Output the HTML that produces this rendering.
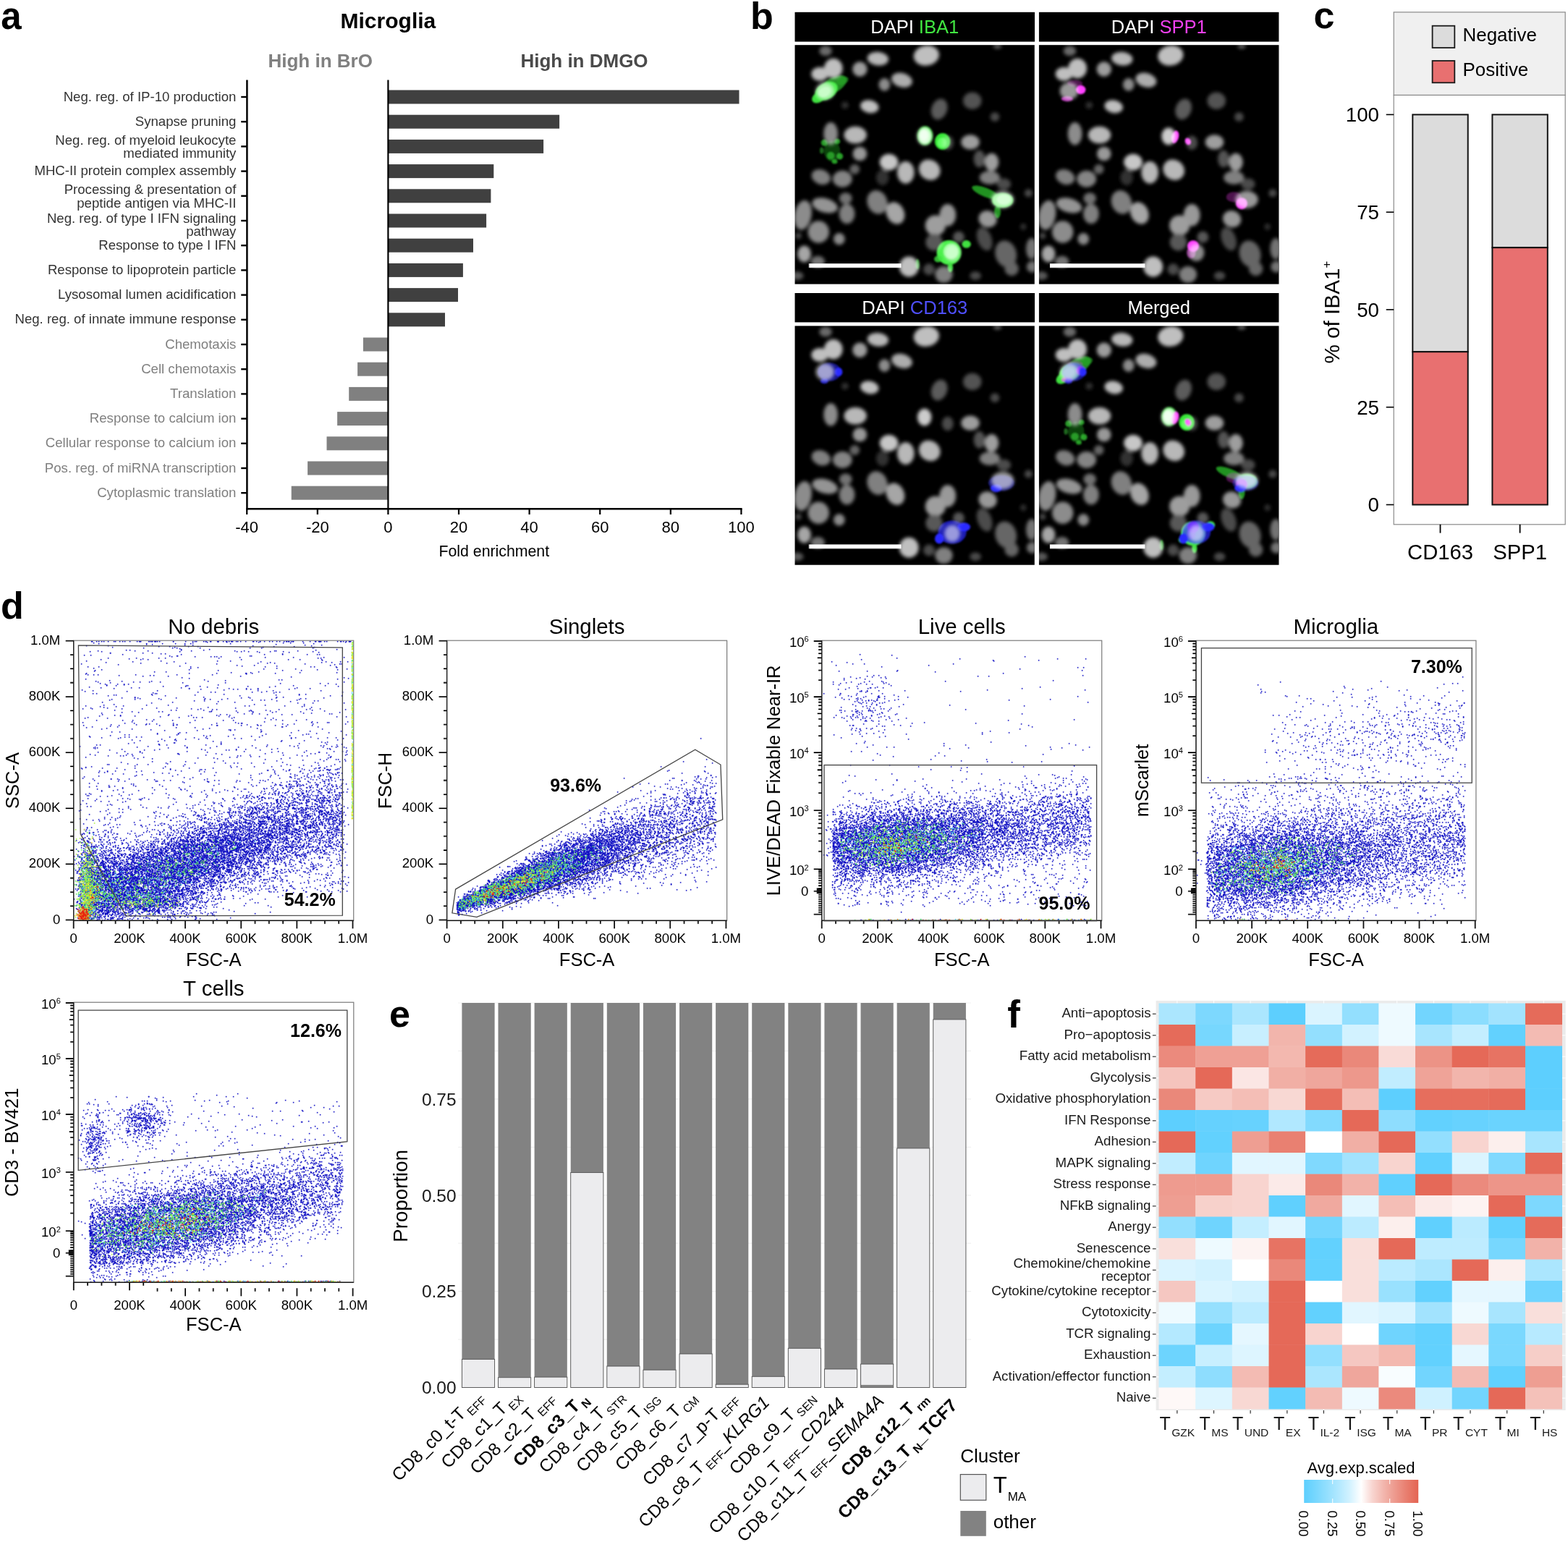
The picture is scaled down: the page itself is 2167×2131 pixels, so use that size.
<!DOCTYPE html>
<html><head><meta charset="utf-8"><title>Figure</title>
<style>html,body{margin:0;padding:0;background:#fff;}svg{display:block;}
text{font-family:'Liberation Sans', Arial, Helvetica, sans-serif;}</style></head>
<body><svg width="2167" height="2131" viewBox="0 0 2167 2131">
<rect width="2167" height="2131" fill="#fff"/>
<text x="1.3" y="40.4" font-size="51" font-weight="bold">a</text>
<text x="1037" y="40" font-size="52" font-weight="bold">b</text>
<text x="1815.5" y="38.7" font-size="52" font-weight="bold">c</text>
<text x="1" y="854.9" font-size="52" font-weight="bold">d</text>
<text x="538" y="1418.6" font-size="52" font-weight="bold">e</text>
<text x="1392.3" y="1419.5" font-size="53" font-weight="bold">f</text>
<g><rect x="536.4" y="124.5" width="485.1" height="19" fill="#404040"/>
<text x="326.4" y="139.6" font-size="18.6" text-anchor="end" fill="#333333">Neg. reg. of IP-10 production</text>
<line x1="333.2" y1="134" x2="341.4" y2="134" stroke="#000" stroke-width="2.4"/>
<rect x="536.4" y="158.7" width="236.7" height="19" fill="#404040"/>
<text x="326.4" y="173.8" font-size="18.6" text-anchor="end" fill="#333333">Synapse pruning</text>
<line x1="333.2" y1="168.2" x2="341.4" y2="168.2" stroke="#000" stroke-width="2.4"/>
<rect x="536.4" y="192.9" width="214.7" height="19" fill="#404040"/>
<text x="326.4" y="199.6" font-size="18.6" text-anchor="end" fill="#333333">Neg. reg. of myeloid leukocyte</text>
<text x="326.4" y="218.2" font-size="18.6" text-anchor="end" fill="#333333">mediated immunity</text>
<line x1="333.2" y1="202.4" x2="341.4" y2="202.4" stroke="#000" stroke-width="2.4"/>
<rect x="536.4" y="227.1" width="145.9" height="19" fill="#404040"/>
<text x="326.4" y="242.2" font-size="18.6" text-anchor="end" fill="#333333">MHC-II protein complex assembly</text>
<line x1="333.2" y1="236.6" x2="341.4" y2="236.6" stroke="#000" stroke-width="2.4"/>
<rect x="536.4" y="261.3" width="142" height="19" fill="#404040"/>
<text x="326.4" y="268" font-size="18.6" text-anchor="end" fill="#333333">Processing &amp; presentation of</text>
<text x="326.4" y="286.6" font-size="18.6" text-anchor="end" fill="#333333">peptide antigen via MHC-II</text>
<line x1="333.2" y1="270.8" x2="341.4" y2="270.8" stroke="#000" stroke-width="2.4"/>
<rect x="536.4" y="295.5" width="135.7" height="19" fill="#404040"/>
<text x="326.4" y="307.8" font-size="18.6" text-anchor="end" fill="#333333">Neg. reg. of type I IFN signaling</text>
<text x="326.4" y="326.4" font-size="18.6" text-anchor="end" fill="#333333">pathway</text>
<line x1="333.2" y1="305" x2="341.4" y2="305" stroke="#000" stroke-width="2.4"/>
<rect x="536.4" y="329.7" width="117.6" height="19" fill="#404040"/>
<text x="326.4" y="344.8" font-size="18.6" text-anchor="end" fill="#333333">Response to type I IFN</text>
<line x1="333.2" y1="339.2" x2="341.4" y2="339.2" stroke="#000" stroke-width="2.4"/>
<rect x="536.4" y="363.9" width="103.5" height="19" fill="#404040"/>
<text x="326.4" y="379" font-size="18.6" text-anchor="end" fill="#333333">Response to lipoprotein particle</text>
<line x1="333.2" y1="373.4" x2="341.4" y2="373.4" stroke="#000" stroke-width="2.4"/>
<rect x="536.4" y="398.1" width="96.6" height="19" fill="#404040"/>
<text x="326.4" y="413.2" font-size="18.6" text-anchor="end" fill="#333333">Lysosomal lumen acidification</text>
<line x1="333.2" y1="407.6" x2="341.4" y2="407.6" stroke="#000" stroke-width="2.4"/>
<rect x="536.4" y="432.3" width="78.6" height="19" fill="#404040"/>
<text x="326.4" y="447.4" font-size="18.6" text-anchor="end" fill="#333333">Neg. reg. of innate immune response</text>
<line x1="333.2" y1="441.8" x2="341.4" y2="441.8" stroke="#000" stroke-width="2.4"/>
<rect x="501.9" y="466.5" width="34.5" height="19" fill="#808080"/>
<text x="326.4" y="481.6" font-size="18.6" text-anchor="end" fill="#808080">Chemotaxis</text>
<line x1="333.2" y1="476" x2="341.4" y2="476" stroke="#000" stroke-width="2.4"/>
<rect x="494.1" y="500.7" width="42.3" height="19" fill="#808080"/>
<text x="326.4" y="515.8" font-size="18.6" text-anchor="end" fill="#808080">Cell chemotaxis</text>
<line x1="333.2" y1="510.2" x2="341.4" y2="510.2" stroke="#000" stroke-width="2.4"/>
<rect x="482.2" y="534.9" width="54.2" height="19" fill="#808080"/>
<text x="326.4" y="550" font-size="18.6" text-anchor="end" fill="#808080">Translation</text>
<line x1="333.2" y1="544.4" x2="341.4" y2="544.4" stroke="#000" stroke-width="2.4"/>
<rect x="466.1" y="569.1" width="70.3" height="19" fill="#808080"/>
<text x="326.4" y="584.2" font-size="18.6" text-anchor="end" fill="#808080">Response to calcium ion</text>
<line x1="333.2" y1="578.6" x2="341.4" y2="578.6" stroke="#000" stroke-width="2.4"/>
<rect x="451.5" y="603.3" width="84.9" height="19" fill="#808080"/>
<text x="326.4" y="618.4" font-size="18.6" text-anchor="end" fill="#808080">Cellular response to calcium ion</text>
<line x1="333.2" y1="612.8" x2="341.4" y2="612.8" stroke="#000" stroke-width="2.4"/>
<rect x="425.1" y="637.5" width="111.3" height="19" fill="#808080"/>
<text x="326.4" y="652.6" font-size="18.6" text-anchor="end" fill="#808080">Pos. reg. of miRNA transcription</text>
<line x1="333.2" y1="647" x2="341.4" y2="647" stroke="#000" stroke-width="2.4"/>
<rect x="402.7" y="671.7" width="133.7" height="19" fill="#808080"/>
<text x="326.4" y="686.8" font-size="18.6" text-anchor="end" fill="#808080">Cytoplasmic translation</text>
<line x1="333.2" y1="681.2" x2="341.4" y2="681.2" stroke="#000" stroke-width="2.4"/>
<line x1="341.4" y1="110.6" x2="341.4" y2="704.5" stroke="#000" stroke-width="2.5"/>
<line x1="536.4" y1="110.6" x2="536.4" y2="703.3" stroke="#000" stroke-width="2.2"/>
<line x1="340.2" y1="703.3" x2="1025.6" y2="703.3" stroke="#000" stroke-width="2.5"/>
<line x1="341.2" y1="703.3" x2="341.2" y2="711" stroke="#000" stroke-width="2.2"/>
<text x="341.2" y="736.2" font-size="22" text-anchor="middle">-40</text>
<line x1="438.8" y1="703.3" x2="438.8" y2="711" stroke="#000" stroke-width="2.2"/>
<text x="438.8" y="736.2" font-size="22" text-anchor="middle">-20</text>
<line x1="536.4" y1="703.3" x2="536.4" y2="711" stroke="#000" stroke-width="2.2"/>
<text x="536.4" y="736.2" font-size="22" text-anchor="middle">0</text>
<line x1="634" y1="703.3" x2="634" y2="711" stroke="#000" stroke-width="2.2"/>
<text x="634" y="736.2" font-size="22" text-anchor="middle">20</text>
<line x1="731.6" y1="703.3" x2="731.6" y2="711" stroke="#000" stroke-width="2.2"/>
<text x="731.6" y="736.2" font-size="22" text-anchor="middle">40</text>
<line x1="829.2" y1="703.3" x2="829.2" y2="711" stroke="#000" stroke-width="2.2"/>
<text x="829.2" y="736.2" font-size="22" text-anchor="middle">60</text>
<line x1="926.8" y1="703.3" x2="926.8" y2="711" stroke="#000" stroke-width="2.2"/>
<text x="926.8" y="736.2" font-size="22" text-anchor="middle">80</text>
<line x1="1024.4" y1="703.3" x2="1024.4" y2="711" stroke="#000" stroke-width="2.2"/>
<text x="1024.4" y="736.2" font-size="22" text-anchor="middle">100</text>
<text x="682.8" y="768.8" font-size="21.3" text-anchor="middle">Fold enrichment</text>
<text x="536.4" y="39" font-size="30" text-anchor="middle" font-weight="bold">Microglia</text>
<text x="442.7" y="93" font-size="26" text-anchor="middle" font-weight="bold" fill="#808080">High in BrO</text>
<text x="807.5" y="93" font-size="26" text-anchor="middle" font-weight="bold" fill="#4a4a4a">High in DMGO</text></g>
<g><defs><filter id="bl2" x="-20%" y="-20%" width="140%" height="140%"><feGaussianBlur stdDeviation="2.6"/></filter><filter id="bl1" x="-30%" y="-30%" width="160%" height="160%"><feGaussianBlur stdDeviation="1.3"/></filter><clipPath id="imclip"><rect x="0" y="0" width="331.5" height="330.5"/></clipPath><g id="nuc" filter="url(#bl2)"><ellipse cx="42.5" cy="8.2" rx="8.8" ry="6.9" fill="#6b6b6b"/><ellipse cx="114.8" cy="18.9" rx="14.7" ry="9.4" fill="#b8b8b8" transform="rotate(5 114.8 18.9)"/><ellipse cx="181.8" cy="14.5" rx="17.7" ry="13.8" fill="#bfbfbf" transform="rotate(-10 181.8 14.5)"/><ellipse cx="53.2" cy="32.3" rx="12.8" ry="13.8" fill="#bfbfbf"/><ellipse cx="34.5" cy="40" rx="11.8" ry="9.4" fill="#bfbfbf"/><ellipse cx="89.8" cy="33.2" rx="10.2" ry="10.2" fill="#9e9e9e"/><ellipse cx="147.9" cy="48.4" rx="14.7" ry="9.8" fill="#adadad" transform="rotate(15 147.9 48.4)"/><ellipse cx="123.8" cy="54.6" rx="7.9" ry="8.8" fill="#8c8c8c"/><ellipse cx="280" cy="2" rx="5.9" ry="2.9" fill="#666666"/><ellipse cx="41.6" cy="63.6" rx="12.8" ry="11.8" fill="#999999"/><ellipse cx="103.2" cy="85" rx="12.8" ry="8.8" fill="#bfbfbf" transform="rotate(10 103.2 85)"/><ellipse cx="199.6" cy="88.6" rx="10.8" ry="14.7" fill="#5c5c5c" transform="rotate(20 199.6 88.6)"/><ellipse cx="245.2" cy="77" rx="12.8" ry="11.8" fill="#525252"/><ellipse cx="276.4" cy="99.3" rx="6.3" ry="6.3" fill="#4c4c4c"/><ellipse cx="69.3" cy="83.2" rx="4.9" ry="4.9" fill="#333333"/><ellipse cx="49.6" cy="122.5" rx="9.8" ry="15.7" fill="#8c8c8c"/><ellipse cx="83.6" cy="124.3" rx="15.7" ry="11.8" fill="#b8b8b8"/><ellipse cx="179.1" cy="126.1" rx="9.8" ry="11.8" fill="#cccccc"/><ellipse cx="211.2" cy="135" rx="7.9" ry="9.8" fill="#4c4c4c"/><ellipse cx="242.5" cy="134.1" rx="12.8" ry="10.2" fill="#9e9e9e"/><ellipse cx="89.8" cy="150.2" rx="9.8" ry="9.8" fill="#999999"/><ellipse cx="130" cy="161.8" rx="12.8" ry="11.4" fill="#c7c7c7"/><ellipse cx="153.2" cy="176.1" rx="11.8" ry="15.3" fill="#b8b8b8"/><ellipse cx="186.2" cy="172.5" rx="15.3" ry="13.8" fill="#b8b8b8" transform="rotate(35 186.2 172.5)"/><ellipse cx="272" cy="161.8" rx="9.8" ry="12.2" fill="#9e9e9e"/><ellipse cx="255" cy="157.3" rx="7.9" ry="11.8" fill="#545454"/><ellipse cx="82.7" cy="171.6" rx="6.9" ry="6.9" fill="#666666"/><ellipse cx="36.2" cy="182.3" rx="13.4" ry="10.2" fill="#808080" transform="rotate(20 36.2 182.3)"/><ellipse cx="65.7" cy="185" rx="13.4" ry="11.4" fill="#858585"/><ellipse cx="269.3" cy="183.2" rx="14.1" ry="9.4" fill="#808080"/><ellipse cx="121.1" cy="183.2" rx="8.8" ry="10.8" fill="#333333"/><ellipse cx="287.1" cy="213.6" rx="15.7" ry="11.8" fill="#999999"/><ellipse cx="288.9" cy="192.1" rx="9.8" ry="7.9" fill="#4c4c4c"/><ellipse cx="113.9" cy="217.1" rx="13.8" ry="16.7" fill="#808080" transform="rotate(-20 113.9 217.1)"/><ellipse cx="41.6" cy="221.6" rx="18.1" ry="9.8" fill="#949494" transform="rotate(15 41.6 221.6)"/><ellipse cx="70.2" cy="211.8" rx="8.8" ry="7.9" fill="#737373"/><ellipse cx="72" cy="233.2" rx="10.8" ry="13.8" fill="#808080"/><ellipse cx="138.9" cy="232.3" rx="12.2" ry="15.7" fill="#a6a6a6" transform="rotate(-25 138.9 232.3)"/><ellipse cx="11.2" cy="235" rx="11.8" ry="20.6" fill="#8c8c8c" transform="rotate(10 11.2 235)"/><ellipse cx="211.2" cy="235" rx="11.4" ry="15.3" fill="#999999"/><ellipse cx="194.3" cy="249.3" rx="14.1" ry="14.1" fill="#9e9e9e"/><ellipse cx="266.6" cy="240.4" rx="12.8" ry="11.4" fill="#999999" transform="rotate(20 266.6 240.4)"/><ellipse cx="32.7" cy="258.2" rx="14.7" ry="15.3" fill="#8c8c8c"/><ellipse cx="61.3" cy="268" rx="7.9" ry="8.3" fill="#8c8c8c"/><ellipse cx="226.4" cy="265.4" rx="7.9" ry="7.9" fill="#595959"/><ellipse cx="262.1" cy="268" rx="9.8" ry="16.7" fill="#4c4c4c" transform="rotate(-20 262.1 268)"/><ellipse cx="217.5" cy="286.8" rx="10.8" ry="11.8" fill="#8c8c8c"/><ellipse cx="192.5" cy="272.5" rx="11.8" ry="11.8" fill="#595959"/><ellipse cx="13" cy="288.6" rx="9.4" ry="11.4" fill="#a6a6a6"/><ellipse cx="31.8" cy="299.3" rx="9.8" ry="7.9" fill="#737373"/><ellipse cx="157.7" cy="306.4" rx="13.4" ry="14.1" fill="#bfbfbf"/><ellipse cx="205.9" cy="317.1" rx="12.2" ry="11.4" fill="#808080"/><ellipse cx="291.6" cy="288.6" rx="14.7" ry="18.7" fill="#666666" transform="rotate(-15 291.6 288.6)"/><ellipse cx="327.3" cy="281.4" rx="7.9" ry="14.7" fill="#737373"/><ellipse cx="328.2" cy="306.4" rx="7.9" ry="7.9" fill="#737373"/><ellipse cx="299.6" cy="309.1" rx="9.8" ry="9.8" fill="#666666"/><ellipse cx="322.9" cy="204.6" rx="5.5" ry="5.5" fill="#4c4c4c"/><ellipse cx="315.7" cy="251.1" rx="4.3" ry="4.3" fill="#333333"/><ellipse cx="5" cy="263.6" rx="4.3" ry="4.3" fill="#4c4c4c"/><ellipse cx="185.4" cy="310" rx="7.9" ry="7.9" fill="#4c4c4c"/><ellipse cx="3.2" cy="318.9" rx="8.8" ry="5.9" fill="#595959"/><ellipse cx="249.6" cy="318.9" rx="7.9" ry="5.9" fill="#4c4c4c"/></g></defs>
<rect x="1098.5" y="16.8" width="331.5" height="40.8" fill="#000"/>
<text x="1264.2" y="46.2" font-size="25.5" text-anchor="middle" fill="#fff">DAPI <tspan fill="#41e641">IBA1</tspan></text>
<g transform="translate(1098.5 62.2)" clip-path="url(#imclip)">
<rect x="0" y="0" width="331.5" height="330.5" fill="#000"/>
<use href="#nuc"/>
<g filter="url(#bl1)" style="mix-blend-mode:screen"><ellipse cx="53.2" cy="55.5" rx="20.5" ry="10.4" fill="#2cb82c" transform="rotate(-30 53.2 55.5)" opacity="0.75"/><ellipse cx="65.7" cy="49.3" rx="8.9" ry="5.4" fill="#2aa82a" transform="rotate(-20 65.7 49.3)" opacity="0.6"/><ellipse cx="32.7" cy="72.5" rx="9.8" ry="6.8" fill="#40e040" transform="rotate(-30 32.7 72.5)"/><ellipse cx="43.4" cy="63.6" rx="17" ry="11.4" fill="#48ec48" transform="rotate(-30 43.4 63.6)"/><ellipse cx="40.7" cy="65" rx="8.9" ry="6.4" fill="#78fa78" transform="rotate(-30 40.7 65)"/><ellipse cx="180" cy="125.2" rx="11.1" ry="13.4" fill="#30d830" opacity="0.7"/><ellipse cx="180" cy="125.2" rx="8.9" ry="11.1" fill="#7cff7c"/><ellipse cx="178.2" cy="124.3" rx="5.4" ry="6.8" fill="#b0ffb0"/><ellipse cx="204.1" cy="133.2" rx="10.7" ry="11.4" fill="#38e838"/><ellipse cx="203.2" cy="135" rx="6.4" ry="7.1" fill="#60ff60"/><ellipse cx="51.4" cy="146.6" rx="11.1" ry="14.3" fill="#1a7a1a" opacity="0.55"/><ellipse cx="40.7" cy="135" rx="4.5" ry="4.5" fill="#30c030" opacity="0.8"/><ellipse cx="58.6" cy="133.2" rx="3.9" ry="3.6" fill="#30c030" opacity="0.8"/><ellipse cx="49.6" cy="152.9" rx="5.4" ry="5.4" fill="#30c030" opacity="0.7"/><ellipse cx="62.1" cy="153.8" rx="4.5" ry="4.5" fill="#34c834" opacity="0.8"/><ellipse cx="55" cy="160.9" rx="3.9" ry="3.2" fill="#30c030" opacity="0.8"/><ellipse cx="37.1" cy="145.7" rx="2.7" ry="4.5" fill="#30b030" opacity="0.6"/><ellipse cx="263.9" cy="203.8" rx="20.5" ry="6.2" fill="#30d030" transform="rotate(22 263.9 203.8)" opacity="0.7"/><ellipse cx="280" cy="230.5" rx="4.5" ry="8.9" fill="#30d030" opacity="0.7"/><ellipse cx="287.1" cy="214.5" rx="14.6" ry="10.2" fill="#5cf55c"/><ellipse cx="288.9" cy="213.6" rx="9.8" ry="7.1" fill="#9cff9c"/><ellipse cx="213" cy="286.8" rx="17" ry="17" fill="#48f048"/><ellipse cx="215.7" cy="285" rx="10.4" ry="10.4" fill="#8cff8c"/><ellipse cx="237.1" cy="275.2" rx="6.2" ry="5.4" fill="#40e040"/><ellipse cx="214.8" cy="307.3" rx="3.6" ry="6.8" fill="#40e040"/><ellipse cx="197.9" cy="295.7" rx="5.4" ry="4.5" fill="#40e040" opacity="0.8"/><ellipse cx="169.3" cy="302.9" rx="2.7" ry="7.1" fill="#40d040" opacity="0.8"/></g>
<rect x="19.5" y="302" width="127.5" height="5.8" fill="#fff"/>
</g>
<rect x="1435.9" y="16.8" width="331.5" height="40.8" fill="#000"/>
<text x="1601.7" y="46.2" font-size="25.5" text-anchor="middle" fill="#fff">DAPI <tspan fill="#f040f0">SPP1</tspan></text>
<g transform="translate(1435.9 62.2)" clip-path="url(#imclip)">
<rect x="0" y="0" width="331.5" height="330.5" fill="#000"/>
<use href="#nuc"/>
<g filter="url(#bl1)" style="mix-blend-mode:screen"><ellipse cx="57.7" cy="61.8" rx="6.8" ry="6.2" fill="#ff40ff"/><ellipse cx="38.9" cy="74.3" rx="8" ry="3.6" fill="#ff40ff" opacity="0.7"/><ellipse cx="49.6" cy="52.9" rx="10.7" ry="4.5" fill="#ff40ff" opacity="0.3"/><ellipse cx="188" cy="127" rx="5" ry="8.9" fill="#ff40ff" transform="rotate(15 188 127)"/><ellipse cx="205.9" cy="133.2" rx="3.9" ry="5" fill="#ff40ff" transform="rotate(-30 205.9 133.2)"/><ellipse cx="280" cy="218.9" rx="8" ry="8" fill="#ff40ff"/><ellipse cx="269.3" cy="210" rx="10.7" ry="7.1" fill="#ff40ff" opacity="0.3"/><ellipse cx="213" cy="277.9" rx="8" ry="8" fill="#ff40ff"/><ellipse cx="210.4" cy="286.8" rx="6.2" ry="8" fill="#ff40ff" opacity="0.5"/></g>
<rect x="15" y="302" width="131.5" height="5.8" fill="#fff"/>
</g>
<rect x="1098.5" y="405" width="331.5" height="40.4" fill="#000"/>
<text x="1264.2" y="434.4" font-size="25.5" text-anchor="middle" fill="#fff">DAPI <tspan fill="#4f4fff">CD163</tspan></text>
<g transform="translate(1098.5 450.4)" clip-path="url(#imclip)">
<rect x="0" y="0" width="331.5" height="330.5" fill="#000"/>
<use href="#nuc"/>
<g filter="url(#bl1)" style="mix-blend-mode:screen"><ellipse cx="47.9" cy="63.6" rx="16.1" ry="12.5" fill="#2a2aff" opacity="0.55"/><ellipse cx="60.4" cy="63.6" rx="5.4" ry="6.2" fill="#2a2aff"/><ellipse cx="40.7" cy="76.1" rx="5.4" ry="3.6" fill="#2a2aff" opacity="0.8"/><ellipse cx="285.4" cy="217.1" rx="17.9" ry="10.7" fill="#2a2aff" opacity="0.45"/><ellipse cx="278.2" cy="224.3" rx="8" ry="5.4" fill="#2a2aff"/><ellipse cx="217.5" cy="285" rx="19.6" ry="16.1" fill="#2a2aff" opacity="0.7"/><ellipse cx="233.6" cy="277.9" rx="8.9" ry="6.2" fill="#2a2aff"/><ellipse cx="199.6" cy="293.9" rx="6.2" ry="7.1" fill="#2a2aff"/></g>
<rect x="19.5" y="302" width="127.5" height="5.8" fill="#fff"/>
</g>
<rect x="1435.9" y="405" width="331.5" height="40.4" fill="#000"/>
<text x="1601.7" y="434.4" font-size="25.5" text-anchor="middle" fill="#fff">Merged</text>
<g transform="translate(1435.9 450.4)" clip-path="url(#imclip)">
<rect x="0" y="0" width="331.5" height="330.5" fill="#000"/>
<use href="#nuc"/>
<g filter="url(#bl1)" style="mix-blend-mode:screen"><ellipse cx="53.2" cy="55.5" rx="20.5" ry="10.4" fill="#2cb82c" transform="rotate(-30 53.2 55.5)" opacity="0.75"/><ellipse cx="65.7" cy="49.3" rx="8.9" ry="5.4" fill="#2aa82a" transform="rotate(-20 65.7 49.3)" opacity="0.6"/><ellipse cx="32.7" cy="72.5" rx="9.8" ry="6.8" fill="#40e040" transform="rotate(-30 32.7 72.5)"/><ellipse cx="43.4" cy="63.6" rx="17" ry="11.4" fill="#48ec48" transform="rotate(-30 43.4 63.6)"/><ellipse cx="40.7" cy="65" rx="8.9" ry="6.4" fill="#78fa78" transform="rotate(-30 40.7 65)"/><ellipse cx="180" cy="125.2" rx="11.1" ry="13.4" fill="#30d830" opacity="0.7"/><ellipse cx="180" cy="125.2" rx="8.9" ry="11.1" fill="#7cff7c"/><ellipse cx="178.2" cy="124.3" rx="5.4" ry="6.8" fill="#b0ffb0"/><ellipse cx="204.1" cy="133.2" rx="10.7" ry="11.4" fill="#38e838"/><ellipse cx="203.2" cy="135" rx="6.4" ry="7.1" fill="#60ff60"/><ellipse cx="51.4" cy="146.6" rx="11.1" ry="14.3" fill="#1a7a1a" opacity="0.55"/><ellipse cx="40.7" cy="135" rx="4.5" ry="4.5" fill="#30c030" opacity="0.8"/><ellipse cx="58.6" cy="133.2" rx="3.9" ry="3.6" fill="#30c030" opacity="0.8"/><ellipse cx="49.6" cy="152.9" rx="5.4" ry="5.4" fill="#30c030" opacity="0.7"/><ellipse cx="62.1" cy="153.8" rx="4.5" ry="4.5" fill="#34c834" opacity="0.8"/><ellipse cx="55" cy="160.9" rx="3.9" ry="3.2" fill="#30c030" opacity="0.8"/><ellipse cx="37.1" cy="145.7" rx="2.7" ry="4.5" fill="#30b030" opacity="0.6"/><ellipse cx="263.9" cy="203.8" rx="20.5" ry="6.2" fill="#30d030" transform="rotate(22 263.9 203.8)" opacity="0.7"/><ellipse cx="280" cy="230.5" rx="4.5" ry="8.9" fill="#30d030" opacity="0.7"/><ellipse cx="287.1" cy="214.5" rx="14.6" ry="10.2" fill="#5cf55c"/><ellipse cx="288.9" cy="213.6" rx="9.8" ry="7.1" fill="#9cff9c"/><ellipse cx="213" cy="286.8" rx="17" ry="17" fill="#48f048"/><ellipse cx="215.7" cy="285" rx="10.4" ry="10.4" fill="#8cff8c"/><ellipse cx="237.1" cy="275.2" rx="6.2" ry="5.4" fill="#40e040"/><ellipse cx="214.8" cy="307.3" rx="3.6" ry="6.8" fill="#40e040"/><ellipse cx="197.9" cy="295.7" rx="5.4" ry="4.5" fill="#40e040" opacity="0.8"/><ellipse cx="169.3" cy="302.9" rx="2.7" ry="7.1" fill="#40d040" opacity="0.8"/><ellipse cx="57.7" cy="61.8" rx="6.8" ry="6.2" fill="#ff40ff"/><ellipse cx="38.9" cy="74.3" rx="8" ry="3.6" fill="#ff40ff" opacity="0.7"/><ellipse cx="49.6" cy="52.9" rx="10.7" ry="4.5" fill="#ff40ff" opacity="0.3"/><ellipse cx="188" cy="127" rx="5" ry="8.9" fill="#ff40ff" transform="rotate(15 188 127)"/><ellipse cx="205.9" cy="133.2" rx="3.9" ry="5" fill="#ff40ff" transform="rotate(-30 205.9 133.2)"/><ellipse cx="280" cy="218.9" rx="8" ry="8" fill="#ff40ff"/><ellipse cx="269.3" cy="210" rx="10.7" ry="7.1" fill="#ff40ff" opacity="0.3"/><ellipse cx="213" cy="277.9" rx="8" ry="8" fill="#ff40ff"/><ellipse cx="210.4" cy="286.8" rx="6.2" ry="8" fill="#ff40ff" opacity="0.5"/><ellipse cx="47.9" cy="63.6" rx="16.1" ry="12.5" fill="#2a2aff" opacity="0.55"/><ellipse cx="60.4" cy="63.6" rx="5.4" ry="6.2" fill="#2a2aff"/><ellipse cx="40.7" cy="76.1" rx="5.4" ry="3.6" fill="#2a2aff" opacity="0.8"/><ellipse cx="285.4" cy="217.1" rx="17.9" ry="10.7" fill="#2a2aff" opacity="0.45"/><ellipse cx="278.2" cy="224.3" rx="8" ry="5.4" fill="#2a2aff"/><ellipse cx="217.5" cy="285" rx="19.6" ry="16.1" fill="#2a2aff" opacity="0.7"/><ellipse cx="233.6" cy="277.9" rx="8.9" ry="6.2" fill="#2a2aff"/><ellipse cx="199.6" cy="293.9" rx="6.2" ry="7.1" fill="#2a2aff"/></g>
<rect x="15" y="302" width="131.5" height="5.8" fill="#fff"/>
</g></g>
<g><rect x="1926.2" y="16.8" width="237" height="114.7" fill="#f0f0f0" stroke="#8a8a8a" stroke-width="1.2"/>
<rect x="1926.2" y="131.5" width="237" height="593.3" fill="#ffffff" stroke="#8a8a8a" stroke-width="1.2"/>
<rect x="1979.6" y="35.7" width="30.7" height="30.3" fill="#dcdcdc" stroke="#1a1a1a" stroke-width="1.8"/>
<rect x="1979.6" y="84" width="30.7" height="30.3" fill="#e87070" stroke="#1a1a1a" stroke-width="1.8"/>
<text x="2021.6" y="56.7" font-size="25.9">Negative</text>
<text x="2021.6" y="104.6" font-size="25.9">Positive</text>
<line x1="1915.7" y1="697.5" x2="1926.2" y2="697.5" stroke="#000" stroke-width="1.6"/>
<text x="1906" y="707.4" font-size="27.7" text-anchor="end">0</text>
<line x1="1915.7" y1="562.7" x2="1926.2" y2="562.7" stroke="#000" stroke-width="1.6"/>
<text x="1906" y="572.6" font-size="27.7" text-anchor="end">25</text>
<line x1="1915.7" y1="427.9" x2="1926.2" y2="427.9" stroke="#000" stroke-width="1.6"/>
<text x="1906" y="437.8" font-size="27.7" text-anchor="end">50</text>
<line x1="1915.7" y1="293.2" x2="1926.2" y2="293.2" stroke="#000" stroke-width="1.6"/>
<text x="1906" y="303.1" font-size="27.7" text-anchor="end">75</text>
<line x1="1915.7" y1="158.4" x2="1926.2" y2="158.4" stroke="#000" stroke-width="1.6"/>
<text x="1906" y="168.3" font-size="27.7" text-anchor="end">100</text>
<rect x="1952.3" y="158.4" width="76.4" height="327.8" fill="#dcdcdc" stroke="#111" stroke-width="2"/>
<rect x="1952.3" y="486.2" width="76.4" height="211.3" fill="#e87070" stroke="#111" stroke-width="2"/>
<rect x="2062.4" y="158.4" width="76.4" height="183.8" fill="#dcdcdc" stroke="#111" stroke-width="2"/>
<rect x="2062.4" y="342.2" width="76.4" height="355.3" fill="#e87070" stroke="#111" stroke-width="2"/>
<line x1="1990.5" y1="724.8" x2="1990.5" y2="736.6" stroke="#000" stroke-width="1.8"/>
<text x="1990.5" y="773" font-size="29.2" text-anchor="middle">CD163</text>
<line x1="2100.6" y1="724.8" x2="2100.6" y2="736.6" stroke="#000" stroke-width="1.8"/>
<text x="2100.6" y="773" font-size="29.2" text-anchor="middle">SPP1</text>
<text transform="translate(1851.4 431.6) rotate(-90)" font-size="29.7" text-anchor="middle">% of IBA1<tspan font-size="17" dy="-12">+</tspan></text></g>
<g><defs><marker id="mk0" markerUnits="userSpaceOnUse" markerWidth="3" markerHeight="3" refX="0" refY="0" overflow="visible"><rect x="-0.2" y="-0.2" width="1.6" height="1.6" fill="#1212c4"/></marker><marker id="mk1" markerUnits="userSpaceOnUse" markerWidth="3" markerHeight="3" refX="0" refY="0" overflow="visible"><rect x="-0.2" y="-0.2" width="1.6" height="1.6" fill="#60d8f0"/></marker><marker id="mk2" markerUnits="userSpaceOnUse" markerWidth="3" markerHeight="3" refX="0" refY="0" overflow="visible"><rect x="-0.2" y="-0.2" width="1.6" height="1.6" fill="#5ee85e"/></marker><marker id="mk3" markerUnits="userSpaceOnUse" markerWidth="3" markerHeight="3" refX="0" refY="0" overflow="visible"><rect x="-0.2" y="-0.2" width="1.6" height="1.6" fill="#a8f040"/></marker><marker id="mk4" markerUnits="userSpaceOnUse" markerWidth="3" markerHeight="3" refX="0" refY="0" overflow="visible"><rect x="-0.2" y="-0.2" width="1.6" height="1.6" fill="#f0e830"/></marker><marker id="mk5" markerUnits="userSpaceOnUse" markerWidth="3" markerHeight="3" refX="0" refY="0" overflow="visible"><rect x="-0.2" y="-0.2" width="1.6" height="1.6" fill="#f09020"/></marker><marker id="mk6" markerUnits="userSpaceOnUse" markerWidth="3" markerHeight="3" refX="0" refY="0" overflow="visible"><rect x="-0.2" y="-0.2" width="1.6" height="1.6" fill="#e82010"/></marker></defs>
<path d="m484 886-1 0-1 0 0 0-4 0-1 1-3-1-3 0-1 0-4 0-15 0-3 0-5 0-1 0-1 0 0 0-1 0-4 0-1 0-7 0-10 0-13 0-1 0-2 0-3 0-1 0-2 0-1 0-3 0-6 0-4 0-6 0-4 0-7 0-6 0 0 0-2 1-3-1-4 0-1 0-10 0-7 0-4 0-2 0-5 0-1 0-1 0-3 0-3 0 0 1-1-1-4 0-7 0 0 0 0 0-1 0-9 0-1 0-4 1-2-1 0 0-3 0-10 0-2 0-3 0-10 0-17 0 0 0-19 0-3 0-2 0-1 0-1 0-3 0-1 0-2 0-2 0-11 0-1 0-1 0-3 0-10 0-7 0-3 0-4 0-6 0-2 0-8 0-6 0-3 0-4 0-3 0-6 0-1 0 3 2 7 1 66 1 0-1 8 1 14-1 18 0 13 0 0 2 8-2 3 2 0-3 52 1 63 1 10-2 10 0 18 0 2 3 12-2 11 2-10 3-2 1-2-3-24 1-28 0-15 1-2 1-12-3-4 3-69 0-3-2-13 0-16 2-3-1-3 1-4-2-15 0-21 2-43-1-6-2-30 0 16 7 39-1 5 0 7 1 18 0 44-3 2 2 0-1 14 2 17-1 8-1 35 2 13 0 42 0 2 0 30 0 25-1 29-1-25 4-8-1-33 1-8-1-1 3-17-3-15 1-3-1-12 0-10 0-6 0-79 0-20 3-6 0-12-1-13 0-45 0 0 0-12-2-16 0-8 5 9 0 44-1 65 2 3 1 7-1 1 0 5-2 19 3 22 0 5 0 3 0 6 0 40-1 2 0 18-2 25 0 34 0 14 0 3 0 34 4-28 0-3 3-1-2-4 0-25 2-9-3-7 3-32-3-33 3-2-3-29 1-74 0-9 0-15 2-7-1-3 1-6-2-10 1-29-1-10 2-20 2 27 2 37-1 39-1 18 1 60-1 18 0 42 1 13 1 71 0 1-3 5 2 8 1 12-1 10 0-9 3-2 0-7 1-6 1-35-2-42-1-10 0-13 0-5 3-24 0-28-2-43-1-26 0-36 0-31 2-51-1 9 4 8 2 7-2 112-1 15 1 0 2 10-1 61-2 32 1 16 2 0-3 47 1 5 0 30 0 1 1 14 2-13 1-28 0-22 1-8-2-18 2-26-2-63 2-40-1-121 0-9 1-1 1-12 4 1-1 94-2 16 0 32 2 38 0 20-1 20 1 1 1 0-1 6-1 2 1 9-2 23 2 34-1 51 0-63 6-70-1-39-2-49 0-12 2-20-1-5 0-10 1-10-2-23 1-29-1-6 0-8 0-3 6 133-2 10 1 21 2 103 0 4 0 77-1 9-2 6 1-6 5-164-2 0 3-24-2-35 2-31-1-12-1-3 1-13 0-9 0-16-1-16 2-1-3-16 2-3-1 6 3 7 1 2 1 0 1 13 0 2-2 9 0 0 1 6-1 80 2 2 0 42-1 86-2 18 3 37-3 7 3 4-3 11 1 3 3-39 3-18-1-3 1-27-3-8 1-16 2-14-3-2 3-24 0-16-1-14-1-10-1-15 3 0 0-5-3-6 2-25-2-33 2-11 0-24 1-18-1-16-1-10 4 4 2 11-1 47 1 42-1 60-2 32 1 13-1 6 0 12 0 6 0 10 0 0 2 12 1 9-1 22-2 44 2 30 2-51 3-9 0-27-3-5 0-3 1-17-1-13 0-39 3-12-3-6 0-18 0-57 2-2 0-3-1-2 2-76-1-5 0 21 3 8-1 3 0 26 3 24-3 18 1 41-1 12 3 50-2 12 2 38-3 1 3 9 0 22-3 43 1 16 0-25 3-25 1-7 0-2 1-3 1-29-3-6 2-10 1-5 0-12 0-3-3-12 0-19 1-8 1-16 0-7-1-1 1-39-2-21 2-3-1-26 0-3-1-4 2 0-2-18 0-14 2-3 1-10 3 68 1 29-1 30-2 14 0 19 1 23 1 58-2 19 1 10 2 21 0 2-3 5 0 36 3-55 2 0 2-27 0-27-1-15-1-7 2-6 0-39-3-67 2-30 0-32 1-13-2-14 1-25 1-4 4 11-1 2 1 11-3 5 1 5 1 12-2 8 3 28 0 20-1 28 0 20 1 13 0 10-2 38 1 92-2 11 3 2-2 12 2 35 1-29 2-17-1-8-1-8 3-30-3-4 3-8-1-6-1-18 2-2-1-1-1-2 1-18 0-27-2-6 0-1 2-1 1-2 0-8-2-8-1-30 1-7 0-12 2-5 0-37 0-24-2-18 4 1 2 27-3 23 0 42 3 71 0 9 0 15-3 9 2 11 0 1-2 9 2 11 1 7-3 13 3 14 0 16-2 11 0 25 1 3 0 11-2 9 6-13 0-142 1-6-3-1 2-14-1-3-1-20 3-8 0-4 0-3-3-4 1-13 2-15-3-11 2-35-1-20 0 0-1-8 0-21 1-16 2-4 1 16 3 15-3 21 3 14 0 19-1 10 0 26 1 31 0 39 0 12-3 2 3 44-3 8 2 3-2 4 2 9 1 19 0 14-1 57 3-26 1-2 0-14 0-7-1-1 1-65-1-31 2-1 0-4 0-4-1-26 1-37-1-23 1-29-3-25 3-3-2-10 2-58-1 1 4 37 1 1-2 11 1 24-1 13 0 1-1 4 0 10 0 4 2 19-1 0 1 5-1 0 0 48 0 7 1 1 0 33 0 8-1 14 0 1 1 4 0 20 0 10-2 5 3 2-2 9-1 25 2 1-2 45 0-32 7-6-3-49 0-1 0-34 2-9-2-57 2-9 1-11-2-26 0-61 2-20-3-15 2-7 1-13-3-8 1 35 6 11 0 43-3 19 1 45 0 44-1 2 1 0-1 6 0 36 3 0-3 1 2 51-1 16 1 43 0 7 5-24-3-17 1-11 1-3 0-5 1-16-3-35 2-45 1-65-3-9 0-2 2 0-1-2 2-27-1 0-1-39 2-6 0-49 2 1 1 16 1 12-3 14 3 6-1 6 0 10 0 7 0 39 0 34 1 13-3 3 3 1-2 5-1 25 1 32 0 11 1 4-2 38 0 2 3 6 0 21-1 23 1 12 0 10 1-8 2-27-2-19 3-18-3-13 3-37-1-19-2-9 0-38 0-12 1-18 0-13 2-1-2-1 1-14 1-4-2-30 2-11-1-19-2 14 7 8-1 33-2 22 2 1 0 53-2 11 1 0 2 83-3 25 3 31-2 5 1 3-1 20 3-6 3-1-2-7 2-7-3-4 2-4 0-32 0-5 1-6-1-31-1-1 2-20-1-43-2-6 3-15-2-29 1-25-1-10 0-1-1 0 0-15 3-66-2-5 0-23 2 19 2 2-1 0 2 3-1 34 2 21-3 31 3 12-2 26 0 0-1 20 3 12-2 36 2 3-3 10 3 14-2 22 2 8-1 29-1 34-1 6 2 3 0 1 1 8-3 11 0 3 1 1 4-1 2-5-1-12 0-20 1-1 0-17-2-3 2-36-1-9 1-16-3-22 2-11-2-10 0-4 0-26 3-3-3-25 2-45-2-14 0-6 3 0-1-21 0-21-2-16 3-11 3 7 1 30-3 13 3 2-2 6 1 14-2 49 1 1 0 1 1 37 1 14-2 8 1 39 1 21-2 24-1 1 3 19 0 19-2 6 0 16-1 3 3 23 0 2-1-22 3-1 1 0 0-3 1-29-3-7 0-17 3-42-2-12 0-14-1-4 0-1 2-10 0-22 1-22 0-75-1-13 1-2-3-13 0-4 0-17 0-31 2 72 2 20 0 90 0 8 3 58-2 16 2 6-3 30 2 24-1 5 2 4-2 13 0 3 0 9 0 1 2-8 1-30 2-4-1-45 0-26 1-17 0-19 0-5 0-12 0-15-1-27 1-13-2-21 0-4 3-2-1-19-2-34 3-9-2-41 6 22-3 2 0 36 2 3-2 15 0 24 3 25-1 2-2 63 2 9 1 24 0 24 0 13-1 8-2 5 1 18 0 11 1 10-1 11 2 6-1 5-2 8 4-2 2-2 0-1 1-2 0-7 0-3 0-1 0-1 0-3-2 0 0-6-1-1 1-1 0-4 0-2 1-14 1-3-1-4-2-13 3-9 0-14 0-44-1-14-2-25 1-11 2-5 0-2 0-15-2-26 2 0-1-10-1-39 0-14 2-11-2-20 0-23-1 0 0-5 2-1-1 24 6 1-2 7 2 4-2 0 1 11-1 29 1 7-1 17 2 30-3 8 1 25 0 7 1 16 1 71-3 1 0 9 3 0-2 16 0 4-1 0 0 15 2 1-1 12-1 2 3 3-2 7 0 2 0 1-1 4 0 6 3 2-3 1 3 0-3 11 3 2 0 4 1-4 3-2-3-2 2-1-1-3 1-1-1-2-1-4 1-7 1 0 1-3 0-2-1-7 1-9-2-1 2-6-3-8 3-3-1-6-1-17 2-4-2-6 2-13-3-3 1-12 2-16-2-34 2-19-2-32 1-12-2-9 0-28 2-8 1-18-2-15 0-41 6 2-2 20-1 50 0 52 0 16 2 12 0 80 0 27-1 13 2 14-2 1 0 1 1 5 1 0-3 9 2 4-2 4 1 2 1 4-1 4 0 5 0 2 2 1-3 9 1 3-1 2 2 0 0 2 0 4 1 5-1 6 3 0 0 0 0-3 0-7 2-5-1-1-2-3 3 0-2-1 0-3 0-2 2-2 0-1-2-8 0-5 0-3-1-4 3-4-3-7 3 0 0-1-3-2 0-2 3-2 0-2 0-5 0-30-2-4 2-3-1-4 0-11-1-17 2-4-1-25 0-6 0-10-2 0 3-4-2-20-1-27 2-9 0-9 1-2 0 0 0-2-2-10 0-25-1-6 3-8-2-1 2-1-3-9 0 0 0-23 2-2-2-5 6 12 0 46 1 3 0 68-3 2 1 33-1 1 0 14 3 24-3 17 1 15 0 18 0 4 2 8-2 8-1 3 3 1 0 9-1 1-1 0-1 2 3 11 0 3-3 2 1 7 0 2 2 5-2 6-1 0 2 5 1 2-1 17 1 1-1 5 1-7 2-2 2-4-1-1-2 0 2-4 0-1 1-1-3 0 1-4-1-2 2-3-1-2 1-8-2 0 0-1 3 0 0 0-2-2-1-6 1-1 2-2-1-8-1-1-1-2 1-2-1 0 2-3-1-1-1 0 2 0 0-4 0-2 0-2-2 0 3-1-1-2-2 0 3-3 0-1-1 0-1-6 0-2 0 0-1-1 0-5 0-2 1-5 1-20-1-5 1-2-2-24 3-28-2-33 1-38 0-4-2-33 2-3-1-26 1-7 1-1 0 0-2-17 1-10 1 11 3 28 1 7-3 0 1 41-1 3 3 16-1 18-2 2 2 1 1 5-1 38 0 17 1 14-3 4 2 9 0 2 0 25-1 1 1 3-1 7 0 2 2 0-3 6 2 7-2 1 1 7 1 2-1 1-1 3 1 10 0 2 1 7-2 1 0 4 0 0 0 1 3 3-3 5 3 4-1 3-1 0 1 0-1 5 2 2-3 2 2 3-1 0 2 2 0 4 0 3-2 1 0 5 0 9 1-1 4-5 0-2 1-1 0-2 0-1 0-6-2 0 1-4 1-3-2 0 2-1 0-1-1 0 1 0-1-2-2-7 3-2-1-1-1-1 0-1 2 0-3-6 1-2 1-4-2-1 2-3-1 0-1 0 2-5-2 0 3-2-1-2-2-4 0-2 1-6 2-3-3-1 1-1 1-2 1-1 0-4 0-5-1 0 0-4-2-1 1-2 1-6 1-7-2-4 0-1 2-17-1-10-1-12 0-7-1-11 2-5 1-5-3-11 0-4 2-20-2-67 0-21 2-14-2-16 1 0-1-22 5 2 2 2 0 1-3 2 1 29 2 10-2 3 2 11-1 4-1 28-1 19 0 4 2 30 1 2-3 19 1 2 2 42-1 8 1 4 0 1 0 4-1 2-2 11 3 6-2 2-1 5 1 5 0 0 0 3-1 1 2 0-2 4 0 0 2 1-2 3 3 1 0 4-3 3 2 8-2 0 2 5-2 1 1 1 1 1 1 0-2 1 0 2 2 2-2 0-1 1 0 1 0 0 3 2 0 3-2 1 0 0 2 3 0 2-2 2 2 3 0 2 0 2-1 0 1 3-3 2 1 2 2 1 0 5 0 7-1 4 0 1 0 0 1 2-1 2 1 1-2 1 2 0 0 2 3-4-1 0 2-3-2-2 2-2-2-5 0-1-1-1 2 0 0-3 1-2-1-1 0 0-1 0 1-2 0 0 0-1 0-2 0-1 1 0-1-4-1-1 2 0-2-9 1-1-1-2 0-2-1-2 1-1 0 0 2-1-3-1 2-5-2-2 2-1 0-3 1-1 0-2-1-1-2-4 1-5 1-1-1-2-1-1 1 0-1-4 1-9 2-3-1-3 1 0-1-5 1-1-1-2-1-1 0 0 0-1 1 0 0-3 1-2-2-1-1 0 1-4 1-1-1-2-1-1 3-3-3-2 2-2-1 0 1-2 1-3-2-3 1-9 0-1 1-15 0-22-2-21 0-2-1-23 3-7-1-33 0-3 1-20 0-7 0-21-3-10 0-17 3-7 3 17 0 2-2 6 3 11 0 12-2 11 2 6-3 13 0 2 0 0 1 11-1 36 0 41 1 26-1 2 2 11 1 3-3 13 3 5 0 2-1 2 1 9 0 2-3 2 3 2-2 1 0 19 0 1 1 0 1 0 0 0 0 0-2 1 2 0-3 0 1 4 1 1-1 1-1 2 2 2-2 4 0 1 2 0 0 5 0 2-1 1 2 1-3 1 3 5-3 1 1 1 0 3 0 1 0 4 1 0-1 1 2 0-2 2 2 0-2 0-1 1 3 3-3 2 0 2 1 1 0 0 1 1-1 1 2 1 0 1-3 1 2 0-2 1 2 3-1 0 2 1-1 1-1 0 2 1 0 0-3 1 2 0 0 3 0 1-1 1 1 0 0 1 1 0 0 0-1 1 0 1-1 3 2 1-3 2 2 1 1 0-3 1 0 2 1 0-1 1 0 6 0-4 6-1 0-3-2-1 3-8-3-1 1-4 0-1 1-4-1-2 0 0 1-2-1 0 0-1-1-4 3 0 0-2 0 0-1-4-1 0 2-6-3-2 2 0-2-1 1-5 1-1-1-1 1-2-1 0 2-2-2-1-1-2 0-3 0-1 1-2 0-2 1 0 0-4 0 0-1 0 1-1-1-3-1-1 3-2-1-1-2-1 0-2 2-1 0-1-2-1 1-4 1 0 0-3 1-1-2 0 0-5 1 0 0-1 0-1-1-2 0-3 1-3 1-7-2-2 1-3-2 0 0-6 0-1 2-13 1-22-2-3 1-6-1-1 1-1-2-18 0-2 3-17 0-14-3-4 3-70-3-17 3-33-1-8 1 9 3 5 0 23-2 6 0 23 2 17-2 3 3 21 0 15-1 33-1 3-1 14 0 9 1 13-1 1 1 1 1 14-1 2-1 1 3 5 0 2 0 1-2 2 1 1 0 3-2 0 3 7-1 2 1 4 0 1 0 0 0 2-2 1 2 1-3 5 1 2 2 1-1 4-2 2 1 3 2 1-2 3 2 2 0 3 0 0-1 1-1 0-1 1 3 2-1 1-1 0 1 0-2 2 3 4-1 2 0 2 1 1 0 0-3 1 2 0 0 0-2 0 0 1 1 3-1 1 0 0 0 1 3 1-3 1 0 0 0 3 1 6 2 7-3 0 1 1 0 1 0 3 2 2-1 1 0 3 0 0 0 4-2 1 3 0-1 2-1 0 1 1 1 1 0 1 0 0-3 1 2 0-2 1 3 2-2 0 0 6-1 2 1 1 2 1-3 0 0 1 2 5 0 0-1 1 0 0 0 2-1 4 0 4 2 5 2-8 0-1 1-4 2-1-3 0 2-7 1 0 0-1-2-1 2-5-3-1 0-2 3-1 0 0-3-2 0-3 3-3-1-1-1-1-1-2 1-1 0 0 1-3 0-1-1-2 2 0-2-1 0-2 0-1-1-1 0-1 2-1-2 0 3 0-3 0 1 0 0-1 2-2-1 0 1-1-3-1 0 0 2-1 1-1-3 0 3-2-2-1 1 0-1-2-1-1 3-1-2-1 0 0 0-1 0 0 0-1-1 0 0-1 0 0 1 0-1-6 1-1 1-2 1 0 0-2-1 0-1-2 1-2 0-3-1-2 0-1 0-4 0-2 1 0 1-2-1-2 1-2 0-2-3 0 0 0 3-1-2-3-1-2 2-1-2-1 2-1 0 0 1 0-1-2 0 0-2-1 0 0 1-3 0 0 2-1-3 0 2 0-1-1 0-3 1 0-1-1-1 0 0-3 2 0-2-2 2-1 1 0-3-4 2-1 1-3-3-1 0-3 2-2-2-10 1 0 2-2-1 0-2-21 0 0 3-5-1-3-1-7 2-3-1-11-2-4 1-4-1-13 3-13-3-10 0-20 0-22 2-3-2-8 2-5-1-15 1-38 1-2 1 29 1 8-1 5 3 13-1 5 0 43 0 1 1 2-2 6 2 43-3 4 1 2 1 0 1 12-2 7 2 7-2 1-1 1 2 5-2 6 2 5 0 1 0 1 0 1-2 0 2 3 1 2-2 0 1 3 1 0-1 0-1 4 0 1 2 1-2 0 0 1 2 2 0 7-1 0-2 0 0 3 0 2 3 1-1 0 1 1 0 0-3 0 1 0-1 1 0 1 3 1-1 1 0 1 1 0 0 1 0 1-2 0 2 2-3 1 3 0-2 0 0 5 1 1 0 1-1 0 2 3-1 1-2 1 1 1 1 4-2 2 0 1 2 2-1 0 2 2 0 1-1 0-1 1-1 1 1 1-1 1 1 7 1 0 1 2-3 0 3 0 0 2-2 0 1 9-1 0 0 2 1 2 0 2-1 1 2 0-2 2 1 1 0 0-2 0 0 1 3 1 0 0-2 3 2 0-1 0 1 0-1 1 0 2-1 7 0 2 2 0-3 3 0 0 0 0 0 3 1 0 1 1-2 0 3 0-1 0 1 1-3 0 0 1 1 0-1 0 1 1 0 0 1 1-2 0 1 2 2 1 0 2-2 1 1 1 1 1-1 0 1 0-2 1 1 3 0 1-1 0-1 2 1 1 2 3-2 1 2 1-1 2-2 1 3 1-2 1 0 1-1 0 3 0 0 1 0 2-1 2 4-4-1-1 2 0-1-2-2-2 0-1 2-1 0-1 0-1 0-1-2-1 3-2-2-2 0-1 0-1-1-1 1-1 0-2-1-1 2 0 1-1-2-1 1 0-2-1 0-1 3-2-2 0-1-1 0 0 2-1-1-2 0-1 2 0 0-5-1-1-1 0 0-3 2 0-3-2 3-1-3-1 3-1-2 0 1-1 1 0-2 0 1-1 0-1-1-1 0-1 1-1 1-3-1-1 0 0-2-6 3-1-3 0 2 0 1-1-2 0 2 0 0-2 0 0 0-1 0 0-2 0 2-3-1-2-2-1 2-1-1 0 0-2 1-1-1 0 2-1 0-4-1 0-2-1 3-2 0-7 0 0-3-1 0-1 2-1 0-2-1-1 1-5 1 0-1 0-2-2 0 0 0-4 2-2 1-6-1 0-1-5-1-2 1-1-1 0 3-1-3-1 1 0 0-1 2 0 0-1-2-2 0-1 2-1-1-1 0 0 0 0-2-6 2-3 0-5 0-4 0-1 1-2-2 0 2-1-3-10 0-3 0-2 2-5 0-13-1-1-1-1 2-3 1-3 0-1-1-1 0-1 1-3-2-2 1 0 0-12-1-3-1-2 3-3 0-15-1-6-1-11 2-49 0-18-2-25 0-13 6 34 0 0-2 10 0 5 2 3-1 3-1 39-1 10 2 6-2 10 1 0-1 9 2 4-1 9-1 1 0 3 1 3 2 13 0 2-3 3 1 2 1 3 1 0-1 1-1 1 1 4 1 4-2 7 1 3-1 1 2 3-3 5 3 2 0 2-1 3-2 0 1 1 1 3-2 9 2 0-2 2 2 0-1 1-1 2 3 0-1 4-2 0 0 2 0 2 1 0 0 3 2 0-3 2 1 0 1 1-2 2 3 1-2 1 1 2-2 1 1 1-1 1 1 1 2 1-2 1 0 0 1 2-2 0 1 1-1 0 2 1 0 1-2 1 1 1 1 0-2 0 0 1 1 0 1 0-1 1 1 0-1 0 1 0 0 1-1 0-1 0 1 1 2 0 0 1 0 0 0 1-2 3-1 0 2 1 1 0-3 0 1 1 2 4-3 0 3 0-1 3-1 0 1 2-2 1 0 2 1 0 0 3 1 0 0 1 0 1 1 3-1 3-2 1 3 0-2 5 0 1 0 0 1 0 1 1-3 1 3 5-3 2 1 1 0 1 1 1-1 0-1 2 3 0-2 1 2 0-3 2 3 1-2 0-1 0 0 4 3 0-1 4 1 1-2 2-1 1 1 0 2 0-1 1-1 5-1 1 1 0 2 2-1 2 1 0 0 0-3 2 3 2 0 0-2 0 0 1-1 0 1 1-1 0 3 1-3 1 2 1-1 0 1 1-1 2 0 0 1 0-1 2 2 1-3 2 0 0 0 1 3 0 0 2-3 1 2 0-1 3 5-2 0-1-1-1 2-1 0-1-1-1-1-3-1-1 1 0 0-1 1-1-1-1 1-1 0-1 1 0-3 0 0-4 0-1 2-1-2 0 3 0-2-3 0 0 1 0-2-4 0 0 3-3 0 0 0-1-3 0 1-2 0-4 0-1 1 0-1-2 1-1 1-2-3 0 0-1 3-5 0-2-3-1 3-1-1-1 0 0-2 0 0 0 0-1 2-1-1-1 2 0-1 0 1-2-1 0 1-3 0-1-1 0 0 0-1 0 2-1 0-4-3-1 1-1 1 0 1-1-3-1 0-2 0 0 0 0 3-1-2-1 0 0 1-1 0-1 0 0 0-2 1 0-3 0 3-3-3-1 0-2 3-1-3-1 2 0-1 0 0 0 0-2 2-1-1 0-2-2 3 0-1-1-1-2 2 0-2 0 0-1 1-1-2 0 2-1-2-3 3 0-3 0 0-1 0 0 0-2 3-2-1-1 1-1 0 0-1 0 0-1-2 0 3-1 0 0-1-1 1-1 0 0 0-1 0 0-1 0 1-1 0-1-1 0-2 0 2-6-2-2 3 0 0 0 0 0-3-2 2-2-1 0 1-2-1-2 0-2-1 0 1 0 2 0-3 0 1-1 2 0 0-1-3-4 3-2-2-1 2 0-2-3-1 0 3-1 0-2-1-3 0-6 0 0 1-1-2-3-1 0 1-5-1-3 2 0 0-2 1 0-1-1-1 0 0-4-1-5 0-4 0-2 3-3 0-4-3 0 1-1 0-2-1-7 3-6 0-3 0-5-1-6 0-4 1-8-2-1 0-22 2-20-2-34 0-7-1-15 2-1-2-8 1-9-1-4 6 30 1 4 0 2-2 10 2 4 0 20-3 1 3 20 0 15-1 2-1 3 1 1 0 5 1 16 0 7 0 1-2 3 0 0 2 3-3 1 2 1-1 2-1 2 3 1-3 13 0 1 0 2 1 2 2 1-2 1 1 1-2 2 2 1-1 0 1 4-1 5 2 1-1 2 0 1 1 2-3 0 3 1-1 0 0 1 0 0-2 2 2 0 1 1-3 3 1 0-1 1 3 1-2 1 0 0 2 2 0 1 0 1-3 1 1 1 0 1 0 0 0 1 0 0 1 0 0 3-2 1 1 1 0 1 0 1 2 2-3 0 0 2 0 1 1 1-1 0 1 2 2 0-2 1 1 0-1 1 0 1 1 0 0 0-2 1 2 1 1 1-2 2 2 1-2 0-1 1 2 2 1 2-2 1 1 0-1 1 2 0 0 1 0 0-3 1 2 0-1 0 2 1-1 0 1 1-2 1 1 1-1 1 2 0-1 1-1 1 0 1 2 1-1 6-2 0 0 2 3 0 0 1-1 1 1 1-2 0-1 1 1 2-1 1 1 2 2 0-3 0 1 1 2 1-2 1-1 1 0 0 3 2 0 3-1 1 1 0-1 0-1 1 2 0-2 1 0 0 0 1 1 0-2 1 2 2 0 0 1 2-3 0 2 2 0 3 0 0-1 1 1 0-1 1 1 0 0 4-2 1 2 0 0 2 1 0-2 0 1 1-2 3 2 1-1 5 2 2-3 1 2 1 0 0 0 1 1 0-2 0-1 3 2 0-1 1-1 0 3 4 0 0-1 0-1 1 2 1-3 1 0 0 2 1-1 0 2 0-2 3 1 4-1 2 0 0 2 1 0 0-2 2 2 2-1 1-1 0 2 1-3 1 2 0 0 2-2 2 1 2 1 1-2 0 2 0 1 1-1 1-2 1 2 2-2 7 3-5 2-5 0-3-1-2 3 0-2-1 1 0-1-1 2-4-1 0-2-3 3-1-1-6-1-1-1-1 1 0 2-3-3-5 3-1-1-1-2-1 2 0-2-2 1-1-1 0 3-1 0 0 0-1 0-1-3 0 1-2-1 0 2 0 0-1 0 0-1 0 2 0-3-1 3-1 0 0-3-1 1 0 2-2-2-1 0 0 1-1 0 0-2 0 1 0 1-1-2-1 3-1 0-4-1 0 0-1 0-7-2-1 0 0 2-1-2-2 3-1-2-1 1-1-1-1 0 0 1 0-2-1 2-1-1 0-1-1 3 0-2 0 2-1-2-1 1 0-1 0 0-2 0-1-1-1 0-1 2-1-2-1 3-1-2 0 2-3-2 0 2 0-1-2-2-2 3 0-1 0-2-2 0-2 1-1-1 0 3-1 0 0 0-4 0 0-1-1 1 0-3-4 3 0-1-1 0-2-1-1 0 0-1-1 1 0 1-1 1 0-2-3-1-2 2-1 0-1-1-3 0-1 2 0-1 0 0 0-1-2 2 0-2-2 1-1 1-1-1-1 1-1-1 0-2 0 1-2 0-1 1 0-2-2 3 0 0-1-1 0 0-1-2 0 1 0 1-1 1-2-3-1 3-1-1-1 0-1 1-2-2 0-1-2 0 0 2-1 1 0-3-1 0-1 2-2 0 0-1-1 0-1 2 0-1-1-2 0 2-1 1-1-3 0 1-4 2 0-3 0 2 0-1-1 2-1 0 0 0-1-3 0 1-4-1-3 2 0-2-2 1-3 0-1-1-1 2 0-2-2 3-6-2-1 0-2 2-1 0-4-2 0 2-4-2-3 1-1 1-2 0-4-3-1 2-3 1-2-3-2 1-1 2-7-3-4 0-3 2-2-1-1 2-10-3-5 0-4 0-13 1-5 1-1-2-1 0-32 3-6-1-4 1-9-3-17 3-6 0-4 3 3 0 1-2 3 3 11-1 10 1 2 0 8-1 49 1 0-3 7 2 3 0 5 1 8 0 0-1 9-2 1 0 0 2 3 1 1 0 4-1 0 0 3-2 6 0 2 1 0 2 1-2 4-1 8 1 1-1 1 0 0 3 1 0 2-1 0 0 3-1 1-1 0 2 0-2 1 0 1 2 1-1 1-1 1 3 1-3 2 2 0-2 3 1 0 0 2-1 1 0 1 0 1 3 0-3 2 1 1-1 2 1 0-1 2 0 1 3 1 0 1 0 0-2 0 1 1 0 0-2 2 3 0 0 1-2 2 0 1 0 1-1 1 2 2-2 0 2 2 1 0-1 3 1 0-1 2 0 1 0 1 1 0 0 0-1 1-2 0 2 1-1 0 2 1-2 0 1 1 1 1-2 1 0 1 0 0 2 1-1 1-2 2 3 1-2 0-1 1 0 0 3 2-2 0 0 2 1 2 1 0-2 0 1 2-1 0 2 0-3 0 2 1 0 0 1 0 0 2 0 0-1 0 1 1-1 2-2 0 1 1 2 1-1 2-2 0 2 0 0 0 1 0-2 2-1 1 3 0 0 1-3 0 2 0 0 1-1 2 1 0 1 1 0 0-3 2 1 2-1 2 0 3 1 0 2 0 0 1 0 0 0 2 0 1-3 0 2 1 1 1-3 0 1 2 0 0-1 1 2 2-1 3 1 0-1 1 0 0 0 0-1 1 1 0-1 1 2 2 1 0-3 0 1 3-1 0 1 1 0 1-1 0 1 0 2 1 0 0-1 0-2 0 3 1-3 0 3 2-3 0 2 0 0 1 1 4-2 1 0 2 2 0-3 0 2 0-1 1 1 1 0 0 1 0-2 1 1 0 1 2-1 1-1 1-1 1 3 2 0 2-3 1 1 2 1 0 1 0-2 0-1 0 2 4-2 2 0 1 0 3 3 3-3 1 2 1 1 1 0 0-1 2-1 1 0 7-1 1 0 2 3 2-3 2 3 0-3 1 1 2 1 1-1 1-1 1 3 1-3 1 2 1-1 1 1 0 1 1-3 0 2 1 0 1 1 0-2 0 2 3 0 2-1-1 5 0-1-1 0-2 0-2 0-2-1-1 2-1-3-1 1-4 1 0-1-1 1-2 0-1 0-1-2 0 2-1-2 0 3 0-1 0-1-3 0-4 2-1-2-1-1-2 1-2 0-1 0-1 0 0 1-2 0 0-1-1-1 0 0-2 2 0-1-1 1-2-1 0 1 0-1 0-1-1 2-1 0-2-1-1 2 0-1-4 1-2-3-2 2-2-2-1 1 0-1-1 0-2 2 0 1 0-1-1 0-1 0-2 0 0-1 0 0-1-1-2 3 0-2 0-1 0 2 0-1 0-1-2 3-1-2-2 1 0-1-1 2 0-1 0 1-2-2 0 1 0-2 0 2-1-2 0 0-1 3-1-3 0 1 0 0 0-1 0 3-2-1 0 0-3 1 0-1-1-2 0 1-1 1-3-2-1 3 0-1 0-2-2 1 0 0-2 1 0 0-1 0 0-1-1 0 0-1-1 3-1-2-3 1 0 0 0-2 0 3-3-3-1 2 0-2 0 1-1-1-1 3-1 0-1-1-1-2-1 0 0 1-1 2 0 0-2-2 0 0-1-1 0 3-2-1-1 1-1-1-1 1-1-3 0 2 0 0-2 0 0-1-1 0 0 1-1 0-2-1 0 2-1 0-1-3-2 2-1-2-1 3-2-1 0-1-1 2-2-2-1 0 0 0-1 0 0-1-2 3-2 0-2-3 0 2-2-1 0 2 0-1-1 0 0-1 0 0-2 2-4-2-1 1-1 1-2-3 0 2 0-2 0 2 0-1-1 0-1 1-1 0 0-1-2 2-1-2-4-1 0 2 0 0 0 1-1 0 0-2-1-1-2 0-3 0 0 2-3 1-1-2 0 2-1-3 0 1-2 0-3 1-1 0 0 0-1-1-1 0 0 1-1-2 0 0 0 1 0 2-1-1 0-2 0 1 0 0-1 2-1-2-1 2-1 0 0-3-1 1-2 2-2-3-2 3-1-3-2 2 0 0-1-1 0 2-4-1 0-2 0 3-1-1-3-2-4 3 0-2-1 2-2-3 0 0-1 3-3-1 0-2-2 3-3-2-5 1-5 0-7-1-3 1-1-1-14 0-4 0-4 1-12 1-5-3-5 3-19 0-4-1 0-2-4 1 0 1-7-1-7 0-6 1-1 0-5 1 0 0 0-1-5-2-3 3-2 2 0-1 3 0 4 3 9-2 3 1 4-1 8 2 0 0 1-3 0 1 4 2 6-2 6-1 1 0 17 0 8 2 4 1 2-1 3-1 13 0 7-1 4 0 0 1 1 0 5-1 2 3 3-1 0-2 3 2 0-1 1 1 3 0 1-2 4 2 7 0 0-1 1 2 2-1 2 1 3-3 1 0 0 2 1-1 0 0 0 1 2 0 0 0 1 1 4-3 1 0 1 3 2-2 0 0 1 1 0-1 2 0 1-1 0 1 0 1 0 0 5 1 0-1 0 0 1 1 1-1 3-1 0-1 2 2 1 0 1-1 0 1 0-1 1 0 1-1 0 2 0-2 2 3 0-1 1 0 2 1 0-3 1 1 0 2 0-3 2 3 0 0 2-2 0-1 0 2 3-2 2 0 1 3 1-3 0 3 2-1 0-1 0 2 2-1 1 1 1-1 0 1 1-3 0 2 1 0 0-2 1 2 0 1 1-2 0 2 1 0 0-2 0 2 2 0 0-2 0 2 0-2 2-1 1 3 0 0 0-3 0 2 1-1 1-1 1 3 0-1 1 1 1-2 0 0 1 2 0-3 2 1 1 0 0-1 1 2 1-1 0 0 3-1 1 2 0 1 1-1 0 0 1-1 0 0 0 1 1-2 2 2 0 0 0-1 0-1 0 3 1 0 0-3 2 2 0 0 0 0 2 0 0-2 1 3 0 0 1-3 2 2 0 0 1-1 2 0 0 1 0-2 2 0 2 1 0-1 2 0 0 0 2 0 1 2 0 0 0 1 1-3 1 3 0-3 1 2 0-2 1 2 0-1 0-1 1 1 0 2 1-2 0 1 0 0 0-2 1 2 0 1 0-3 1 0 0 1 1 1 0-2 1 2 0 0 1 1 2-1 1-1 0 1 0 0 0 0 0-2 2 3 0 0 2-1 0-2 0 0 3 1 0 2 0-3 1 2 1-2 1 0 1 1 0-1 3 1 2 2 1 0 3-3 1 0 2 1 1 0 0-1 1 0 0 1 2 2 0 0 2-1 0-1 3-1 1 1 1 0 0-1 0 0 2 1 0 2 2 0 0-3 4 1 0-1 0 2 1-1 2 0 0 1 0-1 0 1 0-2 1 3 8-1 0 1 2-3 1 1 1 2 0-3 3 1 3 2 1-2 0 1 1-2 2 3 2-2 3 0 0 1 4 0 2-2 1 1 1 0 1 2 0-3 2 3 1-1 0-1 1-1 2 2 4 1 0-2 4 0-1 6-3 0-7-2-4 0-1 2 0-3 0 1-2 1-2 0 0 0-1 0 0-2-6 1-2 0 0-1-2 1 0 1-2 0-1 0-3-1-4-1-2 1-2 1 0-2-1 3-1-1-2-1-1 1-3-2 0 0-1 3-5 0 0 0-2 0 0-2 0 0-2 0 0-1-1 0 0 0-1 3-1-3-1 3 0-1 0 1-1-1-4-2 0 0-1 1-3 1-2 0-1-1 0 2-1-3 0 2-1 1 0 0-1-2 0 2-2-2 0 2 0-3-1 3-1-1-2 0 0-1-1 1-3-2 0 1-1 0-1 0 0 1-2 0-2-1 0 1-1-2 0 2 0-1-1-1 0 0-1 1 0 2-1-1-1-1-1 0-1 2 0-3-2 0-1 3-1-3 0 0 0 1-1 1-1 0-1-2 0 0-1 0-1 1-1 0 0 1-1 0-2 0 0 0 0 1-2-2 0-1 0 0 0 2 0-1-2-1-1 3-2-3-1 3-1-3-1 1 0 1-1-1-1 2 0-2-1-1 0 3-1-1 0-2 0 2 0-2-2 2-1 0-1 0 0 1-1 0 0 0 0-3-1 1-1 2-1 0 0-2-3 0 0 1 0-2 0 1 0 1 0-1 0 1-1-1 0 2 0 0-2 0 0-1-1-1 0 0 0 2 0-2-1 0 0 1-1-1-1 0-1 1-1 1 0-1 0-1 0-1-2 3 0-2 0-1-1 2-1-2 0 2 0-2 0 1 0 1-1-2-2 2 0 0-2 0 0 1-1-2-1 1 0 1-1-3 0 1 0 2 0-3 0 1-1 1 0 1 0-3 0 2-2-1 0-1-1 3-2-2-1 2-1-2 0-1-2 3 0-3 0 0 0 1 0 0-1 1 0 0-1 0 0 0 0 1-1-2 0-1-1 1 0 1 0 1-2-3 0 1-1 1-1-1-1 0-2-1 0 1 0 0-2 2-1-3 0 3 0-2 0 2-2-2-1 0-4 0-1 1 0-2 0 1-1 0 0 2 0-1-1 0-2-2-2 2 0-1 0 1-1-1 0 2 0 0-3-2-1 2-1-3-1 1 0 0 0-1-1 1-1-1 0 1-1 2-3-2 0-1-1 1-1-1 0 1 0 2 0 0-2-1-1-1-6 0 0 2-1-3-2 1 0 0-1 2-3-2-1 0-1 2-1 0 0-1-2 0-1 1-3-3-1 1-1 2-1-2-7 2-5 0-2 0-1-2-3 0-4-1-20 0-14 2-8 0-5-2-2 1-1 2-2-2-7 0-9 0-3-1 0 3-9-1-4 1-1 0-1-1-5-1-2 1-3 1-7 2 5 2 3-3 2 1 5 0 0 1 1 1 1-1 7-2 1 2 6 1 2-3 0 0 1 0 0 3 2 0 2-3 4 3 1 0 2-2 1-1 7 3 2-3 7 1 3 0 1-1 9 3 6-3 2 2 1 1 1-3 4 2 3 1 3-1 3-1 5 1 3 1 1-1 2-2 0 3 2-1 2 0 1 0 5 1 2-2 0 1 1 0 0-2 7 2 2-2 0 1 0-1 0 3 1-1 3 0 3 1 1-1 0-1 3 1 2 0 0-2 0 0 0 1 1-1 1 1 1 1 0 1 0-3 1 0 0 1 0-1 1 3 0-1 1-1 1 2 0-1 1 0 0-2 1 1 0 2 0-1 1 0 0-1 1 2 0-1 2-2 1 2 0 1 0-3 1 3 0 0 0-1 1-2 0 3 1-1 0-1 1 2 1 0 0-1 1-1 0-1 0 0 3 1 1 0 0 1 1-2 1 3 0-2 0-1 0 0 0 3 1-3 3 3 0 0 3 0 1-2 3-1 0 2 1-2 1 0 0 3 1-3 0 0 0 1 1 0 0-1 0 2 1 1 0-3 0 1 1 1 0 1 0 0 2 0 0-3 0 3 2 0 0-3 0 2 0-1 1 2 0-2 0 0 1 1 0 0 0-2 1 1 0 2 0-1 1 1 0 0 0-1 2 1 1-2 0 0 1 0 1 0 0-1 0 2 1-2 0 0 1 1 0 1 0-2 0 3 0-3 0 0 1 2 0-2 0 2 1-1 0 0 2 0 0-1 0 0 1 3 1-1 1-1 0-1 1 1 0 0 1 0 0 2 0-2 0 0 0 2 1-1 0 0 1 0 0 1 1-3 0 3 1 0 1-3 0 0 1 1 0 1 0-1 0 0 1-1 0 3 2-1 2-1 0-1 3 1 0-1 0 0 1 1 0 2 1-3 0 0 1 1 0 1 2-1 1 0 0 0 1 0 1-1 1 3 1-3 0 2 1-2 0 2 1-2 1 3 2-2 0 0 0 1 1 0 1 1 0 0 1-1 0 1 1-2 0 1 1-1 1 1 1-2 2 1 1-1 1 0 0 0 1 3 0 0 0-2 0 1 1-1 0 2 2 0 1-3 0 1 1 0 0 1 2-1 0 2 0-2 1 1 2-2 1 2 0-2 1 2 0-2 0 2 1-2 1 2 0-1 1 2 0-1 1 1 1 0 1-3 1 3 1-2 3 2 0-1 3-2 1 0 2 0 0 2 2 1 1-3 1 3 1 0 1-1 0-1 1 0 2 0 1-1 0 0 1 1 1 1 3 0 3 0 0 1 1-2 0 1 1 1 2 0 1-3 2 2 2-1 0 1 0 1 1-3 4 1 3-1 0 0 2 3 3-1 1-2 0 1 1 1 2 0 2-2 1 3 2-1 1-2 0 0 1 3 2-3 2 1 1 1 0-2 3 1 2 1 2 0 2-2 0 3 3-3 0 3 0-1 2-1 0 1 0-1 3 2 5-1 2-1 0-1 2 3 1 0 10 3-5-2-3 3-2-3-2 2-2-1-1 2-3-1 0 0 0 1-3-3-2 1-1-1-2 2-3-2-1 3-3-3-4 0-1 1 0-1 0 3-1-2-11 1-2 0-1 1 0-2 0 0-3 0-3 2 0-2-1 2-4-3 0 3-3-3-1 0-2 2-2 0-2 1-1-1-1-2 0 0-1 2-3 1 0 0-1-1 0-2-2 1 0 0 0 0-1-1 0 0 0 0-1 2-3-1-5-1-2 0 0 0-1 3 0 0-2-3-1 0-6 2 0-2-1 3 0-1 0 0-1-2 0 2-1 1-1 0 0-1-1 0-1-2-2 0 0 3-1-3-1 0-1 0 0 0-1 1-1 1-1-2 0 0 0 3 0-3-2 2 0-1-1-1 0 1-1 1 0-1-1 1 0-2-2 1-1 1 0 1 0-2 0 0 0 0-1 0-2-1 0 0 0 0-1 3 0-1-1 1 0-2-1 0 0 2-1-1 0-1-1-1-1 2-1 0-1-2-1 3 0-3 0 3-2-1-1 0 0 1 0 0-1-3 0 3 0-2-3 1 0 0-1 1 0 0 0-1 0-2-1 3 0-3 0 0-1 0 0 2-1 0 0-1-1 2-1 0 0-3 0 3 0-2-1 0 0-1-1 0 0 2 0 1 0-1 0-1-1-1-1 1-1-1 0 3 0-1-1-2-1 1 0 1-1-1 0 1-1-1 0 1 0 0 0-2 0 1-2 2 0-1 0 1-1-3 0 0 0 1 0-1 0 2 0-2 0 0-1 0 0 0-1 0-1 0 0 3 0 0-1 0 0-2-2 2-1-3-1 3-1-3 0 1-1 1 0-2 0 3-1-3 0 1 0-1-1 0-1 2 0 1 0-1-1-2 0 0-1 3 0-1-1 1-1-3 0 0 0 0 0 3-1-1-1 1 0 0 0-2-2-1 0 0-1 3-1 0 0-1-4 0-1-1 0 1 0 0-1 1 0-2 0 2 0-1-1-1 0 2-1-2-1 2-1 0 0-2-1 1 0 1-1 0 0-2-1 0 0 1-1 1 0-2-1-1-1 3 0 0 0 0 0-2-1 2 0-1-1 0-1 1-1 0 0-2 0 1-2 1-1-3 0 1-1 1-1 1-1 0-1-2 0 0 0-1 0 2 0-1-1-1-1 3-1-1-1 0-1 0 0 1-1-3 0 2-1 0-2 0 0 1-2-2 0 2 0 0-1-2-1 2 0-2-1 2-1-1-1 1-1-1 0 1 0-2-1 0 0 1-1-2 0 3-1-3-2 1 0-1 0 2-1-2-1 3-1 0 0-3 0 2-2-1-1 2-1-1-3 1 0-3 0 1 0-1-1 3 0-1-1-1 0-1 0 3-2-1-1 0-1-2-2 1-1 1-1-1 0 1-5-2-5 2 0 0-2-1-1 2-1 0 0-1-1 0 0-1 0 0-3-1-1 3 0 0-5 0-1-3-2 1-3 2-2-3-3 3 0-1-11 1-1-2-2-1-5 1-1 1 0-2-10 0-3 0-3 1 0 2-1-3-2 2-6 0-3 1-1-1-7 1-6 0 0-2-2-1-2 0-2 3-3 0-1-1-3-2-1 0-4 0 4 7 0-3 3 0 1 1 2 1 4 0 0-2 3 2 1-1 0 1 2-1 1 2 0-1 1-1 1 2 0-2 2 0 1 1 2-2 3 3 2-3 1 3 0-2 4 1 1-1 4 2 5-1 0-1 3-1 0 0 0 2 3 1 1-3 0 3 7 0 1 0 4 0 1-1 1-2 1 3 2 0 2-2 2 0 1 2 4 0 4-1 2 1 0-1 1-2 1 1 1 1 4 0 0 0 2 0 1 0 2-2 1 1 0 0 0 2 3-1 0 1 1-2 0 1 0-1 1 2 1-3 3 0 0 2 2 1 3-1 2 0 4 1 0 0 0-1 1-1 1 1 0 0 2 1 0-3 3 2 0-2 0 1 1 2 0-3 3 0 0 1 0 1 1 0 1-2 1 3 1-2 1-1 1 1 0 0 0 0 0 2 2-2 0 1 0 1 1-1 0-2 0 1 0 1 1-2 0 3 4-2 0 0 0 0 1 1 0 1 0-2 0-1 0 2 1-1 1 2 0-3 1 3 0-1 1-2 1 1 0 1 0 1 0 0 1-3 1 3 0-1 2-2 0 3 1-1 0-1 0-1 0 0 1 2 0-1 1 0 1 1 0-2 0 0 1 0 0 3 1-2 1-1 0 1 0 1 1-2 0 2 0-2 0 0 1 0 0 3 0-2 2 2 1-1 0 1 1-1 2-2 1 2 0-1 0 1 1 0 0 1 1-3 1 1 1 0 0 2 0 0 0-1 0 1 1-3 0 3 1-3 2 2 0-1 0 2 0-3 1 3 1-1 0 1 0-3 1 1 0 1 1 1 0-1 0 0 1-1 1 0 0 0 1 0 1 2 0 0 1-1 0-1 1-1 1 0 0 2 0-2 0 0 3 0 0 3 0 0 1-2 0-1 1 3 0-2 0 0 1 2 0-1 0-1 1 2 0-1 1-1 0 2 1-2 0 0 0 1 1 1 1-3 0 2 0-1 2-1 0 1 0 2 1-1 1 1 0-2 0-1 1 0 3 2 1 0 0-1 1 0 0 0 0-1 1 3 0-3 0 3 1-3 3 0 0 0 3 0 0 3 0-2 1 2 0-2 0 1 1 0 0 0 1 1 0-3 0 3 0-1 0 1 1-1 0 1 0-3 0 3 0-3 1 2 1 1 0-2 1-1 0 1 1 0 0 0 2 1 0-2 1 0 2 2 0 1 1-1 0 1 0-2 1 1 0 1 1-2 0-1 0 0 0 1 2 2 0-3 2 0 0 1 1 1 0-2 0 2 2-1 0 1 0-1 1 0 1 0 0 1 0-2 0 1 1 1 1 1 2 0 1-2 0-1 0 1 2 0 0 2 1 0 2-3 0 3 1-3 0 0 3 2 0 1 0-1 1 0 0-1 0 2 1-1 0 1 0 0 0-3 1 2 0-2 1 0 0 3 1 0 0-1 1-1 0-1 1 0 4 2 1 1 1-3 0 2 1-2 3 3 1-1 1 0 3-1 2-1 0 3 0-3 0 3 2-2 1 1 1 0 0 1 0-1 1 0 0 0 1-1 0 0 1 2 1-1 1 0 1-1 1 0 0 1 0 0 1 1 0-3 1 2 1 0 0-2 0 3 1-1 2-1 2 0 1 0 0-1 2 2 0 1 1 0 1-3 0 3 2-1 1 1 0-2 1 0 1 1 0-1 0-1 4 3 0-2 2 0 0-1 2 2 0 1 2-1 2 0 1-1 1 1 3 0 2-2 1 2 1 1 5-1 0 0 3-2 1 1 1 1 1 0 1 0 2-1 0-1 0 1 0-1 2 1 0-1 1 1 1 1 6-2 2 1 1 0 3 0 1 1 1 1 0-1 2 3-1 2-2-1-1 0-6 0-1-2-2 3-1-3-1 0-2 0-7 1-2 2-1 0-1 0-1-2-3 2 0-1-2-2-1 0 0 3-1-3-1 1-1 1 0 0-1 1-4-1 0-1 0 2-6 0-3-3-4 1-3 0-1 1-1 1-3-2-2-1 0 1 0 0 0-1-5 1 0 2 0-2 0 0-1 2-2 0-4-1-1-1 0 1-1-1-2 1-1 0 0-2 0 3-3 0 0-3-1 2-1-1-3-1 0 2-4 1 0-2-3 0-1 2-2-3 0 2-1-2-1 2 0 0-1-2-1 0 0 1 0 2-2-2 0 1-1 1 0-2-1 2 0-3 0 1-1 2-2-2-1 1 0 1-1 0 0-2-1 1-1 1 0 0 0-1 0 0-1-1-2-1 0 0 0 2-1 1 0-1 0-1-1 0-1 0 0 2-1-3-1 3 0 0-1-1 0 0-1 0-1 1-1-1-1-2-1 0 0 2-1-2-2 3-3-2 0 0 0-1-1 3-1 0 0-2 0 0 0 1-1 0-1 0 0-1-2 1 0 1 0-1-2-1-1 0 0 2 0 0 0-2-1-1 0 3-1-2 0 1 0-2-1 3 0 0 0-2 0-1 0 1-1-1 0 2-1-1 0 0-1 1 0 0 0 1 0-1-1 0-1 1 0-1 0-2 0 0 0 0 0 2 0-2-2 3 0 0 0 0-2-3 0 0 0 0 0 2-1-2 0 0-2 3-1-1 0-2 0 1 0 0-1 1-3 1 0 0 0-2-1 0 0 0-1 1 0-2 0 1 0 2-1 0 0 0-1-2 0-1 0 1 0-1 0 3-1-2 0 2 0 0 0 0-1 0-1-3-1 2 0 1 0-2 0 1 0-2-2 3-1-3 0 1 0 2 0 0-1 0-1-3-2 0-2 1 0 0-1 0-1 2 0-3 0 0-1 2 0 1-1-3 0 2 0-1-1 1 0-1 0 1-1 0-1-1 0-1 0 2 0-1-1 0 0 2 0-2-1 2 0-2-1-1 0 0-2 1 0 2 0 0-1-2 0 2 0-2 0 0 0-1-1 2 0 1-1-3-1 1 0 0-1 2 0-3 0 2-1 0 0 0-2 1 0-1-2 0 0 1-1-3-1 0 0 1 0 0 0 2-1-3 0 3 0 0 0-3-1 3-2 0 0-2 0 1-1 1 0 0 0-3-2 3-1-2 0 2-1-2-1 2-1 0 0-2 0-1 0 0 0 2 0 1-1-2 0-1 0 2 0 0-1-2 0 2 0 0-1 1 0-1-1 0 0-1 0-1 0 0 0 0 0 0-1 1 0-1-1 0 0 2-1-1 0-1-2 3-1-2 0 2-1-3-1 0-2 0-1 0 0 0-1 3 0-1 0 1-1 0-1-2 0-1 0 3-1-3 0 1-1 1 0-1 0 2-1-2-2-1-1 0-1 2-1 1 0-3-1 3-1 0 0 0 0-1-1-1-1-1-1 1-1 2 0-3 0 0-2 3 0-1-1-1 0 1 0-2-1 1 0 0 0 2-3-2-1-1-1 2-1-1-1 1 0 1-1-1 0 0 0 1-3-2 0 0 0 1-2 1 0-1-3-1-1 1 0-1-1 1-1-1 0 0-2-1-3 2 0 0-1-1-1-1-1 3-3-2-1 2-2-2-3 2 0-1-1-1-1 1-3-1-2 1 0-2 0 1-4-1-3 3-4 0-1-3-1 1-1 2-2-3-3 2-5 0-1-1 0 2-1 0-1 0-2-1-3-2 0 3-3 0 0 0-3-3-2 2-5 0-2 1-3 0 0-1-1 1 0 0-1-3-3 1-1-1-2 3-3-2-2-1 0 3-10-2 3 3 4 3 2-1 1-1 2-1 0 2 2 0 1 1 2 0 2 0 2-2 2 1 0 1 0 0 1-3 0 2 1-2 1 2 1 0 0-2 4 3 2 0 2-2 0-1 2 2 1 1 1-3 1 1 1 1 3-2 3 2 1 0 1-1 0 2 1-1 4 1 3-3 1 2 0-2 2 3 0-3 7 3 8-3 3 1 2 1 2 0 1 1 1 0 1 0 1-1 0-2 2 0 1 0 3 1 1 2 1-1 2 0 2-1 1 0 0 1 1 0 0-1 0 1 1 1 0-2 1-1 2 0 0 3 1-2 1 1 0 0 0-2 1 2 2 0 1 1 0-2 1 2 0-1 1 1 2 0 0-3 0 0 0 0 1 2 1-1 0 2 1-1 0 1 0-2 0 2 1-1 0 0 0 1 0 0 0-3 0 3 1-2 0 2 2-1 1 1 1-2 0-1 0 0 1 1 0-1 0 0 1 1 1 2 1-1 0 0 2 0 2-2 2 0 2 2 0-2 0 2 0-2 1 3 1-3 0 2 0 0 1-1 0 2 1 0 1 0 0-3 1 1 0 2 0-1 1-1 0 0 0 1 0-2 2 2 0-1 0-1 1 2 0 1 1 0 0 0 2-1 0 1 1-3 0 0 0 2 0 1 1-2 1 0 0 0 2 1 0 1 0 0 1-1 0-1 1-1 0 0 1 3 0-2 0 1 0-1 2-1 0 3 0 0 1-3 0 3 0 0 1 0 0-1 1-2 0 1 0 0 0 1 0 1 0-2 1 0 0 0 1 2 0-1 1 1 0-1 1-2 0 0 1 1 1 1 1 0 0-2 1 2 0 0 1 1 0 0 1-3 0 2 1 0 0 1 0 0 1-2 0 0 1 1 0-2 1 0 0 1 1 2 0 0 0-3 3 3 1-2 0 0 0-1 1 1 0 1 1-2 0 1 1-1 1 2 1-2 0 2 1 0 0 1 0-3 1 3 0-2 0 1 0 0 0 1 1 0 0-3 1 3 0-3 1 2 0 1 0-1 0-2 1 2 0 0 0 0 0-1 1-1 0 1 0-1 0 0 0 0 2 1 1 2 0-3 0 2 1 0 0 1 1-1 0-2 1 3 2-3 0 1 0 1 0-2 1 3 2-2 0 1 0-1 0-1 0 1 2 0 0 0 0-1 1 0 1 0 1 2 0-1 0 1 0-2 0 0 1 0 0 1 1 1 0 1 1-1 0 1 1-3 0 2 0 1 0-2 1 0 0-1 0 1 0 0 1-1 0 1 1 1 0-2 0 2 1 0 4-2 1 0 1 0 0 1 2 0 1 1 2-1 0 2 0-2 3 1 2-2 1 1 0-1 0 0 1 1 0 1 1-2 0 0 1 3 0-2 0 1 0 1 1-1 1-2 0 0 0 1 1 2 1-1 0 1 1-3 0 3 1-1 1 1 0-3 1 3 0-3 2 2 0 0 0-1 0 1 1 1 0 0 3-2 0 0 1 1 1 1 0-2 1 0 0-1 1 0 0 0 1 2 0-1 0-1 0 1 3 1 1 0 1-2 0 1 2 0 0 1 0-2 1 2 2-1 1 2 3-2 1 2 1-2 1 1 0-2 4 0 1 1 1 1 0-2 1 1 3 2 1 0 1-2 1-1 0 0 2 3 1 0 0 0 1 0 3-3 0 1 1 0 2 0 0 0 3 2 1-1 1 0 0 0 2-1 0-1 1 3 1-1 2-1 7 2 1-2 2 2 3-1 1-1 0 1 1-1 2 1 1-2 4 0 1 1 2 1 1-2 5 2 1-1 1 1 3-2 1 3 0-3 1 2 2 0 4-1 5 1 8-2 5 3 4-2-8 5-1-2-4 0-9 1-2-1-3 0-3 0-6 3-3-3-10 0-5 3-1-3 0 2-1 0-1 0 0-2 0 3-1-2-2 0-1 2 0-3-2 3 0-1 0 1-1-2-1 0-1 0-1 1-1 1 0-2-1-1 0 1-1 0-6 1-2-1-2 2-1-2-1 2 0-1-4 1-2-3-5 0-1 1 0 2-1-2 0 2-2 0-2-1-1-1 0-1-1 0-3 1 0 2 0-2-3-1-5 0-3 2 0-1 0-1-2 2 0 0 0-1-3-1 0 0-2 1-1 1-2-1 0-1-2 1 0 1-1-2 0 2-2 0 0 1-2-1 0 1-1 0 0-3 0 3-1-2-3 0 0-1-1 0 0 2 0 1 0-2-2-1 0 1 0 2-1-3 0 3-1-1-1-1-3 0 0 0 0 2-1-2 0 0-3 0-1-1 0 3 0-3-1 0-1 0-3 2 0-1-1 0 0 1-2 0-1-1 0 1-1 0 0 0 0-1-1 1-1 1 0-3-1 0-1 1 0 0-2 1 0-2-1 2 0 0 0-2 0 2-1-2-1 0-1 1 0 2 0-3-1 3 0-1-1 0-2 1 0 0-1 0 0-3-2 2 0-1 0-1 0 3-1 0 0-1-1 1 0-2 0 1 0-1-1 0-2 2 0-2 0 0 0 1 0 0-1-2 0 0-1 3-1-1-1 0-1 0-2 1-1-2 0 1 0-1-1 2 0 0 0-2-1 1-1-1 0 0 0 2-1-2 0 1-1 1 0-3 0 1-1 1-1 1-1-2 0 0-1 2-1 0 0 0-1-1 0-2 0 0-1 1-2-1-1 0 0 0-1 2 0 0 0-2 0 3-2-2-1 1 0 1 0 0 0-3-1 0 0 3 0-2 0 2 0-1-1 0 0-1-1 0 0-1 0 1 0-1-1 3-2-1-1 0 0 1-1 0 0-1-1 1 0-3-1 0-2 2 0-2-1 1 0 1-1-1-1 1-3-1 0-1 0 1-1 2 0-1 0-1-1-1 0 3 0-3-2 2-1 0-1 0-1-2 0 1-1 0-1 0 0 2 0-3-1 2 0-1-2-1 0 2-1 1-1-1-1-1-2 1-1 0-1 1 0-1 0-1-1 0 0 2 0 0-2-3 0 3-2-2 0 1 0 0-1-1 0 0-2 2-1-2 0 0 0 1-1-1-1 0-1-1-1 3 0-1-2-1 0 2-1 0 0 0-1 0-1-3 0 3-1-1 0-1 0 0 0 0 0 2-2-2-2 2 0 0-1-2 0 2-1-2 0 1-1-1-1 2 0-3 0 3 0-3-2 3-2-3-1 2-1-1 0 0-2 2 0-2 0 1-1-2-2 3-2 0 0-2-1 0-2-1-1 2-1-1 0 2 0-2-1 1 0-1 0-1-1 3-1-1 0 1-2-1 0-2-1 0 0 1-1 0 0 0-3 2-2-3 0 0-1 2-2-2-2 2 0 0 0-2 0 1-1 0 0 0 0-1-3 2-1 1 0-1-1 0 0-1-4 1-1-1-1-1-5 2 0-2 0 2-1-1-1 1-2-1-2 1-1-1-2 2-1-1 0-2-1 0-1 3-1-2-1 1-4 1 0-1-2 0-2 1-1 0 0-1-1 0-1-1-1 0-1 0 0 1 0-2 0 3-1-1-1-2 0 2-1 1-1 0 0-1 0 1 0-2-2 0 0 2 0-1-1-2-4 1-1-1-3 3-2-2 0 2-5 0 7 1 1 0 1 0 1 2 1 1 0-2 3-1 0 0 3 2 1-1 1 0 0 2 0 0 1-3 1 0 0 1 0-1 0 2 1 1 2-1 0 1 3-3 2 3 2-2 1-1 1 1 0 2 4-1 2-1 1 0 3 1 0-1 0 0 1 0 0-1 0 1 0 2 1-1 1 0 0 1 1-2 2 1 1 0 2-1 0 1 1-2 0 2 2 1 0-2 1 2 0-3 0 1 1 0 1 0 2-1 2 0 0 2 1 1 1-2 5-1 0 0 3 3 1-3 0 3 1-3 1 3 0-2 1 1 1-1 1 2 0-3 1 3 1 0 1-2 0 1 0-2 1 2 0-2 1 0 0 2 2-1 1-1 0 0 0 2 1-1 1 0 1 1 0-1 1-1 1 2 0-2 1 2 1 1 1 0 0-2 1 0 0-1 1 1 0-1 1 0 0 1 0-1 2 2 0 0 1-2 0 3 0 0 0-1 1 1 0 0 1 0 1-2 0 0 1 2 0 0 0 0 1-3 0 3 1-1 0-1 0 1 1-2 0 3 1-3 0 0 1 3 1-2 2-1 1 2 0-2 0 1 0-1 2 2 0-2 2 1 0 0 1 1 0 1 2-3 0 0 1 2 0 0 0 1 1-2 3 2 1-3 0 1 0 2 1 0 0 0 0 0 1-1 0-1 1-1 0 2 2-2 0 0 0 0 0 1 0 0 1 1 0 0 0-2 1 3 0-1 0 1 1-3 1 1 0 2 1-2 0 1 1-2 1 3 1-1 0-1 0 2 0-1 2 0 0 0 1-2 0 1 1-1 0 1 1 1 1 0 0-1 0 0 0 1 1 1 0-1 0-2 0 2 1 1 0-2 0 2 1-3 1 3 1 0 0-1 0 0 1-2 0 1 0-1 0 1 0-1 0 0 0 3 1 0 0-1 0-1 0 2 1-1 0-1 0-1 1 2 0-2 0 1 0 0 1 2 0 0 1 0 0-1 1 1 0 0 0-1 2 1 1-2 1 2 0-3 1 1 1 1 0-1 0-1 1 3 2-1 1 1 1 0 0-1 1 0 1 0 0-2 0 2 0-2 1 2 0-2 0 1 1 1 0 1 0-3 1 0 0 3 2-2 0 0 1 0 0 1 1 1 0-2 0-1 0 2 1 0 0 1 1-2 0-1 0 3 1-3 0 0 1 0 0 3 0-1 1-2 0 0 1 2 0 0 0-1 1-1 0 1 0 2 2-2 1-1 0 2 1 1 0-2 1 2 1-1 0-1 1-1 0 2 1-2 1 3 2-1 0-2 0 3 1 0 0-3 1 3 0-3 0 2 1 1 1-2 0 0 1-1 0 3 2 0 0-2 1 0 1 1 0 0 0 1 0-2 1 1 1 1 0-3 0 0 1 1 0 1 0-2 1 0 0 1 1 1 1-2 1 3 1-1 0-1 2-1 0 2 0 1 2-1 0 1 2-3 1 1 0 2 1-3 1 3 0-1 0-2 1 2 1-2 0 2 1-2 3 0 0 3 1 0 1-2 0 1 1-2 0 1 0 2 1-3 0 3 0-2 1 2 0-3 1 2 1-2 0 0 1 2 1 0 0-1 1-1 1 3 1-1 0-1 1 1 0 1 1-1 0 1 5-2 2-1 0 2 1 1 0-1 4-2 2 2 1-2 2 1 1-1 0 2 2-2 0 0 1 1 0 1 3 0 1-2 2 0 0 1 0 0 1 0 1 1 0-1 0 1 3 0 1-1 0-1 1 1 1 2 2-3 0 2 3 0 0-1 1 2 0-1 0 1 0 0 2-3 1 2 0 1 1-2 2 1 1-2 1 3 1-2 0-1 4 1 4 2 1 0 1-3 7 1 0 0 5 2 3-1 3-1 1 0 8 1 4-1 6-1 1 2 1-1 3-1 0 1 7 0 2 0 11 2 4-2 7 0-6 4-1-1-2 2-9 1-1 0-2-3-4 0-21 3-4-3-7 0-4 1 0 2-1 0-1-1-7-1-2-1-4 3 0-2-7 2-4-2-1 2 0-3-4 0-1 2-1-2-2 1-1 0 0 2-1-2-2 1-3-1-3-1 0 3 0-1-1-2-8 3-2-1 0 1-1-3-1 1-1 2-4-1-1 1 0-2-1-1-2 1 0-1-1 2-1 1 0-3-1 1 0 1-1-2 0 1 0 1-2 0 0-2-1 2-1 1 0-1 0-2-1 3 0 0 0 0-1 0-2-3-1 2-1 1 0-2-2 0-1 0-1 2 0 0-1-2-3 2-1-1-1-2 0 3-1-2 0 1 0 0-1-1 0-1 0 1-1-1 0 1-1 2-1-2 0 2-1 0 0-1 0 1 0-2-1 2-1-1 0 0 0 1-1-2 0-1-1 3-1 0 0-2-2 0-1-1-1 1 0 1 0-2-1 0 0 1 0-1 0 2-1-1 0 2 0 0-1-1-1 0-1 1-1-2-1 0 0 1 0-2-1 0-1 3 0-1 0 1-1 0-1 0 0 0 0-1 0 1 0-2-1 0 0 0 0-1-1 2 0-1 0 1-1 1 0 0 0 0 0-1-1-2 0 0 0 3-2-3-1 0-1 2-1-1-1-1 0 0-1 2 0-2-2 1 0 2 0 0 0-3-1 3 0-1-1 0 0 0-1 1-1-2 0 2 0 0-1 0 0-3 0 2-1 1 0-2 0-1-1 0 0 3 0 0-1-2 0 1-1-2 0 3 0 0 0-1-1 1 0 0 0 0 0-1-1-2 0 0-1 1 0 1-1-1 0-1 0 1 0-1 0 3 0-2-1 1 0 1-1-1-1 1 0 0 0-3 0 2 0 1 0-1-1 0 0-1-1-1 0 1-1 1 0-2 0 3 0-3 0 3 0-2-1 1 0 1-1-2 0 0-1-1 0 3-2-1 0-1 0 2-1-2 0 2 0-3-2 1-1-1 0 1-1 2-1-3-1 3-1 0 0-2 0 2-1-1-1-1-1 0-1 2 0 0-1-1 0-1 0 0 0 1 0-2-2 0 0 2 0 0 0 0-1-2-1 0 0 0-3 1-1 0 0 2 0-1-2 1 0-1 0 0 0-2 0 3 0-2-1 0 0-1-1 2 0 0-1 1 0-1 0-1-1 1 0-1 0-1 0 1 0 0-1 0 0 0-1 0-1 1-1-2 0 1 0-1-1 3 0-3-1 3 0-1-1-1 0 1-1-1-1-1-1 1 0-1 0 3-1-1 0-1 0 2-1-2 0-1-1 3-1 0 0 0-2 0-1-1 0 0 0-2-1 1 0 0 0 1-2 0 0 1-1-2-1 0 0 1-1 0-1-2-1 1-2 1-1-1 0-1 0 0-1 3-3 0 0-1-1-1 0 1 0-1-1 0-1-1 0 0 0 3-1-2 0 2-1-1-1-2-2 2 0-2-1 0-1 2-1-1-2-1-1 1-2 2-1 0 0-3-1 3 0-2-1 1 0-2 0 3 0 0 0-1-1-1-1 2-5-1-1-1-1 1 0 0-3 0-1-2-1 1-1-1-1 3-1-2-3 1-2 1 0 0-1-2-1 1-1 0-1-2 0 0 0 2-2 1-1-2 0 1-1 1 0 0-1-2-2-1-1 1 0 2-1-2 0 1-2-2-1 3-2-1-1 0 0 0-1 1 0-3 0 2 0-1 0 2-1 0-1 0-3-3 0 2 0-1-2-1-1 2 0-2-1 3-1-1 0 0 0-1 0 2-1-2-1 2-1 0 0-3-1 1-1 2 0-2 0-1 0 3-1-2-1-1 0 0-1 1-1 0-1 0 0-1-1 3 0-3-1 3-3-1-1-1 0 2-2 0-1-3-1 2-3 1-5-3-1 6 3-1 4 0 2 2 1-2 2 0 0-1 1 3 1 0 1-1 0-2 0 1 0 1 1-1 1-1 0 3 0-2 0 2 0 0 1-3 0 1 0-1 0 2 0 0 0 1 1-3 0 1 0 2 0-1 2-1 0 0 0-1 1 0 0 0 1 2 1 0 0 0 0 0 0 0 1 0 1 1 0-1 2-1 0-1 4 3 0-3 0 1 0 2 3 0 1-2 1 0 0-1 0 3 1-3 0 3 0 0 1-2 1 1 0 0 0 1 0-3 1 2 0 0 0-1 0 1 1-1 1 2 1-3 0 0 3 3 2-3 0 0 3 1 1-1 1 2 0-1 1 0 0 2 0-2 1 1 0-1 0 1 1-2 0 2 1-2 0 2 1-1 0-1 1 1 2 1 0 1 0-1 1-2 0 1 1 1 0-1 1-1 0 0 2 2 0-2 3 0 0 3 0 0 2-1 1-2 0 2 1-2 0 1 1 0 0 1 1 0 0-1 2 2 0-1 1-1 0-1 1 2 0 0 2 1 1-2 1-1 0 1 1-1 1 0 1 1 1-1 1 2 0 0 0 0 0 0 1-1 0 2 0-2 0 0 0 0 1 0 0 2 1-2 0 1 0 1 1-2 0 0 0-1 1 2 2 1 0-2 1 2 0-3 2 2 0 1 0-2 1 0 0 0 1 2 0-2 0 1 0-2 0 1 1 2 0 0 0-2 1 1 1 0 0-2 1 0 0 3 0-1 2 0 1 0 1 0 0-1 1 0 0 2 1-2 1 2 0-2 0-1 1 2 0 0 1 1 0-3 0 2 0 0 2-1 0 0 1 2 1 0 1-2 0 2 0-1 1 0 0 0 0 0 0 0 0-2 1 0 1 0 1 1 1 1 0-2 1 1 1 0 1-1 0 3 0 0 0-1 1-1 0 0 2-1 0 2 1 0 0-2 0 0 0 3 1-1 0-1 0 2 0 0 0-3 1 2 0 0 0 1 1-1 0-1 1-1 0 0 1 2 0 0 0-1 1-1 2 1 0 1 0 0 1-1 0-1 0 3 1-3 0 1 0-1 0 3 1-2 1 2 0 0 1-2 0 2 0-2 1 2 0 0 0 0 1 0 1 0 1-1 1-1 1 2 0-2 1-1 0 2 1-2 0 3 1-2 0 1 0 0 0-2 1 2 0-2 0 0 0 1 0-1 2 3 0-1 0-1 0-1 1 3 1-2 0-1 1 3 1-3 0 2 0 0 0-2 1 0 1 1 0 0 0 1 0 1 1-3 0 0 1 3 1 0 0-2 1-1 0 2 0 1 2-3 0 1 0 0 1 1 0-2 0 0 1 0 0 1 0 2 1-2 0 1 1-1 0 0 0 1 1-2 0 0 1 1 0-1 0 0 0 3 3-2 0 1 1-2 1 0 1 3 0-3 2 1 0-1 0 3 0-3 2 0 1 1 0 2 0-2 0 2 2 0 0-2 0-1 1 0 0 3 2-3 0 1 1-1 0 1 0 2 0-1 1-1 0 1 1-2 0 3 1-3 1 0 1 1 1 2 0 0 1-3 1 2 1 1 0 0 1-1 0 1 0 0 1-3 2 2 0 0 1 0 1 1 1-3 1 0 0 1 0-1 2 0 1 3 0-3 0 3 1-1 0-2 0 3 1-1 0-2 0 3 1 0 1 0 1-2 0 2 1-3 0 3 0-3 1 3 0-2 0-1 0 3 1-1 1 0 0-1 0 0 0 1 1-1 2 1 1-1 1 0 0-1 1 3 1-3 1 0 1 1 2 0 0 2 0-3 3 1 2 1 1-1 0 2 1-2 1-1 4 2 1-2 0 0 2 3 1-2 0 0 1 1 1 1 3-1 1 1 0-3 2 0 0 2 0-2 1 2 1 1 1-3 0 3 4-1 2-1 1 1 0-2 1 0 0 2 2 0 0 1 9-2 1 0 0 0 1 1 5 0 6-2 2 2 0-1 5 1 1-2 2 2 6 0 8-2 4 0 1 1 8 1 2-1 1 1 4 1 3-2 1 2 3-1 14 1 8-1 3-1 3 2 1-3 7 3-8 1-10 3-5-3-3 2-8-2-2 1-7 1-2 1-1-3 0 1 0-1-1 3-1-2-2 0-6 2-6-3-1 3-9 0-2-3-2 1-2 0-6-1-1 0-15 3-8-1-1 1-5 0 0-1-2-1 0-1-2 2-1-2 0 0 0 1-6 2 0 0-1-2-1 2-2 0-2-1 0 1 0-3-1 2-2-2 0 3 0 0-1-2-1 0-1 0-1 0-9-1 0 2-1 0-1 0-1 0-1-1 0 1-1 0-1 1 0-2 0 0 0 0-1-1 0 1 0 0-3 0-1 0-1 1 0-2-1 1-3-1 0 0 0 2-1-2 0 2-1-1-1 2-3 0 0 0-1-2 0 0 0 2-1-1 0 0 0 1-1-2-1 1-1 0-1 1-1 0-1-2-1 0 0-1 0 2-1 1 0-2-1 0 0 1-1 1 0-2-1 0 0-1 0 3 0 0-1-3 0 3 0-2 0 0-1 1-1 1 0-2-1 0-1-1 0 2-1 1-4-1 0 0 0-1 0-1-1 3 0-2-2 0-1 0 0 0-1 0-1 2 0 0 0-3-1 1 0 1-1 1 0-1-1 0 0-1 0 2-1-3-1 1 0 1 0 1 0-3 0 2 0 0-1-2 0 2-1 0 0 1 0-3-1 0 0 1-1-1 0 3-1 0 0 0 0-1-1-2 0 3 0-2-1 1 0 0 0-2-1 1 0 2 0-3 0 2 0 0-1 0-1 0 0 0-1 1 0-1 0-1-1 2 0 0-1-2 0 1 0 0-1-1-1-1 0 2-1-2-1 1 0 2-1-3 0 3 0-1-1-2 0 3-2-2-1 1 0 1 0 0 0-1-1-1 0 2-1-3 0 2-1-1 0 1 0 0-1 0 0-2 0 2 0-2 0 3-1-1 0 1 0-3-1 3 0-3-1 2 0-2 0 3-1 0 0-2-1 0 0 0 0-1 0 2-1-2 0 3-1-1 0 0 0 1-1-3 0 3 0-2 0 2-2-3 0 3-1-1 0-2 0 0 0 3-1-1 0 1 0-2 0 0-1 2 0-1 0-1-1 2-1 0 0-1-1 1 0-2 0 1-1 0 0-1 0-1-2 1 0 0-1 2-1-3 0 2 0-2-1 2 0 0-1 0 0 1-1 0 0-3-1 2 0-2-1 0 0 2 0 1-2-3 0 3-1-1-1 0 0-2-1 3 0-1 0 0 0 0-1-2 0 1 0-1-2 2 0 1 0-1-1 1 0 0 0-1-1 0 0-1 0 0-1 0 0 1 0-2-1 1 0 0 0 1 0 0 0 0-1 0 0 0 0-2 0 0-2 1 0-1-1 1-1-1 0 2 0 0 0 1 0-2-1 0-1-1 0 0-1 2 0 0-1-1-1-1 0 3 0 0-2-1 0 1 0 0 0-2-1 2-1-3 0 2-1 0-1 0 0-1-1 0 0 0 0 0-1 1 0 0-1 1 0-1 0 1-1 0 0-3 0 0 0 1-1 1 0 1-1-3 0 1-1 0-1 2 0-3 0 1 0 2 0-1-1-1 0 1 0 1-2-2 0-1 0 2-1 1 0 0-1-1-1 1 0-3-1 1 0 1-1-1 0 0-1-1-1 2-1 1-1 0 0 0 0-3-1 2-1-1-1-1-1 3 0-1 0 0-1-2-2 3 0-1-2-1-1 1 0 0-1-1 0 0 0 2-1 0-1-3-2 1 0 1 0-1 0 0-1-1-2 0-1 2 0 0 0 1-1-2 0-1-1 1-2-1-1 1 0 2 0-1-2-1 0 1 0 1-1-2 0 0 0-1 0 1-3 0 0 0-1 1 0-1-1 2 0-2 0 2-1 0 0-2 0 1 0-2-1 1 0-1 0 0 0 2-4-2-1 2 0 0-1-2 0 3 0-1-1 0-1 0-1-2 0 3 0-3-1 2-2 0-1 0-2 0 0 1-1-2-1 1 0 1-1 0-1 0 0 0-1 0-1 0 0 0-1 0 0-3 0 2-1-1 0 2-1-1 0-1 0 0 0 2-1 0-2-2 0 1 0-1-1 0 0 2 0-3-2 0-1 2 0 1-2 0 0 0-5 3 4 1 1-1 0-1 3 0 0 1 1 1 0-3 3 0 2 1 1 0 1 2 0-3 1 0 0 1 0 0 0-1 0 3 2-3 0 2 0 0 1 1 1-1 0-2 1 1 0 2 0-2 1-1 0 3 0 0 1 0 1-2 2 1 0 0 2-1 0 2 0 0 2 0 0-3 2 1 0 0 0 1 0-2 1 2 0 1 0 0 0-3 1 1 1 2 1 0 1 0 2 0 0-3 1 2 0 1 0-2 1-1 0 1 0 1 0 0 1 1 0-3 0 2 0 0 1 1 1-2 0 1 1 1 1 0 1-2 0 1 1-1 2 1 0-1 1 1 1-2 1 3 1-3 3 2 0-2 2 3 0-2 0 1 1-2 0 0 0 3 1-1 0-1 1-1 0 2 0-1 1-1 0 3 1-1 1-2 0 2 1-1 1-1 0 1 0 0 0 1 1 1 0 0 1-1 0-1 0-1 0 1 1 1 0 0 0 0 0-2 1 2 1-2 1 0 0 1 1 1 0-1 1 0 0 0 0 0 1-1 1 1 0-1 1 1 0-1 0 3 1-3 0 0 2 3 0-3 0 2 0 0 1-2 0 3 0 0 0-3 1 0 0 0 0 3 0-3 1 0 1 0 0 1 0 1 0-1 0 0 1 2 0-3 1 2 0 0 1-1 0 0 1-1 0 0 1 0 1 1 0 2 0-2 1-1 0 2 1 0 0-1 0 2 1-1 0 1 0-2 2 2 0-2 0 1 1 1 0-2 0 0 2 2 0-2 1 1 1 0 0-1 0-1 1 3 0-1 1 1 1-3 0 1 1 2 0-1 1 1 0-2 2 2 0-3 1 1 1-1 0 3 1-3 1 3 1-2 0 1 0 0 1 0 0-1 0 1 1-1 0-1 1 0 0 1 0-1 0 1 1-1 0 3 1-3 0 1 1 1 0-2 0 0 1 3 0-1 0 1 0 0 1-2 0 2 1-1 0-2 0 0 2 2 0 0 0 0 0 1 1-1 0 1 0 0 0 0 1-2 1 1 0-1 0 0 1-1 0 3 1 0 0 0 2-2 0 0 0 2 0 0 0-2 0 1 1-2 0 3 0-3 0 0 1 2 0 0 1-1 0-1 0 2 0-2 0 0 1 3 0-2 0 0 1 2 0-2 1 0 0-1 1 2 0-1 1 0 0 1 1-2 0 3 0-2 2-1 0 1 1 2 0-2 0 0 0 1 0 1 1 0 1-2 0 0 1 1 0 1 1-3 0 1 0 1 1 1 1-3 0 3 0-3 1 1 0 1 0 1 0-2 0 2 0-1 1-2 0 0 0 0 1 0 0 2 1-2 0 3 0-3 1 2 0 0 1-2 0 2 1 0 1-2 0 0 2 0 1 0 0 1 0 0 1 2 0-1 1-2 0 2 1 1 0-2 0 2 1 0 0 0 0-3 0 1 0 0 1 1 0 1 1 0 0-2 1 0 0 2 1-3 0 0 0 0 1 3 2-2 1 2 0 0 0 0 0-1 1 0 0-1 1 1 0-2 2 2 0-2 1 0 0 3 0 0 1-1 0 0 0-1 1-1 0 0 0 0 0 3 1-1 1-2 1 3 0-1 0 1 1-2 1 0 0-1 0 1 1-1 0 0 1 1 0 0 1 2 1-3 2 1 1 1 1-1 1 2 0-1 1 0 0 0 0-1 0 1 0 0 1-2 0 3 1-1 1 1 0-1 1-2 0 0 0 0 0 0 0 0 1 2 3-2 1 1 1-1 2 3 2-1 0-1 0 0 1 0 0 2 1-1 0-1 1 2 0-2 0 0 1 0 0 1 0-1 0 2 1-2 1 2 0-1 1-2 0 0 3 3 2-3 1 0 0 0 3 1 1-1 1 3 0-3 2 2 0 0 0 1 1-3 0 0 3 3 0-3 5 0 1 0 1 2 3-2 2 2 1 1 1-3 1 3 0-3 3 0 5 2 4 0 0-1 1 1 12 0 0-2 1 0 3 3 1 0 0 0 1 0 5-2 1 1 4-1 5 0 1 2 4-2 2 2 0 0 5-1 0 1 3-1 12-2 3 2 0 0 4-1 1-1 4 1 1 0 19 2 16-1 0 1-1 2-13 1-7 0-12 1-4 0-7-3-3 1-2 1-3-1 0-1-2 0-11 2-7-1-1-1-5 0-2 1-3 1-2 0-1-2-4 2-1-2-4 2-1 0-1 0-6 1-1-3-5 0-4 1 0 0-3 2-1 0 0-2-1-1-1 1 0 0-1 1-1 1-1-2 0 2-1 0-7-2 0 0 0 2-1 0-3-2-1 1-1 0-4-2-1 1-4 0 0 0-2 2-2 0 0-1-1 0 0 0 0 0-1-2-3 1 0 1-2-1 0-1-1 1-1 0 0-1 0 1-2-1-1 0-1 3-1-1-3 0-3 0 0-2 0 0-1 3-1-3 0 0-1 0 0 3-1-3 0 0 0 0-1 1-1 0-1 0 0 2-1-2 0 1-2 1 0-3-2 0 0 2-1 0-1-1-1 2-1-3 0 2 0-1 0 0 0-1-1 0 0 2 0-1 0 0-1 1-1 0-1 0-1 1 0-3-1 3-1 0 0-3-1 2-1 0 0-1 0 2 0 0-1-2 0 2-1-2-1 1 0-2-1 1 0-1 0 1-1 0-1 0-1 2-1-3 0 3-1-2-1-1-1 0 0 2 0 1 0-2-1 2 0-1 0-2 0 2-1-1 0-1-1 3 0-1-1-2 0 1 0 1-1 0 0 0-1 0-1-1-1 2-1-1 0-2 0 1-1 1 0-2 0 1 0-1-1 2 0-1-1 2 0-3 0 2-1-2-1 0 0 1-1 1 0 1 0-1 0 0-1 1 0-1-1 1 0-2 0 1 0-1-1 1-1 1 0-3-1 2 0 1 0-3-1 0 0 3 0-1 0 0-1 0 0-1 0 0-1 1-1-2 0 3 0-2 0 0-1 1-1-2 0 0 0 3-1 0 0-3-1 2-1-2 0 1 0-1 0 0 0 1 0 2-1-2 0 0 0 0 0-1-1 2-1-1 0 1 0 1 0-2-1-1 0 1-1 0-1 1-1 1 0-1 0 1 0 0-2-3 0 1-2 1 0-1-1-1 0 3-1-2 0 0-1 0 0-1 0 0-1 0-1 3-1-2 0 2-1-2 0 2-1-3-1 3 0 0-1-3 0 0 0 3 0-3-1 2 0-2-1 3 0 0 0-1 0 1 0-2-1 1 0 1 0 0 0 0-1-1 0-1-1 1 0 0 0 0 0 0-1 0 0 1 0 0-1-1-1 0 0 0 0-2 0 1-1 2 0 0-1-2 0-1-2 3 0-3 0 2-1 1-1-1-1-1 0-1 0 1 0 0 0-1 0 3-2 0 0-3 0 3-1-3-1 3 0-1-3-1 0 0 0 2 0-2-1 2 0 0 0-3 0 3-1 0 0-2 0-1 0 0 0 0-2 3-1-2 0 1-1-2 0 2-1-2-1 2 0-2-1 2 0-1-1-1 0 3 0-2-1 0-3 1 0-2 0 3-1-2 0-1-1 2 0 0-1 0 0-2-1 3-1-1 0-1-1 1 0 1-1-2 0-1-1 3 0-2-1 0 0 1-1-1-2 2 0-2 0 0-1 0 0 1 0-1-2 2 0-2 0 0 0-1-1 1 0-1 0 1-1 1 0-2 0 0 0 3 0-2-1 2-1 0-4-1 0 1-1-1-1-2-1 1 0 0 0 1 0-1 0 0 0 2-1-1-3-1 0 1-1 1 0-3-1 2 0 1-1-3 0 3-1-3-1 0 0 3 0-1-1-1 0 0 0 1-2-2 0 1 0 2-1-3-1 2-1-2-2 3 0-2 0 0 0 2 0-2-1 1-2 0 0 0 0 0-1 0 0-1-1 0-1 1-1-1-1 0-1 1 0-1-1 2 0-1 0-1 0-1-1 3 0-2 0 2-1-1 0 1 0 0 0-3-1 1-1 2 0-2 0 0 0-1-1 1-1-1 0 3 0-2-1-1 0 3 0-3-1 1 0-1 0 1-1 0 0-1 0 2-1-2-1 3 0 0 0 0-1-1 0 1 0 0-2-3 0 3-1-2 0 0-2 2-1 0 0 0-2 0-2-3-1 0 0 2 0 0 5 5 0 0 0-2 0-1 1 3 1-2 0 1 1-2 0 3 1-1 2-2 1 2 1-2 1 2 0 0 0 1 1 0 0 0 0-1 0 1 0 0 2-3 0 1 0-1 1 0 0 0 0 0 1 0 0 0 0 0 1 3 0 0 0-1 0-2 1 2 1-1 0-1 0 1 1-1 1 1 0 0 0-1 1 2 1-1 0-1 1 0 1 2 0 1 0-3 0 3 0-3 0 0 1 2 0 1 0 0 0-1 0 1 0 0 0-1 0 0 0 0 1-1 0-1 1 3 1-1 0 0 1-1 1-1 0 2 1-2 0 1 0 2 0 0 1 0 1-1 0-2 0 1 1-1 0 3 0-1 0 0 0-2 0 0 1 1 1 2 0-2 0 2 1 0 0-2 1 2 0-1 0-1 0 1 0-2 1 0 0 3 1-3 0 0 1 3 0-1 0 0 1-1 0-1 1 1 0 2 2-3 0 1 1-1 1 0 2 2 1 0 0 1 1-3 1 0 1 3 0-3 1 3 1-1 0 0 0-2 0 3 0 0 1-2 0 0 0-1 1 3 0-3 0 0 1 3 0-1 0-2 1 2 0-1 2 2 0 0 1-3 1 0 1 1 1-1 0 1 1 1 0 1 0-1 1 1 3-3 0 2 0-1 0 2 1 0 0-3 0 1 0-1 1 1 0 1 0 1 0-3 1 2 0-1 0-1 1 1 1 2 0-3 0 0 1 3 1 0 3 0 0-1 1-2 0 0 0 3 1-3 0 2 2 1 1-1 0 1 1-1 0-1 1-1 1 3 0 0 2 0 1-2 1 1 0-2 0 2 0 1 1-2 1 1 1 0 0-2 0 1 0 0 0 1 0 0 1 0 0-1 0 0 0-1 1 3 0-3 1 3 0 0 0-3 0 3 0 0 1-2 0-1 0 3 0-1 0-2 0 2 2-1 1-1 0 2 0 1 0-1 1 1 0-1 1 0 0-1 0 0 1 2 1 0 1-3 0 1 0 2 1-3 0 1 0 2 1-3 1 3 1-1 0 1 0-2 0 2 2 0 0-2 0 2 0-1 2 1 0-3 0 0 2 2 0-2 0 1 0 2 1 0 1-1 0 1 1-1 0-1 1 2 1-2 0-1 0 1 0 1 2-1 0 0 1 1 0 1 1-3 0 1 0-1 0 0 1 2 1 0 1 0 0 1 0-3 0 0 0 3 1 0 0 0 0-3 0 2 1 0 0-1 0-1 1 3 1-1 2 1 0-3 1 2 0-2 1 3 1-2 0 2 2-3 1 3 0-3 1 2 0-2 1 2 0-1 3 1 1 1 0-2 1-1 0 1 0-1 2 1 0-1 0 2 0 1 0 0 1-2 0 1 0-2 0 3 1-3 0 1 0-1 1 2 0-1 0 2 1 0 1-2 0 1 1-1 0 1 1-1 0 2 0 0 4 0 0-1 1 1 1-3 1 0 1 2 0-2 2 2 0 0 0 0 1-1 1 1 1-1 1 0 0 0 1-1 0 3 1-3 0 1 2 1 0 1 3-2 1-1 1 3 1-2 0-1 1 3 1 0 1-1 0-2 0 3 1-2 0 2 0-1 1 0 0-1 0-1 1 2 0-2 2 0 0 0 0 1 2 2 0 0 1-1 1-2 0 2 0 1 2-3 1 1 1 0 0 1 1 0 0 0 0 0 0 1 1-2 4 0 0 0 4-1 1 1 0 2 2-2 1 1 1-1 1 0 4 1 0 0 2-2 4 1 0 2 1-2 0-1 0 3 1-3 1 2 1-2 1 0 0 0 0 3 2-2 4 0 4 0 1 2 1-1 2-2 0 3 2-2 1-1 1 1 2 2 1-1 1 1 4-3 16 0 0 3 2-2 4 1 8 0 2 0 18-1 3 2 10-3 17 0 6 0 2 1 1 0 4 0 16 2 3 0 5 1-12 2-14-1-4 0-1-1-3 2-9 1-11-3-37 3-2-1-1-2-4 2-3-2-1 1 0 0-2-1-2 0-3 1 0 2-3 0-2 0-2 0-1 0-4 0-2-3-6 2 0-2-5 2-2 0-2-1-4 2-1-1-7-1-1 0-2 0 0 1-2-1-2 2-1 0-8-2-1 2-4-3-1 2-2-2-1 0 0 2-2-1 0 2-2-3 0 0 0 0 0 1-6 2-2-3-1 2 0 1-1 0-1-1-3-1 0 1-1-1-2 1-1-1-1 2 0-2-1 0-2 1-3-1 0 0-2-1 0 0 0 0-2 3 0-2 0 0-1 1 0-1 0 2 0-2 0 0 0 2 0-2-1 1-1 1 0-1 0 0 0 1 0-1-1 0 0-2-1 1 0 2-1-1 0-1 0 2-1-2-2 2-1-1 0 1 0-3 0 3-1-3 0 3 0 0 0-1-1 1 0-3-1 1 0-1-1 2-1-1-1 1 0-2-1 3 0-2 0 2 0-3-1 3 0-3 0 0-2 3-1-3 0 1 0 2-1-1 0-1 0-1-1 2 0-2 0 2 0-2-1 1 0 0 0-1-1 2 0-1 0 2 0 0-1 0-1-1 0-2-1 0 0 3 0-2 0 0 0 1-1 0-1-1-1 0 0 1-1-1 0-1 0 1 0 0 0 0-1 1 0 1-1-3 0 2-1-1-1 1 0-1 0-1 0 3 0-3 0 1-1 2 0-2 0-1 0 0-1 0 0 1-1-1 0 0 0 0-1 1 0 2 0 0-1-1 0 0 0 0 0 0 0-2 0 0 0 0-1 0-1 0 0 1-1 1 0-1 0 1-1-1 0 1 0-1 0 0 0 1-1 1 0-3 0 1-1 1-1-2 0 2 0-2-1 0 0 3 0-3-1 0-1 2 0 1 0 0-1 0 0-1 0-2 0 2-2-1-1 0 0-1 0 3 0-2-1 1 0-2-2 0 0 0 0 3-1 0 0 0-1 0 0-2 0 0-1 0 0 2-1-3 0 0-1 1 0 2 0 0-1-2 0-1-2 1 0 2 0-2 0 2-1-1 0-1 0-1-1 2 0 0 0 1-2-1 0-1 0 2 0-1-1 0 0-2 0 1-2 2 0 0-1-3 0 3-1-2 0 0 0 0 0 1 0 0-2 1 0-1 0-1-1 2-1-2 0 1 0 0 0-1-1 1 0-1 0 0-1 2 0-2-1 1-1-2 0 3 0-2 0 0-1 0 0 1 0-1-1 2 0-3 0 3 0 0 0-2-1 0 0-1-1 1 0 0 0 2 0-2-1 0 0 1 0-1-1-1 0 1 0 2 0 0 0-2-1 1 0-2-1 3 0 0 0-2 0 2-1-3 0 0-1 2 0-1 0-1-1 2-1 1 0 0 0 0 0-2-1 0-1 2 0-1 0 1 0 0 0 0 0-1-1-2 0 2 0 0-1-1-1-1 0 2 0 0 0-1-1 1 0-2 0 0-1 0 0 1-1 1-1-2 0 1-1 1 0-2 0 3 0 0-1-3 0 0 0 2 0-2 0 2 0 0-1 0 0-1 0 2 0-3 0 2-1 1 0-2 0 1 0 0-2-2-1 2 0-2-1 1 0 1 0-2 0 2 0-1-1 0 0-1-1 1 0-1-2 0 0 0 0 3-1-1 0 1 0-2-1-1-1 0-1 0 0 1 0 1-1 1 0 0 0-3-1 2 0-2-1 2-1-2 0 0-3 2 0 1 0-3 0 2-1 1 0-2-1 1 0-2 0 1 0-1-3 3-1-2 0 2 0-1-1 1-1-2 0 2-1-3 0 2-1 0 0 1-1-2 0 0 0 2 0-2-1 1 0 1 0-2-1 1 0-1-1 1 0 0 0 1-2-2 0 2 0-1 0-2-1 2 0 0-2 1 0-2-1-1 0 0 0 0 0 0-1 0-1 1 0 2 0-3-1 1-1 0 0 1 0-2 0 1-1-1 0 3 0-2-1 2-1 0 0 0-1 0 0-1-1-2-1 3 0 0 0-1-1 1 0-2 0 1 0 1-1-3 0 3-2-1-2 0-1 1 0-3-1 1-1 3 0 0 0 0 2 2 0-2 0 3 1-3 1 0 3 1 0-1 1 0 1 1 0 1 0 0 1-1 0 1 1 0 0-2 0 0 1 0 0 0 0 0 0 3 1 0 0-2 1 0 0 1 0 0 0 1 1-1 0 1 1-1 0 1 1 0 0-1 0 1 0-2 1-1 1 2 0 1 0-1 0-1 1-1 0 1 0 0 1 1 0 0 2 1 2-2 0 2 1-2 0 0 0 1 1-1 0 2 0-2 1-1 1 3 2-2 0 0 0-1 1 1 0-1 0 3 0-2 2 0 1-1 0 0 1 1 0 2 0-2 1 1 0-1 0-1 1 3 1-1 1 0 1-1 0 1 0-1 1 0 0 0 0-1 0 1 1 1 0-2 0 1 1 0 1 2 0-2 0 0 0 1 1-2 0 0 1 2 0-2 2 2 0-2 0 1 0 1 1 0 0 0 0 1 0-2 0 0 1-1 0 1 1 1 1-2 0 0 1 3 0-1 0-1 1-1 0 3 1-1 0-2 1 3 0-2 0 0 0-1 0 2 3 0 0 1 1-1 1 1 0-1 0 1 1-2 0 2 1-2 1-1 0 3 0-1 1 0 0-1 1 2 0-2 0 1 1-2 2 2 0-1 0 2 1 0 0-1 1-2 0 3 0 0 1-1 0 1 0-1 0 1 1-3 0 2 0-1 1 0 1 0 0 1 0-1 1 0 0 0 0 1 1 1 1-2 0 0 1 2 0-3 0 3 0-2 1-1 0 1 1 2 0-2 0 0 1 1 0-1 0 2 0-2 1 0 2 1 1-1 0 2 1 0 0 0 1-1 0-1 0-1 0 0 0 0 1 0 0 3 0 0 0-1 0 1 1-1 0 0 1 1 0-1 0-1 2 1 0-2 0 1 1 2 0-3 0 2 0 0 2-1 0 2 0-2 0 0 0 0 1 2 1 0 0-1 0 0 1 0 0 1 0 0 0 0 1-3 0 0 0 0 0 2 0 0 1-1 0 2 0 0 1-3 0 3 0-3 3 1 0 1 0 1 0-3 1 0 0 0 1 0 1 1 0 0 0 0 0 1 0 1 2-1 0-2 0 3 0-2 2 2 0-2 1 1 0-1 1-1 1 1 0 2 2 0 0-1 0 1 1 0 0-2 1-1 0 0 1 2 1-2 0 1 0 2 0 0 3 0 1-1 1 0 0-1 0 2 3-3 0 2 0-2 0 0 0 0 0 1 1 0 0 0 1 0 2 1 1-1 0 0 1 1 0 1 1 0 0-3 1 3 1-3 0 3 0-3 1 1 0 0 0 1 1-2 0 2 1-1 0 2 1-1 1 1 0-2 0 1 0-2 1 0 0 2 1-1 1 1 1 0 0 0 3 1 0-2 0 2 1-2 1 1 0-1 0 1 1 1 1 0 0-1 0-1 1 0 1-1 2 2 0 1 1-3 1 2 0 0 0 1 1-2 1 0 1 2 1 0 0-3 2 2 0-2 0 1 1 1 1-1 5 2 1-3 0 3 2-2 0 1 1 0 1 1 1-2 0 2 1 0 1-3 1 0 0 0 0 2 0-2 0 1 1 2 0 0 1-1 0-2 1 2 0 0 1-1 1 0 0 1 0-2 4 0 0 1 1 0 1 1 0 1 2-3 1 3 1 0 1 0 2-1 1-2 1 2 0 1 0-1 0 1 2 0 0 0 4-1 2-2 0 1 1 0 1 2 0 0 1-2 0 0 2-1 7 2 1 1 0-2 1 2 2-1 1 1 1-3 6 2 0 0 4 1 1-2 2-1 2 1 7 0 4 2 2-3 6 2 5-1 2 0 10 0 2-1 1 2 6-1 0-1 8 2 16 1 5-3 1 2 8-1 8-1 7 1 10 1 2 0 6 0 4-1 2 1 1-1 7 2-2 4-2-2-7 0-3-1-4 0-4 2-1-1-2 2-1-3-6 3-7 0-16-3-11 0-13 3-3-3-11 2-11 1-10-3-1 3-1-3-6 3-11-2-6 0-5 0-9 1-3 1 0-2-1 2-3 0-3-1-7-2-7 2-4-1-2 2-1-3 0 0-1 0-1 3-1-3-2 3 0-2-1 0-1 2-1-2-3 0-1 1-3 1 0-2-1 2-1 0-1-2 0 1-1 1-2-2-1 2 0 0-4-1-1-2-2 2 0 1-1-3 0 0-1 2-2 0 0 1-2-3-2 0-1 3-1-3 0 0-1 3-1 0-1-2 0 1 0-2-1 0-1 0-1 0 0 0-3 1 0 2-1-1-1 1 0 0 0 0 0-3-1 2 0 0-3-2 0 1-3-1 0 3 0-3 0 1 0 0-1-1 0 1 0 0-1 0 0 2 0-2 0 0-1 1 0-1 0 0-2-1 0 1 0 1-1-2 0 1-1-1 0 3 0-2-2 1-1 0-1-1 0 2 0 0 0-3-1 2 0-1-3-1 0 0-1 1 0 1 0-1 0 1 0 1-1-1-1-1 0 2-1 0 0-1-1 0 0-2 0 2 0-1-1 1 0-1 0 2-1-2 0-1 0 1-1-1 0 3 0-3-1 2 0 0-1 1 0 0 0-2-1 0 0 0-2 1-1 0 0 0-1 1 0 0 0-3-1 0 0 0-1 3 0-1 0 0-2 0 0-2 0 2-1 0 0 0-1 0 0-2 0 1 0 0 0-1 0 1-1 0 0 2-1-3-1 1 0 0 0-1 0 3-1-2-1-1 0 1-1 1 0-2-1 0 0 0-3 0 0 1-3 0 0 0 0 1-1-2 0 0-1 0 0 1 0 0 0 0 0 1-1-2-1 2-1-2 0 0 0 2-1-2 0 2 0 1 0 0 0-1-1-1 0 1 0-2-1 2-1-2 0 0 0 1 0-1-1 1 0 1-1 1 0 0-1 0 0-3 0 1 0 2-1-1 0-1-1 0-1-1-1 0-1 0 0 1-1 1 0-2-1 3-1-1 0 1-1-2-1 1 0-2 0 0-1 2 0 0-1-2 0 0-1 1 0 0-1-1 0 0 0 0-1 0 0 2-1 1-1-1 0-2 0 0 0 0-1 2-1 0 0 0 0-1-1 2-1 0 0-2-1-1 0 1 0 0 0-1 0 2-1 1 0 0-1-2 0-1 0 2-1-1 0 1 0 0 0-2 0 3 0-1-1-1 0-1 0 2-1-2 0 1-2 2 0-2 0 0-1 0 0 2 0-3 0 0 0 2-1 1 0-3 0 0 0 1-1 1 0 1 0-3-1 2 0 0-1 1 0-3-1 2 0 1-1-1 0-1-1-1 0 1 0 0-1 2-1-3 0 1 0-1 0 2-1-1 0 0-1 0 0 0 0-1 0 1 0 0 0 1-1-1 0-1 0 0-1 0 0 2 0-2-1 0 0 1 0 0-1 0 0 2-1-3 0 3 0 0 0-2 0 2-1-3 0 0 0 2-1-2 0 0-1 3 0 0 0-2 0-1 0 0 0 1-1 0 0 1-1-2 0 3-1-2-1-1 0 0 0 0 0 0 0 0-1 3-1-3 0 0 0 2-1 0 0 0-1-1 0-1 0 0-1 3 0-1-1-1 0 2 0-1 0 1 0 0 0 0-1-2 0-1 0 0 0 0-1 1-2 1 0 0-1-1-1 0 0 0-2 0 0 0-1 0 0 0-1 2 0-2-1 1-4 0 3 2 1 2 0-2 1 0 1 1 1 2 0-2 1 0 0 0 0-1 1 3 0-3 0 3 1-3 0 0 0 2 2 1 0-2 1-1 0 1 0 0 0 1 0-1 1 1 0 0 1 0 0-2 0 2 0 1 0 0 1 0 0-2 0-1 0 0 1 1 1 0 0 2 0-2 1 1 0 1 1 0 0-3 0 1 0 2 1-2 1 0 1 2 0-2 0-1 1 3 0-3 0 1 1 0 0 0 0 0 1-1 0 0 1 2 0-1 0-1 0 0 1 1 0 2 0 0 1-1 0 1 1-2 0 1 1 0 1 1 0-2 0 1 2-2 0 1 0 0 1 2 0-2 0 0 0 1 1 0 1 0 0-2 0 2 1-2 2 2 0 1 0 0 0-3 0 3 1-2 0 1 1 0 0-2 1 2 1-1 0 1 1-1 1 1 0-1 0 1 1-2 0 1 0 0 1 0 0 2 0 0 1-3 0 3 1-2 0 1 0 0 0 0 0-1 1 2 0-3 1 3 0 0 1-1 0-1 1 0 0 1 0-1 0 1 1-2 0 1 1 1 0-2 0 0 1 2 1-2 0 3 1-2 0 0 0-1 1 1 0 2 0-3 0 1 0 0 1 0 0 0 0 2 1-1 0 1 0-2 0 2 0-1 1-1 0 0 0 2 2-3 0 3 0-2 0 2 0-3 0 1 1-1 0 1 1 2 1-2 2 2 0-1 0 0 0 1 0-2 1 0 0 1 0 1 1-1 0 1 0-2 1 1 1-1 0 0 1-1 0 1 1 0 0 2 0-2 0-1 0 3 0-1 1-1 0 1 1-1 0 2 0-1 1 1 0-1 0 1 1 0 0-3 0 2 1 1 0-1 0-2 0 1 1-1 0 3 1-2 0 0 0 1 0-2 0 1 1-1 0 1 1 0 0 1 0 1 1-1 0 0 1-1 0 2 0-2 0 1 2 0 0 1 1-1 0 1 1 0 1-3 1 2 0-2 0 3 0-3 0 0 0 1 1-1 0 0 1 0 4 0 0 0 0 2 3 0 1 0 1 1 0-2 0 0 1 2 0-1 0-1 0 1 1-1 0 0 0-1 1 0 0 1 1 2 0-1 1 0 1 0 0 0 0-1 0 1 1 0 0-1 0 1 0-2 0 0 1 0 0 3 1-2 1 2 0 0 0-2 0-1 2 3 4 0 0-1 1-2 0 1 0-1 1 3 1 0 0-3 1 3 2 0 0-1 1 0 0-1 1-1 1 3 0-1 1 0 1 1 1-3 0 1 0 0 1-1 0 3 0 0 2-3 1 2 1-1 0 2 0-2 1 0 0 2 0-1 0 0 0-1 1-1 1 2 0-1 1 1 1-2 1 2 4 1 1-1 0 0 3-2 0 0 0 2 1 1 1 0 1 0 0-2 2 2 0-3 1 1 3 2 1-2 0 0 1 2 1-1 0 0 1 0 2-1 0-1 0 2 1 0 1 1 2-2 0-1 1 1 0-1 1 3 1 0 0-2 2 2 1-3 3 3 1 0 2-2 0 0 3-1 1 1 1 2 0-3 1 1 1-1 1 0 4 2 5-2 0 1 1-1 3 2 1-1 5 2 3-3 0 1 2 2 6-1 1-1 3 1 4 1 0-1 3 0 3 0 1 0 3 1 10-1 6-1 5-1 8 0 0 3 5-2 1 2 1-1 3-1 8 1 10-2 1 0 2 1 2 2 0 0 12 0 6-1 5-1 7 2 13-2 11 1 13 1 7 4-5-3-7 2-13 1-2-2-9 2-5-2-19 1-12-2-11 1 0 1-1 1-4-1-10-1-1 0-9 2-1-3-3 0-6 0-3 2-6 0-1-2-3 3-1-1-1-2-2 2 0-1-8 2 0-3-4 1-3 2-7-3-3 2-7-2-6 1-1 1 0-2 0 3 0-3 0 1-3 1-1-2-1 3-2-3-4 1 0-1-2 0-2 2-3-1 0 0 0 1-9 1-5-1 0-2-3 0-1 3-1-2-1 0-2 1 0 1-1 0-1-1 0 1-2-3 0 3 0-1-1-2 0 0-1 0 0 3 0-3 0 3-1-1-1-1 0-1 0 0-2 1-1 0-2-1 0 1 0 1 0-2-1 3 0-2-1 1 0-1 0 2-2 0-1 0 0 0 0-3 0 2 0 0-1-1 0 2-1-3 0 2 0 1 0-3-2 1 0-1 0 0-1 3-1-1 0 0-1 1 0-1-1 1 0-1-1-2-2 3 0-3-1 2-1-2 0 3-2-1-1-2-1 2 0 1 0-2 0 2-1-2 0 0 0 1-1-1-1 1-1-1 0 2-1 0-1-2 0-1-1 2-1-1 0 0 0 1-1 1 0-2-1 1-1-1 0 0 0 0-1-1 0 3 0 0-1-2-1-1 0 3-1-1 0 0-1-2 0 2 0-2-1 1 0 1-1-1 0 1-2 1 0-2-1 0 0 0-1 0 0 0-1 2-1-1-1-1-1-1 0 0-1 3 0-1-1-1 0 2-2-1 0-1-1 1 0-1 0 1-2 0 0 1 0-2 0 1 0 1 0-1-1-2 0 2 0 0 0-2 0 2-1-1 0 1 0-2 0 3-1-3-1 2 0 0-1 1-1 0 0-3 0 2-1-1 0 1-1 1 0-3 0 3 0-2-1 0 0-1-1 2 0-2-1 1 0 0-1-1 0 0-1 1 0 1 0-1-1 1-1 0 0-1-1 1 0 0-1-1 0 1 0-1 0 1-1-2 0 2-1-2 0 0 0 3 0 0-1-2 0-1 0 2-1 1 0-1 0-1-1 2 0-1-1-1 0 2 0 0-1 0 0 0-1-2-1-1-1 2 0-2-1 2 0 0 0-2-1 1 0 1-1 0 0-2 0 1 0 1 0-1-1 2 0-3 0 1-3 0 0 1 0 0 0-1 0 0 0 0 0-1-1 3 0-3 0 1 0 2 0-1 0 0 0-2 0 1 0 2-1 0 0 0 0-1 0 0-2-1 0-1 0 1 0-1 0 2 0 0-1-2 0 2-1 1 0-2 0-1 0 0-1 3 0-2 0-1-1 0 0 2-1 0 0 1 0-3 0 0-1 3 0 0 0-2 0 2-2-1 0 1 0-1-1 0 0-2 0 2 0-1-1 0 0-1-1 0 0 0 0 0-1 1-1 1 0-1 0 2-1 0 0-2 0 2 0-1-1 1 0 0-1 0-1-2 0 2-1 0 0 0 0-2 0 0-1 0 0 2 0 0 0-1 0 0 0-2 0 1-1 2 0-3-1 2 0 1 0-2 0 0 0 2 0-3 0 1-1 0 0 0 0 2 0-1 0 1-1-2 0 2-1-2 0 0 0 1 0-1-1 1-1-2-1 2 0 1 0 0-1 0-1-2 0 2-1 0 0 0 0 0 0 0 0 0 0-3-1 0 0 2 0-2 0 3-1-1 0-2 0 2 0-2-1 2 0-1 0-1-1 0 0 0 0 3 0-1-1-2 0 2 0-2-1 1 0 1-1-2 0 1 0 2 0-2 0 1-1 0-2 1 0 0 0-3 0 0-1 3 0-1 0 0-1 0 0-1-1-1-1 1 0 0 0 1 0 0-1-2 0 3-1-2 0 2 0 0-2 0-3-3-1 0-1 2-2-2 7 6 1 0 3-2 0 0 0 0 1 1 0 2 1 0 0-1 0 1 0-3 1 0 0 0 0 3 1-1 0 0 0-2 0 3 0 0 1 0 0-1 0-1 1-1 0 1 0 1 0 0 0 0 1-1 0 0 1 2 0 0 0-2 0 0 0 2 1-2 1 0 0 1 0-1 1 0 0 2 0-2 1 2 0-3 1 3 0-2 0 0 0 1 1 1 0-2 0 1 1 0 0 0 0 0 0-1 1 0 1 0 0 1 0 0 1-2 0 2 1 1 0-2 1-1 0 1 0 0 0 2 0-1 1-2 0 3 0-1 0 1 1-1 0-1 0-1 3 0 2 2 0-2 0 0 0 1 0 2 1-3 0 0 0 2 2 1 0-1 0-2 0 0 1 3 0-1 0 1 1 0 0 0 2-3 0 0 0 3 1-2 1 1 2-2 0 2 1 0 0 1 0-1 0-2 0 0 0 3 1-2 0 1 1-1 0 2 1-1 0-2 1 1 0 2 0-2 0-1 1 0 0 3 1-3 1 3 0-3 1 0 0 1 1 0 1-1 0 1 0 1 0-1 1 0 0 0 1 1 1 1 0 0 1-3 0 3 0-1 1 1 0-2 0 0 2 2 0-2 0 1 1-2 0 1 1-1 0 3 1 0 1-2 0 0 0-1 1 2 0 1 0 0 2-1 0-1 0 2 0-1 1 1 1-3 0 2 0-1 1 1 0 1 0-3 1 1 0 2 0-1 0-2 1 2 0-2 1 0 0 2 0 0 1-1 0 0 3 2 0-3 0 3 1-3 0 1 0 2 1-2 0-1 0 0 0 1 1-1 1 1 0 1 0-2 1 0 0 2 0-1 1 2 0-1 0-1 0 1 2 0 1 0 0-1 0 2 1-2 1 0 1 1 0-1 1 2 0-2 1 0 0-1 0 1 1 2 0-3 0 3 1-1 0 1 1 0 0-1 1-1 0 1 1 0 0-2 0 1 0 2 1 0 0 0 1-1 0-2 1 2 0-1 1 2 0-2 0 0 0-1 1 3 0-1 1 0 0 1 0 0 0 0 0 0 1-2 0 2 1-2 0-1 1 0 0 1 0-1 2 1 2-1 0 2 0 0 0-1 0 2 0-1 1-2 0 2 1 1 1-1 0-1 0-1 0 3 1-1 0-2 1 3 0-2 1 1 0 1 1-1 1-1 0 2 0-3 2 1 1-1 1 3 0-3 1 2 0-2 0 1 0 0 0 2 1-2 0 2 0-3 1 1 0 2 1-3 1 0 0 0 0 0 0 1 1 1 0 0 3-2 0 2 2 1 1 0 1-1 0 1 1-3 1 2 1 1 1 0 1 0 0-1 1 1 0-1 1 0 0 1 0-1 0-1 0-1 2 3 1-2 2-1 1 3 1-1 1-2 3 2 0-1 1 2 1-3 1 0 0 2 1 0 0 0 0 1 2-2 0-1 0 2 1 1 0-1 1-1 0 0 0 0 3 0 3 0 0 1 1-2 0 0 1 1 0-1 1 3 0-3 1 2 1-1 0 1 4-1 6 0 10 0 1 2 0 0 36-3 1 0 2 3 4-2 10 2 16-3 2 0 4 0 5 0 22 1 17-1 1 0 35 0 12 0-13 5-33 2-34-2-6 2-48-1-14 0-1-1-11 2-6-2-2-1-2 1-5 1-2-2-2 2-5-2-8 3 0-2-2-1-2 1 0 1 0 1-2-1-1 1-2 0-3-3 0 0-1 3-1-2-2-1-2 1-3 0-2 1 0-2-2 1 0 0-1 0 0 2-1-1-1-2-1 0-1 3-1-1 0 0 0 0 0-2-3 1 0 1-1-1-1-1-1 1 0 1 0 1 0-3 0 3 0-3-2 3-1-2-1 1-2 0-1-2-1 1 0 0 0 2-1-3 0 1-1 0 0 1-3-2-1 3 0 0-1-1-1 0 0 1-1 0-1-2-1 0 0 1-1-2 0 0 0 3-1 0 0 0 0-3-1 0-1 0-1 3 0-3 0 2-1-2 0 1-1 1 0 1 0 0 0-1 0 0-1-1-2-1 0 3-1-1-1-2 0 3-2-2 0 1-2 1 0-1 0-1-1 0-2 2 0 0 0-2 0 0 0 1 0 0-2-2-1 3 0-3 0 3-1-3-1 3 0 0-1-3-2 0 0 0 0 1-1 0-1 0-1-1-1 2 0-2 0 0-1 0 0 3-2 0 0 0 0-3 0 1 0 2-1-3 0 2 0 1-1 0-1 0 0 0 0-3 0 1-1-1-1 1-1 0 0 2 0-2 0 0-1 1 0 1 0-3 0 1 0 1-1 0 0 1-1-1 0 1-2-3 0 3-1-1-1 0-1-1 0 0-1 0 0 1-1 0 0-1 0-1 0 1 0-1 0 0 0 0 0 0 0 1-1 0 0-1 0 1 0 1-1 0-1-2 0 0-1 3-1-1 0 0 0-2-1 1 0 0-1 0 0 0 0 0 0 2 0-2-1 0 0 1 0 0 0 0 0-2-2 1 0 1 0 1 0-1 0-1-1 1 0-2 0 2-1 0 0-2 0 1-1 1 0 1-2-2 0 1 0 0 0 0 0-2-1 0 0 2 0 0-1-1 0 2 0 0-1-2-1 2 0-1 0 1 0 0-1 0-1-2 0-1-1 0 0 0 0 3 0 0-2-3 0 1 0 2-2-1 0-1-1 1 0-2 0 1-2-1 0 3 0-1-1-1 0 1 0-2 0 3 0-1-1 1 0-1 0-1 0 1-1 0 0-1 0 1-2-1 0 0 0 2 0-3-1 0 0 3-1 0 0-1-1-2 0 1 0 1 0-2-1 1 0 2-1-3 0 2 0-1-1-1 0 2 0 1-2-3 0 2-1 1 0-1 0-1 0 0 0 0-1-1-1 3 0 0 0-3 0 3-1-1 0 0 0 0 0-2 0 0 0 2 0-1 0 0-1 1 0 1 0 0 0-1-1-1 0 0 0-1-1 2 0-1 0-1 0 1 0 0 0-1 0 1-1 2 0-2 0 1-1 0 0 0 0-2 0 0 0 2-1-2-1 2 0 1 0 0 0-3-1 1 0 1-1 1-1 0 0-1-1 1 0-1 0 1-1-3 0 2 0-1-1 1-1 1 0-1 0 1-1-1 0-2 0 2-1 0-1-2 0 0-1 2-6 4 8 1 1-3 0 1 0-1 0 0 1 1 2-1 0 1 0 1 1 0 0 0 0-2 1 1 0-1 1 0 0 0 1 0 1 3 0-3 0 1 0 2 1-3 0 3 0-3 0 1 1 2 0 0 1 0 0-2 0 2 1 0 0-3 0 1 1 0 0 1 0-1 0-1 1 0 0 0 0 0 0 0 1 2 0-2 0 1 1 0 0 1 0-1 1 2 0 0 0-3 0 1 0-1 1 2 0-1 0 0 0 0 1-1 0 1 0 1 0 1 1-2 0 2 0-1 0-2 1 1 0 1 1-2 1 0 0 1 0 2 1-1 1-1 0 0 1 0 2 1 0 1 0-3 0 0 1 1 0 1 0-2 2 2 0 0 2-2 0 0 0 0 1 0 0 0 0 3 1-3 0 1 0 1 1 1 0 0 0-3 0 2 1-2 0 2 0-1 1 1 0 1 0 0 0 0 1-1 0-2 0 0 1 1 0 2 1-1 0 1 0-3 1 0 1 1 1 0 0 0 0 2 1-1 0-1 0 2 0-1 1-2 1 2 0 0 0 0 1 0 1-1 0 2 1 0 0-2 0 1 1-2 0 1 1-1 0 1 1 2 0-1 1-1 1-1 0 3 0 0 1-3 1 1 1 2 0 0 0-2 1 1 0-1 0-1 1 2 0-1 1 2 0 0 0-2 1 0 0 0 1-1 0 3 1-2 0 1 0-2 1 3 0-2 0 0 1 1 0-1 1-1 0 3 0-3 1 0 0 3 1-3 0 1 0 1 1 0 1 0 0 1 0-2 1 1 0-2 1 0 0 2 0 1 0-2 0 2 0-1 0-2 0 0 1 2 0-2 0 0 1 0 0 0 1 3 0-2 1 2 0 0 0-3 0 1 1 2 1 0 0-2 1 2 0 0 2-1 0 0 1 1 1 0 0-2 2 2 0-1 0 1 0-1 0-2 1 2 1-1 0 1 0 1 1-3 0 0 0 3 1-1 0-1 1-1 0 1 0 1 1 1 0-3 1 3 1-2 1-1 0 1 0-1 0 1 1 1 0-2 1 0 1 2 0-2 0 1 1-1 0 3 0-1 0 0 0 0 0 1 1-1 1 1 1-3 0 2 0-1 0 1 1 0 0-2 0 3 1-3 0 2 0-2 1 2 0 1 1-1 1-2 0 0 0 1 0 2 1-2 1 1 0-2 0 3 0-3 1 1 0 2 0-1 1 0 1-1 1 1 1-2 0 0 0 0 2 2 0-1 0 2 1 0 0-3 0 3 1 0 0 0 0-1 1-1 0 0 1 1 0-1 0 2 1-1 2-2 2 0 0 2 1-1 1 0 1 1 1-2 1 3 0-3 1 0 0 1 1-1 1 2 0 0 3 0 1-1 0 0 1 2 2-3 2 0 0 2 0 0 3 0 0-2 1 2 2-1 3 2 0-3 1 2 1 1 1-3 1 0 0 2 0 0 1 0 0-1 1-1 0 2 2 0 0 1 2-2 1 0 0-1 0 3 0-3 4 1 2 0 6-1 3 2 5-1 1-1 3 2 0 0 1 0 3 0 1-1 2-1 1 2 4 0 1 0 12-1 9 0 14 2 3-1 18 0 37 0 6 1-53 4-4 0-47-1-10-1-3 0-5-1-1 1-1 1-1 1-1 0-1-1-3 0 0 0-1-2-2 1 0 2-1-1-3-1-1 2 0-3-9 0-2 2-2 1 0-3-2 1 0 1-2-1-1 2 0-1-6-1-1 2-1-2-1 0 0 1 0-2-1 1 0-1 0 0-1 3 0-3-1 2 0 1-1 0 0-3-1 0-1 2 0 0 0 1-1-3 0 0 0 2 0-2-2 2 0-1-1 0 0 1 0-1-1 0 0-1-1 1-1 0-1 1-1 1 0-2 0 2-1-3 0 3 0-2 0 1-1 0 0-2 0 3-1-1 0-2 0 0-1 0 0 1 0 1-1 1 0-2-2 1 0-2-1 0 0 2 0-2 0 1-1-1 0 3 0 0-1-3 0 0 0 1 0 0-1 1 0 0 0-2-1 3 0-1 0 1-1-1 0 1 0-3 0 1-1-1 0 2 0-1-2 2 0-2-1-1 0 1-1 0 0 2-1-3 0 1 0 0-1 0 0 0-1-1 0 2 0-2-1 2-1-1 0-1-1 0 0 0 0 2 0 1-1 0 0 0 0-1-1-2-1 0-2 1 0 0 0 1 0 0-1 0 0-2-1 0 0 2 0 0-1 1 0-2-4-1 0 2 0 0-1-1 0-1 0 1-1 1 0-2 0 0-1 2 0 0 0 1-1-3 0 3-1-3 0 3 0 0 0 0 0-3 0 2-1 1 0-3-1 2 0-2 0 2 0-2 0 3-1 0-1-1 0-2 0 0 0 1-1 1 0-1-2-1-2 0 0 0-1 2-2 0 0-2-2 3 0-2 0-1 0 3 0-2-1 0 0 0 0 1 0-1-2 2 0-3 0 0 0 1-1 2 0-1-1-1-1-1-1 0 0 0 0 0-1 0 0 2 0-1 0 2 0 0-1-3 0 1-2 0-1-1 0 1-1 1 0 0-1-2 0 2 0 1-1 0 0 0-1-3 0 2-1 0 0-1-1 0 0 0 0 1-1 1-2-2 0-1-1 1 0-1 0 1-1-1 0 0-1 0 0 1-1 1 0-2-1 1-1-1 0 0 0 1-1-1 0 1-1-1 0 0 0 1-1 0 0-1 0 0-1 2 0-2-2 3 0-2 0 0-2 2 0 0-2 0 0 0-1 0 0-1 0-2 0 2-2 0 0 1 0-2-1 2 0-2 0 0-1 0 0 1 0 0-1-2-1 3 0 0-1-2 0 1 0 1-1 0 0 0 0-2 0-1-1 2 0 0-1 0 0 1 0-1 0 0-1 1 0-2 0 0 0 1 0 1-1-3-2 0 0 3-1-2 0 0 0 0 0 0-1-1 0 0-1 3 0-1-1-2-1 0 0 3 0 0-1 0 0-1 0 1-3-2-1 1-1 0 0-2-4 1-1 1 0 1 0-1-1 5 4-3 1 1 1-1 1 2 0 1 0-2 1 0 0 1 2-2 0 1 1 2 0-2 1 0 0 1 0 1 1-1 0-2 0 0 1 0 0 2 0 0 2-2 0 3 0 0 0-2 0-1 1 0 0 1 0 2 0-1 0 0 0 1 1 0 0-2 0 1 0 1 1-2 0-1 0 1 1-1 0 1 0 1 1-1 0-1 0 3 0-2 1-1 1 3 0-2 1 2 1-1 0-1 1 1 0 0 0 0 1 1 0-2 0 0 0 0 0 1 1 0 1 0 0-2 0 0 0 2 0 0 2-1 0 0 0 0 0 0 3-1 0 2 1-1 0-1 1 3 0-3 0 1 1-1 0 3 0 0 1-3 0 1 1 2 0 0 0-1 0-2 1 2 1-2 0 3 0-3 1 0 0 2 0 0 0 1 0 0 1-1 0 0 1 0 0 0 0 0 0-2 0 3 1 0 0-3 0 1 1 0 1-1 1 3 1-3 0 3 0-2 1-1 0 3 0-3 0 0 1 1 0-1 0 1 1 0 1 0 0 0 1 2 0-3 0 1 1 2 0-1 0 1 0-3 2 2 0-2 0 0 0 0 1 2 1 0 0-1 0-1 1 3 0-2 0 0 1 0 1-1 1 2 0 1 1-1 0-2 0 1 2 0 0 2 0-2 1 1 0-2 0 0 1 1 0 0 0 1 0 1 1-3 0 2 0-2 0 2 2 1 0 0 0-1 2 1 0-3 0 3 1-1 0 1 0 0 1-3 1 1 0 0 2 0 1 0 0 0 0 0 1-1 0 3 0-3 1 3 0 0 1-3 0 2 0-1 0 0 1 2 0 0 0 0 0 0 1-1 0 1 0 0 1-1 0-1 0 0 0-1 1 0 0 1 1 1 1 0 0-1 0 0 1 1 0 1 2-3 1 1 0 1 0-2 1 3 1-1 1-1 0-1 0 2 0 0 0-2 1 0 1 2 0 0 1-1 0 1 0-1 1 0 0-1 0 1 0 1 0-1 1-1 0 3 0-3 1 0 0 1 0 2 0-1 1 0 0 1 1-1 0 0 0-2 1 0 0 2 1 1 0-3 0 0 0 0 2 1 0-1 0 3 0 0 0-1 0 1 0-2 1-1 0 2 0 0 1 1 0-1 1 1 0-1 2-2 0 0 1 2 0 0 0 1 2-2 0 2 0 0 0-1 1-1 0 1 1 0 1 0 1-2 1 3 1-2 1 1 0 1 1-2 0-1 1 1 1-1 0 1 0 0 0 1 2 1 0-2 0 1 3-2 1 3 1-1 1-2 0 3 1-1 0-1 2 2 0-2 0 0 0-1 1 2 0-1 0 0 1 2 0-3 1 1 0 0 1 1 0 1 3 0 0-3 0 2 0-2 1 1 1 0 2 0 0 2 0-3 0 3 1-2 5 0 0-1 2 1 3 2 2-2 1 2 0-2 2 1 2-1 4 1 5 1 4-1 10 0 3 0 2-1 2-1 37 3 2-3 31 3 4 2-66 2-9-2-4 0-10-1-1 3-3-2-4 1 0 0 0 1-1-1-1 0-3-1-3-1-2 0-1 1 0 2-1 0-1 0-1-1-5 0 0 1-2-2-1 1-2-2-1 0-2 0 0 3-2 0-1 0-2-3-3 2 0-1-1 2-1-2-2 1 0-1 0-1-2 2-1-2 0 0-1 1-1 0-2 2 0-1-1 1-1 0 0-2-1 0 0 2-2-1-1-1 0-1-2 2 0-2-2 1-1 1-1 0-1 1-2-3 0 1 0-1-3 0 0 2 0-2-1 3-1 0 0-3-1 0-1 1-1-1 0 0-1 0 0 3 0-2-1-1 0 2-1 0 0-1-2 2-1-3 0 0 0 3-1 0-1 0-1-2 0-1 0 0-1 3 0-3 0 2 0 1-1-3 0 1-1 1 0-1 0 2-1-3-1 0 0 0 0 3 0-2 0 0-1 1 0 1 0 0-1-1 0-2 0 0-1 0-1 0 0 1-1 1 0-1-1-1 0 0-1 0 0 1 0 1-1 1 0-1 0 1-1-2-1 2-1 0-1 0-1-3-1 2-1-2 0 3-1-3 0 1 0 1-1 0-1-2 0 3 0-1-1-1-1-1 0 1-1 2 0 0 0-3 0 1-1 1-2 0-1 1 0 0-1-2-1 0 0-1-1 2 0 1-1 0-1 0-2-3 0 2-2 0 0-1-2 2 0-1 0-2-1 0 0 2-1 1 0-2-1 2-1-2-1-1 0 0-1 1-1 2 0-1 0-1 0 0-2 2 0-2 0 1-1-1 0 0-1-1 0 3 0-1-1-2-1 0-1 1 0 0 0 1-1-1-1 1-1-1 0 2-1 0 0-3-1 0-1 0 0 2 0-1-2-1 0 1 0 1-2 0-1 1 0-1-1 1 0-3 0 1-1-1 0 0-1 2 0-1-1 2 0-3 0 2 0 0-1-1-1 0 0 0 0-1-1 0 0 2-1 0 0-2 0 2 0 1 0 0 0-1-1 0 0 0 0 0-1 1-1-2 0 1 0-2 0 0 0 1-1 2-3 0-1 0 0-1-1-1-1-1-1 0-1 2 0-1-1 0-1 2-1-3-1 2 0 0-4 1 1 1 2 1 3 0 2 2 2-3 0 1 1 1 0 0 0-1 0-1 0 1 0-1 1 3 0-1 1 0 0 0 1-2 1 3 0-3 0 0 0 0 0 0 0 1 0 0 1 2 0 0 1-1 0-2 0 2 0-1 1 1 0-1 0-1 1 2 1-1 1 2 0-1 0-2 1 1 0 0 0 2 1-2 1-1 1 3 1 0 1-2 0 1 1-2 0 0 0 0 2 0 0 1 1 2 1-1 0-1 1 1 0-1 1 2 0-2 1 1 0 0 1-1 0 2 0-1 0-2 0 0 1 1 2 0 0 2 1-1 1 0 1-1 0-1 0 1 0 2 2 0 0-2 0 1 1 0 2-1 0 2 0-1 1-2 1 1 1 2 0 0 1-2 0 2 1-2 0 0 1 2 2 0 1-2 0 1 0-2 2 1 0 2 2-3 1 1 4-1 3 1 2 0 2 1 1-2 1 3 0-2 0 2 1-3 1 1 0 2 1-1 0-1 1 2 0-1 0-1 2-1 2 2 2-1 0 2 2-3 0 0 0 1 6 0 0-1 0 0 1 0 1 2 0-2 0 2 0-1 0 2 1-3 1 2 0-2 0 1 0 0 0 1 1 1 0-2 0-1 1 3 0-1 0 0 2 1 0 0 0 0 1-2 0 1 0 1 1-1 0-1 0 0 2 1 1-1 0 2 1-3 0 0 1 2 1-2 0 2 1-2 1 3 1-1 1 0 0-1 0 2 1 0 0-2 0 2 0-2 1-1 0 3 0-3 0 1 1 1 4 0 0-1 2 2 0-1 0-1 2 1 2-1 3 0 2-1 1 2 3 1 6-1 0 0 7 0 0 1 2-1 3-2 5 2 9 0 5 0 40-1 7 2 50 1-21 2-54-2-3 0-2 2 0 0-2-1-4 1-4-2-4 2-2-1-13 0-2 0-2 2-2-2-1 2-1-3-2 2-4 0 0-2-5 2-4 1-1 0-1-3-1 2-2-1-5 0-3 2-2-3-4 3-2-1 0-2-1 0 0 1-1 0-4 2 0-3-1 1-1 1-1 1-1-3-3 3-1-1-1 1-2 0-6-3-1 1-1-1-2 3-1-1-1 0-1-2-1 0-6 1-1 1-2-2 0 3-2-2-1-1-1 2-2-1 0 0-1 0-1-1-2 3-1-1 0 0-1-1-1 2-1-3-1 2-2 0 0-1 0 2-1-3 0 3 0-3-3 0 0 2-1-1-1-1-1 0-1 3 0 0 0-1-4 1-1-3 0 0 0 0-1 1 0-1-1 0 0 2 0 1 0-2 0-1 0 2-1 0 0-1-1 1 0 1-1-1 0 1 0-2-2 0-1 1 0 1 0-2-1 1-1-2-2 3-1 0 0-3-1 0-1 1 0 0-1-1-2 2 0 1-1-2-1 1-1 1 0-2-1 2 0-3 0 1 0-1 0 2-2 1 0-1 0-2 0 0 0 3-1-3-1 2 0 0 0 1-1-3 0 1 0 0-2 0-1-1 0 1 0-1 0 2-1 0-1-1 0 0 0-1 0 3-3-3-1 0-2 1 0 1-1-2-2 0 0 5 2-1 1 2 1-1 1 0 2-1 2 3 0-1 1-1 0-1 0 3 0 0 1-1 0 1 1-2 0-1 0 0 0 0 1 3 0-2 1 0 1 0 0 1 1-2 0 3 3-2 2 2 0-1 1 0 0-2 0 2 0 0 0 0 3 0 0-2 1 0 0 3 2-2 0 2 0 0 1-2 1 1 1-2 3 2 1 1 1-3 0 2 4-1 0 0 0 1 4-2 0 1 1-1 1 3 2 0 1-3 2 2 0-2 4 2 1-1 1 0 2-1 1 3 1-2 2-1 0 3 2-2 0 0 4-1 2 1 0 0 1 0 4 0 1 1 1-2 6 2 8-1 1 2 9-3 2 1 5 0 6 2 3 0 4 0 0-2 1-1 1 1 0 2 1-2 1 1 3-2 1 2 2-2 0 3 7 0 1-1 6 0 2-2 2 3 6-1 4 0 1 0 0-1 16-1 7 0 2 0 1 1 22 3-19 2-23-1-5-1-1 2 0-2-1 2-27-1-5 1-1 1-1-3-4 3 0-1-13 1-1-1-7 1-4-2-2-1-3 0-3 0-8 1 0 0-6-1-2 2-3-1-3 1-4 1-3-1 0-2-1 1-1 0-1 0-2 1 0-2-2 1 0 1-1 1-5-2-1-1-1 1 0-1 0 1-1-1 0 3-1-3 0 3 0-1-3 0-1 0-3-1-1 2-3 0-1-3-3 0 0 0 0 2-2-2 0 2-1 1 0 0 0 0-1 0 0-3-3 0-1 1-1 0 0-1 0 0-1 1-1 0 0 0 0 1 0 0-1 0-1 1-1-3 0 1 0 0-1 2 0-2-1-1-1 1 0-1-1 2 0-1 0-1-1 0 0 3-1-1-3 1-1 0-6-3" fill="none" style="marker:url(#mk0)"/>
<path d="m487 892-1 13 1 2 0 2-1 0 0 4 0 0 1 4-1 0 0 2 0 2 0 2 1 0 0-2 0 6-1-3 0 2 0 5 1-2 0 3 0 2-1-2 0 3 0-3 0 6 1 4-1-2 0 1 1 7 0 0 0 4-1 6 0-2 1 11 0-3-1 6 1 0 0 11-1 4 1 0 0 2-1 1 0 3 0 2 1-1 0 9-1 3 0 7 1-3 0 13 0 4 0 5 0 3 0 4-1 5 1 0-1 3 1 7 0 3-1 1 1 1 0 6 0 2 0 1 0 5 0-2-1 5 1-1-1 9 1-1 0 0 0 2 0-2 0 0 0 4 0 2-1-1 1 5 0 1 0 2 0 13 0 3-1-2 0 7 0-3 0 10 1-2 0 7 0-1-364 21 5 5 157 11 15-3 15 3 16 0 21-1-231 5 0 0 16 4 120-2 8 1 25 1 5 0 4-1 27 0-31 4-8 0-1-2-158 0-2 1 140 5 1 0 24 1 8-3 1 2 1 0-7 2-60 2-114 1-18 4 12-2 14-1 3 0 0 3 73-2 11 2 13-3 11 2 21 1 10-2 13 2 6-3 8 1 5 0 6 2-33 1-4 2-11-1-15 1-23 0-100-2-1 3-1 0-7-2 7 6 9-3 63 0 14 1 7 1 16-2 4 3 4-1 9-1 15-1 7 1 13-1-1 4-3 0-20 3-15 0-8-3-17 2-10 1-43-2-18 2-16-1-7-2-5 0 0 0-4 1-1 0-2 2 3 3 4 1 0-3 6 1 7 0 60-1 32 2 10-2 6 2 8-2 8 0 17 0 9 2 3 2-8 2-27 0-3-1 0 1-14 0-5 1-1-1-25-2-8 3-24-3-3 0-7 3-14-1-21 1-4-3 0 1-2-1-4 5 2-1 1 0 3 3 9-2 21-1 3 0 6 2 2 0 8-1 31 2 24-2 0-1 4 1 7 2 12-1 1-2 7 1 17 0-39 6-15-2 0 2-5-2-3 0-4 2-5-2-7 0-50-1-5 0-4 3-7-1-5 0-1 0 0 0 0-1-2 0-1-1-2 0-1 1-1 1-6 5 6-3 0 0 1 2 4-1 3-1 7 1 1 0 14 2 10-2 3 0 1 1 3-2 14 3 0-1 7 1 24 0 2-1 5 1 10-1 4-1 9 1 15 0 4-1 8 2-14 3-20 1-13-2-12 1-37-1 0 1-4 1-7-3-5 2 0-2-5 0-5 2-8-2 0 0 0 0-1 0-6 1 0 2 0 0-2-1 0-2-5 3-8 0-2-3 1 7 3 0 0-3 1 2 1-1 1 2 1-3 0 0 3 0 2 2 0 1 1 0 0-2 3 2 1 0 4-3 4 2 0 0 1-1 11 0 4 2 3 0 1-3 3 0 4 3 3-1 21-1 38-1 2 0 7 0 7 1-17 5-11 1 0-2-11-1-13 3-9-3 0 2-4 0-9 0-25 1-1 0-1 0-4-2-6 1-1 0-1 1 0 0-2-2 0 1-2 0-1 0 0-1-1 1 0-1-5 0-5 0 3 3 6 3 1 0 0-2 1 1 4-2 2 3 4 0 5-3 2 0 2 2 0-2 2 2 1 0 0-1 0 1 14-1 2-1 13 3 1-3 2 3 3 0 7 0 5-1 3 1 0 0 9 0 3-3 11 2 4-1 3 1 1-2 2 7-5-2-8 2-5-3-6 3-3-2-3-1-2 3-2-1 0 1-2-2-2-1-14 1 0 1-13 1-5-2-2 2 0-2-1-1-3 2-2 0-1-2-5 2-9-2-6 2 0-2-1 2-5-2 0 1-7 2-2-1-5-1-1-1 3 4 0 0 3 0 2 3 1-2 1 2 2 0 7-2 3 1 3-1 2-1 13 0 1 2 24 0 8-2 1 1 4 2 14-2 0 1 0-1 7 2 6-3 6 0 13 3 8 4-26-3-5 2-3-2-16 3-2-2-2 1-5-2-10 0-2 1-7 0-3 0 0-1 0 3-7-3-6 1-1 2-3-1-4-2-1 1-3 0-6-1-3 2-1 0-2-1-1 2-1-1 0-1-1 0-2-1-1 0-3 3 0-2 1 3 1 3 3-1 0 1 1-2 1 0 7 1 11-1 8 1 21-1 20 0 25 0 5-1 4 0-2 4-15 0-18 3-6 0-53 0-7-2 0-1-1 2-1-2-1 1 0-1-2 5 1 1 2-2 5 3 2 0 0-2 3 1 0-1 1-1 0 3 2-2 0 0 55 0-59 5-4 1 0-1-1-1-2 2-1 0-2-2-3 1 2 3 8 2 6 1-6 1-3-1-9 2" fill="none" style="marker:url(#mk1)"/>
<path d="m487 887 0 5-1 1 1 9 0 1-1-2 0 0 0 4 0 7 1 0-1 9 1 4 0 6 0 2 0-1 0 7-1 4 0 0 1 7-1 0 0 1 1 1 0 1 0-1 0 7-1 3 1-2 0 7-1-2 0-1 1 5 0 0 0 5 0-1 0-1 0 10 0 1-1 4 1-3 0 0 0 11 0 4-1 6 1 3 0 0 0 6-1-1 0-1 0 5 1 0 0 14 0 5 0 27-1-2 0 3 0 3 0 9 0 6 1 5 0 0 0 2 0-1 0 6 0 0 0 4-1 6 1 6 0 0-1 5 1 0 0-2-1 3 1 4 0 2-367 28-5 13 180-2 28 4-22-1-18 1-5 1-21 1-143 0 137 3 17-1 7 0 20-1 28 3 1 0 0 1-3 1-1 0-32 0-5 2-6-3-22 2-124-2-9 1-5 0 0 2-5-1-5 1 16 1 124 0 6 3 5 0 3 0 8-3 5 0 12 3 3 0 2 0 0-2 1 1 9 1 17 4-18-2-4 1-28-2-9 2-1-2-2 0-41 1-81-1-5 1-6 2-5-3 0 2-1 1-9 0-3 3 6-2 13 2 4 1 103-2 5 1 16 1 0-2 25-1 19 0-12 5-5 0-2 2-5 0-6-3-34 3-1 0-1-2-10-1-2 1-16-1-74 2-1 0-1 0 0 1-4-1-2 1-1-3-3 3-1 0 0 4 4-2 0 1 4-1 0-1 1 2 0 1 1 0 3-2 63-1 12 1 22 2 7 0 0-3 4 2 6-1 1 1 0 1 1-3 9 1 4-1 5 0 8 1 1 0 2 0 6-1 2 0 5 3 9-3 5 4-18 1-18-1-2 0-12 0-8 0-2 2-6 0-5 0 0-2-6 0-2 0-7 1-7-1-4 0-9 2-1-2-14 0-40 2-1-1-1 0-9 0-6 2-6-3 0 0-1 2-2 1-11 1 10 1 4 0 5 0 12 2 19 0 37-1 14 1 15-1 2-2 1 0 7 0 2 3 4-1 3-1 1 2 9 0 7-2 0 2 3-3 3 3 0-1 9-1 5 0 11 2 5-2-16 6-8-2-1-1-2 0-1 3-6 0-2 0 0-2-2-1 0 1-7-1-1 3-5-1-13-1 0 2-10-1-12-2-45 0-11 0-5 3-5 0-5-3-1 0-1 3 0-1 0 1-3-1-3 1-1-1-1-2-1 1-1-1-1 3 0-3-3 3-1-3-2 0 0 3-1-3-2 2 1 3 5 0 0 0 3 2 0-1 0 1 2-1 0 1 1-1 1 1 0-2 14 1 2-1 10 2 1-1 0 1 16 0 6 0 8 0 5-2 4-1 43 1 2 0 11 0 3 2 0-3 11 3 7-2-15 6-13 0-3-1-11-1-3 2 0-1-5-2-3 2-4-2-3 1-4 1-7-1-2 2-17-2-6 1-1-1 0 2-7-1-1 0-15 0-1 0-11 1-2-2-1 0-3 2-1 0 0-3 0 3-1-1-2-1-1 0-2 0-1 2-2 0 0-1-1 0 0 1-2-2 0-1-1 1-11 4 5 1 1-1 2-1 3 3 3 0 0-1 1-2 0 1 2 1 0-2 0 1 2-1 0 2 2-1 2 2 2-2 3 1 6-2 0 2 7 0 1 1 9 0 6-3 1 1 4-1 12 2 8 1 5-2 3 1 3 0 7-1 9 1 14-1 2 2 3-2 11-1 0 3 13 0-8 3-6 1-20-2-7 2-11-3-4 3-13-2-22-1-14 3-11-2-3 0-1 2-1-1-2 1-1 0-1-3-3 0-2 2-1 0-2 1-1-2 0 1 0 1-2-2 0 2 0 0 0-3 0 1-1 2-1 0-1 0-2-2-5 2-5 0-2-1 6 5 3-2 2-1 0 2 1 0 3-1 1 1 0 1 3-2 0 2 1-2 2 2 0 0 1-3 2 0 0 0 0 3 0 0 1-1 0 0 0 1 1-3 4 2 4-2 1 2 1-1 2 1 1-2 6 2 16-2 7 2 1-1 12 2 0-3 0 2 7-2 9 2 16-2 3 2 6-1 8 1-6 5-17-3-3 3-18-2 0 1-1 0-3-2-1 0-12 2-10 0-8 0-1 0-2-2-4 0-11 1-1 1 0-1-4 2 0-3 0 1 0 1-4-2 0 3-1-3-1 0-1 2 0 0-2 0-1 0-2 0-1 0-2 0-1 1-1 0 0 0 0 0-1-1-1 0-8 5 3 0 0-2 2-1 3 1 2-1 0 3 0-3 1 2 0 1 0 0 1 0 2-3 2 3 0-2 3 0 1 2 1-3 1 3 5-2 0 2 1 0 2-2 1 0 1-1 1 0 3 1 3 1 1 0 0 1 1-1 4 0 5-2 0 0 3 2 5 1 2 0 1-2 4 0 13-1 5 1 1 0 7 1 8-1 1 0 2 2 5-1 12-1 12 2-4 1-5 3-7 0-3 0-1-1-11-2 0 3-1-3-1 2-2-2-7 3-5-1-2 1-2-1-1 1-4-1 0 0-4-2-2 3-1 0-6-1-1 0-6 0-1-2-4 1 0 2-1-2 0 1-1-2-1 0-3 1-1 0-1 2 0-1-3-2-2 0-2 3 0 0-1 0-2-1-1-1-5-1 0 3-1-3-1 2-1 1 0-3-3 1-1-1 0 3 0-1-1-2-1 3 0-1 0 0 0-1-1 2 0-3-1 0 0 1-1 2 0-1-1-1-4 2 0-1-8 4 3-1 0 2 5 0 1 0 1-1 2 0 1 0 0-1 2 1 0 1 0 0 2-3 0 0 0 2 0 1 1 0 2-3 5 3 1-1 2 1 1-3 0 0 0 2 7-1 2 1 1-2 0 0 5 3 1 0 6-1 1-1 4 0 6 0 5 1 8-2 10 3 1-1 2-2 2 2 3 1 3-1 1-1 4 0 0 2 0-3 1 2 1 1 7-2 3 2 18-1 8-2 28 1-42 5-2 0-2 0-8-2-1 1 0 2-6 0-1-3-3 3-1-2-2 2 0-3-1 3 0-2-2 2 0 0-3-1-2 0-1 1-5-1-1-1-3 0-3 2-3-1-2-2-7 3-2-1 0 0-9 0-1-1-6 2-7-2-16 1-3 1-4-3 0 3-2 0 0 0 0-3-1 3-1-3-3 0 0 3 0 0-1-3-3 3-1 0-2-2-7 6 2 0 1-1 4 0 5-2 2 0 1 1 0 1 2 0 2 0 0-2 1 2 0-2 1 0 1 2 0 1 1 0 2-3 9 2 11 1 4-3 2 3 1-1 13 0 5-2 1 0 2 3 5-3 5 0 0 2 1-2 1 3 5-2 6 1 3 0 1 0 3-2 3 3 0-2 14 0 13-1 4 3 6 0-10 3-2-1-18-1-12 0-3 0-11 3-1-3 0 3-20-1-3 1-8 0-3-2-9-1-9 2-3 0-3-2 0 0-1 1-1 1-1-2 0 1-1-1-4 3 0 0-1-3-1 3 0-2 0 2-2-1-1-1-1-1-1 0 0 1-2 1-1-1-3 0 0 0 0 5 0 1 9-1 0-1 5 0 0-1 0 1 7-1 20 1 60 5-21-2-57 1-6-1-2 2-3-2-1 1 0-1-1 1 0 0-6-1-2 3 7 2 0 1 1 0 2 1 0-1 10 1-4 2-6 1-2-1-3-1-1 0" fill="none" style="marker:url(#mk2)"/>
<path d="m486 890 0-2 1 0 0 2 0 4-1 1 0 2 1-1 0 6-1 0 0 2 0 2 1 0 0 2-1 1 0 6 1-2-1 7 0 2 0-2 1 0 0 0-1 5 0 2 0 0 0 11 1-1 0-1 0 3-1 2 0 0 0 4 0 2 1 3 0-1-1 0 0 1 0 1 1 3 0 0 0-2-1 9 1 1 0 4 0 0-1-1 0 6 0-2 1 2-1 4 0 0 0 3 0-1 0 2 0 0 1-1 0 2 0 0 0 9-1 1 0 1 1 1 0 6 0 0-1 0 0-2 0 1 0 5 0 1 0-3 1 0 0 4-1 7 0-2 1 5 0-1-1 0 0 6 0-2 0-1 1 3-1 1 1 8 0 0 0 1-1-1 0 5 0 2 1 3 0 4 0 3-1-1 0 6 0-2 0 3 1-2 0 5-1 3 0 1 1 5 0-3 0 3-1-1 0 2 0 1 0-1 0 2 1 0 0-2 0 5 0 0 0 0 0 1-1 5 0-3 1 1 0 1 0 1 0-2 0 2 0 1 0 3-1-2 0 2 0-3 0 0 0 5 0-1 1 0 0 7 0-3 0 1 0 1 0 1 0-1 0 0-1-2 0 0 1 5 0 2 0 3 0 0 0 1-1 0 0 4 0-1 0-2 1 0 0 5 0 0 0-1 0 9-1 5 1-1 0 2 0 3 0 0 0-1 0 4 0-1-1 6 0-1 0 2 0 3 1 0 0 0-357 7-26 9 23 10-3 3-11-3-3 2-5 1-1 3 218 1-202 3 0-1-9-1 11 6 2 1 168-1 4-2-12 5-158 2-5 1 3 3 1-2 3 5-23-2 13 7 1-3 3 0 1 3 158 3-29-1-9-1-2 0-11 1-96 0-9-1-7 1-3 2-3 0-5 4 14-2 2 2 2-1 1-2 88 1 35 0-13 3-97 2-9-1-2-1-2 3-5-1-2-2-1 0 0 1 0-1-2 0-8 2 5 4 5 0 1-2 0 2 0 1 0-3 5 2 4 0 10 1 95-2 32 0-1 4-31 2-22 0-36-2-47 1-3-2-4 3-3-1 0 0-1 0-2 1-1-2-1 5 1-2 4 1 0 2 5-1 0 0 1-2 2 1 2 2 5-3 2 0 44 2 38-2 12 2 35-2-7 4-81 2-36 0-4-2-14 2-3-1-1 2-1-1-11 4 4 0 3 0 1-1 3-1 0 1 2-1 0 2 2 1 1 0 0 0 1-2 4 1 1-2 29 3 66-3 5 5-33-1-4 1-1 1-8-1-18-1-4 1-21 0-5 0 0 0-7 2-2 0 0-3-4 2-3-2-3 2-1-1 0 1-2-2-2 2-1 3 6-1 1 0 2 0 3 0 0 3 1 0 0-1 0 0 3-1 3 0 3 0 2 1 66-1 11 1-10 5-34-2-10-1-3 0-8 3-5-3-4 2-8 0-3-2-1 1-1 0-4-1 0 1-2 2-1-3-1 1-4 0 1 5 0 0 4-1 3 1 1 0 5-2 1 0 0 2 0-2 1 2 5 0 4 0 4 0 1-2 9 3 4 0 12-2 13-1 10 1 34 0-31 4 0 0-3 2-2-3-9 0-44 2-1 1-8-1-1-1 0 1-1-2 0 3-2-3 0 2-2 1-1-3 0 3-3-1-1-1 0-1-1 2 0-1-1 1-1 0-5 4 2 0 7-2 3 0 4 1 2-1 0 2 1 0 11 1 2 0 2-3 2 3 33-1 20 0 3 0 12-1 19 0 18 5-7 1-11-2-7 2-10-1-2-1-5-1 0 0-5 0-3 0-13 2-4 1-2-2-2 0-9 1-4-2-30 1-1-1-5 0-1 0-2 1-1 2-1 0-1-2-1 2-1 0-1-3-1 1-1-1-1 3-1 0 0 0-6 3 1 1 6-2 2-1 5 2 19 0 1-1 22 1 6 0 8-2 4 3 3-2 2 0 4 0 15 0 8 2-18 3-17 0-23-2-23 0-4 2-3 0-1 0-1-1-1-1-2 3-3 0-1 0-3 0-2-1-2-2-1 1-2 6 4-3 2 1 1 1 1 1 0-1 3 1 0-2 1 0 1 0 3 2 3 0 0-3 33 1 43 2-26 3-46 0-1 1-3-2-1 1-2-2-2 3 0-1 0 0-2-1 0 0-1 0 0-1 0 0-3 0-5 3 0 0 0-2-1 2-4-1-1 5 5-3 2 0 1 0 2 1 0-1 1 1 0 2 0-2 1 0 0-1 1 0 1 0 1 3 0-3 2 1 2-1 6 2 5-2 2 0-11 7 0 0-4-2-1-1 0 2-1-2-2 1-1 2-1-2-2 1-1 1-2-1-1-2" fill="none" style="marker:url(#mk3)"/>
<path d="m487 894 0 3 0 4-1 0 1 5 0 0 0 2 0 0 0 2 0-2-1 0 0 1 0 6 1 3-1 7 0 6 0 1 1 8 0 7 0-1 0 1 0 0 0 3-1 1 0 3 1 0-1 9 1 3-1 4 1-1 0 2 0 9-1 1 1 3 0 7-1-3 0 3 0 4 0-3 1 6 0 4 0 0 0 7 0 5-1 13 0 3 0 0 1 7 0 1-1 2 1 1 0 1 0 5 0 0 0-1 0 3 0 2 0-2 0 3-1 0 0 2 0 5 1 0 0 2 0 2 0-3-1 6 0 9 1 0 0 1-1 5 1 0 0 11-1 1 1 4 0 1 0 0-1 5 1 3 0-2 0 4-1 4 1 3 0 1 0 1-1 5 0 1 1 3-1-1 0 5 0 1-370 15 11 12-1 6-7 7-8 8 5 0 6 0 2-2 0 0-7 5 12 3-5 6-3-1-2 0-3 2 2 2 15 3-2 0-6 0-2-1-7 0-2 2-5 5 18-3 1 7-1-2-7-1-10 0 0 7 0-1 0 1 8-2 4 5-13 0 2 4 4 0 7-2 3 0 6 2-8 2-1 2-1-1-2 2 0-2-4 1-1 0-4 5 8-1 1 0 2 0 1 1 2-3 6 1 1-1 4 3 1 2-11 2-6-1-1-1-2 4 2 2 4-2 2 0 0 2 1-1 4 1 4 3-5 1-1-1 0 0 0-2-2 3-1 0 0 0-3-2-2 0-9 3 4 1 2-1 2 2 1 1 0 0 6-3 0 1 2 1 2 0 0-2 1 0 17 3 10 0 44-2 33 1 10 5-34-3-2 0-23 2-13-1-9-1-34 2 0-2-4 0-6 0 0 0-2 2-1 0-4 2 3 0 4 3 1-3 2 1 4-1 8 1 37-1 11 3 0-2 7 0 7-1 21 3 1-2 16 1 3 4-19-1-20-1-19 0-19 1-35 0-5 2 0-3-9 3 0 2 2 1 3 0 1 0 4 0 6-2 81 7-81-3-8 0-2 3-2-2-1 0-1 2-3 0-7 2 4 0 1-1 3 0 0 1 1 2 3 0 0-3 1 0 1 1 0 1 1 0 1 0 3-1 3 0-2 5-8-2-3 1" fill="none" style="marker:url(#mk4)"/>
<path d="m126 1227 7 3-15 0 19 9-9-3-5 0 0 0-1 7 1 3 3 8-11 0 0 1-7 3 2 1 3-3 0 2 0 1 0-3 1 2 1 1 1-3 3 3 1-3 5 0-4 7 0 0-1-2-1 2-1 0-1-2-1 1 0 1 0-1-1 1 0-2 0 2-1-2 0 0 0 2 0-1 0-2-1 2 0 1 0 0 0 0-1 0 0-2 0 2-1-1 0-2-6 4 2 1 1 1 2-2 0 1 2 1 1-2 0 0 0 2 0-2 1 3 0-1 1-2 1 1 1 0 0 0 1 1 0 0 1-2 0 1 1 0 1 2 2-3-1 6-3 0-1-1-1 1 0-1-1 0-1 1 0 1 0-2-1-1-3 1-2 0-1-1" fill="none" style="marker:url(#mk5)"/>
<path d="m134 1225 1 0-11 5 3 9-2 2 2-1 1 0 1 7-6 4-8 3-1-2 0 2-1 0-6 2 1 3 2-2 3 2 1 0 1-1 1-2 0 1 2-1 1 2 0-2 0 1 0 2 2 4 0-1 0 0-1 1 0-3-1 1-1 2 0-3-2 2 0 1 0 0-1-3 0 1 0 1 0-1 0 1 0-2-1 1-1 0-1 0-1 1 0 0-1 0-1-1-2 2 2 2 1 1 0-1 1 2 0-1 1-2 0 2 1 0 1 0 0-1 0-1 1 0 0 1 0 2 0-1 0-2 2 0 0 1 1 0 0 1 1-1 2 2 3-2-3 4-1-1-2 1 0-1 0 3-1-3-1 1-1 1 0 1 0-1-2-1 0 1 0-2 0 1-1-1 0 0 0 0 0 0-1 1-1 2-1-3-1 1" fill="none" style="marker:url(#mk6)"/>
<rect x="101.7" y="885.2" width="387" height="387" fill="none" stroke="#7a7a7a" stroke-width="1.2"/>
<line x1="101.7" y1="885.2" x2="101.7" y2="1272.8" stroke="#222" stroke-width="1.4"/>
<line x1="101.1" y1="1272.2" x2="488.7" y2="1272.2" stroke="#222" stroke-width="1.4"/>
<path d="M101.7 1272.2v11M121 1272.2v4.6M140.3 1272.2v4.6M159.6 1272.2v4.6M178.9 1272.2v11M198.2 1272.2v4.6M217.4 1272.2v4.6M236.7 1272.2v4.6M256 1272.2v11M275.3 1272.2v4.6M294.6 1272.2v4.6M313.9 1272.2v4.6M333.2 1272.2v11M352.5 1272.2v4.6M371.8 1272.2v4.6M391.1 1272.2v4.6M410.3 1272.2v11M429.6 1272.2v4.6M448.9 1272.2v4.6M468.2 1272.2v4.6M487.5 1272.2v11" stroke="#111" stroke-width="1.8"/>
<text x="101.7" y="1303.2" font-size="18.6" text-anchor="middle">0</text>
<text x="178.9" y="1303.2" font-size="18.6" text-anchor="middle">200K</text>
<text x="256" y="1303.2" font-size="18.6" text-anchor="middle">400K</text>
<text x="333.2" y="1303.2" font-size="18.6" text-anchor="middle">600K</text>
<text x="410.3" y="1303.2" font-size="18.6" text-anchor="middle">800K</text>
<text x="487.5" y="1303.2" font-size="18.6" text-anchor="middle">1.0M</text>
<text x="295.2" y="1335.2" font-size="25.5" text-anchor="middle">FSC-A</text>
<text x="295.2" y="875.7" font-size="29.4" text-anchor="middle">No debris</text>
<text x="83.3" y="1276.6" font-size="18.6" text-anchor="end">0</text>
<text x="83.3" y="1199.4" font-size="18.6" text-anchor="end">200K</text>
<text x="83.3" y="1122.3" font-size="18.6" text-anchor="end">400K</text>
<text x="83.3" y="1045.1" font-size="18.6" text-anchor="end">600K</text>
<text x="83.3" y="968" font-size="18.6" text-anchor="end">800K</text>
<text x="83.3" y="890.8" font-size="18.6" text-anchor="end">1.0M</text>
<path d="M90.7 1271.4h11M97.1 1252.1h4.6M97.1 1232.8h4.6M97.1 1213.5h4.6M90.7 1194.2h11M97.1 1175h4.6M97.1 1155.7h4.6M97.1 1136.4h4.6M90.7 1117.1h11M97.1 1097.8h4.6M97.1 1078.5h4.6M97.1 1059.2h4.6M90.7 1039.9h11M97.1 1020.6h4.6M97.1 1001.3h4.6M97.1 982.1h4.6M90.7 962.8h11M97.1 943.5h4.6M97.1 924.2h4.6M97.1 904.9h4.6M90.7 885.6h11" stroke="#111" stroke-width="1.8"/>
<text transform="translate(25.7 1078.7) rotate(-90)" font-size="25.5" text-anchor="middle">SSC-A</text>
<path d="M108.4 891.9L473.3 894.8L473.3 1265.2L174.2 1265.8L111.2 1152.5Z" fill="none" stroke="#444" stroke-width="1.3"/>
<text x="463.7" y="1252.2" font-size="25" text-anchor="end" font-weight="bold">54.2%</text>
<path d="m968 1020 8 29 8 5-40-2-31 7 61 0-52 6 2-1 49 1 1 1 8 5 0 0-4-3-36 0-80 7 67 0 2 0 29-2 4-1 0 2 1-2 11 2 8 0 5-1-6 5-8-2-1 3-6-3-6 0-1 3-2-1-17 0 0 0-17 0-41 5 12-1 23 1 3 0 23 0 3-2 15 0 2-1 1 1 2 2 13-2 3 1 5 0-2 4-3 1-2 0-5-2 0 0-3 0-2-1-1 2-14-2-16 0-7 3-7 0-15 0-8-1-30 1-51 3 99-1 4 1 3 0 8-2 5 1 6 1 5 1 6-3 1 2 2-1 6 0 3-1 5 3 5-2 8 6-13-2-1 2-4 0-2-2 0 2-8-3-1 3-1-2-3 0-3 2-4-3 0 3-3-2-2 2-6-3-33 0-6 3 0-2-14-1-32 2 41 2 22 1 1 1 1-1 1 1 17-2 10 3 3-1 1-2 0 2 0-1 2 2 8-3 8 3 8-3 0 1 0 1 1 0 4-2 7 0-2 7-1 0 0 0-1 0-2-2-4 1-1 1-6-1-2 1-1 0 0-2-1 1 0-1-1 2-2 0-3-1-2 1 0-2-3 1-2 1-1-1-2-1-2 1-1-1-2-1-8 3-2-2-1 0-1 2-5-1-2 1-2-3-5 2-3 0 0 0-4 0-14-2-10 0-8 3-3 0-13 3 5 1 2-1 1-2 3 1 23 0 6-1 0 3 2 0 4-3 5 2 5 0 5-2 0 0 5 0 0 0 1 3 0 0 2-2 9 0 2 1 1 1 3-1 4-2 1 3 0 0 0-1 0 0 1 0 2 1 0-3 2 3 6-1 1 1 0-1 6 0 0 1 3-2 4 1 6 1 3-2-1 5-1-2 0 3-1-3-4 0-1 0 0 3-2-3 0 1-2 0-3 0-5 0-1 0-2 0-1 1-1-2-5 2 0-2-1 1-1 0 0 1-2 1 0-3-1 3-1-1-3-1-7 1-5 1-2-2-3 0-14-1-2 1 0 2-4-2-19 0-9 0-19 0-12 6 4-2 6-1 24 2 3 0 9-2 0 3 1-2 4 1 1-2 1 2 2 0 2 0 2-1 2 2 2-1 0 1 5-3 1 2 2 1 3-2 1-1 3 2 2-2 0 0 1 3 1-2 1-1 1 2 2 1 6-1 0 0 1-1 1-1 3 3 1 0 5-3 8 0 2 3 4 0 1-1 1-1 2-1 6 2 4 0 1 0 0 0 2 0-2 4-1-2-1 1-1-1-1 0-1 0-1 0-5 3-1-3-1 1-3 2-2-2-1 1 0 0-1 1-2 0-3-2 0-1-6 3-2-3 0 0 0 0 0 1-1 2 0-1-3 0-2 0-2 0-10 1-1-2-7 0 0 0-2 0-9 1 0-1-1 2-1-1-4 1-5-1-5-2-1 2-1-1-7 2 0-1-4-2-6 3-1-3-2 0-2 0-2 2-7 0-29-1-2-1-21 3 16 4 3-2 2 0 5 2 8-2 3 0 3-1 1 1 9 0 16 1 5 1 1 0 11-3 0 0 0 2 0-1 1 0 3 0 2-1 0 2 4 1 0-1 0 1 0 0 0-3 4 1 0 2 1-2 1 0 4 0 1 2 1 0 4 0 1 0 0-2 3 1 2 1 1-2 2-1 4 3 3-1 3 1 1-2 0 2 5-3 0 3 4-2 5-1 1 2 3-1 1 1 1 0 1 0 3 0 3 1 5-1 4-1 2-1 0 3 0-3 1 0 2 1 2-1 2 2 1 1-4 1-2 3-2-2-5 1-1 1 0-3-5 1-1 2-3-3-9 3 0-1-1 1-3-2-4-1-1 0-1 2 0 1-1-1-3 1-2-2-1 1 0 0-9-1-4-1-4 1-1 2-2-2-2 0 0-1-1 0-4 0 0 3-1-3-1 3-1-2-1 2-2-1-1-2 0 0-1 2-3 0-1 0 0-1-1 1-2 0 0 0-1-2-6 3-1-2 0 1-1 1-1 0-4-2-1 2-3 0-4-2-3 2-7-2-7-1-10 0 0 1 0-1-8 0-6 0-6 2-14 4 20 1 9-2 0 0 1 2 1 0 4-1 1-2 1 3 4-1 0-1 1-1 0 3 1-3 1 3 1-1 0 0 3 1 10-1 0-2 1 2 7 1 1 0 0-1 4 1 1-1 2 1 9-3 3 1 4 1 10-1 2 1 2 0 6 1 1-2 0-1 2 1 1 0 2 2 1-3 0 3 4-3 3 2 6-1 3 0 1-1 4 1 1 2 0 0 5 0 1-1 0-1 1 0 1-1 0 2 4 1 4-3 0 1 3 0 1 0 1-1 0 3 2-1 2-2 0 2 3 1 0-3 2 0 0 3 5 2-1-1-1 0-1 0-2 0-3 0-2 0 0 0-1 3-2 0-1-2-2 1 0 0-1 1-2-3-2 2-1-1 0 2-6-2-2 0 0 0 0 1-2 1-5-2-2-1-1 1-2 0-1 0-1 1-2 0-2 0 0-2-1 3-5-2 0 1-1 1-3-1-1 1-1-2-1 0-2 2-3-3-2 3-1-1 0-1-1 2-1-2-1 1-4 1 0-1-3 1 0-3-4 3-2-1-2-1-1 0-2 0-3 2 0-1-3 0-1 1-2-1-1-2 0 2-1-1-2 2 0-2 0-1-2 2-1 1-6-3-2 2-6-2-3 3 0-1-7 1-1-2 0-1-4 0-8 3-1-3-2 3-8-3-4 1-1 2 0-1 0-2-3 2 0 0-2 0-10 1-11 3 4 1 12 0 11-3 1 3 2-3 1 0 13 3 2-1 0-1 1 2 2-2 0 1 0-1 3 1 0 1 3-1 2-2 0 2 4 1 6-3 1 1 0 2 5-3 1 0 0 2 0-2 0 0 2 0 2 3 2-1 0-2 1 3 0 0 3 0 0-3 1 3 2 0 0-1 4 1 1 0 0-3 0 3 2-3 1 3 4 0 1 0 0-3 2 3 2-1 1 1 4 0 1-3 1 2 2-2 1 0 2 2 2 0 2 1 0 0 1 0 0-1 1-2 0 1 1 0 0 0 1 2 1-1 2 1 2-1 2-1 1 2 2-3 1 3 2-2 1 1 1-1 9 1 1-1 3 1 0-1 1 0 0 0 0 1 5-2 1 1 1 2 2 0 3-3 0 2 5 0 2-2 1 0 1 2 0 0 0-2 7 0 1 1 1 2 1 1 0 1-1-1-9 3 0-2-2-1 0 1-3 0-1 0-5 0-3-1-4 0 0 1-1-1 0 2-2-1-2 2-3 0-3-2-1 1-1 1-12 0-3-2-1 2 0-2 0-1 0 2 0 1-1-1-2 1-2-1-1 1 0-3-1 1-3 1-1-1-1 1-1-1-2-1-1 1-1 1 0 1-2-3-4 0 0 3-5-1-1-2-1 3-2-3 0 3-1-1-3 0 0-1-2 1 0-2-3 2-1-2-1 1-2 0-3-1-1 0 0 2-1 1-3-2-1 0-2 1 0-1-1-1 0 1-1 2-2-3-2 1-1-1-1 0 0 3 0-2-2 1-2 0 0-1 0 1-1-1-3 2-1-3 0 3-2 0-4-1-3 0-1 1 0-2-1-1-1 0-2 2-1 1-4 0-2 0-1 0-2-2-2 0-5 2-1-3-6 1-11 2 6 4 1-2 6 2 1-1 5 1 1-2 0 1 2 0 1 0 1 1 4-1 1 1 2-2 4 1 3 0 3-1 0 2 2 0 0-3 1 1 2 0 0 0 2 0 2 1 0-2 1 3 1-2 2 2 1 0 0-3 1 1 1 2 1-3 0 1 1 1 0-2 1 3 2-3 0 0 2 3 1-3 1 1 1 0 1 1 1-2 0 3 1 0 1 0 4-3 2 1 2-1 1 1 0 2 3-2 0 1 4 0 1 1 0-1 1-1 1 2 2-3 1 2 1-1 1-1 5 1 2 1 0-2 4 2 1 1 0-3 1 0 4 0 0 1 2 1 0-1 0 1 1 0 1 1 1 0 2-3 1 3 6-2 0 1 1 1 0-2 2 1 2 0 0 1 0-2 2-1 0 2 1 1 0-1 5-2 5 1 2 2 3-1 2-1 2 2 0-3 1 1 0 2 1-2 4 1 0 0 1-1 1 0 2-1 3 2 1-2 4 2 1-2 0 0 1 0 0 2 3 1 1-3 2 6-1 0-4 1-1-3 0 1-2-1 0 3-1-1-1 1-5-2 0-1-3 1-2 2 0-2-1 0 0-1 0 2-3 1 0-2-6 1-2-1-4-1-1 0-3 0 0 2 0 0-6 0-1-1 0 1-3 1-1-1 0-1-2 0-1 2-5 0-1-1-2 1 0-2-1 1-1 0-3 1 0-1-1 0-3-1-2 1 0-2-3 2-1 1 0 0-2 0 0-2 0 2 0-3 0 2 0-1-4 1 0-1 0 0-1 2 0-3-4 1-1 2-1-2 0 1-2-1-2 1-1-1-4 1 0 0 0-1-1 0-3 2 0-1-1 0 0-2-3 0 0 1-1 2 0-1 0 0-1 1 0-1-1 1 0-1-2 1-2-3-1 1 0-1 0 3-1-3 0 2-2-1-1 2-1-3-1 1-1 1-1-2-1 2 0 1-1 0 0-2 0 0 0 0-3 2-1 0 0-3 0 3 0-3 0 0-1 1 0 0-1 1-1 0-1-2-1 3 0-2 0-1 0 1-1 1-1 0-1-1-1 2 0-3-1 3-2 0-1-3-1 3 0-3-1 1-2 1 0-1-3-1 0 0-1 2 0-2 0 2-2-1 0 1-1-1 0 2-3-2 0-1-1 3-2 0-1 0-1 0 0-1-4-1-4 0-1 2-3-3-18 2-8 0-14-1-6 6 3-2 9 1 3 1 1-3 7 0 8 0 2 2 4-2 1 1 2-1 2 2 5-1 0-1 1 2 1-2 0 2 1 1 0-3 1 2 2-1 1-1 0 3 1 0 3 0 0-2 1 1 1-2 1 1 1 2 1-1 1-1 1 1 0-2 1 2 0 0 2 0 1-1 1 0 1 2 1-2 1-1 0 1 1 1 1 0 0 1 0-2 0 1 0 1 1-3 2 1 1-1 1 3 0-3 1 3 0 0 0 0 2 0 1 0 1-1 1-2 0 2 1-1 1 2 3 0 0 0 1-2 1 0 1-1 1 2 2-1 1 1 1 1 1-2 2 0 0 1 2-1 1 1 1-2 0 1 2 1 0 0 0-1 1 2 0-2 2 0 1-1 1 1 0 1 0-1 2 1 0 0 0-1 0 2 1-2 1 0 0-1 3 0 2 2 1 1 1-3 1 1 1 2 1-3 1 0 1 1 1 1 3 0 2-2 3 3 0-1 1 0 0 1 1-2 4 1 0 0 1 0 5-1 2-1 0 2 3-1 0 2 6-3 11 2 3-1 0 2 2-2 1 0 4 2 3 0 3-3 1 1 1 0 0-1 1 1 0 2 5 0 8-3 4 1 1 1 10-2-1 4-2 3 0-1-2 1-3-1-2-1-1 1 0-2-2 3-3-2 0 2-1-1-1-1-3 2-1-2-1-1-2 3-1-1-4-1 0 0-2 0-1-1-2 3 0-1-2-1-1 2 0-3-3 3 0 0-1 0-1-1 0-2-2 3-1 0 0 0 0 0-8-2 0 2 0-3-1 0 0 3-2-1-1-1-5 2-2-2 0-1-2 0 0 1-1 0-1 0-1 0-1 1-1-2-1 3-1-3 0 1-1-1-2 0 0 0-2 0-2 2-4-2 0 1-1 0-1 0-1 2 0-3-1 0-1 1 0 0-1 1-2 0-1 0-1-1-1 2 0-2-1 1-3-1-3 1 0-1-1 1-1-1-1 0 0 2-1-2 0-1-2 0-2 3-1-1 0 0 0 0-1 1-1-2-1-1-1 0 0 1 0 0-1 2 0-1 0 0-1 1-3-2 0 2 0-3-1 1 0-1-4 2-1-2 0 0 0 3-2-3 0 3 0-2-1 0-1-1-1 0 0 1 0-1 0 0-1 1 0 2 0-1-2-1-1 2 0-1 0 1-1-1 0-2-3 1 0 1 0 1 0-1-1-2 0 0 0 2-1 1-1-1 0-2-1 3-2-3 0 3-1-2-1 0-1 2 0-3-2 0-3 2-1 0-1-1 0 2-1-2-1 0-1 2-1-2-1 1 0 1-1-3-1 3 0 0 0-2-1-1 0 1-1 2-2-2-1-1 0 0-1 2 0 0-3 0 0 1-1-1 0 1 0-1-1 0 0-1-1 0-1 0-2-1-2 1-2-1-1 3-4 0 0-3-1 2-2-2 0 2-1 1-4-1-1-1-1 2-2-3-3 3-2 0-21-1-14 3 20 2 2-2 0 0 4 2 1-1 6 1 0 0 2 0 2-3 1 1 2 1 3-1 2 0 1 1 1-1 2-1 1 0 0 2 0-2 1 3 0 0 1-2 0 1 0 0 1-2 1 2 0 0 1 0 0 0 1-1 2 0 1 2 1-1 0-2 2 3 0-2 2 2 0-3 1 2 1 0 0-2 0 0 2 1 1-1 2 0 0 1 1 0 2 1 0-1 0 1 1-2 0 2 1 0 0-1 0 0 0 2 1-1 0 0 1 0 1 1 0-3 0 2 1-1 0 0 0 1 1 0 1-1 0 1 1-2 0 0 0 2 2 0 0 1 0-3 1 2 0-2 1 0 1 2 0-2 0 0 0 0 1 1 0 2 1-2 0 1 0 1 1 0 1-3 1 0 0 2 1 1 0 0 1-2 1-1 0 0 0 1 0 1 1 1 0-1 1 1 0 0 0 0 1-2 0 1 0-1 1 1 1 1 1 0 0-3 2 3 1-3 0 1 0-1 1 0 0 0 0 1 1 1 0-1 1 2 0-1 1 1 0-3 1 3 1-1 0-2 0 0 2 3 1-3 2 0 0 2 0-2 1 1 0 0 2 2 0-2 1 1 1-1 1 2 1-1 2-1 1 1 0-1 1-1 0 0 0 3 0-3 0 0 1 2 1 1 0 0 2-1 0-2 2 0 0 3 0-3 1 0 0 2 3-2 1 1 0 0 1-1 1 1 2 0 3 2 1-2 0 2 9 0 0 0 2-3 1 0 0 1 5 1 1 1 0 0 0-1 0 1 2 0 3-3 1 3 1-2 3 2 1-2 0-1 1 0 0 3 7-3 2 0 0 3 1 0 1-2 0 2 1 0 4 0 2-3 1 0 0 1 2 1 2-1 1-1 0 0 0 1 5 1 1-2 3 2 1 0 7-1 2 1 2 1 12-3 3 0 0 2 3 4-9-2-2 0-6 2 0-1-1 0-4 2 0-2 0 1-2-2-5 2-5-2-1 1-4 0-6-1-2 1-2 0 0 1-6-1-1 1-2-2-2 0 0 0-2 0-1 1 0 2-1-2 0 0-4 0 0-1 0 0-7 0-2 3-3-3-1 0 0 2 0-2-3 3-1-3-1 1-4 2 0 0 0 0-1-3-1 0 0 0-3 3 0 0-1 0-2-2 0 1 0 1-1-2-1 1 0-1-1 0-3-1 0 0-1 0-2 0 0 0-1 0-2 1 0 0-1 2-1-1 0-2-1 1 0 1-1-2-1 2 0 1 0-1 0 1-2 0 0-2-1-1-1 0 0 0 0 2 0-2-1 2-1 0-3 0-2-2-1 0-1 3-1-1 0 0 0-1 0 1-2 1-2-1-2 0-1 1-1 0 0-1-2-2 0 3-1 0-1-2-1 1-1-2 0 1-1 0 0-1 0 3-1-1-1 0-1 0 0-2 0 2-1 1 0-1 0-1-1 1-2-1 0 1 0-2-1 0 0 2-1 1-1-2-2 1 0-1 0-1-1 1 0 1-1 1 0-2 0-1-1 1 0 0 0-1 0 2 0 0-1-2 0 2 0 1 0-2-3-1-1 3 0 0 0-2-1 1-1 1-1-3 0 3-1-2 0 0-1 2-1-2 0-1-1 2 0 0 0-1-1 1 0 1-1-1 0-2 0 1 0 1-1 1-1 0 0-3-4 0 0 0-2 1 0-1-1 3 0-3 0 1 0 0-2 0 0 2-1 0-1-2 0 0 0 1-1-2-3 1 0 0 0 2-2-3 0 1 0 0 0 1 0 0 0 1-1-2-1 2 0 0-1-1-1 1 0-1-3-1-1 2-1-2 0 0-1-1-1 0-2 3-1-1-1-2 0 3 0-2-2 1 0 1 0-2-2 2-3 0 0-2-8 1-5 0-2 0-10 2 0 1 5-1 8 0 4 2 3 1 2-3 2 1 0-1 1 0 1 2 0 1 1-2 3 2 0-2 1 0 0 0 0-1 0 3 1-3 1 0 0 3 1 0 0-3 0 3 1 0 1-2 1 1 1 1 2-1 1-1 1-1 0 0 0 1 0-1 0 1 0 2 1-3 0 2 1-1 1 2 0-3 3 2 4-2 0 2 0 1 1-3 0 3 1-1 1 1 0-2 1 2 0-2 1 1 0 1 1 0 0-2 2-1 1 3 0 0 0-1 0-2 1 1 1 0 0 2 0 0 0-3 0 3 0-1 1-1 0 2 1-1 0 1 1 0 0-3 0 1 1 2 0-3 0 0 1 0 0 0 0 2 0-2 0 1 1 2 0 0 0-3 0 0 0 0 1 0 0 2 0-1 1-1 0 0 0 3 0 0 1-1 1 1 1-2 0 2 2-2 0-1 1 1 1 1 0 1 1-2 0 1 0-1 0 1 0-2 1 2 0-2 1 3 0-1 1-1 0-1 2 0 1 2 1-2 1 2 0 0 0-2 1 3 1-3 1 1 1 1 0-2 1 2 0 0 0 0 0-1 0 2 1-3 1 0 1 2 0-2 1 3 0-2 0 2 0-3 1 2 0-2 1 0 0 0 1 0 1 2 0 0 2-2 1 2 1 1 0-3 1 1 0-1 1 2 1-1 2-1 1 2 0 1 1-1 0-1 0 0 3 2 0-3 1 2 0 0 2-2 0 2 0-1 1 1 1 1 0-1 0 1 0-1 3 0 1-2 2 3 3-3 1 2 0 0 4 0 2-2 2 3 0-2 1-1 1 0 1 1 1 0 0 0 2 0 4 2 0-1 1-1 1-1 0 2 1-2 3 2 0-1 2-1 0 3 1 0 2-3 2 2 0 0 1-1 0 1 2-2 4 2 0 0 1-1 1 2 2-3 1 2 0-2 2 1 2 2 3-2 1 0 1 1 2-2 2 2 7 1 2-1 1 1 1 0 2-2 1-1 1 1 3 1 1-2 3 0 1 2 3 0 4-2 6 3 8-2 0 2 4 0 6-2 1 1-5 4-3-2-2 3-2-3-1 2-11 0-8 1-2-2 0 0-1 0-5-1-2 3-3 0 0-3-4 1 0 0-4 2 0 0-1 0-1-3-1 3-8-3-3 3-1 0-1 0-2-3-1 1-2 0-1-1 0 1-8 1 0-2-1 0-2 2 0-1-1 1 0 0-1-2-4 1-5 0-1 0-2-1-1 1-1-1-1 2 0 1-1-3-2 3-3-2-1 0-1-1-1 0-1 2-2 1 0 0 0-3-2 2 0 0 0 1 0 0-1-3 0 0-2 0 0 2 0 0 0-1-1 0 0 0-2-1-1 0 0 0-1 1 0 0-1 0 0-1-1 2 0 1 0-2-2 1 0 1 0-1-1 0 0 1 0-2-2 0-1-1 0 3-1-3 0 2 0-2-1 2 0 1 0-3-1 0-1 2 0-2-1 2 0-2 0 2 0-2-1 0 0 2 0-1-1 2 0-3-1 3-1-1-1 1 0-1 0 1-1-2 0 1-1-2 0 3 0-3 0 1-1-1 0 1-1 0 0 1-3 0 0 1-2-3-1 2-1 0 0-2-1 1-3 1 0-2 0 2 0-2-1 2-1-2 0 1 0 1-1-2 0 3-2-1 0 1-1-3 0 2 0 0-1 1-1-3 0 0 0 0 0 1-1-1-1 0-1 2 0 0 0 1 0-1 0 0-1 0 0 1 0-3-1 3 0-2 0 2-1-1 0 0 0-2 0 0 0 0-1 1 0 2 0 0 0-3 0 3-1 0 0-3 0 2 0 0-1 0 0 0-1-2-1 2-1-2 0 1-1 0 0 1 0 0-2 1 0-3 0 2 0 0 0 1-2-1 0 0 0 1 0 0 0-3-1 2-1 1-1-2-1 1 0-1 0 1-2 0 0 0 0 0-1 1 0-2 0 1-1 1 0-1-1-1-1 2-1-3 0 2 0 1-2-3 0 3 0 0-2 0-1-1 0 1 0-2-1 1-2-2 0 2 0 0-1 1 0 0-1 0 0 0 0 0-1-3 0 3 0-1-1-1 0 1 0 1 0-1-1-1 0 2-1 0-1-3 0 2 0 0 0-2-2 2-1 1-1-2-2-1 0 0-1 1 0 0-1 1 0 0-1 0-1 0-2-2 0 2-2 0-1 0 0 1 0-3 0 3-4-1 0-2-1 2-9 1-4-2-16 6 7-2 0 2 4 0 3-1 1 1 1 0 3 0 3-2 1 0 0-1 1 0 0 2 0-2 1 3 1 0 1 0 0-2 0 0 1 2 1-1 2 0 1-1 0 1 0 1 1-1 1 0 0 0 1 0 0-2 0 2 0 1 1-1 1 1 1 0 1 0 0-1 2 0 0 1 0-2 1 1 0 0 1 1 0 0 1-3 0 2 2 0 0-2 0 1 1 2 1 0 0 0 1 0 1-2 0-1 0 1 1 0 1-1 2 0 0 3 0-3 0 1 1 1 1 1 1-1 0 1 1-1 0 1 0-3 1 1 0 2 0-1 0 1 0-1 1-2 0 1 1 1 0 1 0-2 0-1 1 0 1 1 1 0 0 1 1 1 0-3 0 0 1 3 1-2 0-1 0 1 0 0 0 1 0 1 1 0 1-1 1-1 0 0 1-1 0 3 1-2 0 2 0-1 1 0 2-1 0 2 0-1 0 1 1-3 0 1 0-1 1 3 0-1 1 0 0 0 0 0 1-2 0 2 0-2 1 2 0 0 0-1 0-1 1 2 0-2 0 0 1 0 0 1 0 1 0 1 1 0 0-3 0 3 0-2 2 1 0 1 1-2 0-1 0 3 1-3 0 3 0-2 1 2 0 0 0 0 1-2 0 0 1 2 0-1 0-2 1 3 1-2 0 0 0-1 0 3 1-3 0 0 0 2 0-1 1 2 0-1 0 0 0-2 1 3 1-1 1 0 0 0 1-2 0 1 0 0 0 2 1-1 0 1 1-1 1-2 0 0 0 2 0-1 1 2 0 0 1-1 0 1 1 0 1 0 0-2 0 2 0-2 3 2 0-1 0-2 1 3 1 0 1-1 0 0 1-2 1 3 0-1 1 1 1 0 2 0 0-2 1 0 0-1 2 2 0-1 0 2 3-1 0 0 2 0 1-1 0-1 1 3 0-2 1 1 1 1 3 0 1-3 0 3 1-3 1 1 3 0 0 1 1 0 1 0 2-1 1-1 0 0 0 0 0 3 1-2 2-1 5 0 1 0 1 1 1 0 0 0 1 2 2-2 1 0 4 2 1-3 2 0 5 0 2 0 3 2 0 1 1-3 0 2 1 0 0-1 3 2 3 0 1-1 2 1 0-1 1-1 1 1 1-1 1 1 2-1 3 1 2-1 17 1 2-1 2 1 1 1 1 0 1-3 11 2 3-1 1-1 3 3 2-1 7 1 2-3-9 7-14-2-1 0-11 0-1 2-11 0-1-3-2 0-2 1-5-1-2 1 0 0-8-1-3 0 0 2-2 1-2-3-1 3-1-3-2 2-5-2-5 2 0 0-1 1-1 0-1 0-3-3 0 1-3-1-2 0 0 1-1 2-5 0-4-2-1 1-1-1-2-1-1 1 0 2 0-2-1 2 0-1-2 0 0 1 0-2-1 1-1 0-2-1-4 0-2-1 0 2-1 0 0 0-1 0 0-2-1 2 0 0-1-2 0 0-1 0-1 2 0-2 0 2-1 1 0-1-2 0 0-2-1 2 0-1-2 2-1-3-1 3 0-1 0-2-1 3 0-3 0 0-1 3 0-2-1 0-1 1-1-2 0 1 0 0 0 0-1 2-1-3-1 1 0 2 0-3-1 2 0-1-1 2-1-1-1 0 0 0 0 1 0-1-3 0-1-1-1 1 0-2-1 0-1 3 0-1 0 1-1-3-1 1 0-1-2 0 0 1-1 1-2-2 0 3 0-2 0 2 0 0-1-3 0 2 0-1-1 2 0-2 0-1 0 3-1-2 0-1 0 2 0 1-1-3-1 3 0-3-1 0-1 3 0-2 0 2-1-3 0 3 0-2 0-1-1 2 0 1 0-3-1 1 0 0-1 1 0 1 0-3 0 0 0 1-1 0 0-1-1 3 0-2-1 2 0-2-1-1 0 1 0-1-1 2 0-1-1 1 0-2 0 1 0 0 0 1 0-2-1 3 0-1-1 0-1-1 0-1 0 2-1 1-1-2-1 0 0 0-2 0 0 2-2 0 0 0 0 0 0-1 0 0 0 0-1 0-1-1 0 2 0-2-1 2 0 0 0 0-1-3 0 1-1 2 0-3-1 1 0 2 0 0 0 0-1 0 0-1 0 0-1 0 0 1-1-3 0 0 0 3-1-2 0 1 0 1 0 0 0-2 0 2 0 0-1 0 0-3-1 0 0 0 0 0-1 2 0 1 0-1-1-2 0 0-1 3-1 0 0-1 0-2 0 3-3 0 0 0 0-2 0 2 0-1 0 1-2-2-1 1 0-2-1 0 0 1-1 0 0-1-1 3 0 0 0-1-1-1 0 0 0-1-1 1-2 2 0-2-1 2 0 0 0-1-2 0-1 1 0-3-1 1-1 1 0-1-1 1-1-2-1 2-2-1 0 0 0 2-3-3-2 2-2 1-4-3-1 3-9 4 0-3 0 3 1-3 0 2 1 1 8-1 3 1 0 0 0 0 2-1 0 0 0 1 1-1 0 0 1-2 3 2 1 0 0 0 2-2 0 2 1 0 1 1 0-2 1 0 2-1 0 2 2-2 0 0 1 3 1 0 0-3 0 1 1 2 0 0 0-2 1 0 0 0 0 1 0 0 1 1 1-3 0 1 0 2 0 0 0-3 0 2 0-2 1 3 0-2 0 0 0 0 1 0 0-1 0 2 2 1 0-2 1 0 0 0 0 0 1 0 0 2 1 0 0 0 0 0 1-1 0 0 1-2 0 0 0 3 1-2 0 0 0 1 0 1 0-2 1 2 0 0 0-3 0 1 1 1 1 0 0 1 0 0 1-2 0-1 1 3 0 0 0-1 0-1 0 0 1 1 0 1 1-1 0-1 0-1 0 0 0 0 1 0 0 0 0 2 0 0 2-1 0 1 0-2 0 2 1-2 1 1 0 0 1-1 0 0 0 0 0 3 0-1 1-1 0-1 0 2 0 1 0 0 0-3 1 1 0 2 1-2 1 1 2-2 0 1 1 1 0 1 0-1 0 1 0-1 0-2 1 2 0-2 0 3 0-2 0 0 0-1 1 2 0 1 0 0 1-3 0 0 1 0 0 0 0 3 0-3 0 3 1-1 0 1 0 0 0-1 0-2 1 2 0 0 1 1 0-1 1 1 2-1 0 1 1-1 0 0 0 0 0 1 0-2 0-1 1 3 0-3 0 3 1-1 0 0 0 1 1-2 0 2 0-2 0 0 0 0 0-1 1 2 0 1 0-1 1-2 0 1 0-1 1 0 1 2 0-2 1 3 0-2 1 0 0 1 1-2 0 1 1 1 0-1 0 0 0 2 0 0 1 0 0 0 0 0 0-1 1-2 1 1 2 0 1 2 1 0 1-1 0 1 0 0 0-3 1 0 0 3 0-1 1-2 0 3 1 0 1-2 1 2 1-2 1 1 1-2 0 1 1 2 0-1 0 0 1-1 0 1 0 0 1 1 0-2 0 2 0-3 1 1 1 2 0 0 0-2 1 1 1-1 1 2 1-3 0 2 0-1 1 1 0-1 1-1 2 3 2-1 0 0 0-1 1-1 1 0 0 2 0-1 0 0 3 0 2 1 0-2 1 2 0-2 1 2 0-2 2 2 0 1 0-3 2 1 3 2 1-2 0-1 3 0 2 1 3 1 1-2 0 3 0-3 0 3 1-1 5 1 0-1 0-2 1 1 1-1 1 2 5 1 6-3 2 0 2 2 1-2 1 2 3 0 2-1 1 1 11-1 6 2 3-2 1 0 5 0 5 2 2-1 3 0 4-1 0 0 8 0 5-1 3 0 3 3 0-1 7 1 7-3 3 3 3-1 4 2-10 1-9 0-8-1-1 0-2 0-7 1-3 1-4 0-9 1 0-3-5 2-6-1-3 1-1-1 0-1-2 0-14 3-2 0-1-3-1 2-1 0-1-2-1 2-1-1-8-1-3 3-1-3-1 0-3 1-3 0 0 0-2 0-5-1 0 1 0 2-1-2-1 0-1 0-1 1-1 1-1-1 0-1-1-1-1 0 0 3-2-3-1 1-1 2 0-3-2 3-1 0 0-2 0-1 0 3-2-1-2-2 0 0-2 2-1-2 0 0-2 2 0-2-1 3-1 0 0-2 0-1-1 0 0 3 0-1 0-2-1 0 0 3-1-1 0 0 0-2-1 0 0 3 0-2 0-1-1 3 0-1 0-1 0 0-1 1 0-1-1 2 0-3 0 1-2 2 0 0-1 0 0-3-2 0-1 3 0-3-1 3-1 0 0 0-1-2-2-1 0 0 0 2-1-1 0-1 0 0-1 3 0-3 0 3 0-2-1 1-2 1 0-3 0 1-1 1-1 1 0-3 0 2 0 0-3 0 0-2-1 3-1-1 0 0-1 1 0-2-2-1-1 1-1-1 0 1 0-1 0 2-1 1 0 0-1-3 0 2-1 0 0-1 0 0 0 1 0-1 0 0-1 0-1 1 0 1 0-1 0 1-1-2 0 0 0 1-1 0 0-1 0 1 0-2-1 1 0-1 0 3 0-1-1 0 0-1 0-1 0 3 0 0 0-2-2 0-1 2 0 0 0-2 0-1-1 2 0-1 0 0-1 0 0 0 0 0-1 2 0-1 0-1-2-1 0 3-1-3 0 3 0-3 0 0-1 2 0 1-2-1-1 1-1-2-1 2 0-2 0 2 0-1-1 1 0 0 0-3 0 1-3 1 0 1 0-1-1-2 0 2 0-1 0-1-1 3 0-1 0-2 0 3 0-3-1 2-1 1 0-1 0 0-1-2 0 0 0 2 0 0 0 1-1 0-1-1 0-2 0 1 0 2 0-1 0 1-1 0 0-3 0 1 0-1-1 2 0-2-1 0-1 3 0-2-1 1 0 0 0 1-1-1-1-2-1 2 0-2 0 1-2 2 0-3 0 0 0 3 0-2-1 1 0-1 0-1 0 0 0 2-1-2-1 0 0 2-1-2 0 3 0 0 0 0 0 0 0-2-1-1 0 3 0 0 0 0-1 0-1-1-1 1 0-2-2 1 0-2 0 1 0-1-1 2-1 0 0 0 0 0-1-1 0 2 0 0-1-1-2 0-1-1-1 1 0-1-1-1-2 3-2-3 0 2-1 1 0-3 0 1 0 1-1-2-1 2 0-2-2 3-1 0 0 0-1-1 0-1-1 0 0-1-1 1 0-1-5 0-12 1-3 1 4 3 3 2 2-2 0 0 1 0 1 0 0 2 2-2 0 0 0 2 0-2 2 1 5 1 1-1 0 0 3 1 0-2 1-1 0 0 0 0 0 3 1-1 1 1 1-2 1 1 1 1 1-2 0 1 0 0 0 0 0-2 0 2 1 1 0-1 0 1 1-3 1 2 0 1 1-3 0 0 0 1 0 1 0-1 1 2 0 0 0-1 1 0 0-2 0 3 0 0 1-2 0 2 1-1 0 0 1 1 0-1 0 0 1 0 0-2 0 2 0 1 1-3 0 3 1 0 0-2 0 1 0-2 2 0 0 0 0 2 1 0 0 0 0-2 0 0 1 3 0-3 0 1 0 0 0 2 0-2 1-1 1 1 0 1 0-2 0 3 0-3 0 1 1-1 1 0 0 3 0-1 0-1 0 0 1 1 0 0 2-1 0 0 0-1 0 0 1 2 0 1 0-2 0 0 0-1 1 0 0 3 0-3 0 1 1 1 0 0 0 1 0-2 0 2 0-2 0 0 0-1 1 2 1-2 0 3 0-3 1 0 0 0 0 0 0 3 1-3 0 2 1-1 0 2 0-2 0-1 1 0 0 2 0 0 0 1 0-1 1 0 0-1 0 2 0-2 1 1 0 1 1-3 0 3 0 0 0-1 1 0 0 1 0-1 0 0 0 1 1-2 0 0 0 0 0 0 0 0 1 0 0-1 0 0 0 3 1-1 0-2 0 1 0-1 1 0 0 3 0-3 0 1 0 2 0-3 1 1 1 0 0 0 1 0 0 2 1-2 0-1 1 1 0 1 0 0 1-1 0 2 0-3 2 2 1 0 0-1 0 2 1-1 0 1 1-3 0 1 0 1 0-2 0 0 1 0 0 0 0 3 0-2 1 1 0 1 1-1 0 0 0 0 0 1 0 0 1-1 0-1 0 1 0 1 1-1 1-2 0 3 0-3 0 3 1 0 0-1 0-1 0 2 1-2 1 0 0 1 0-1 0-1 0 2 0 1 0-2 0 1 0 1 1-2 0 0 2-1 1 0 0 1 0 0 0 1 1 0 0-2 0 1 1 0 1 2 0-1 1 1 0-2 0 1 0 1 1-3 0 3 0-2 1 2 0-3 1 1 1 2 0-3 0 3 0-2 1 0 0-1 1 0 1 1 1 1 0 1 0-2 0 1 0-2 1 2 1-2 0 3 2-2 0 1 0 0 0 0 0 1 1-2 1 0 0 2 1 0 1-2 0 0 0-1 0 1 0 0 1-1 0 3 2-2 1-1 0 0 0 2 1 1 0-1 2 0 0-2 0 3 2-3 0 3 0-2 1 1 1 0 0-1 0 2 1-3 0 1 2 0 1-1 1 0 3 2 1 0 0 1 1-1 0 0 1-2 4 3 1-3 0 2 0-2 0 3 4-1 1-1 2-1 2 3 2-3 2 1 3-1 0 0 1 3 2-3 3 1 2-1 0 2 1 1 0-1 1-1 0-1 3 0 4 3 2 0 1-1 10-1 1-1 11 0 2 0 1 3 0-1 3 1 6-2 6 1 3-2 1 2 5-1 5 0 16 1 19-1 12 5-23-1-3 1-4-1-5 1-19-1-5-1 0 0-4 2-6 1-10-2-5 1-3 0-5-1-5-1 0 1-6 1 0-2-9 0-1 0 0 0-1 1 0 1-6-2-8 3-1 0 0-2-1 0-1 2 0-1-3 0-3 0-1-1-2 2 0-3 0 3-3-1-1 1-2-2 0-1 0 1-1-1 0 2 0 1-1-3-2 3-1-3 0 0 0 3-1-2-2 0-1-1-1 1-1-1 0 1 0 0-2-1 0 3-2 0 0-3 0 3-1-2 0-1 0 2-1-2 0 3-1-3-1 2-3 0 0-1-1-1-1 3-1-2 0 2-2-2-1 0 0 0-2-1-1 3-1-3-1 1 0-1-1 3-1-3-2 1 0 0 0 0 0 1-1-1-1 1 0-2 0 3 0-2 0 2 0-3-1 2-1 1 0-1-1 1 0-1 0-2 0 1-1 0 0 0-1 1-1-1 0 2 0 0 0-3-1 1 0 2 0 0 0-1 0-1-1 1 0-2-1 2 0-1 0-1 0 1-1 2 0-2 0 2 0-3-1 0-1 1 0 0 0 1 0 0 0-1-1 0 0-1 0 0 0 1 0-1 0 0-1 1 0 2-1-1-1 0-1-1 0 0-1 2 0-1-1 1 0-1 0 0 0-1 0 2-1-3 0 0 0 3 0-3-1 3 0-3 0 0 0 1-1 1 0-2-1 1 0 0-1 0 0 2-1-1 0-1 0 1 0-2 0 2-1-2 0 2 0-1 0 2 0-1-1-1 0 2-1 0 0-3 0 2-1 0 0 0 0-2 0 2-1-2 0 3 0-3 0 3 0 0-1-1 0 0-1-2 0 1 0-1 0 1 0 0 0-1-1 3-1-2 0-1 0 2 0-1 0 2-1-3 0 0 0 3-1-1 0 0 0 1-1-3 0 1 0 1-1-2 0 0 0 0-1 0 0 1 0-1 0 3-1-3 0 1 0 2 0-2-1 1 0-2 0 0 0 1-1 1 0-1 0 2 0-3 0 0-1 1 0 0 0 0 0 0-1 0 0-1 0 0 0 1-1 2 0-2-1 2 0 0-1-3 0 0 0 3 0-1 0 1-1 0 0 0 0-2-1 0 0 1 0-2 0 2 0-1-1 2 0-1 0 1 0-2-1 1 0-1-1 1 0-2 0 1 0 2 0 0-1-2 0-1-1 2 0 0 0-1-1 0 0 2 0-3 0 3 0-3 0 0 0 0 0 0 0 2-1 0-1 0-1-2 0 3 0 0-1-1 0 0 0 1 0-2 0 1-1-2 0 3 0 0 0-2-1-1 0 3-1-2 0 0-1 2-1-2 0-1 0 0-1 2 0-1 0 1-1-1 0-1 0 3 0-1 0-2-1 3 0-1-1 0-2 0 0 0-2 0 0 0 0 0-1 0 0-1 0 1 0-1-1 1 0-2 0 2 0-2-1 0 0 2-1-2 0 2 0 0 0 0 0 1-1-3-1 2 0 1 0-3-2 2-1-1 0-1 0 1-1 2-1 0 0-1-2 0 0 0-1 0-1 1 0 0-2-1-2 1-1-1-1 1-7-2-2 0-1 0-11 1 4 4 13 0 0 1 1-3 3 3 1-3 1 2 1-2 0 2 1 1 1-3 0 2 1 1 1-2 0 1 0 1 1-1 0 0 0 0 1-1 0-1 1 3 0 0 0-3 1 0 0 0 1 0 0 3 1-1 1-2 0 2 0 0 0 0 0-1 1 0 0 1 3-2 0 3 1-3 0 1 1-1 1 1 0 1 0 0 0-1 0 2 1-3 0 2 0 0 0-1 0-1 1 2 1-2 0 1 0 2 1 0 1-2 0 1 0-2 0 3 1-1 0 0 0-2 0 0 1 2 0-2 1 1 0 2 0-2 0-1 1 0 0 3 0-3 1 1 0 0 0-1 0 0 0 0 1 1 0 0 0 0 0 2 0 0 1-3 0 1 0 2 0-2 0 2 1-3 0 2 1 0 0-2 0 2 0-1 1 2 0 0 0-2 1-1 0 3 1 0 0 0 0-1 0 0 0-1 1 0 0 0 1-1 0 0 0 3 0 0 0-1 0-1 1 0 0 0 0 1 0 0 1-1 0 2 1-3 0 0 0 1 0 1 0 0 0 0 1 1 0-2 0-1 1 1 0 2 0-3 0 1 0-1 0 3 1-2 0 2 0-1 0 0 0 1 0 0 0-3 0 1 1 0 0 1 0 1 0-1 1-2 0 1 0-1 0 2 0 0 1 1 0-3 0 2 1-2 0 2 0 1 0-3 1 3 0-2 2-1 0 1 0-1 0 1 0 1 0 0 1-1 0 1 0-2 0 3 0-1 0 0 1 0 1 1 0-1 0 1 0-3 0 2 2-1 0 1 0-2 0 1 0 0 0 0 0 2 1-3 0 3 0-3 0 2 0 0 1 0 0 0 0-1 0 2 0 0 0-2 1 1 0-2 0 3 1-1 1-2 0 3 0 0 0-1 0-1 1 0 0 0 1 2 0-1 0-1 0 1 0 0 1-2 0 2 0 1 1 0 0-2 0 2 0-2 0 2 2-2 0 0 1 0 0 0 0 2 0-3 1 2 1-2 1 3 0 0 0-2 0-1 0 2 0 1 1-2 1 1 0 0 0-1 1 0 0 1 0 0 1 1 0-1 0-2 0 3 1-2 0 2 0 0 0-3 0 3 0-2 0-1 1 3 1 0 0-1 0-2 1 2 0-1 1-1 0 1 0 0 0 0 0 0 0-1 0 3 1-3 1 2 0-2 0 1 2 2 0-3 1 2 1-1 0 2 0-1 0 0 0-1 0-1 1 1 0 2 0-1 0-1 2-1 0 0 1 2 1 0 0 1 1-2 0-1 1 1 0 1 1 1 0-2 0 0 0 0 1 1 0 0 0-1 1 0 0 1 0-1 1 1 1-2 0 3 0-1 0-2 0 0 1 1 1 1 1 1 1-2 0 1 0-2 1 3 0-3 1 2 1 0 0-2 0 2 3-1 0-1 1 2 0-2 2 0 1 1 1 1 1 0 1 1 1-2 5-1 0 3 1 0 0-1 1-2 0 2 1-1 5-1 4 0 1 2 3 1 0 0 0-1 3-1 1-1 1 3 0 0 6-3 0 0 1 1 1 2 3-2 0 1 3-2 5 3 1-3 1 1 9-1 4 3 2-2 16 1 5 0 2-2 0 3 16-3 3 0 16 1 14 2 6-1 14-2-5 4-22 2-16 0-30-2-4 1-3 1-4-2-2 3-7-2-4 0-3 1-1-1-1 0-2 0-1 2-1-3-5 0-3 0-1 0-5 3-2-2-1 0-2 1-1 0-2 0-1-2-3 0-3 0-2 0-1 0-1 3-5-3-1 1-2 1 0 0-1 1 0-2-3 2-2-2-3 1-1 0 0 0-1 1 0-3-4 0 0 1-1-1 0 3 0 0-1-2-1 2-1-1-1-1-1 0 0-1-1 1 0 0-1 0-1 1 0 0-1-2 0 0 0 3 0-2-1 0 0 1 0 0-2-2-1 2-1-1 0 0 0 1 0 0-1-1-1 0-2 1 0-2 0 0 0 0-1 1 0-1 0 1-1-1 0 0-1 0-1 1-1 2 0 0 0 0 0-1-1 0 0-2 0 2-1 0 0-2-1 3 0-2 0 0 0 1-1 1 0-2 0-1 0 0 0 1 0 2 0-1-1 1 0-2 0 0-1 0 0 1-1-2-1 0-1 3 0 0 0-2-2 0 0 1 0-2-1 0 0 0-1 1 0-1 0 0-1 3 0-1-1 1-1-1-1-2-1 1 0 1 0 1 0-3 0 2-1-1-2-1 0 2 0 1-2-2 0 1-1-2 0 1 0-1-1 3 0 0 0-2 0 1-1-1 0 1 0 0-1 0 0 1 0 0 0-3 0 0 0 0-1 1 0 1 0-1-1 2-1-3-1 0 0 3 0-2-1-1 0 0 0 1 0 1-1 1-1-1-1-1 0-1 0 0-1 3 0 0 0 0-1-2 0 1-1 0-1-2 0 3 0-1 0-2 0 2 0-1-1 2 0-2 0-1 0 3 0-1-1-2 0 3-1-2 0 2-1 0-1 0 0 0-1-1 0-1-1-1 0 0 0 2 0-1-1 2 0-1-1 0 0 1-1-3 0 2 0-1 0-1-1 2 0-1 0 2 0 0 0-2 0 1 0 1 0-1 0-1 0 0 0 2-1-3 0 0-1 1 0 1 0-1 0 1 0-2 0 1 0 0-1-1 0 0-1 3 0-1 0 0-1 1-1 0 0-2 0-1-1 1 0 1 0 0 0-2 0 0 0 1 0-1 0 3-1-3 0 0 0 1 0-1 0 1 0 2 0-3-1 1 0 0 0-1 0 0 0 0 0 1-1 2 0-2 0-1-1 3 0-1 0-2 0 2 0 1-1-3 0 3-1-2 0 1 0-1 0 0 0-1 0 3-1 0-1 0 0-3 0 1-1 0 0 1-1-2 0 0-1 1 0 1 0 0 0-2-1 0 0 0 0 0 0 0 0 2-1 0-1-2 0 0-1 3 0 0 0 0 0-1 0-2 0 2-1 1-1-2 0 1 0 1 0-2 0 2-1 0-1-2 0 1 0-2-1 3 0-1 0-2 0 3-1-1 0-2-1 3 0-2-1-1 0 1 0 2 0 0-1-1 0 1 0-3 0 0-1 1-1 2 0-2 0 1 0 1-1-3 0 0-1 0-1 3-1-1 0-1 0 0-1 2-1-1 0 1-1-1 0-2-1 3-2-3-1 3 0-3-1 0 0 3 0 0-1-2 0 1 0-1-1 2-3-3 0 1-2 2-3-1-6 2 1 3 1 0 2-3 2 1 4 0 1 2 0-2 1 2 0-2 2 2 0-1 0 1 0 0 3 0 0 0 0-1 2 1 1-3 0 1 0 2 1-1 0-1 1 1 1 1 1-1 0 0 0 1 1-1 0 1 0-3 1 2 0 1 0-2 1 2 1-2 0 2 0-1 1 0 0 0 0-1 0 1 0-1 1 2 0-1 0 1 1-1 1-1 0-1 1 0 0 1 0 1 1-2 0 3 0-1 0-2 1 2 0-2 0 1 0 0 0 0 1 0 0 0 0-1 1 0 0 3 0-2 1 2 0-3 0 0 1 1 0 1 0 0 1-1 0-1 0 2 1-2 0 2 1-1 0 2 0-1 0 0 1-2 0 2 1 1 0-1 0 1 0-1 1-2 0 0 0 1 0 2 0-1 0-1 1 2 0-1 0-1 0 0 0 0 0 2 0-1 1 1 0 0 1-1 0-1 0 1 0-1 0 1 0-1 0 2 0-1 1-1 0 1 1 1 0-1 1 0 0 0 0-2 1 0 0 2 0-1 0 1 1 1 0-2 0 1 0-1 0 2 1-2 0-1 0 0 1 0 0 2 0 0 1-2 0 2 0 1 1-2 0 0 0-1 1 1 0-1 0 3 1-2 0-1 0 3 1 0 0-2 0 0 0 2 0-3 1 2 0 0 0-1 0 1 0 1 1-2 0-1 0 1 0 2 0-2 1 1 0 1 1-1 0 1 0-1 0-1 0 1 1 0 0 1 1-1 0-2 0 2 0-2 0 0 0 1 1 1 0 1 0-3 0 3 0 0 0 0 0-1 0 1 0-2 1-1 1 1 0 1 0 1 0 0 0 0 1-1 0-2 0 0 0 1 0 0 0-1 2 1 0 2 1-2 0 1 1 0 0-1 0 0 0 1 1 0 0 0 0 1 0-2 0 1 1-1 0-1 0 1 0 1 1-2 0 2 0-2 1 2 0-1 1 2 0-3 1 1 0 2 1-2 0 2 0 0 0-2 0 1 1-1 0-1 0 2 1-1 0-1 0 2 1-1 0 1 0-2 1 1 0 2 0-2 0-1 1 2 0-1 0 0 0 1 0-1 0 2 1-2 0-1 1 3 0-1 0-2 1 0 0 1 0 0 1-1 0 1 0-1 2 1 0 2 1-1 0 0 1 1 0-3 0 3 0-2 0 1 2 0 0 1 1-1 0 0 1 0 0 0 0-2 0 2 1-1 0 1 0 0 0-1 1 2 0-1 1-2 0 1 2 2 0-2 0-1 1 1 0 0 0 1 1-2 1 3 1-3 1 3 0-2 1-1 0 2 0-1 3 2 0-1 2-2 0 2 0-2 1 2 0 1 1 0 0-1 0 0 1-1 1-1 4 2 2 1 1-2 1 2 0-1 1-2 5 0 4 2 4-1 0 2 2-1 5-1 2-1 2 2 1-2 1 1 4 1 1-2 0 2 17-1 3-1 2 1 9 2 1-1 6 1 1 0 5-2 0 2 15 0 16-3 8 2 2-2 18 0 0 1 31 0-19 3-39 0-3 2-12-2-13 2-6 0-2-2-2 2-10 0-13-2-13 3-3 0-1 0-1-2-6 0-3 1-3 0-1-2 0 2-3-2 0 0-1 3 0-2 0 2-3-3-1 1 0 2-2-3-1 2 0 0-2 1 0-2 0-1-1 0-2 1-1 1-1-1 0 1-2 0 0 0 0 0-1-1 0 1 0 0-1 1-1-3 0 3-3 0-1-1 0 1-2-3 0 2 0 0 0-2-1 3-1 0-2 0-1-1 0 0-1 0 0-2-1 3-1-3 0 0-1 1-1 0-2-1 0 3 0-2-1 1-2 1 0 0-1-3 0 0-1 3-1 0-2-3 0 1-1 0 0 1-1-1 0 1-2 1-1-3-1 3 0 0-1-1-1 0 0 1 0-2 0-1-1 3 0-3-1 1 0 0-1 0 0 0-1 1 0-1-1-1 0 1 0 0 0 1 0 0-1-1 0 2 0-1-1-2-1 2 0-1 0-1 0 0-1 1 0-1 0 1 0-1-1 0 0 2 0-1 0 2 0-3 0 1-1-1 0 0 0 3 0-3-1 1 0 1 0-1-1 1 0 0-1 0 0 0 0 0-1-2 0 2 0 1 0-1-2 1-1-3 0 1 0-1-1 0 0 0 0 1-1 2 0-2 0 1 0-2-1 1 0 1 0 0-1 1 0 0 0-3-1 1-1 2 0 0 0-2 0 1 0-1 0 2 0 0 0-3-1 3 0 0 0-2-1 2 0-3 0 1 0 1 0 0 0-2 0 2-1 1-2-3 0 0 0 0 0 1 0 2 0-2-1 2 0-1 0 0 0-2 0 1 0 2-1-1-1-1 0 0 0 0-1 2 0-3 0 1-1 1 0 1-1-1 0 1-1-1 0 1 0-1 0 1 0-2 0 0 0-1-1 2 0 1 0-1 0 0-1-1 0-1 0 3 0-2 0-1 0 0-1 3 0-3-1 1-1 1 0-1 0-1 0 3-1-1 0 1-1 0 0-2 0 2 0 0 0 0 0-2 0-1 0 3 0-2-1 0-1 2 0-1 0 1-1-1 0 1 0 0 0 0-1-2 0-1-1 1 0 2 0-2 0 0 0-1-1 2 0-1 0 0 0-1 0 0 0 0 0 0 0 0-1 1 0-1 0 2-1-1 0 2 0-2-1-1 0 0 0 1 0 2 0 0-1 0 0-2 0 1-1-1 0 1 0 1 0-2 0-1-1 3 0-2 0 2 0-1 0-2-1 2 0-2 0 3-1 0 0 0 0-2-1 0 0 2 0-2-2 1 0-1 0-1 0 1 0 0 0 0 0-1-1 2 0 1 0-3 0 2 0-2-1 2 0-2 0 3 0-1 0 0-1-2 0 2 0 0-1 0 0-2-1 1 0 2-1-1 0 1 0 0-1-1 0-2-1 1 0 0 0 0-1-1 0 2 0-1 0-1 0 0 0 2-1-1 0 1 0-1-1 2 0 0 0-2-1 1 0 1-3-2-1 0 0 0 0 0-1-1 0 0 0 0-1 3 0-1 0 0 0-2 0 2-3 1-3-3 0 3-2-1 0 0-2 0-1 1-8 1 0 1 1-1 0 2 1 0 0 1 0-2 3 2 2 0 0 0 1 0 0-1 1 0 0-2 0 3 2-3 0 3 2-1 0 0 1 1 0-2 0 0 0 1 1-1 0 1 1 1 0-1 1-1 0 0 1 2 0-1 0 1 0 0 0-2 1 2 1-1 0-1 0 1 0 1 1 0 0-2 0 1 0 1 1-1 0 0 0 0 1 0 0 1 0 0 0-1 1 0 0 1 0-3 0 3 1 0 0-1 1 1 0-2 0-1 1 2 0 0 0 0 0-1 0 2 0-1 1 1 0-3 0 3 0-2 1-1 0 2 0-1 0 0 0 2 0-1 0 1 1-1 0-1 0 0 0 1 1 0 0 1 1 0 0-1 0-1 0 1 0-2 1 0 0 0 1 0 0 2 0-2 0 0 1 0 0 1 0 2 1-1 0 0 0-2 0 1 1-1 0 0 0 0 0 0 1 2 0-2 0 3 0-1 0 0 0 1 1-1 0 0 0-2 0 2 2 1 0 0 1-1 0 1 0-2 1-1 0 2 0-1 0 1 1 1 0-2 0 2 0-1 0-1 1 0 0 2 0-1 0 1 0-1 1 0 0-2 0 0 1 0 0 1 1 1 0-2 0 1 1 2 0-1 0-1 0 1 0 0 0 0 0-1 0 1 1-2 0 3 0 0 0-2 0 2 1 0 0 0 0-1 0-1 1 1 0 0 0 0 0 1 0-2 0 2 0-2 0 2 1 0 0-3 0 1 0 1 1-2 0 2 0-2 1 0 0 3 0-3 0 1 0 1 0 0 0 0 0 0 1-1 0 1 0-1 0-1 0 0 0 1 0 2 1 0 0-3 0 1 0 2 0-3 1 2 1-2 0 0 1 1 0 0 0 0 1 2 0-2 0 1 1 0 0-2 1 0 0 3 0-2 0 0 1-1 0 0 0 0 0 0 0 1 1-1 0 3 0-3 0 1 1 0 0 0 0 2 0-3 0 2 1-1 0 2 0-2 0 2 1-1 0-2 0 1 0 2 0-3 1 3 0-3 0 0 0 2 0-1 1 1 0 1 0-2 0 2 1-2 0 0 0 2 0-1 1 0 0-1 0 2 0-3 0 0 0 0 0 0 1 3 0 0 0-3 1 0 1 2 0-2 0 0 0 1 0 2 1-3 0 3 0-3 0 3 0-2 1-1 0 0 0 2 0 1 1-2 0-1 1 0 0 3 1-2 1-1 0 2 0 1 0 0 1 0 1-1 0-2 1 1 0 0 0 0 1 1 0-1 1-1 0 1 0 2 0-1 1 1 0-3 0 2 0-2 0 3 1-3 1 1 0-1 1 3 1-2 0 0 0 0 0-1 0 1 1 1 0-2 1 1 0-1 1 1 1-1 0 0 0 2 1-1 0-1 0 0 1 3 0-3 0 2 2-2 0 3 1-2 0 2 0-1 1 1 2-1 1-2 1 0 0 1 1 0 0 2 0-2 0 2 0-3 2 3 0-1 1-2 1 0 0 2 0-2 0 1 2 0 1 2 1 0 2 0 2-2 1 0 2 0 1-1 2 3 1-1 0 0 3-2 2 2 0-2 0 1 0 2 5-3 1 1 3-1 4 3 1-1 0 0 7 1 3-3 4 0 0 2 6-1 3-1 15 2 16-2 40 3 28 0 20-3 1 2 15 0-49 4 0-1-11-1-2 3-25-3-32 1-1-1-24 0-9 0-1 1-3-1-1 0-5 3-1-2-1-1-3 0-2 2-3-1-2-1 0 2 0 1-1-3-1 1-3 1-1-2-1 1 0-1-2 0-1 0 0 0-1 2-1-2-1 1-1 2 0-1-3 1 0-2-1 0-1 0-1-1-4 2-4 1 0 0 0-2 0 1 0-1 0-1-1 0 0 0-1 3 0-3 0 0 0 3-1-2 0 2-1-1 0 1-1-1 0-1-1 0 0 2-1-1-1 1-1-2 0-1-1 3 0-3 0 0-1 0 0 1-1 1-1 1-1-2 0 1-1 1 0-3 0 1 0 2-1-3 0 1-1-1 0 0 0 1 0-1-2 0 0 1 0-1 0 0-1 3 0-2-1 2 0-2-1-1 0 1-2 2-2-2 0 2-1-3-1 3 0-3 0 3 0 0-1-3 0 0 0 1 0 2 0-2 0-1-1 3 0 0 0-3-1 1 0-1 0 3 0-3 0 1 0 0 0 1-1-1 0-1-1 3-1-3 0 1 0-1 0 0-1 1 0 1-1 0 0-2 0 2 0 1 0-1-1 0 0 0 0-1 0 0 0 0-1-1 0 3-1 0 0-1 0 1 0-2-1 2 0-3 0 3 0-1-1 0 0-2 0 2 0 0-1-1 0-1 0 1-1-1 0 0 0 0 0 1-1 1 0-2 0 2 0-2-2 1 0 0 0 0 0 0-1-1 0 0 0 3 0-1 0-2-1 0 0 3 0-1 0-1 0 0 0 0-1 0 0-1 0 2 0-2 0 3-1-3 0 1 0 2 0-1-1-1 0 2 0-3 0 1 0 0 0 2-1-2 0 1-1-2 0 0 0 3 0 0 0-1 0 0 0 0-1-2 0 0 0 2 0-2 0 1 0 0-1 0 0-1 0 1-1 1 0-2 0 2-1-2 0 1 0 0 0 0-1 0 0 1-1-2 0 0 0 3 0 0 0-3 0 0-1 0 0 0 0 3 0-2-1-1 0 2 0 1 0 0-1-2 0 1 0 1 0-1 0-2-1 0 0 0 0 3 0 0 0-2 0 2 0-1 0 1 0-2-1 2 0-1 0-2 0 3-1-2 0 2 0-3 0 1-1 1 0 1 0 0 0-2 0 0 0-1-1 3 0 0 0-2 0 1 0-1 0 0 0-1 0 0-1 3 0-3 0 0 0 3 0 0-1 0 0-3 0 2 0 0-1 0 0 0 0-1 0-1 0 3-1-1-1-2 0 3 0-1-1 1 0-2-1 2 0-1 0-1 0 0 0 0-1 0 0 0-1 2 0-3 0 2 0 1-1-1 0 1 0-2 0 2-1-3 0 1-1-1 0 3 0-3 0 2-1 0 0-1 0 0 0 1 0 1 0-1-1-2 0 3-1-1 0 0 0-2 0 3-1-2-2 1 0 0-1 0 0 1 0-2 0 1-1-1 0 0 0-1 0 3 0 0-1-1 0-1-1 2-1-1-1-1-1 2-1-1 0-1 0 2 0-1-1-1-1 1 0 1-2 0-2-1 0-1 0 1-1-1 0-1-2 2 0 1-2 0-16 4 6-3 4 3 0-1 1-1 0 1 2-1 0 0 2 1 0-1 2 0 0 1 1 0 0-1 0 2 0 0 0-1 0-1 1 0 0 2 1 0 0 0 0 0 1 0 0-3 1 0 0 0 1 3 0-3 0 1 1 1 0 0 0 1 1-2 0 2 1-1 0 0 0 0 0 1 0-3 0 1 0 1 1 1 0 0 0-3 0 1 0 0 0 1 1-1 0 0 1-1 0 3 0 0 0-3 0 0 0 0 0 0 0 3 0-1 1 0 0-2 0 0 1 1 0 0 0 0 0 0 1 2 0 0 0-3 0 3 1-2 1-1 0 3 0 0 0-3 0 3 1 0 0-2 0 2 0-3 0 0 0 0 1 0 0 2 0-1 0 1 0 1 1-3 0 3 1-3 0 2 0-1 1 2 0-1 0-1 0-1 0 0 0 3 0 0 0-1 0-1 1 2 0-3 0 0 1 1 0 1 0 0 1 0 0-2 0 2 0-1 0 0 0 1 0 0 1 0 0 0 0-2 0 2 0 1 1 0 0-2 0 1 0-2 0 0 0 2 1-2 0 3 0-2 0 1 0-2 0 0 0 1 0 2 0-1 1-2 0 0 0 2 0-1 0 0 0 0 0 1 1-2 0 1 0 1 0 1 0-2 1-1 0 3 0-1 1 0 0 0 0-1 0 1 0-2 0 1 2 0 0 1 0-1 1 2 0-2 0-1 0 1 1 1 0 1 1-2 0 2 0-3 0 2 1-2 1 0 0 1 0 0 1-1 0 2 0-2 1 3 2-2 0-1 0 3 1-3 0 0 0 1 0-1 0 0 1 1 0 0 0 2 0-3 1 2 0-2 0 3 0-1 1 1 1-1 0-2 0 3 0-3 0 0 0 0 1 2 0-2 0 1 0-1 1 3 0-3 0 1 0 1 0-2 1 0 0 0 0 0 0 2 0 0 1 1 0-3 0 3 1 0 0-2 0 1 0 0 1-2 1 1 0-1 0 1 0 0 0-1 0 1 0-1 1 1 1 0 0-1 1 3 0-2 0 0 1 0 0 0 1 2 0 0 0-3 0 1 0 1 0 1 1-2 0 1 0 1 0-2 0 2 0-3 0 0 0 1 0 0 1 0 1 1 0-2 0 0 0 0 0 1 0 1 1-2 0 1 0-1 0 2 1 0 0 0 0-1 0-1 0 0 1 0 0 3 0-1 1 1 0-3 0 1 0-1 1 3 0 0 3-2 0-1 0 0 0 1 1 2 0-1 0-1 1 1 0-2 0 1 1 1 0-1 0 0 1-1 1 3 2-2 0 2 1-3 1 0 0 3 0-2 1 1 0 1 0 0 0-1 1-1 0 0 0 0 1-1 1 3 1-3 1 2 0-1 2 1 0-1 0 0 1-1 0 1 1-1 0 2 0-1 0 2 1-3 0 2 1-2 0 3 1-2 2 2 2 0 2 0 2 0 1 0 0-2 0-1 0 1 1 2 0-2 2 0 3 0 3 1 0 1 2 0 7-2 1 2 2-3 1 1 1-1 2 3 4-2 5 2 2-2 5 1 0 1 4-2 3-1 2 3 6-2 7-1 5 2 3-1 35-1 16 3 4 0 65-1-9 3-6 1-13-1-78 1-15-1-27 0-1 0-2-1-6 1 0 1-2-2-4 0-5 0-4 3-3 0-1 0 0-1-5-2-3 0 0 3-2-2-3 1 0 0-2-2-1 2 0-2-1 1-1-1 0 1-3 0-1-1 0 0-3 1-2-1-3 3 0-3-1 0-1 0 0 0-1 1 0 0 0 1-1 0-2 1-1-3-2 0 0 0-1 0-1 1-1 0-1 0 0-1-1 3 0-3 0 1-1 0 0 2-2 0 0-2-1 2 0-2 0 2-1-1 0-1 0 2-1-3 0 1 0 0 0 0-1 0-1 1-1 0 0 1-1-2 0 2 0-2 0 1 0-1-1-1-1 3 0-1 0 0 0 0 0-1 0-1-1 2 0-1 0 0-1 0 0 0 0 0-1-1 0 0 0 0 0 0-1 3 0 0 0-3-1 0 0 2 0-1 0 2 0-3 0 0-1 3 0-1 0-2-1 2 0 1-1-2-1 0 0 1 0 1-1-1 0 0-1 1 0-3 0 2 0-1 0 1-1 1 0-2 0 0 0 1-1-2 0 1 0-1 0 0 0 3-1 0-1-1 0-2-1 3 0 0 0-3 0 2-1 0 0-2-1 2 0-1 0-1-1 0 0 3 0-2 0 0 0 1 0-1-1 0 0 1-1 1 0 0 0 0 0-2-1-1 0 2 0-1 0-1 0 2 0 0-1 0 0-2-1 1 0 1 0-1 0-1 0 1 0 1 0-1 0 1-1-2 0 1-1 1 0-1 0 2-1-3 0 3 0-2 0 0 0 2-1-2 0 0-1 1 0 1 0-3 0 2-1-1 0 2-1-1 0-2 0 3 0-1 0-2 0 1 0 0 0 0-1 1 0-1 0 2 0-2-1 0-1 0 0-1-1 1 0 2 0-3 0 1 0-1 0 1-1 1 0-2 0 1 0 0 0-1 0 2 0-1 0 2 0 0-1-2 0-1 0 1 0 1 0-2 0 3 0-2-1 0 0 1-1 0 0 0 0 0 0 1 0-1-1 0 0 0 0-2 0 0-1 2 0-1-1 0 0 0 0 0 0 2-1 0 0 0 0 0 0-3 0 0-1 1 0 1 0 1 0-1 0-1 0 0-1-1 0 3 0-2 0 1 0-1 0 0-1-1 0 0 0 3 0-2 0 1-1 0 0-2 0 1-1 2 0-1 0 1 0-3 0 3-1-2 0 0 0 1 0-1 0 2-1-2 0 2 0-3 0 1-1 1 0-2 0 1 0 2 0-1 0-1 0-1-1 3 0-2 0 2 0 0-1-2 0 2-1-3 0 3 0-3 0 1-1 0 0 1-1-2 0 2 0 1 0 0 0 0 0-1-1 1 0-1 0-1 0 0 0 2 0-2-1 2-1-1 0-1 0 0 0-1 0 0 0 1 0 0-1 0 0-1 0 3 0-2-1 0 0 2 0-2-1-1 0 2 0 0 0 1 0 0 0-3 0 3-1-3 0 3 0-2 0 0 0 1-1-1 0 1-1 1 0-1-1-1 0 1 0 0-1 1 0-1 0-1-1 0 0 2 0 0-1 0 0 0 0-1-2 1-4-1 0-2-4 1-2 2-3 0-6 4 1 0 3 0 2-3 2 0 1 0 3 0 0 2 1 1 0 0 1-2 0-1 0 3 0-3 1 2 0 1 1-1 0 1 0 0 0-1 1 0 0 1 0 0 2-2 0 1 0 0 1-1 0 0 0 1 1 1 0-1 0-1 0 0 0 1 0 0 0-2 1 0 0 3 0-2 0 0 1 2 0-1 0 0 0-2 0 3 1 0 0-2 0 0 0 2 0-1 1 0 0-1 0-1 0 2 0 0 0 0 0-1 1 0 0-1 1 3 0 0 0-1 0-2 0 1 1 0 0 0 0 2 0-3 0 3 0-1 1 1 0-3 0 3 1 0 0 0 0-1 0 1 1 0 0-3 0 3 0 0 2-2 0 0 0 1 0-2 0 3 1 0 0 0 0-2 0-1 1 0 0 2 0-1 0 1 1 0 0-2 0 0 0 1 1 2 0-3 0 0 1 2 0-2 0 0 0 0 1 1 0 0 0 0 0-1 0 1 0 0 0 0 0-1 0 1 0 2 1-3 0 3 0-3 0 2 0-2 1 3 0 0 0-3 1 3 0-1 0 1 0-2 1 1 0-1 1 2 0 0 0 0 0 0 0-2 1 1 0 0 0 0 0-2 0 0 1 0 0 0 0 3 0-1 1-2 0 3 0-3 0 2 1-1 0 1 0 1 0-3 0 1 0 0 0-1 0 2 1-2 0 0 0 3 0-1 0-2 0 1 0 1 1 1 0-3 1 2 0-2 0 3 0 0 0-1 0 1 0 0 0-1 0-2 1 0 0 3 0-1 0 0 1-1 0-1 1 2 0 0 0-2 1 3 0-2 1-1 0 2 0-1 0 0 0 1 1-2 0 3 1-1 0-2 0 1 0 0 0-1 0 0 1 0 0 2 0 0 0 0 0-1 1 0 0-1 0 3 0-1 0 1 1-2 0 1 1-2 0 2 0-1 0 2 0-1 1-2 0 3 1 0 0-1 1 1 0-2 0 1 1 1 0-2 0-1 0 1 0 1 1-1 0 0 0 2 0-2 1 2 1-3 0 0 1 1 0 0 0-1 0 0 0 0 1 1 0 1 0 0 1-2 0 1 1-1 0 0 1 0 0 2 0-2 0 0 1 1 0-1 0 0 1 1 0 2 1-3 1 3 0-1 0-1 1 1 1-2 0 1 0 1 1 0 0-1 1 1 0-2 1 3 0-2 1 0 0 0 1 1 1-2 1 0 0 2 1 1 1-1 1-2 1 2 1-1 0 0 1-1 2 0 1 3 0-3 1 3 1-1 2 1 1-1 0-1 0-1 1 3 0-2 0-1 1 0 2 0 7 2 2 0 2-1 1 1 4 0 9-1 1 0 3 0 4 1 1-2 1 0 2 3 1-1 4-1 3 1 16 0 7-1 2-1 18 1 32-1 15 2-68 2-20 3-1 0-14-2-2 0-8-1-5 3-9-2-4 0-5 0-2-1-5 3 0-3-2 1-2 2-1-3-1 3 0-2-1 1 0-2-2 3-2-2 0 1-3-2 0 1 0-1 0 0-1 2-2 1-2-2 0 2 0-2-1 1 0-2-1 0 0 1 0-1-1 0-3 1-1 1-1 0 0-1-2 1 0 1 0-3 0 3-2-2 0-1-1 0-1 3 0-3 0 1 0-1 0 1-1 2 0-2 0-1-1 2 0 1-1-1 0 0 0-2-2 3 0-2-1 1 0 0-1-2-1 1 0-1 0 2 0 1-1-1 0-1 0 1-1-2 0 3 0 0-1-3 0 0 0 0 0 1 0 2-1-1-1-1 0 2 0-2 0 2-1 0 0 0 0-3 0 1-1-1 0 0-1 0 0 2 0-2 0 1-1 1 0 1 0-3-1 0 0 1 0 2-1-3 0 3-1-2 0 2 0-1 0-2 0 3-1 0 0-2 0-1-1 2 0 1-1 0 0 0 0 0 0-1-1 1 0-3 0 1 0-1 0 1-1-1 0 1 0 0 0 2-1-1 0 0-1-2 0 3 0-2 0 2 0-3-1 1 0 0 0 0 0 0-1 0-1 2 0-2 0 2 0-2 0-1-1 1 0-1 0 1 0 0 0 0 0 0-1 1 0-2 0 3-1-3 0 1 0 2-1-2 0 1 0 0 0-1 0-1 0 1 0-1 0 1 0 0 0 2 0-1-1-1 0 0 0 2 0-2-1 0 0 1 0 1 0-3 0 3 0-1 0 0-1 0 0 1 0-1-1 0 0-1 0-1 0 0 0 2 0 0 0 0 0 1 0 0-1 0 0-1 0 1 0 0 0-1 0-1 0 2 0-3-1 3 0-1 0-2 0 3 0 0 0 0 0 0-1-3 0 2 0 0 0-1 0 1 0 1-1-1 0-1 0 1 0 1 0 0-1 0 0-2 0-1 0 2 0-1 0 1 0 1-1-2 0 0 0 0 0 0 0 2 0-1-1 1 0 0-1-2 0 1 0 0-1 1 0 0 0 0-1 0 0 0 0-3 0 3 0-2 0 0 0 1 0 1-1-2 0-1 0 3 0-2 0 0 0 2 0 0 0-1 0 0-1 0 0 1 0-1 0-2 0 2-1-2 0 0 0 3 0-1-1-1 0 1 0 1 0-3 0 1 0 1 0 1-1-3 0 3 0 0-1-3 0 1 0 1-1 0 0 0 0 0-1 1 0 0 0-3-1 2 0 0-1-2 0 3 0-3-1 3-1 0 0-3 0 1 0 0-1 1-2 1 0-1-2 0-7 1 2 4 1 0 2 0 1 0 1-2 0 2 0-3 0 1 1 0 1-1 0 1 0 2 0 0 1-1 0 0 1-1 0 1 0 1 0-1 0 1 0-1 0 1 1-2 0 0 1 2 0-1 0-2 0 0 0 2 1 0 0 1 0-1 0 0 0-1 0 0 1 0 0 0 1 1 0 1 0-1 0-1 0 2 1 0 0-1 0-1 1 0 0 0 0-1 0 3 0-1 1 0 0-1 1 0 0 0 0 0 0-1 0 1 1 1 0-2 0 3 0-1 0 0 1 0 0-1 0 2 0-2 0 1 1-1 0 2 0-2 0-1 0 1 1 1 0 0 0 0 0-2 0 2 0 1 0-2 1 0 0 2 0-3 0 3 0-1 1 1 0-2 0 0 0 0 0 2 1-1 0 0 1 0 0 0 0 1 0-2 0 1 1 1 0 0 0-1 0 0 0-1 1 0 0 0 0-1 0 3 0 0 1-1 0-2 0 3 0 0 1-3 0 3 0-1 0-2 0 1 0-1 0 1 0 1 1-1 0 2 0-3 0 1 0-1 0 0 1 0 0 3 0-3 1 1 1 1 0-2 0 2 0-1 1-1 0 2 0-1 1 2 0-3 0 3 0-3 0 3 0 0 0-2 0 1 0-2 1 2 0-2 1 0 0 1 0 1 0-2 0 0 0 1 1 1 0-1 0 2 0-1 0-2 0 3 0-2 0 2 1-1 0-1 0 1 0-2 1 1 0 0 0-1 0 0 1 2 0-1 0-1 0 0 0 3 1-1 0 0 0 1 1-1 0-2 1 0 0 3 0-3 0 1 0 2 0 0 2-1 0 0 0 1 3-3 0 0 1 1 1-1 0 0 0 1 1-1 0 0 0 3 0 0 0-3 1 0 0 3 1-3 0 3 0 0 1-3 0 0 1 0 1 0 1 3 1-3 0 1 0 0 1 2 1-2 0 0 0-1 0 3 1-1 0 0 1-1 0-1 0 0 1 2 1 0 0 0 0-1 1-1 1 0 0 1 0 0 1-1 0 0 0 0 1 0 0 1 0-1 0 1 1 1 1-2 0 3 0-3 0 0 1 0 1 2 0-1 0 1 1-1 1 0 1 0 3-1 2 1 2 2 0-2 1 1 1-2 1 1 2 2 2-1 0 1 2-3 4 2 3 1 2-3 1 0 9 0 0 1 10 0 2 0 19-1 42 1 2 0-59 6-19-3-14 0 0 3-1-2-14 0-1 0-1 1 0-1 0 0-1-1 0 0-2 2-3-1 0 2-2-3 0 0-1 3 0-1-1-1-1 1 0 0-2 1 0-1-2 1-2-2 0 0-1-1-1 1-5-1-1 0-1 3 0-1-2-1 0 0-1 2-1-1 0 0 0-2 0 1-1 1-1 0 0 0-1-2-1 1 0 1-1 0 0-2 0 0-1 1 0 1-1-2 0 0 0 0 0 2 0 0-1-1 0-1 0 1-1 0 0 1 0-2-1 2 0 1 0-2 0-1 0 3 0-2 0 1-2-1-1-1-3 1 0-1 0 3 0-3 0 2-1-1 0-1 0 3-1-3 0 3-1-2 0 1 0-1 0 1-1 0 0 1 0 0 0 0 0-1-1-2 0 1 0 0 0 0-1 0 0 2 0-1 0 1 0-2 0 1 0-1-1-1 0 0 0 2-1-2 0 2 0-1 0-1 0 1 0 2 0-1 0-1-1-1 0 3 0-2 0-1 0 0 0 0 0 2 0 0 0 0-1-1 0 2 0-3 0 2 0 1 0 0-1-3 0 1 0 1 0-2-1 3 0 0 0-1 0-1 0 0 0 1 0 1 0-1 0 0 0-1-1 0 0-1 0 0 0 3 0-2 0-1 0 0-1 3 0-3 0 2 0-2-1 3 0-3 0 1 0-1 0 2 0-2-1 2 0-1-1 1 0-1 0 2-1-3 0 3 0-2-1 0 0 2 0 0 0-1 0-1 0 0 0 0-1 2 0 0 0-2 0-1 0 0-1 1 0 2 0 0 0-1 0 1-1-3 0 3 0 0 0-3-1 2 0 1 0-3 0 0 0 0-1 1 0 2 0-3 0 2 0-2 0 3 0-3 0 0 0 0 0 2 0 0-1-2 0 1 0 1 0-1 0 2 0-3-1 0 0 2 0-1 0 2 0 0 0-3-1 3 0-1 0-2-1 1 0 1 0 0-1-1 0 2-1 0 0 0 0 0 0-2 0 1 0-1 0 2 0-1-1 0 0 0-1 0 0-1 0 2 0-3-1 2 0 1 0-1-1 0 0 0 0 0-2 1 0 3 1-1 0-1 0 3 0-2 0 2 0-1 0 1 0 0 1-2 0 0 0-1 1 3 0-2 0 1 0-2 0 1 0 1 1 1 0-1 0-2 0 3 0-3 0 2 0-2 1 0 0 0 0 1 0 1 0 1 0 0 0 0 0-3 1 3 0-2 0 0 0 2 0-2 0 0 0 1 0 0 1-2 0 1 0 0 0 2 1-2 0-1 0 0 0 3 0 0 0 0 0 0 0-1 1 1 0-2 0 2 0-3 0 0 0 1 0 0 0-1 0 0 1 3 0-1 0-2 0 2 0 0 0-1 1 0 0 0 0 1 0 1 0-3 0 3 0-1 0 0 0 0 1 1 0-2 0 1 0-2 0 2 1 1 0-1 0 0 0 0 1-1 0 0 0 1 0 1 0-3 1 3 0 0 0-3 0 3 0-1 1-2 0 1 0 1 0-1 0 1 0 0 0-2 1 1 0 0 1 1 0-1 1 1 0 0 0-1 0 2 0-1 1 1 0-1 1-1 0 0 0 1 0 1 1-3 0 2 0 1 0-3 0 1 0 0 1-1 0 3 1-3 0 2 0 0 0 1 1-2 1-1 1 3 0 0 0-2 0 2 0 0 1-1 1-2 0 1 1 1 1 1 0-2 0 0 1-1 0 1 1-1 0 1 0 1 0-1 1 0 1 0 1 1 0 0 3-1 0-1 1 2 1-2 0 0 0 2 2 1 1-2 2-1 0 0 0 0 0 3 1 0 1-3 0 0 1 1 2-1 0 2 1-2 1 3 0 0 5-3 2 3 0-3 6 1 3-1 13 0 7 0 50 3-51 2-6-1-6 2-3-1-16 0 0-1-3 2-2-2-4 1-4 0-1 0-4-1 0 0-2 3-4-1-1-2-1 1-2 0-1 2-1 0-2-1-1-2 0 3-1-2-1 0-1 0-1-1-1 3-1-2 0-1 0 0-1 0-2 1 0 2-1-3-1 1-1 0 0 2 0-1 0-1 0 1 0 0-1 0 0-1 0 0 0 0 0 0-1 1 0 0 0-2 0 2 0-1 0 1 0-2-1 2 0 1 0 0-1-2 0 2 0-2 0 0-1 1 0 1 0-1-1 1 0-2 0 2 0 0 0-3 0 1-1-1 0 3 0-3 0 3 0-1-1 0 0 0 0 0 0-2 0 3 0-3-1 1 0 1 0-2 0 3 0-1 0 0-1-1 0-1 0 2 0-2 0 1 0-1 0 1-1 2 0 0 0-1 0-2 0 0-1 0 0 2 0 2 1 1 0 2 0-2 1-1 1 1 0 1 0-1 0-1 1 1 1 1 0 0 0-2 1 3 1-2 0-1 0 0 0 0 0 0 1 0 0 2 0-1 0 0 0-1 0 0 0 1 1 0 1 1 0-2 1 0 1 3 0-1 4 1 0-1 2-2 0 2 3 1 4-3 3 1 0 0 5 0 0 0 8 1 22 0 13-2-42 5-15-1-6 2-6 1-4-2-1 0 0-1 0 1-1-1 0 1 1 3 1 0" fill="none" style="marker:url(#mk0)"/>
<path d="m829 1166-19 2 11 3 16-1-28 4-13-1-16-1-10 7 10-1 22 1 15-2 9 2 5-3-22 7-22-1 0-1-2 2-7-3-1 2-5 1-13 3 10-1 4 1 6-1 1 1 10-2 1 3 33 4-9 0-24-3-3 2-5-1-7 2-2-2-1 0-1 2 0-3-1 1-1 0-24 5 1-1 2 2 7-3 0 1 1 1 2-2 0 1 4 0 2 0 1 1 2-2 1 3 4 0 0-1 3-2 1 0 3 2 1 0 1 1 3-1 4-1 6 0 3 2 3-1 0 0 6-1 6-1-23 6-4 0-1-1-2 2-3-3 0 3 0-2-5-1 0 3 0-1-3-1-1 0-6 2-1-1-14-1-3 2-5-1-15-1 8 6 1-1 3-2 4 3 2-3 2 1 0 0 3 1 3 0 2-2 1 1 1 1 1 0 4-1 4 2 6-1 4 1 1-2 7 1 1 5-3-2-1-1-7 0-2 2-2-2-2 3 0-1-1-2 0 1-1 0-4 2-2-1-3 1-1-1-1-1-1 2-1 0-3-1-3-1-3-1-1 3-1-2 0 2-1-3-3 0-4 1-2 0 0 1-1 0-12-1-6 6 3-2 2 1 3-2 1 2 1 0 3 1 5-1 0-1 1-1 0 1 1 2 1 0 0-2 2 1 3-2 6 3 1-2 3 2 1-3 5 3 0-3 1 2 3-1 0 1 4-2 8 1 0 1 3 1 4 1-17 1-1 1-3-2-5 0-4 2 0-2-4 2 0 1-2-2-3 0-2 2-1-1 0 1-1-1-1 0 0 0 0 1 0-1-1-1 0-1-1 2 0 0-1 1-2 0-3 0-2-1-4 0-2-2-3 2-6-1 0-1-1 1 0 1-1-1-1 0-1 0-3 0-1 1-14 4 3-1 7 1 0 0 9 1 5-2 1 0 0 0 0 1 1-1 2 2 1 0 1-1 3 1 6-1 1-2 2 2 2 1 0-2 2-1 3 0 1 2 0 0 1-1 2 1 1-2 0 0 0 0 3 1 5 0 5 1 2-1 9 2-24 3-4 1-1 0-1-3 0 2-6-1 0-1 0 0-1 2-1 1-1-2 0 1-1-1-1 0-2 1-2-1-1 1 0 1 0-1-1 0-4-2-1 2-1-1-5 0-1 0-2 2-1 0-1 0-3-2-2-1-3 1 0 0-5 0 0-1-2 2-2-1-2 2-8 0 1 2 1 2 1-3 2 2 1 0 3-2 1 3 1-1 1 0 2 1 4-1 1 0 1-1 0-1 1 0 0 3 1 0 2-2 1 1 0-1 1 0 4-1 4 1 1-1 0 3 4 0 4-1 2-1 2 0 3 0 5 1 7 0 3-2 9 0-15 4-7 0-2 1-1 2-23-2-1 2-1-1-1-2-3 2-1-2-1 0-1 2 0 0-1 0-1-1-3 2 0-3-8 0-2 3-1 0-4-3-2 2 0 0-2-1-2-1-7 3-2 2 1 0 0 2 0 0 1 0 3-2 3-1 0 1 1 1 1-2 1 0 0 2 1 0 2-1 1-1 2 1 0 0 0 1 1-1 0 0 3 2 1-2 1 2 1-3 4 2 0 0 0-2 0 2 4 0 9-2 0 2 0 0 4 0 1 0 4-2-5 6 0-1-1 1-14 1-1-3-1 1-4 2 0-1-4 1-1 0-1-2-2 0-1-1-1 3-2-3-5 0-1 1-1-1-3 3-1 0-3-3-1 3 0-1-1-1-14 4 9-1 1 2 0 1 3-1 0-1 1 2 1-1 3-1 1 2 1-2 1 0 0 1 2 0 1-1 0-1 1 1 0 1 1-2 1 1 2 0 6-1 2 1 4-1 0 0 4 2 5-1 4 2 8-3-35 7 0-2-4 2-1-2-1-1-1 2-2 1-1-2-2 0-1-1-1 0-1 3-2-2 0-1 0 3-2-2-3-1 0 2-1-1-3-1-2 0 0 0 0 1-4 0 1 4 3 0 0-1 1 3 1 0 2-1 7 0 7-1 5 2 0 1-18 3 0-2-2 0 0-1-4 3-1-2-2 0-1 2 5 1" fill="none" style="marker:url(#mk1)"/>
<path d="m819 1169 15 2-4 3-6 0-16-1-3 1-11-1-28 4 15 2 4-2 8-1 3 3 20-2 5 5-3 0-1-2-7 2-6 1-1 0-2-3-5 1-3-1-1 3-6-2 0 0-7 2-6-3-11 5 5 0 2 2 2-1 1-2 0 1 5 1 1-2 2 2 2 1 3-3 2 1 4 0 3 1 15-1 14 0 4 0-2 6-25 0-1-1-10-2-9 2-3 1-3-3-5 3-2-1-3-1-1 0-2-1-5 1-17-1 3 4 3 0 3 0 3 2 1-2 3 1 1 2 5 0 4-3 0 2 2 1 1-3 0 2 7 0 3 0 2-2 1 2 2 0 0 0 7 1 3-1 2 1 4 0 4-2-6 4-3 2-2 0-1-2-3 0-7-1-2 3-8-3-1 1 0 0-1 2-1 0-4-1 0-2-1 1 0-1-2 2 0-1-1 0-2 1-2-1-4 1 0-2-3 2-4-1-3 1-2 1-2-3-4 0-2 3-10 3 5-2 3 3 2-3 1 1 1 1 1 1 0-2 2 1 0 0 4 1 1-2 2-1 0 0 2 3 1 0 3 0 0 0 0-3 2 2 0 1 2-1 1 0 3 1 0-2 4 2 3-1 1 0 2-1 2 2 2-2 2-1 4 0 1 1 15-1 5 2-5 4-7-1-1-1-2 0-8 3 0-2 0 1-10-2-3 2 0-2-1 1-1-1 0 1-1 2-1-3-1 2-2-1-3 2-3-1-1-2-1 2-1 0 0 1 0-1-1-2 0 2 0-2-4 0 0 3-1 0-4-3 0 1-3 1-1 1-2 0-1-1-1 1-1-2-2-1-3 2-10 1-9 2 2 1 7-1 0 2 1-2 1-1 4 3 1 0 3 0 1-1 1-1 1 2 0-3 2 3 2-2 0-1 0 0 4 1 0 0 1-1 2 1 0-1 1 1 1 0 1 1 1 1 0-2 7 1 2-2 0 0 1 3 2-2 0 0 0 2 2-3 1 2 2 1 0-2 0 2 4-2 0-1 1 1 2-1 5 1 20 0-5 5-18-2-3 0-1 0-2 3-2-3 0 3-3-2 0 1-1-1-2 1-1 0 0-2-1 2-1-2 0 2-1 1-1 0-1-2-1 0 0-1 0 1-3-1-2 2-1 0-2-1 0 2-2-1 0 0-3-1-1 1 0-1 0 1-1 0 0-1 0 2-1 0-1 0-1-3-2 3 0 0-1-2-1 0-1 1 0 1 0-3 0 3-1-3 0 1 0 2-1-3-3 2-1-1 0-1-1 1-5 1 0-2 0 2-1 0-2 1-4-3-1 0-3 2-2 0-4 1-10 4 6-1 3 0 3-2 1 1 1 0 2 0 4 0 1-1 1 3 4-1 0-2 0 3 1-3 1 3 1-2 0 0 2 1 0 0 1 1 1-2 3 0 0 0 1 0 1-1 2 0 2 3 4 0 1-2 2 1 3-2 2 2 3 1 2-3 4 0 3 1 1 2 4-2 4 2 2-2 9 0 1 0 2-1-22 5-4 1-2-1 0 2-6-3-2 2-1 1-6-1-7 0-2 1-1 0 0 0 0-3-1 3 0-1-2 1-1 0 0-1-1-2-1 0-1 0 0 3-3-3 0 2-1-2 0 3 0-1-2-2 0 2-4 0-1-2 0 1-1-1-3 2-2-1 0 1 0-1-1 2-5 0-1-2-1 1 0-1-2 2-3 0 0-1-1 0-1 1-1 0 0-3-5 3-6 0 5 2 1 1 0-1 1 0 1 0 1 2 0-3 0 0 1 1 0-1 1 1 2 0 1 2 1-3 2 0 1 1 1 2 2-2 0 2 1-3 0 0 0 2 0 0 0 1 0 0 1-3 0 1 1 0 0 2 0 0 0-2 1 1 0 1 1-2 0 0 1 2 0-1 1-1 0-1 1 3 0 0 1-3 2 3 3-1 1 0 0-2 1 2 0 0 0 0 2-2 0 2 1 0 1-2 2 0 1 0 3 1 2 0 1 1 0 1 2 0 1-1 2-1 2 1 1 0 3-2 0 0 2 1 1 0 4 0 0-1 10 3 1-2-15 3-4 3-4-2-2 1-2-2 0 0-2 3-4-1 0 0-3 1-5-1-2-2-1 1 0 1-1 0-2 0 0-2-2 2 0 1-2-3 0 1-2-1-1 0-1 2-1-1-5 0 0 0 0 2 0-3-1 2 0-2 0 3-1-2 0 0-1 0-1-1-1 3 0 0-1-2-1-1-1 3-1 0-1-2-3 2-1 0-2-1-1-2-1 0-3 2 0-1-1 2-10 3 1-2 1 0 1 3 1-1 1-1 0 0 6 0 2-1 3 2 2-2 1 1 0 2 1 0 0-3 0 3 2-2 2 0 0-1 0 1 1 1 1 1 1-1 1 1 1-3 0 0 1 0 1 1 1-1 1 1 0 1 0-1 0 0 1 2 0 0 0-3 2 2 5-2 1 1 0 0 0 0 2-1 1 3 1-1 1 1 5-3 2 3 1-1 5 1 1-2 0 1 6 0 3-1 11 2-14 1-5 1-22 0-6-1-1 1-2-1-1 1-2-1-5 1-2 2-1-1-1-1-1 1-1-2 0 3 0-3-1 1 0 1 0 1-4-2 0-1-1 0 0 1-1-1 0 3-1-3 0 0-1 1 0 0 0-1 0 1-2 2-2 0-1-1 0 1-1-1 0 0-2 0-2 1-1-2-1 1-2-1-11 5 6 0 0 0 2 1 6-3 0 3 1 0 1-1 1-2 0 3 1 0 0-2 1 2 2 0 1-3 4 3 3-3 1 2 2 0 0-1 0-1 1 3 1-3 0 3 4-3 4 0 2 3 5-2 8-1-20 5-4-1 0 3 0-3 0 0-5 3-1-3-2 0-2 0-1 3-4-3-2 2-2 0-3-2-3 0-3 2-2 0 0-2 0 1-3-1-3 3-1 2 3 2 1-3 0 0 0 0 1 0 1 3 3-3 2 1 3 2 0-1 3-2 0 1 8 1 1-2 1 1 1 1 1-2 8 1 3 0-23 3-3 0-7 0 0 3-3-2-1 1-2-2-1 0 0 0" fill="none" style="marker:url(#mk2)"/>
<path d="m779 1181-8 6-25 5 17 0 1 3 12-3 14 7-8-2-15-1-13 2-10-2-16 3 6 4 11-1 11 1 3-3 8 3 3 0 2-3 21 3-17 2-12 0-1 2-7-2-19-1-20 6 6 1 8-2 4 2 4-3 35 3-22 3-2-1-10 2-6 0-12-1-1 0 0-1-1-1-3 2-4-2-1 1-11 0 0 3 7 1 6 0 1 1 1-1 4 1 5-1 4 1 4-1 3 2 0-1 1 1 4 0 21-3-25 4-9 3-1 0-4-2-6 0-6-1-24 0-4 1-2 4 13 1 0-2 4 2 2 0 13-1 5 1 2 1 3-1 12 1-15 1-32 2-5 1-2-1-26 4 3-1 2-1 2 2 28-2 15 0 3 1-10 4-2-1-1 0-7 2-8 1-10-1-14 0-4 0-6 1 7 1 2 1 8 0 0 0 2 0 16-1 2 5-14-1-4 0-16 2-5 1-3-2-5 1 4 5 2-1 5-2 22 0-24 6" fill="none" style="marker:url(#mk3)"/>
<path d="m764 1198 0 1-19 4 4-3 7 4-8 3-2 0-18-1-3 4 3 1 8-3 0 1-4 4-9-1-17 5 7 2 2 0 2 0 0-1 3 0 2 0 0-1 2 1 0 0 0-1 5 1 3 1 2-1-23 5-1-1-3 1-5-2-5 1-13 3 13 1 3 0 4-2 7 4-10 3-18-3-7 1-1 0-3 2-4 3 0 1 11-3 1 2 1 0 9 1 2-2-20 4-3-1-7 2 6 5 1-1 5-2-18 5" fill="none" style="marker:url(#mk4)"/>
<path d="m747 1201 16 4-12-1-18 2 16 3 1 2-2 4-10-2-4 2-13-2-3-1-3 0-10 5 22-1 8 3-24 2-20 6 10-3 17 1-5 3-2 1-7 2-7-2-1 0-9 1-1 0 0 1-15 3 8 1 2 0 5 1-15 0-3 0-10 2 12 6" fill="none" style="marker:url(#mk5)"/>
<path d="m774 1199-20 6-30 3 6 0 12 2 6 1-14 3-1 0-5 1-2-3-4 3-18 2 7-1 15 3 2-1 6-2 14 0-22 7-1-2-4-1-6 2-5-1-6 0-22 5 2-2 2 3 2 0 6-1 1 1 1-3 0 0 6 3 17-1-17 5-7 0-5-3-11 1-7 2 0 0 5 1 3 3 1-1 0-1 6 1 10 0 6 2-22 0-1 3-3 0-4-1-1 0-3 1-1 0-15-2 7 9-12-1" fill="none" style="marker:url(#mk6)"/>
<rect x="617.6" y="885.2" width="387" height="387" fill="none" stroke="#7a7a7a" stroke-width="1.2"/>
<line x1="617.6" y1="885.2" x2="617.6" y2="1272.8" stroke="#222" stroke-width="1.4"/>
<line x1="617" y1="1272.2" x2="1004.6" y2="1272.2" stroke="#222" stroke-width="1.4"/>
<path d="M617.6 1272.2v11M636.9 1272.2v4.6M656.2 1272.2v4.6M675.5 1272.2v4.6M694.8 1272.2v11M714.1 1272.2v4.6M733.3 1272.2v4.6M752.6 1272.2v4.6M771.9 1272.2v11M791.2 1272.2v4.6M810.5 1272.2v4.6M829.8 1272.2v4.6M849.1 1272.2v11M868.4 1272.2v4.6M887.7 1272.2v4.6M907 1272.2v4.6M926.2 1272.2v11M945.5 1272.2v4.6M964.8 1272.2v4.6M984.1 1272.2v4.6M1003.4 1272.2v11" stroke="#111" stroke-width="1.8"/>
<text x="617.6" y="1303.2" font-size="18.6" text-anchor="middle">0</text>
<text x="694.8" y="1303.2" font-size="18.6" text-anchor="middle">200K</text>
<text x="771.9" y="1303.2" font-size="18.6" text-anchor="middle">400K</text>
<text x="849.1" y="1303.2" font-size="18.6" text-anchor="middle">600K</text>
<text x="926.2" y="1303.2" font-size="18.6" text-anchor="middle">800K</text>
<text x="1003.4" y="1303.2" font-size="18.6" text-anchor="middle">1.0M</text>
<text x="811.1" y="1335.2" font-size="25.5" text-anchor="middle">FSC-A</text>
<text x="811.1" y="875.7" font-size="29.4" text-anchor="middle">Singlets</text>
<text x="599.2" y="1276.6" font-size="18.6" text-anchor="end">0</text>
<text x="599.2" y="1199.4" font-size="18.6" text-anchor="end">200K</text>
<text x="599.2" y="1122.3" font-size="18.6" text-anchor="end">400K</text>
<text x="599.2" y="1045.1" font-size="18.6" text-anchor="end">600K</text>
<text x="599.2" y="968" font-size="18.6" text-anchor="end">800K</text>
<text x="599.2" y="890.8" font-size="18.6" text-anchor="end">1.0M</text>
<path d="M606.6 1271.4h11M613 1252.1h4.6M613 1232.8h4.6M613 1213.5h4.6M606.6 1194.2h11M613 1175h4.6M613 1155.7h4.6M613 1136.4h4.6M606.6 1117.1h11M613 1097.8h4.6M613 1078.5h4.6M613 1059.2h4.6M606.6 1039.9h11M613 1020.6h4.6M613 1001.3h4.6M613 982.1h4.6M606.6 962.8h11M613 943.5h4.6M613 924.2h4.6M613 904.9h4.6M606.6 885.6h11" stroke="#111" stroke-width="1.8"/>
<text transform="translate(540.9 1078.7) rotate(-90)" font-size="25.5" text-anchor="middle">FSC-H</text>
<path d="M629.6 1228.9L960.7 1035.9L995.9 1056.8L998.7 1132.6L658.9 1267.4L624.9 1261.8Z" fill="none" stroke="#444" stroke-width="1.3"/>
<text x="795.6" y="1093.6" font-size="25" text-anchor="middle" font-weight="bold">93.6%</text>
<path d="m1188 904 44 1 184 2 84 3-39 0-135 0-87-1-49 2-41 3 21 1 202-3 1 1 62-1-118 5-34 2-89-2-16 0-23 2 63 2 271 1 8 0-2 4-86-2-169 2-1 1-41 0-39 0 133 1 94 2 110 3-130 1-15 0-128 1-9-2-7 0-2 2-7-1-23 1-9 2 0 2 17-2 5-1 7 2 22-2 7 1 231 3-149 1-82 2-4-1-2-1-17 0-7 1-18 0-7 1-18-1 0 3 8 1 2-2 25 1 3-1 8 1 8 0 16-1 7 1 3 2 206 2-25 2-192-1-8-1-3 1-6 0-1 0-3 1-14 0-1-3-11 2-15 2 10 0 20 3 2 0 0-1 8 0 0 1 16-1 36 0 77 1 37-2 135 0-280 5-15 0-8-2-12 2-23 0 0 0-23 0 16 5 6-3 12 1 4 1 7-2 10 3 3-1 17 1 0-1 1 1 0-2 1 2 7-1 13-2 6 2 13 1 235-1-38 4-57 1-153-1-5 1-14-2-10 0 0 2-1 0-7 0-4 0-9 0-2-2-4 1 0-2-2 1-10 1-7 0-3-2 18 5 3-1 2 2 2 1 4-1 4-2 1 3 3-3 5 3 2-3 2 1 6 2 4 0 3-1 6-2 275 2-88 5-103-1-64-1-37 1 0-1-7 0-7 2-7-3-8 3-4-2-16 4 30-1 6 2 3 1 1-3 5 2 9-2 1 3 4 0 10-1 11-2 92 4-105 0-2 2-18-1-4 1-2 0-1-1-2 1 0-1-9 1-6 0-1 0-1 1-1 0 0-3-5 2-10 0-5-1-2 0 2 3 16 3 1 0 5-2 3 2 0-3 3 1 1 2 15-3 6 3 3-1 3-2 1 1 18 2 2-1 173 0-184 4-6-1-5 1-3 1-10-2 0-1-7 2-5 0-7 1-1-2-2 2-4-2-3 1-5-1-7 2-8-3-3 3 14 1 10 0 2 2 11 0 3-2 3 0 1 3 6-3 2 3 20-1 5-2 12 2 11-2 141 3 91-1-136 5-71-1-17 1-28-3-18 0-8 0-9 0-2 0-25 0 4 6 4 0 1 0 14-2 18 3 3-3 5 3 3 0 13-2 9 1 14 1 153-3 10 2 5 2-17 3-204-1-2 1-6-1-9 1 0 0-5-1-6 0-1 2 6 1 5 2 2-2 25 1 8-2 146 2 26 2-37 2 0-2-105 2-32-2-13 1-10 0-9 1-11 0-25 1 10 4 29-2 24 1 8-1 32 4-72 6 11-1 1-2 109 3 65-2 108 2 9 2-69 1-83-1-30 1-98-1-8 3 27 0 10 0 77 2 26-1 113-1 1 3 15-2 38-1-9 4-306 2-14 0 36 3 4 2 81-3 144 2-136 2-13 0-58 1-28 5 80-1 42 2 35-2 76 3-41 1-34-1-189 5 54 0 40 2 45 0 100 0 70-1-148 2-8 1-42 2 41 1 9 2 145-1-1 5-23 1-3-1-19 0-79-1-124 0-59 2 8 1 235 0 2 3 40 0 3-1 2-1 6 2 4 0 24-2 5 4-2-1-2 3-3-2-15 0-11 1-44 1-44-2-46-1-19 2-41-2-11 3-25-1 0-1-29 0-42 2-4 2 165-1 23 2 35 0 8 0 17-2 7 3 6-1 27-1 6 1 11-1 8 2 5-3 9 3 5-1 4 0 3 5 0 0-11-1-3 1-1 0-1-3-15 2-6-1-2-1-1 2-13 1-7-3 0 3-4-2-11 0-15-1 0 3-10 0-20-3-22 2-81-2-5 2-41-2-15 7 31-1 28-1 0 0 9-1 28 0 34 3 5 0 0-2 18 1 10 1 25-3 1 2 8 0 1 1 13-3 1 0 1 0 12 1 7 2 5 0 4-1 0-1 27 2 14 0-5 4-8-1-9 0-10 0-15-2-13 0-6 2-5 0-8-1-6-1-4 3-19-1-9 1-16-2-6-1-16 0-5 0-6 3-14 0-3-2-21 1 0 1-14-1-2-2-18 2-17 0-43 1-29-3-2 1 9 3 6 0 2 2 3-2 39 3 2-1 21 0 6-1 23-1 15 3 11-3 35 0 31 0 7 1 2 2 0-2 5 1 10 1 17-2 2 2 6-3 1 3 2 0 5 0 5-2 15-1 8 1 4 1 1 1 9-1 0 0 4-1 2 1 0-1 7 1 0-1 1 0 0-1 19 6 0 1-2-3-2 0-1 2-9 1-1-1-3 0-1 0-8-2-8 3-1-1-2-2 0 2-5-2-1 0-1 0 0 0-1 1-2-1-6 1 0 0 0 2-2-2-1 2-2-2-1 1-2-2-1 0-1 2-1-1-1 1-1 0-15 0-16-2-5 1-6 2-1-1 0 1-1-2-9 1-2-2 0 2-7 1-4-3-3 0-11 3-11-1-3-1-5-1-1 2-7 0-7 0 0-2-21 0-4 2 0-2-7 1 0-1-7 0-11 3-5-3-11 0-1 2-4-1-3 2-46-1-41-1 8 5 24-2 9 0 4 1 5 1 2 1 5-1 18 1 1 0 1-1 2-1 4-1 7 0 0 1 2 1 3 0 2-1 9-1 2 1 10 2 3-1 4-2 8 3 2-3 2 1 3 0 1 2 0-1 3 1 4 0 0 0 2-3 10 1 0 0 10 1 3 1 8-3 2 3 4 0 3-2 10 1 3 1 0 0 8 0 1-3 3 2 1 1 0 0 4-3 15 3 1-1 0 1 1-1 7-1 1 0 3-1 1 0 4 0 1 2 4-2 1 3 2 0 10-1 2-1 1-1 1 3 1 0 5-1 0 1 1-3 17 3 1-2 1 2 5 0 6 0 0-2 1 2 0-1 0 1 6-3 4 2 0-1 2-1 2 1 2 1 5-2 2 3 0-1 0 0 2-2 0 3 1-1 3 4-6 1-2-3-2 1-1-1-4 2-7-1 0 2-5 0-1-1-4-2 0 0 0 0-5 0-2 1-2 2 0-1-2 1 0-1-1 1-1 0-3 0 0-1-1-2-2 2-5 0 0-2-3 2 0 0-5-2-1 0 0 0-2 3-2-3-2 3-1-3 0 2-5 1-1-2 0 1-3 1-4-3-1 3-14-3-1 2-7 0-3-1-1 1-1-2-4 2-2-2-3 1-4-1 0 0 0 2-3-1-4 2-5 0 0-1-1 0-1 1 0-2-1 2-2-1-14-2-2 3-4-1-2-2 0 1-1-1-2 0 0 2-2 0-1-2-1 1-3 0-6 0-4 0-1 2-1 0-1-1-1 0 0 1 0-3-3 2-2 1-1 0-5-3-5 0-2 2-6 0 0 1-2-1-2 1-6-2-12 1 0-2-2 0-7 3-3-2-5 2-1-1-2-2-11 2-1-2-3 3-2-3-7 2-2-1 0-1-2 3-2-1-4 1-4-3-2 0-4 1-1 0-3-1-26 2-21 4 3-2 4 0 7 2 1 1 2-3 9 1 0-1 2 2 2 0 8 1 0 0 1 0 6 0 0-2 1 2 2-2 5 0 3 1 5 0 6 0 0 1 6-2 7-1 5 1 1 1 3-1 4 2 1 0 6 0 3-1 1 0 12 0 2 0 1 0 4-1 0-1 1 0 2 3 3-2 2 2 6-3 2 2 3 1 0-1 2-1 1 0 2-1 6 3 1-1 1 1 0-2 1-1 5 3 5-2 9 0 1 2 2-3 8 1 2 0 3 2 2 0 0-1 0-2 3 3 0-3 3 3 1-1 6-1 2 1 5 1 1-2 2 0 0 2 3-3 1 0 1 3 0-2 1 1 4 1 1 0 0-2 3 0 1 2 9 0 8-2 5 2 2 0 0-1 4 1 3 0 4 0 1-2 0 1 4-2 5 0 0 3 2-3 2 0 4 2 0-1 0-1 6 1 0 1 0-1 3 1 2-1 4 0 3 2 1 0 2 0 1-1 1-1 2 0 0-1 1 0 1 0 3 3 1-1 1-1 2 2 6 0 0-3 4 2 0 0 3 1 6 0 1-3 1 0 0 1 0 1 1 0 2 1 1 0 5-1 2 2-4 1-1 2-2-1 0 1-1-3-1 3-3-3-2 3-3-3-1 3 0 0-1 0-1-3-3 2-3 0-1-1-2-1-1 0-4 2-1 0-4-2 0 2-2 0-1 1-8 0-2-1-1-2-1 3-1 0-3-1-4 1-1-3 0 3 0-3-5 3-1-1-1 0 0-1-4 1-2-1-6 1-5 1 0-1-1 1-1 0 0-2-2 2 0-3-1 2-3 1-2 0-5 0-6-1-1 1-1-2-7-1-2 1-6 1-1 1-4 0-1-2-2 2-3-3-2 3 0-1 0-1-1 0-3 1-3 1-4-3-1 1-3 1-1 1-1-1-3 1-1-3-2 0-2 0-1 2-1-1-1 0-2-1-2 0 0 1-1 0-4 2-1-1-1-2 0 2-1 0-1-1-2 2 0 0-2-3-1 1-2-1-3 0 0 2-1-1 0 0-5-1-1 3-2-2-5 2-1 0-4 0-1-1-1 1-4-1-1 0-6 0 0 0-1 1-1-1-3 1-1 0-2-3-2 3 0-1-4 1-4 0-2-1 0 1 0-2-2 1 0-2 0 1-2-1-3 2-4-1 0 1-2-2-1 1-1 2-3 0-5 0 0-2-1 2 0-2-1 1 0 1-3-2-3 1 0 1-6 0-6-1-5-2-3 0-3 2-1-1-1-1-2 3-4-1-3-1 0 2-4-1-1 1-3-2-3-1-6 1-9-1-8 0-16 2 0 4 0-1 2 1 7-1 1 1 1 0 0-2 1 3 7-1 5-2 2 2 6 0 8-1 8 0 1 0 4 2 0-1 1 1 1-1 2-1 2 1 5-1 1 2 0-2 1 0 0 2 3 0 0 0 3 0 3-2 0 1 1 0 0-2 4 2 0-2 1 1 6 2 0 0 5 0 0-1 0-1 2 1 1 0 2 1 1-3 0 3 6-1 1-2 0 1 0 0 1 0 0 1 1 0 0-1 1-1 7 0 0 0 1 0 2 2 3-1 3 0 1-1 3 2 1-2 1 2 1-1 2 2 0-2 4 1 3-2 3 0 1 1 1 0 0 1 4 1 1-1 1 1 2 0 1-3 2 3 1-2 0-1 1 0 1 1 3-1 4 0 1 1 2 0 1-1 2 3 2-3 0 2 1 1 1-1 0 0 0 1 1 0 2 0 2-1 0 0 1 0 1-1 1 2 3-3 1 2 1 1 0-3 1 0 1 0 0 1 1-1 0 2 2 1 1-3 3 3 2-2 1 1 2 0 3-2 1 1 2 1 1 1 0-3 1 3 0-3 6 0 2 3 1-3 0 3 1-2 2-1 3 0 1 3 0-2 1-1 2 0 0 2 6-2 3 3 2-2 1 0 1 1 0-1 1 1 1 0 1-1 2 1 0 0 1 0 2 1 1-1 0-1 0 1 1 0 1-1 2 1 5-2 1 2 3-2 1 3 2-3 5 2 1-1 2-1 2 0 0 0 0 2 0-1 1 1 0 0 0-2 4 3 1 0 1-2 4-1 1 1 2-1 0 1 7 2 2-2 3 2 0-1 1 1 3 0 2-2 1-1 0 2 1-1 4 2 1-1 0-1 2-1 1 0 0 2 1 0 2-1 1-1 1 3 0-2 1-1 1 0 1 2 2 1 1 0 0-2 0 0 1 1 1-1 4-1 0 1 0 1 1-2 4 2 4 0 5-1 1 1 0 0 0 1 1-1 0-1 0 6 0-3-4 3-1-2-2 2-1-1-4-1-3 2 0 0-1-2-1-1-1 0-1 2-1 1-1-3-1 0-4 1 0 2-1 0-4-1-5 1-3-1 0-1-3 1-1 1-2-3-3 0-2 3 0-2 0-1-6 1-2-1-2 1 0 0-2 0 0 2-1 0-1-1-1-1-3 2-1-3-2 1-2 0 0 1-2 0 0 0-1 0 0 0-1 1-5 0-9 0-1-3 0 2-1-2-1 0-1 2-1-2-1 1-2 0-2 1 0-1-2 2-1-1-1-1 0 0-5 1-1-1-3 1 0 1-4-1-1 1-2-1 0 0-2 0-1-2-1 1-1 1 0-2-1 2 0 0-1 1 0-1-4 0-3-1 0-1-1 0-3 1 0 0-3 1-1-2 0 1-2 2-1-1-5 1-1-3 0 0-1 3-1-2-2-1 0 0-2 1 0 2-1-2 0-1 0 3-3-2 0 2-1-3 0 0-3 1-3 2 0-3-1 1 0 2-2-3 0 2 0 0-2 0-1-1-4 1 0 0-1 0-3-1 0 1-1 1-2-1-3-2-1 3 0-2 0-1 0 3 0-1-3 1-4-3 0 1-3-1 0 3 0-1-2-2-1 0-1 0-3 2 0-1-1 2 0-1-1 0-2 0-8 1-2-2-1 0 0 0 0 2-2 0 0-3-3 2-1-2-1 1 0 1-1-2 0 0-2 0-1 3 0 0-1-2 0 0-1 0-1-1-1 2-2-2 0 2-1 1-4-2-2 0 0-1-1 1-3 0 0 2-2-1-1 0-2 1-1-1 0-1-1 2 0-3-1 0 0 3-1-2-5 2-1-1-1-1-2 2 0 0 0 0 0-2-1 1 0-1 0 2-2 0-1 0-3 0-1-2 0 0-2 1 0 0-1-1-3 2 0-1-2 1-3 0-1 0-1-1-6-2 0 2-1-2-1 3-1-3-1 1-1 1-1 1-1-1-5-1 0-1-2 2-2 1-2-1-4-2-1 0 0 3-1 0-1 0-1-3-1 0-3 3-1 0-2-2-2 1-1 1-3-1-1-2-3 1-4-1-1 2-7-1-3 0 0 0-8 1 12 5 3 0 2-3 0 3 2-1 1 1 0-3 1 3 0-3 1 0 7 1 1 0 1 0 1 1 1 0 2 1 0-1 1-2 5 3 1-2 1 1 3-1 0 0 2 0 0 0 1 0 1-1 1 0 4 2 1-1 1-1 1 1 1 2 2-1 1 1 1 0 0-3 0 3 0-3 0 2 0 0 1-1 4-1 1 0 0 2 2-2 0 3 1 0 0-2 2 0 1 1 0-1 5 1 1-2 2 3 1-3 2 2 1 0 0-1 1 0 0 1 2 0 1 1 4-1 1-1 0 2 1-2 0 2 0-2 2-1 3 2 2-1 1-1 0 3 1-1 0 0 0-1 2 2 0 0 1 0 0-2 1 2 0-3 1 2 1 1 0 0 1-2 0 2 1-2 0 2 3-3 3 3 0-1 0 0 0 0 4-1 0 2 0-2 2 2 0-1 5 0 1 0 0 1 0-1 1 0 0-2 0 1 1 1 0 1 3-1 0-2 1 2 0-2 1 2 1 1 1-3 1 2 0 1 1-2 1 1 0-2 0 3 1-1 0 0 4 1 1-1 2 1 1 0 0-2 0-1 1 0 1 0 1 3 2-1 3 1 0-3 1 1 3 2 1 0 1-1 2-1 0 1 1 1 1-2 1-1 1 2 1 1 0-3 0 3 1-1 0 1 1-1 0 1 2-2 2 2 1-2 2 2 0-1 1 0 1-1 0 0 1 2 1-1 0-1 0-1 3 2 3 1 3 0 2-2 0 0 3 2 2-2 2-1 0 1 0 2 3-2 1 2 0-2 2 2 1 0 1-1 0-1 0 2 2-2 0 2 1-1 2-1 0 2 2-3 3 0 0 3 0-1 1 1 1-1 4-2 6 2 1 0 2 1 0 0 2-2 0 0 1-1 2 2 1 0 1 1 2-1 4 0 4 1 3-2 1 2 4-2 0-1 4 3 1-3 1 3 3-3 1 1 0 1 2 1 2-3 0 1 1 0 0 2 4-3 1 3 2-1 8 1 1-3 3 0 0 2 1 0 4 1 2 0 4-1 0-2 5 1 2 0 1 1 0 0 1 1 0-3 3 1 0-1 2 1 1 0 0 0 1 1 2 0 0 0 4-2 0 3 1-2 1-1 3 2 1-2 0 0 0 3 2-3 0 0 1 3 3-1 1-1 0-1 1 3 2-2 2 1 3-1 0 1 1 0 0-1 2-1 2 1 0-1 1 3 0 0 2-2 0 0 0 0 1-1 1 1 1 1 1 1 1 3-1-2 0 2-2 1-1-2-3 2-1-2-5 2 0 0-2-2-1 1-1 0 0 1-1-2 0 0 0 2-1-3-8 2-1-1-6 2-1-2 0 0-2 0-3-1-3 0 0 3-4-3-2 2 0-2-1 0-1 1-2 1-1 0-2-2-2 1-1-1 0 0-1 1-1 1-1 0 0 0-1 1-2-1 0-1-1 0-5-1-4 3 0-2-1-1-2 1 0 1-2-2 0 0-2 1 0 2-1 0-4-1-2 1-1-2-3-1-2 2 0-2-4 1 0 2-1 0-1-2-1 0 0-1 0 2 0-1-5 0-1 0-3 0 0 0 0-1-2 2-1-2-1 2-2-2 0 3-1 0-2-3-1 2 0 0-1-2-1 2 0-2-1 3-3-3-1 3-1 0-1-3-1 0 0 2 0 1 0-2-1 1 0-1-4 2-1-3 0 0-1 2-5 0 0 0-1-1-1-1-1 2-1 0 0-1-1 1 0 0-1 0-1 1 0-1-2-1 0 0 0 1-1-1 0-1-1 0-1 3-1-1 0 1-1-1 0-2 0 1 0 2-1 0-2 0-1-2 0 1-1 0 0 1-1-1-1-1-1-1 0 1-1 0-1 0-2-1-2 2 0 0-2-2-1 3-1-1-1-2 0 1-1-1 0 3-2-3-2 2-1-2 0 2-1 1-1 0-1-1 0-2-1 3 0-1 0 0-1-2-1 2-1 0-1-1 0 1 0-2-1 2-1-1 0 0-3 2 0-2-1 1-1-2 0 2 0 0-1-2-2 2-1-1-2 1-2 1-1-2-1 2 0-1-2 0 0-2 0 0-5 2 0 0 0-1-1 2-1 0 0-3 0 2-1 0 0-2 0 3 0-3-3 3-2-2-1 0-1-1 0 1 0 1-2-2-1 3-1-2-1 0-1 1 0 1-1-2 0 2-1-2-1 1-1-1-2 2 0 0-1-3-1 0-1 1 0 1 0 1 0-3-2 3-1 0-1-1-1-1 0-1-1 1 0 1 0 1-1-1 0-2 0 0-1 1-2 2 0 0-2-3-1 1 0 2-2-1-1 0-1-1 0-1 0 1-2-1-1 1-4 2 0-2 0 1 0-2-2 0 0 3-1 0-2-3-1 3 0 0-1-2-2 0-1 0-3-1 0 0 0 1-1 0 0-1-1 3-1-1 0-1 0 2-1-3 0 3-1 0-1-3 0 1-1 0 0 2 0-1-1-1-1 1 0-1 0-1-1 3 0-2-1-1-3 1 0 1-1-1 0 0 0-1-2 0-5 1 0 1 0-1 0 2-1-1 0 1-1-1 0-1-1-1 0 1 0 2-1-2-2-1 0 2-2-2 0 3-3-2-2 2-1-3-3 1-2 1-2 1-2-3-1 0-1 2-1 1-2-2-1 2 0-2-2 1-2 1-2-2-2-1-3 1 0 0 0 2 0-2-3 0-2 2-3-1-1 1-4 0-1-2 0 2-2-2-2 2-1 0-6 0 9 4 6 0 0-1 1-2 0 2 1-2 0 0 0 1 1 0 1-1 0 1 0-1 2 3 0-3 2 1 1-1 1 3 1 0 3-1 2-2 0 0 2 3 3-3 2 0 1 0 0 3 1-2 1 2 1 0 2-1 2 0 0-1 1 0 3-1 0 3 2-2 0 0 0-1 0 0 1 2 0 1 1-2 2 0 2 2 1-3 1 2 3 1 0-1 1 0 2 1 0-3 1 3 0-3 2 0 0 0 1 2 0 0 0-1 1-1 1 3 1 0 1 0 1-1 1-1 0 0 1 2 0 0 0-2 0 1 1-1 1 1 3-1 1 0 1-1 0 0 2 3 1 0 1-3 0 1 3-1 0 3 0-2 1 0 1 0 0 1 0-2 0 0 1 0 0 3 0-3 0 1 2 0 0 0 2 1 0 0 1 1 0 0 1-3 0 2 0 1 0-1 1-2 1 0 0 3 1-1 0 1 1-3 0 0 0 3 1-2 1 1 0-2 0 2 1-1 0-1 1 3 1-1 1 0 0-2 0 2 0 0 0 0 1 1 0-3 0 2 1 1 2 0 0-3 2 2 0-1 1 1 0 0 1-1 0 2 1 0 0-3 0 3 1-2 0 2 0 0 1 0 0 0 1-1 1-2 0 1 0 2 0 0 1-3 1 2 1 1 2-2 1 0 1 0 1-1 1 2 0 1 1-1 1-1 0 0 0 2 1 0 1 0 1-2 2 2 0 0 2 0 1-1 1-2 0 3 1-2 0 0 1-1 0 3 1 0 0-1 0 1 1-3 1 0 0 2 1 0 0 1 0-1 0 1 1-2 0 1 2-1 1-1 0 3 0-1 2 0 0 1 1-1 0-1 0 1 0-1 0 1 1-2 1 2 1-2 2 2 0-2 0 0 1 0 0 0 0 0 0 3 0-3 0 1 3 0 2 1 0 1 0-2 1-1 0 0 0 3 2-1 1-2 0 2 1-1 0-1 1 3 1 0 3-2 0 2 0-3 1 2 0-1 0 0 1 0 1 2 2 0 4 0 0-1 0 1 1 0 0-3 1 3 0-3 0 1 1 0 1 1 1 1 1 0 1-2 2-1 1 0 1 2 1 0 0-1 1 1 1-2 1 0 0 3 1-3 1 0 1 0 0 3 1 0 0-3 0 2 1-1 1-1 0 3 1-3 1 0 1 0 1 1 1-1 1 2 0 0 1 0 1 1 0 0 3-2 1 1 1-1 0-1 1 2 3 1 0-2 3 2 0-2 3-1 1 1 0 0 0-1 1 0 1 2 0-2 0 2 0-2 0 0 1 2 1-2 2 3 0-2 2-1 1 0 0 2 1-2 3 3 1 0 1 0 0 0 0-2 1-1 0 1 0 0 0 2 1 0 0 0 1-3 0 3 1 0 1-2 3 2 0-1 2 0 1 1 0-2 0 0 2 0 0 0 1 0 1 2 1-2 0 2 1-1 1-1 2 2 1-2 1 0 0-1 1 2 2 1 1-2 0 1 0-2 1 2 6-2 0 0 2 1 2-1 2 1 0 2 0-1 1-2 3 0 0 3 1-3 1 2 1 0 1 0 2-2 0 2 2 0 2-1 4 1 1 1 2 0 1-1 1 0 0-2 1 2 1 0 1 1 0-2 3-1 1 2 0-1 0 0 1 1 1-2 0 1 1 0 2 0 2-1 0 2 1-2 1 1 0 1 1-2 1 2 3 1 0-3 0 1 1 1 1 0 0-1 2 1 2-2 1 0 1 1 0 2 4 0 1-3 0 3 1-2 2 1 0 1 2-2 3 0 0 1 0 0 0 0 3 1 2-1 1 0 7 4-2 1 0-1-1-2-2 0-2 2-3 0-5 0-3 0-1 1 0 0-4-1-1-2-1 2 0-1-4 0-3 2 0 0 0-1 0 0-4-2 0 1-1 1 0 0 0 1-1-2-1 2-6-2-2 2 0-1-2 1 0-3-2 0-1 2-2-1-1 1-1-2-2 0 0 3-1-3 0 1-1 1-10-2-1 0-1 2-6 1-1 0-1-2-1 0-4 2-3-2-1 1-2-1-3 2-1-2-1 1 0 0-2 1 0 0-1-1 0-2-1 1-1 1 0-2 0 3-2-3 0 0 0 0-2 1-1 0-1 1-1 1-1-1-1 0-1-1 0 0-2-1-1 2 0 0-2 0-1-1-2 1 0-2 0 3-1-1-1-2-1 1-2 0 0 0-1 0 0 2 0 0-2-2-1-1 0 0 0 1-1-1-5 3-2-3 0 1 0 2-1-2 0 1 0-1 0 0-1-1-1 0 0 2-2-1 0 0 0 0-1-1-2 1-1 1-1 1-2 0 0-3-2 1-1-1-1 2-1-1-1 1-1 1-1-3-1 1 0 1-2 0-2 0-1 1 0-2 0 2-1-3-1 3-5-1-1-1-1-1-2 3 0-3 0 3-1-1 0 1 0-1-2-1 0 2-1-2-2 2-1-3 0 1-1 0 0-1 0 1 0 2 0 0-4 0-1-3-1 1 0 2-1 0 0-3-1 2-1 0 0-1-5 1-1 1 0-2-1 2 0-2 0 1-2-2 0 1 0-1 0 0-1 3 0-2-1 1 0 0-1-1-1-1-1 0 0 1-1 0 0 1 0-1 0-1 0 0 0 3 0-2 0-1-1 1 0 2 0-1-1 1 0-3 0 0-1 1-1 2-1-1-1-1-1 2 0 0 0-1 0-1-1 0 0 0 0 1-1 1-1-3-2 3-1-2 0-1-2 3-1-2 0 2-1-2 0-1-3 0-1 0-1 1 0 1 0-2 0 0-1 2 0-1 0 1-2-1-1-1 0 3 0-1-1-1 0 1-1-2 0 3-1-2 0 0-1 1 0-2-1 0-1 1 0 1 0 1 0 0-1-1 0-1 0-1 0 0 0 1-1 1 0-1-1-1 0 1 0 2-1-2-1-1-1 3 0-1 0-1-1 1 0 0-1 1 0 0-1 0-1 0 0 0-1-3-3 0-1 0 0 3-1-2 0 1-3-1 0-1-1 2 0 1-1-1 0-2 0 0 0 3-1-1-1-1-1 1-1-1-1 2-1 0 0-3-1 3 0-2 0 2-1-2 0-1 0 3-1-2 0 2 0-2-1 0 0 2-1 0-1-3 0 3 0-2-1 0 0-1-1 1-1-1 0 0-1 2 0 1 0-2-1-1 0 3-2 0 0-1-1-1 0 1-1 0 0-1 0 1-1-2 0 2 0 0-1 0-1 1 0 0-1 0 0-1 0 1-1 0 0-2-2 0 0 1 0-1-1 1-1 1 0-1-1-1 0 2-1 0 0-3-1 1 0 2-1-2 0 1-1 1 0 0 0 0-2-3 0 3 0-2 0 1 0-2 0 0-3 1 0 0-1 2-1-2 0 2-1-1 0 0 0-2 0 3 0 0-1-1 0 1-1-1-2 0 0 1-1-1-1 0-1-1-1 2-1-2 0 2 0-2-2 0 0 2 0-3-1 0 0 0 0 3-1-1-1-2-2 3-1-3 0 1 0 1-1 1 0-1-2-1-2 1 0 1-1-1-1-1-1 2-1 0 0-3-1 1-1 2 0-3-2 3-1-1 0-2-2 3 0 0 0-1-3 1-1-1 0-1-1-1 0 0-1 2-2-1 0 2 0 0-3-3-1 3-1-2-5 2 0 0-2-1-1-2-8 2-3 4 1 1 5-2 1 0 2 2 2-2 2 2 1-2 0 0 0 0 0 2 1-1 0 0 3 0 0 0 1-1 0-1 0 0 1 3 1-1 0-2 1 3 0 0 1-3 0 1 2 0 0-1 0 1 1-1 0 1 2 0 0-1 3 0 1 3 1-3 1 1 0-1 2 0 1 1 0 2 2-3 0 3 0-2 1 2 1 0 0-1 0 0 1 1 4-3 0 1 2 0 0 1 0 1 0-2 1 2 1-2 1 1 0-2 1 2 2 1 0 0 0-3 1 3 0-2 1 0 0 2 0-3 1 0 0 1 0-1 1 1 0 1 2-1 0 2 0-1 1-2 0 2 1 1 0-3 1 1 2-1 0 3 1-2 1-1 1 1 1 0 1-1 0 3 0-1 0 1 1-2 0 2 1-2 0 1 0-2 1 0 0 0 1 1 0 2 0 0 1 0 1 0 2-1 1 0 0 1 1-1 0 0 3 0 0-1 0 2 2 0 0-3 1 2 1 0 1 0 0-2 2 1 0-1 0 2 0-2 1 2 0 0 1 1 0 0 1 0 0 0 1-1 2-2 0 2 0-2 1 3 0-2 1 1 0-1 1 2 0 0 1-2 0-1 1 3 0-3 1 3 0 0 3-1 0-2 1 0 0 3 0 0 0 0 1 0 0 0 1 0 0-3 1 3 0-2 1 2 0-1 1 1 1-3 0 0 0 0 1 1 0-1 0 3 1 0 0-3 1 1 0-1 1 1 0 1 0 1 1-2 1 2 0 0 1-2 0 2 0-2 1 0 0 1 3-1 0 1 0 0 0 1 1 0 1-3 2 0 0 2 2-1 1 1 2-1 0-1 1 1 0 0 1 1 1-2 1 1 0 0 0 2 2-3 0 1 1 0 2 1 4 1 0-2 0 2 2-2 0 2 1-3 0 1 0 1 0-1 0-1 1 0 0 1 1-1 1 2 1-2 1 1 0 1 0-1 0-1 1 2 0-2 0 0 0 0 1 3 0-1 1-1 0 1 0 1 1 0 1-3 1 2 1-1 0-1 0 2 0 1 1-1 1-1 1 0 0-1 0 3 1-2 1 1 2-1 0-1 1 1 0-1 1 1 1 2 2-2 1 0 2-1 0 2 1 0 0-1 1 1 0-1 0 0 1-1 1 3 1-2 0 2 0 0 1-2 0-1 1 0 2 1 1 2 0-2 2 2 0-3 1 1 1 0 0-1 1 0 0 3 1-3 2 2 1 0 2-1 1 2 1 0 0-1 1 1 0-3 1 2 0 1 1 0 0 0 1-2 0 2 1 0 1-1 0-1 0 1 1 0 0 1 1 0 0 0 1-2 0 0 1 2 2 0 0-2 0-1 0 1 2 2 0-1 0 1 1-2 0 1 0-1 2 1 1 0 1 1 2 0 0-2 0 0 3 0 1 1 3 0 0 0 2 1 1-2 0 1 0 1 2-3 0 2 1-1 0 0 1 1 0 1 1-1 0 0 1-1 1-1 0 1 1-1 2 2 1-1 0 1 0 1 1-1 0 1 1-2 0 2 1 0 0-3 2 1 2 0 0 2 0-3 0 0 1 0 0 0 0 0 1 0 0 2 1-2 0 0 1 3 0 0 1 0 5-3 0 1 3 0 1 0 1 1 5 0 1 1 2-1 1 1 1 0 0 0 2-1 0 1 1-2 2 2 0 0 0-2 6 2 1-3 0 2 1 1 1 0 1-1 0-1 1-1 1 0 3 0 1 1 1 1 1-2 2 3 6 0 2 0 1 0 2 0 2-1 1-2 3 1 1-1 1 1 1 0 4-1 0 0 1 0 4 3 0-1 1-2 0 1 1-1 2 1 2-1 1 3 1-3 1 2 0-2 0 0 0 2 3-1 0 0 2-1 1 3 1-2 0 0 1 2 0 0 0 0 1-3 2 2 1 0 4-2 3 3 1-2 0 0 3 1 2 0 2-2 0 2 2 0 1 0 0 3-1 2 0-3-14 0-1 1-3 1-1 1-2-3 0 1-3 1-3 1-1-2 0 1-2-2-2 0-2 1 0 2 0 0-2-2-1-1 0 2 0 0-1-2-3 0-5 1 0 0-4 2 0-1 0-2-1 1-1 1 0 1-4-1-1 0-1-1-4-1-3 0-1 2-2 0-1 0-1-2-1 2 0-1-2 1-4 1-1 0 0-3-1 2-1 1-1 0 0-1-4-2 0 1 0-1 0 1-1 2 0 0-1 0-1 0-2-2 0 0-2 2 0-1 0-1-3 2-1-1 0-1-1-1 0 2 0 1-1 0-4-2 0 2-1-3-1 3-1-1 0-2-1 3 0 0-3-1 0 0-1-1-4 1 0-2-2 2-1-2 0 0-1 2-1 0 0 1 0-2 0 1-1 0 0-1 0-1-1 2-2-1-1-1 0 1-1-1-2 2 0-1 0 0-1 0 0 2 0-3 0 2 0 1-1-1-2-1-1 1-2 1-1-2-1 0-1 0-2 1-3-1-5-1 0 2 0 0-1 1-1-2 0-1 0 3 0-1-1-2-2 0 0 0 0 2-1-1-1-1-3 2 0 1 0-1 0 0-1 1-1-2 0-1-2 1 0-1-1 2 0-1-2 1 0 0-1-1 0 1 0-1-1-1 0 2-1 1 0-2-1 1 0-1-1 1-1-2-1 0 0 1-1-1 0 1-1 1 0-1 0 2-1-1-2-2 0 0 0 3-1-2 0-1-2 2-1-2 0 3-1 0 0-1 0-2-1 1 0-1-2 2-1 0 0-1 0 2-2-2-1 2 0-2 0 2-1-1 0-2-1 2 0 0 0-1 0 0-1 0 0 2-1-3-1 2 0-2-2 1-1 0-1 0 0-1-1 3 0-2-1 1 0 1-1-2-1 0-1 0 0 0 0 2 0-1-1 1-1-3-1 2 0 0 0 0-1 0-1 0 0 0-1-2 0 2-3 1 0 0-1 0-1-1 0 0-1-1 0 1-1 1 0-3 0 2 0 0-1-1 0-1 0 2-2 0 0-2-1 0 0 2 0 1 0-3-1 2 0 1-1-3 0 3-2 0-1 0-1-2 0 1 0 1-1-2-3 2 0 0 0 0 0-2 0 1 0 0 0-2-1 3 0-2-1 1 0 0-2 1 0-2 0 1 0-2 0 2 0-2-2 0 0 1-1 0-1 0-1-1 0 2-1 0 0-1 0 1 0-2-1 0 0 2 0-1 0 0-1 1-1 0 0-1 0 0 0 2-1-3 0 1 0-1-1 2 0 0 0 1-1 0 0-2-1-1 0 2-1 1 0-2-1 1 0 1 0-1-1-2 0 1-1 2-1 0 0-3-1 0 0 0-1 1 0 0-1 0-1-1 0 2 0-1 0 1 0 1-1-3-1 2 0-1 0 1 0 0-1-2 0 0 0 1-1 2 0-2-1 1 0 0 0 0-1 0 0-1 0 0-1 1-1 0 0-1-1-1 0 0-1 2 0-2-1 1-1-1 0 0 0 2-1-2 0 2-1 0-1-1 0 2 0-2-1 1 0-1-1 1-1 0 0 1-1 0 0-3-1 1 0-1-1 0-4 1 0 1-1-2 0 1-1 2 0-2 0 2-1-3-2 3 0-2 0 1 0-2-1 1-1 2 0-2 0-1-1 2 0-1-1 1-2-2 0 1-2 1-1-2 0 1 0 1 0-2-2 3-1-3 0 3-1-2 0-1-1 3 0-1 0-1-2 0 0 1 0 0 0-2-1 2 0 1-2-1-1-2 0 1-1 2-1-2-1-1 0 1 0-1 0 3-1-2-1 2 0-2 0 0-2 2-1 0 0-3 0 0-1 3-1-1 0 1 0-1 0 0-1 0 0-1 0-1 0 1-1 1-1-1-1 1-2 1-1 0 0-2 0 1-1-1 0 2-1-2 0 2-1-3 0 0-1 1-1 2 0-1 0-1 0 1-2-2 0 1-1-1-2 0-1 0 0 1 0 0 0 2 0-2-1 0-1 1 0 1-2-1 0 0 0-2-1 3 0-1-1 0 0 1-1 0 0-3-1 3 0-3-1 3 0-1-2 1-1-3 0 3-1 0-2 0-1-3-1 3-2-1-1-2 0 2-1 1 0 0-2-2 1 6 1-3 1 1 0 0 1 0 0-1 2 0 0 3 1-3 1 1 1 1 1-1 1 1 1-2 1 3 0-1 0-1 1-1 0 2 0 1 1 0 0-1 0-1 1-1 0 3 1-2 1 0 0 2 0-2 1 2 1-1 2 0 0 0 0-2 1 0 1 0 0 0 0 3 1 0 1-3 0 1 0 1 1-2 0 2 0 1 0 0 1 0 0-2 0-1 1 3 1-1 2 1 0-3 1 2 0-1 1-1 0 2 1-1 0 1 0 0 1-1 0 0 0 1 1 1 0 0 0-1 2-1 1 2 0-3 1 3 0-3 1 0 0 3 2 0 0-2 0 1 0-2 1 3 0-1 1 0 0 1 1 0 1 0 0-2 0 2 0-2 2 0 0-1 1 0 1 0 0 3 1-2 0 1 1 0 0-1 1 0 0 2 0-2 2-1 0 2 1 1 0-3 1 1 0-1 1 3 1-3 0 2 1 1 1-2 0-1 1 3 0-3 1 2 0-1 1 1 1 1 0 0 1-2 0 2 1 0 0-1 0-2 0 3 1-1 0-2 1 2 1-1 0 1 1 1 0-3 0 3 0-2 1 2 0-2 0 2 1-3 0 0 0 3 1 0 0-1 0-1 1 0 0 2 1-3 1 3 1-3 1 2 1 0 0 0 1 1 1-3 0 0 0 0 0 0 1 2 0-2 0 0 1 0 0 2 0-2 1 1 0 0 0 2 0-2 0 2 0 0 1-1 0-1 1-1 0 0 2 1 0 2 0-3 1 3 0-1 2 1 1-3 1 3 1 0 1-2 1 1 1-2 1 2 0 1 0 0 0-3 0 3 1-1 0-1 0-1 1 0 1 2 0 1 0-2 0 1 1-2 0 3 1-1 0 0 0-2 1 3 0 0 1 0 1 0 1-3 0 2 1 0 1 0 0-1 1 0 0 2 2-1 0 0 1-2 0 3 1-1 0 0 0 0 0 1 1-1 1-2 0 0 1 3 1-2 0 0 1 2 0 0 0 0 0-2 0 0 0 0 1 1 0 0 0 1 1-2 0-1 0 3 0-2 1 1 0-1 0 0 0 0 2 2 0-2 1 2 0-1 1 1 1-2 0 2 1-3 1 1 0 2 0-3 1 1 0-1 1 1 2 1 1-2 0 0 0 0 0 3 1-1 0 0 1 1 0 0 1-1 1 0 1 1 0-2 0 1 0-1 0 0 3 2 1-3 0 3 0-3 0 0 0 0 0 3 1 0 0-2 0 1 2 1 0-2 0 2 0 0 1-1 1-1 0-1 0 2 0 1 0-2 3 1 0-1 2 0 1-1 1 0 0 2 0-1 2 2 0-1 1-2 0 1 1-1 0 2 0 1 1 0 0 0 1-1 1-1 0 2 0-3 1 3 2-3 0 3 2 0 0-2 3 1 1-2 0 0 0 3 0-3 2 2 0 0 0 1 0-1 1 1 0-1 0 0 1 0 1 0 0 0 1 0 1-1 0-1 0 0 1 0 0 1 0 0 0 0 0 1 1-2 0 0 0 1 1 2 0-3 2 1 2-1 0 0 0 2 1 1 1-3 2 2 0-1 0 1 0-2 1 1 1 2 0-2 1 0 0-1 2 1 1 0 0 1 0-1 2 1 0 0 0 1 3-2 0 0 1 1 0-2 0 0 1 0 2 1 0 1 0-2 1 0 0 1 0 0 1-1 0 0 2 0 1 0 0 0 3 2 0 1 1-1 1-1 1-1 1 2 0-1 2 2 1-1 0 0 1-2 1 2 0 0 1-2 0 0 2 1 2 0 0 2 0-1 1-1 1-1 1 1 2 2 0-3 1 2 1 1 2-2 0-1 1 2 0-2 0 0 0 1 4 1 1-2 3 0 0 3 1 0 0-1 1-2 1 0 1 1 2 2 1-2 1 1 1 1 1-2 0 0 2 2 1-2 2 0 1 1 4 0 2-1 0 1 1-1 0-1 1 0 1 3 1-3 2 3 1-2 0 0 2 0 2-1 1 2 2 1 1-1 1-1 5 1 0-2 2 2 1 0 1 0 0 0 1-1 1 1 3 0 2 1 1-2 1 0 4-1 2 3 1-1 1-2 2 1 0 2 0-2 1 1 0-2 1 0 2 3 3-3 1 1 5 0 2 0 1 2 0-2 1 2 3 0 0 0 1-3 1 3 1 0 2-2 3-1 4 2 0-1 0 1 1-1 4 0 5 2 3 0 0-1-2 2-2 0-3 0-2 1-1-1-3 0-4 3-1 0 0-1-2 0-2 0-1-2-1 1-1 1-4-2-3 3 0-3-1 0-1 3-3-3-9 2-1-1-2-1-1 2-1-2 0 3-1-1-4-2-4 3-1-1-1 1-1-3 0 2 0 1-1-2-2 2 0 0-3-1-1-2-3 1-1 1-1-1 0-1 0 0-1 0-2 2-1 1-1-1-3-1-1 1-7 0 0 1-2-3-1 0 0 3-2-3 0 2-1 0-3 0 0 1-2-2-1 1-2 1-1-1 0-1-1-1-1 2 0-2-1 0-1 2-2-2-1 3-1-3-1 3-1-1 0 1 0-3-3 2 0-1 0 1-3 1 0-3 0 2 0 0-3-2-2 3-1 0-1 0-2-1-2-2 0 1-3 0 0 1-1-2-1 3-6-3-1 1-1 1 0-1-2 0-1 2 0-3-1 1 0 1-1-2-2 0 0 0-1 0 0 1 0-1-1 2-1 0 0-2 0 1 0 0-1 2-1 0-1 0-1-1 0-1-1-1-1 0 0 2 0-2 0 2-1 0 0-1 0 0 0 1-1-1 0 0-1 1-1-1 0 1-1-2-1 0 0 1-2 1 0-2 0 3-1-3 0 0-3 0-1 0-2 1 0 0-2 0 0 2-2-3 0 1-1 0-2-1 0 3-1 0 0 0 0-1 0-1-1-1 0 0 0 3-1-1 0-2 0 1-1 2-1-2-1 2-1-2-1 2-2 0-1-3 0 0 0 0-2 3 0-3 0 2-1 1 0-2-1 0-1 0-1-1-3 0-1 0-1 3-1-2 0 0 0-1 0 3-3 0-1-1 0 1 0-1-1-1 0-1 0 1 0 1 0-2-1 1 0 0 0 1-2 0 0-2-1 1 0 2 0-3-1 3 0 0 0-3-1 2-1 1-2 0 0-1 0 1 0-1-1-2 0 0-1 2 0-2-1 1 0 1 0-2 0 1 0 0-1 2 0-2 0-1-1 3 0-2 0 0-1-1-1 0-1 1 0 0-1 2-1-2 0-1 0 0-1 0 0 0 0 3-1-2-1 1 0 1-1 0-1 0 0-1-1 0 0 0-2 0 0 0 0-1-1 2 0 0-1 0 0-3 0 0-1 3 0-3 0 3 0-3 0 0-2 0 0 2 0 1 0-3-1 3 0-3 0 3 0-2-1 1 0 0-1-2 0 0 0 0 0 3-1-2 0-1 0 1-1 2-1-2 0 1 0 1 0-2 0 1 0-2-1 2 0 1-1-3 0 3-1-2 0-1-1 1 0 1 0 1-2-2-1 1 0 0 0 1-1-2 0 1 0 0 0-2-1 0 0 0-1 0-1 1 0 0-1 1 0-2 0 1-1-1-1 3 0-1 0 0 0 0-1 1 0-2-1 0 0-1 0 3 0-2-1 1-1 1 0-2-2 0 0-1 0 3 0-2-1 2-1-1 0-2 0 2 0-2-1 1 0-1 0 2-1 0-1-2-1 0 0 0-1 1 0 1-1-1-1-1-1 0 0 0 0 3 0 0 0-1-1-1-1 1-1 1 0-3-1 3 0-2 0 0-1 0 0-1-1 0 0 0-1 3 0-1-2-1 0 2 0-2-1 0 0-1 0 1-1 0 0-1-1 1 0 0 0-1-1 1 0 2 0-3 0 0-1 0 0 0-1 3 0-1 0-2-2 2 0-2 0 0 0 1-1 0 0 2-1-3-1 3-1 0-1-3 0 2-1-1-1 0-1-1 0 0 0 1 0-1-1 1 0 2 0-2 0 0-1-1-2 1 0 0 0-1 0 0-1 2 0-1-1 0-1 0 0 2-1-1 0-1-1 0 0 1-1-1 0 1-2 0 0 1-1-1 0-2-1 1-1-1 0 3-1-2 0 2 0-1-1 0 0-2 0 0-1 2-1 0-1-1-1 0 0 0-1 2-2 0 0-3-1 2 0 0-1-1-1-1 0 2 0 1-1-1 0-1-2-1 0 0 0 3 0-3-1 2 0 0-1 0 0-1-1 2 0 0 0-1-1 1-2-1-1-1 0 0 0 1-1 0 0 0-1-1 0-1-1 3 0-3-1 1-3 2-1-2 0-1-2 1 0 1 0 1-1-1-1-1-1 2 0 0 0-1 0-2-1 0 0 3-6 0 2 2 2 1 1-1 2 1 1 1 1-3 1 2 1-1 0 0 1 0 0 1 0-2 0 0 1 3 4 0 0-2 0-1 0 2 0 0 0-2 3 3 0 0 3-2 0 2 0-3 1 1 0 1 0 0 1 1 1-3 2 3 0 0 0-1 0-1 1-1 0 2 1 0 0-1 0 2 1-3 1 0 2 2 0 0 0 0 0-2 0 3 1 0 1-3 0 3 1-2 1-1 0 0 0 1 0 2 1-2 2-1 0 1 0 1 0-1 1 2 1 0 1-3 1 3 1-1 1 0 0-1 1 0 0-1 0 0 1 3 1 0 0 0 1 0 0-1 0 1 1-1 0 0 0 0 1 0 0 1 0-1 0 1 0-1 1 0 0 0 0-2 0 0 0 2 1-1 0 2 0 0 2-2 1-1 1 0 0 0 1 1 2 2 1 0 0-2 1 0 0 0 0 0 2 2 0-2 0 2 0 0 1-1 1-2 0 0 1 0 1 3 0-1 0-1 0 0 1 2 0 0 2-2 0-1 0 0 1 1 1 1 1-1 0 0 0 2 1-2 0 1 1 1 1-1 1-2 0 3 0 0 0-2 1 0 0 1 0 1 0-2 1-1 0 3 0-3 0 2 0 0 1 1 1-2 0-1 0 1 1 0 0 1 0-2 1 2 2-1 0-1 1 0 0 0 0 1 0 0 0 0 0-1 1 1 0 2 1-1 0 0 1 0 0-2 1 0 0 0 0 1 0 2 1-2 0 2 0-1 0 0 0 0 1 0 0 1 0-1 1 0 0 1 0-3 1 1 0 1 1-2 0 1 1 2 0-2 0 1 1-2 0 3 0-1 1-2 0 0 2 1 0 2 0-3 0 0 1 1 2 0 0 2 1-2 0-1 1 0 0 2 1 0 1 1 1-2 0 2 0-3 1 1 0 0 1-1 0 1 1 0 1 1 0 1 1-1 1 1 0-3 0 1 0 1 1-1 0 1 1 0 0-1 0 2 1-1 1-2 1 0 0 0 1 3 0 0 0-2 0 2 2 0 1-1 0-1 0 0 0 2 0-1 1-1 1-1 0 0 0 3 0 0 1 0 1 0 0-3 1 3 0-1 0 1 0-1 0 1 2-1 1-2 1 3 0-3 0 0 1 2 0-1 0 2 1-2 2-1 0 0 1 0 0 3 1 0 0 0 1-1 0-2 1 1 0 0 1 2 0-1 0-2 1 1 0 2 1-2 0 2 0-2 0-1 1 0 0 0 0 0 1 1 0-1 2 2 0-1 0 2 0 0 1 0 0-1 0 0 1 1 0-2 2 2 0-2 1 2 0-3 1 3 0 0 2-2 0 2 0-3 0 1 1 2 1-1 0 0 0-2 0 0 1 0 0 3 0-3 0 1 0-1 2 1 1 2 0-3 0 1 3-1 3 1 0 1 1-1 1-1 1 1 2 0 1-1 0 0 3 2 0-2 1 3 0-1 1-2 0 0 0 2 1 0 1 1 0 0 0-1 0-2 4 0 0 2 0 1 0-1 3 1 1-1 1-1 2 2 1-1 1-1 0-1 0 2 1-1 1 2 0-3 0 1 1 1 0 1 1-3 0 2 2 1 1 0 1 0 1-2 0 2 2-2 0 0 1-1 0 1 1-1 0 1 3-1 1 2 1 1 1-3 0 2 3-1 2-1 1 3 1-2 5 1 1-1 1 0 1 1 0-2 2 2 1 0 0 1 1-3 2 0 0 1 1 2 1 0 5 0 1 0 2-1 1-1 3 2 1-1 2 0 0 1 2 0 1-1 5 1 1 0 0-1 1 0 1 1 1-2 1 0 0 0 1 2 2-2 2 0 0 0 1-1 1 2 1-2 1 0 1 1 1 0 1-1 1 1 4 2 0-1 2 0 2-1 1-1 0 0 8 0 0 3 3-1 1 1 1-2 8 1 0-1 1 2 2 0 1-1 0-2 1 1 2 0 2 2 4-3 1 2 3-1 3 0 1 2 1-1 1-2 2 2 0 1 1 0 1 0 4-3 0 1 1 2 1-3 2 1 4 2 1 0 3-2 2 2 6-2 0 0 1 1-1 5-1-2-3 0 0 1-1-2-2 2-1-2-5 0-7 2-1-2-1 2 0-2-2 3-3-2-2 2-2-2 0-1-2 1-1 2-1-3-3 0 0 3 0-2-2 1 0 1 0-3-1 3 0-3-1 2-2-1-5-1-3 0-1 2-1-2-1 2-1-2-1 2-1 0-1-2-1 3 0-1-2 0 0-2-9 3 0-1-3 1-1-3-1 2 0 0 0-1-3 1 0 0-5-1 0 1 0 0-3 0-1 0 0 1-1-1-4-1-2 2 0 0-2-1-4 0-4-2 0 1-1 0-1-1-4 2-1 1 0-3-3 3-1 0 0-2-1 0-1 1-2 1-2-1-3-2-1 2 0 0-1-2-1 0-5 3-1-2-2 1-3-2-1 0-3 1 0 1-1-2 0 3-1-1-2 0-1-2 0 3-2-1 0 1-1-3 0 3-1 0-2 0-1 0-1-2-1-1-3 1 0-1 0 0-1 0 0 0-1 1-1 1-2-2-1 0-1 1 0 0-2 2 0-2 0 0 0 1-1-1 0-1-1 2 0-2 0 2-3-1 0 1-2 1 0 0-2-3-1 2-2-2 0 3 0 0 0-3 0 1-2 2 0 0-1-3 0 1-2 2-1-3 0 2 0-1 0 2 0-2-1-1-1 2 0-2-1 1 0 2-2-2-1 2-1-3 0 2 0-2-2 3 0 0-2-2-1 1 0-1 0-1-1 1 0 1-2 1 0 0-2-3 0 3-1-2 0 2-1 0 0-1-1 0-1-1 0-1-1 2-3 1 0 0-1-3-1 0 0 1 0 0 0-1-1 3 0-3-1 1 0 1 0-1-1 1 0 0-1 0 0-1 0 0 0 2 0-2-1 0 0 1 0 0-1 1-1-3-3 0 0 0-1 0-1 2 0-2-1 1-1 0 0 2-2-1 0-1-1 1-2-1 0 2-1-2 0 0-1 0 0 1 0-2-1 0 0 0 0 3 0-2 0-1-1 2 0-1 0 0 0 2-2 0 0-2 0 1-2 0 0 0-3 1-1 0 0-3 0 1-1 0 0-1 0 2 0-2-1 1 0-1-1 2 0 0 0-1-1 1 0 0 0 1 0 0 0 0 0-1-1-1-1 0 0 1 0-1 0-1-1 1 0 2 0 0 0-1-1 0 0-2 0 1 0-1 0 0 0 3 0-2-1 0 0 0 0 2 0-3-1 1-1 1 0 0-1-2-1 1-1 0 0 0-1-1 0 2 0 1-2-2-1-1 0 1 0 1-1 0-1 0 0-1-2 1-1-2 0 3 0-1-1-1 0-1-2 0 0 3 0-1 0-2-1 0 0 2-1-2 0 0-1 1-1 2 0-1 0-1 0-1 0 2-1 0 0-2-1 1-1-1-1 2-1-1-1 1 0 0 0-1 0 1 0-2-1 0-1 2 0 1 0-3 0 1 0 0 0 0 0 0-1-1 0 3 0-2-1 0-1-1 0 3 0-1 0-1 0 2 0 0 0-3-1 2 0 0 0 1 0-3-1 1 0-1-2 0 0 2 0 0-1-1 0 1 0-2-1 0-1 1 0 2 0-1-1-2 0 0-1 1-1 1-1 1 0-2-1 0 0-1-1 0-1 0-1 0 0 2 0-2-1 0 0 3 0 0 0-1-1-1 0-1-1 1 0 0-1 1 0 1-1-1 0 1 0-2-1-1-1 3 0 0 0-2 0 0 0 2-1-3 0 0 0 3-1-3 0 0 0 0 0 0-1 1 0 1-1-1 0 1 0 0 0 0-1-2 0 1 0 0 0 2 0-2-1 0 0 1 0 0-1-1 0 0-1-1 0 3 0-1-1-1 0-1 0 0 0 0-2 3 0-3 0 3 0-1-1 0 0-1-1 1-2-2 0 3 0-1-1-2-1 2 0-2-1 2 0 1 0-2-1 0-1 2-2-2-2-1 0 3 0 0-1 0 0-3 0 0-1 2 0 0-2-2-1 1-1 1 0-1 0 1 0 0 0 1-2 0-2-1 0 1 0-3 0 3-1 0-1-1 0 0 0 0 0 0-1-1 0 2 0 0-1 0 0-3-1 1 0 0 0-1-1 0 0 0 0 0 0 3-1-1 0-1-2-1 0 0-2 0 0 0 0 1 0 1-1 1 0-3 0 1 0-1 0 1 0 2-4-3-5 1 5 5 4-1 0 0 0 1 0-2 0 2 1-1 0-1 0 2 1 0 0 1 1-2 0 1 1 0 0 0 1-1 0 2 1 0 1-1 0-1 1 0 0-1 0 2 1 0 0 0 0 0 1 0 1-2 0 0 1 1 1 0 0 1 1-2 1 1 1-1 0 3 0-3 0 0 0 3 2-3 0 0 0 3 0-2 0 1 1-1 0 0 1 2 4 0 2-3 0 1 0 1 1-1 1 1 0-1 2 1 1 0 0-1 0-1 1 2 1-1 0-1 1 3 0-3 0 3 1-1 1 0 0 0 1 0 0-1 1-1 1 0 0 2 2-2 0 1 1 1 0 0 0-1 1-1 0 0 1 3 0 0 1-2 0 2 0 0 1-3 0 1 0 1 1-1 1 0 1 0 0 1 1 0 0 0 0 0 0 1 0 0 1-1 1 0 0-1 1 0 3 0 0 0 1 0 0 2 0-3 1 1 0 1 0-2 0 3 0-1 0-2 1 2 0 1 1 0 2-2 0 0 0-1 0 0 1 1 0 0 1-1 1 3 0-3 0 1 0 2 0 0 1-3 1 2 2-2 1 1 0-1 1 3 0 0 1-1 0-2 1 2 1 1 0 0 0 0 1-3 1 3 0-2 1-1 0 1 1 2 0-1 1-1 1 0 1 0 1 1 0 1 0 0 1-2 0-1 0 2 0-2 0 0 1 1 0 2 1-3 1 0 1 2 0 1 0-2 1 2 0-1 2 1 0-3 0 0 1 3 0-3 0 1 0-1 1 3 0-3 0 0 1 2 0-1 0 0 1 1 0-2 0 2 1-2 0 0 1 1 1-1 0 0 1 2 0-1 0 1 0-1 0 0 1 0 0 0 2 2 0 0 1 0 0-1 0-2 4 0 0 1 1 0 1 0 0 2 0-2 0-1 0 1 2 1 0 0 0-2 0 3 2-2 0 0 0 1 0-1 2-1 1 2 0 1 1-3 1 3 0-3 1 1 0 0 0 0 0 2 1-2 0 1 0-2 1 0 1 2 0 0 1 0 0-2 0 0 0 3 1-3 3 0 0 1 1-1 0 0 0 2 0 0 1 0 0-2 0 2 1-1 1 2 1 0 0 0 0-3 0 3 0-1 2-2 1 2 1 0 0 1 1-2 0 2 1-3 1 2 0-2 0 3 1-3 0 1 2 2 0-2 0-1 0 1 1-1 0 0 1 1 0 2 1 0 0-2 0 1 1-2 1 2 0-2 1 0 2 3 6-3 0 1 2 0 1 2 0-1 2 1 0 0 1 0 0 0 0 0 0-3 0 2 0-2 1 0 0 3 0 0 0 0 2-1 1-1 0 2 1-1 1 0 0-1 2 0 2 2 1-2 1 2 1 0 0-2 0 2 2-1 0 1 1-1 1-1 2 0 1 2 0-2 1 2 1-1 0-2 2 1 1 1 1-2 1 0 0 0 0 0 0 0 1 1 3 0 1 2 0-3 1 0 1 3 0-2 0 1 0-2 1 1 0-1 1 1 0 2 1 0 0 0 1-1 0 0 1 0 1 1 0-2 1 1 4 0 1 1 6-1 0-1 0 1 0 1 1-2 1 2 0 0 2-2 1 0 1 2 2-1 0-2 1 2 0-1 1 2 0-2 1 1 1-1 1-1 2 2 0-1 3 2 2-1 0-2 1 1 1-1 0 1 4-1 1 0 2 1 2-1 0 3 1-3 7 1 3-1 4 0 1 1 1 1 2-2 3 3 0-3 0 2 2-2 1 3 2 0 2-1 1 1 1 0 1-1 2 0 1 1 3-3 1 3 6-3 0 0 1 1 2 1 1-2 1 0 6 1 6-1 0 3 2-1 1 0 3-2 2 2 7-1 1 0 2-1 4 0 1 2 5 1 2-1 5-2 1 0 7 0 2 6-10 1-1 0-1-3-6 0-5 1-1 2-4-3-4 2-2-1-1-1-9 3-1-2-1 0-4 2 0 0-7 0 0 0-2-1 0-1-1-1-3 1-2 0-4 2-1-2-1-1-1 0-3 0-7 0 0 3 0-3-3 1-2-1-3 1 0-1-2 2-1-1-1 2 0-2-5-1-1 0-3 2-1-2-2 0-3 0 0 0-1 0 0 2-2-2-4 1 0 0-4 0 0 0-6 1-2-1-1 1-1 0-2-2-1 1 0 0-1-1-3 1-1 2-1-2-2 0-2 2-1-2 0 0-2-1-1 0 0 2-3-1-1 0-1 1 0-1-3 1-2 0-5 0-1-2-1 1 0-1 0 1-2 1 0 1 0-1-1 0-1 1-1-2 0 0-1 1 0 1-1-2-1-1 0 1 0 2-2-2 0-1-2 1-1-1-1 0-1 3 0-1 0-2 0 1-1 0 0-1-1 2-1 1-1-1-3-1 0 0-1-1 0 2-1-2 0 3-1-3 0 3-1-2-2 0 0-1-2 1-1 2 0-3 0 2-1 0-2-1 0 0 0-1-1 3-1-2 0 0-1 1-2 1 0-3 0 3-1 0 0-1-2 1 0-2 0 2-1-1-1-1 0-1-1 3-1-1 0-2 0 3 0-1 0 1-2-2 0 0 0 1-1 1 0 0 0-3-1 0 0 3-3-3 0 3 0 0 0-1-1 0-1 0 0 0-1-2 0 0-1 3 0 0-1-2-1 0 0 0-1-1 0 3-1-3-1 3 0-3 0 0-1 2-1 1 0 0 0-3 0 1 0 0-1-1 0 1 0 1-1 1 0-3-1 3 0-2 0 1-1-2 0 2-1-2-1 0 0 1-2-1-1 3 0-1 0-2-1 2 0-1 0 0-1 2 0-3 0 1 0-1 0 1-1-1 0 1 0-1-1 2-1-2 0 1 0-1-1 3 0-1 0 0 0 1-1 0 0-3-1 3 0 0 0 0-1-1 0-2-1 0 0 3-1-3 0 1-2 0-2 1 0 1-1-3 0 2 0-1-5 1 0 1-1-3 0 1-1 0 0 0 0 1 0-1-1-1-1 3-1 0 0-3 0 2-1-2-2 1 0 2-1-3 0 3-1-3 0 2 0-2 0 2-1 1 0 0 0-2-1 0 0 1 0-1-1 0 0-1-1 1 0 0 0 2 0-1 0-2-1 3-1-1 0 0 0-1 0 1 0-2-1 1 0-1-1 1 0 2 0 0-1 0 0-1 0 1-1-1 0 0 0 1 0 0-1-1 0-1 0 1 0-1-1-1 0 0 0 3-1 0 0-1 0-2-1 0 0 2 0-1-1 0-1 1 0-2-1 0 0 0-1 1 0 0 0 1 0-2 0 0-1 1 0 2-1-2 0 1 0-2 0 2-1-1-1-1 0 0 0 0-1 2 0 0-1 0-1-1 0 0-1 2-1 0 0-2-1 0 0-1 0 3 0 0-2-2-1 1 0-2 0 3-1-2 0 2-1-3-1 1-1 2 0 0 0-2-1 2-2-2-1-1-1 0-2 0 0 1 0 0-1-1-1 1 0 1-1-1-1 2-1-1-1-2 0 0-1 3 0-1 0 0-1 1-1-3-1 0 0 2-1 1 0-3 0 0-1 2-1-2-1 3-1-3-1 3-2 0 0 0 0-1-1-2 0 3 0-1 0 0 0 0-1-2 0 0-1 0 0 1 0 2 0 0 0 0-1-1 0 1 0 0-1 0 0-1 0-1-1-1 0 1-1 1 0 0-1 0 0 0 0 1-1-3-1 0-2 0 0 3 0 0-1-2 0 2-1-3 0 1-2-1-1 1-1 0-1 1-2 0 0-2 0 1-1 1-1-2 0 3 0 0 0-3-7 0 1 6 3-1 2 0 1-1 1 1 1 1 1-2 0 1 1 2 0-3 1 1 1-1 0 1 0 1 0 0 0 1 1 0 1-3 2 3 0-3 0 0 1 3 0-1 1 0 2-2 0 2 1-2 0 3 0-2 2 0 0 1 2 0 1-2 0 1 0 2 2-2 0-1 1 0 0 1 1 2 0-1 0-2 1 0 0 2 0-1 1 2 1 0 0-2 6 2 1 0 0-2 0 2 1 0 0-2 1-1 0 0 0 2 0 0 1 0 0 1 0-1 1-2 0 2 0-1 0-1 1 3 0 0 1-1 1 0 1 0 0-2 0 2 0 0 2-1 1 2 0-1 1 0 1-2 1 3 0-1 0-1 0 0 0 0 0 1 1 0 1-2 1 3 0-1 1 0 1-2 0 3 1-2 0-1 1 2 0 1 1 0 0-3 1 1 0 0 0-1 0 2 0 1 1-1 0 1 1-2 1-1 0 1 0 0 2-1 0 1 0 0 1 0 0-1 1 3 1-1 0-2 1 0 2 2 2 0 0 1 0-3 0 0 2 2 0-1 0-1 0 1 0 0 1 2 0 0 1-1 0 1 1-2 1-1 1 1 0 2 0-1 1-2 0 3 0-2 0 0 0 1 1 1 1-1 1 0 2 1 1 0 0 0 2 0 0-2 0 0 2 0 1-1 0 3 0-1 0 0 0-2 1 0 0 2 1 0 0-2 1 0 0 2 0-1 1 2 0-1 0-2 0 2 1-2 0 0 0 1 0-1 0 0 0 1 1 1 0-2 0 3 1-1 1 0 1-2 2 0 0 1 0 1 1-2 0 2 0-2 1 2 0 1 0-3 0 1 1 0 0 2 0-2 2 2 0 0 1-1 0 1 1-1 0 0 1-1 1 1 2 0 1-2 0 0 1 0 0 2 1 1 0 0 0 0 0-3 0 0 1 1 0 1 2-2 0 1 0 1 1-2 0 3 0-3 1 0 0 2 0-1 2 1 0 0 0 0 1 0 0-1 1-1 1 2 1-2 0 1 1-1 0 3 0-3 1 0 0 3 1-1 1-1 0 0 0 2 1-3 1 1 0 0 3 2 0 0 0 0 4-2 0 2 2-2 0 1 1 0 0 0 0-1 1 1 0 1 0-2 1 0 0-1 1 3 0-1 1 1 1-3 0 1 1-1 0 0 0 3 1-2 1 2 2-2 0 2 0-3 1 0 1 3 1 0 0-3 1 2 0 1 0-3 1 3 1 0 1-1 1 0 0-1 1 0 2-1 1 2 2 1 2-1 1 1 0-2 2 2 1-2 0 0 1 1 2 1 0-1 0-2 0 0 1 2 1-2 1 2 0 1 1-3 1 2 0-2 1 2 3-1 0 0 3-1 1 1 0 1 1 0 1-2 1 0 0 1 1 2 1-3 0 0 0 3 2-2 1 1 2 1 2-3 0 1 1-1 1 3 2-1 1-1 2 1 2-2 1 3 1 0 2-2 1-1 2 2 3 0 4-1 3-1 1 2 3-2 1 1 2 0 2 2 1 0 3-1 0-2 2 1 0-1 5 1 7 1 0 1 1-1 1 0 0-1 1 1 5-2 0 0 2 2 1 1 1-1 0 1 0-3 1 2 2-2 5 1 1 0 3-1 1 3 6 0 5-1 1 1 6-3 4 2 2-2 1 2 3-1 4 2 7-3 1 2 4 0 6 0 6-1 2 0 1 2 2-1 6 0 5-2 6 3-2 1 0 3-3-2 0 0-2-1-7 1-2-1-6 3-19-3-3 1 0-1 0 2-9 0-1-1-6 1-4-2 0 0-2 0-1 2-3-1 0 1-3-1-6 2-1-2-3-1-2 1-4 0-3-1-6 1-2 0-7 2 0-3-1 0 0 0-4 1-1 2-2-1-4-1 0 2-4-3 0 3-1-3-6 0 0 3 0-3-1 0 0 3-1 0-3-1-2 1-4-1-1-1-4 0-1 0 0 2-2-2 0-1-6 2-1-2 0 1 0 1-1-1-3 2-1-3-1 0-1 3 0-3-2 2-2 0 0-2 0 3-1-1 0-2-1 1-1 0 0-1-2 0 0 2-2 0-1-2-1 0-3 0 0 0-2 3-2-2-1 1 0 0-2 0-1 1-1 0-1 0-3 0 0-3 0 0-1 3-2-2-3 2-1-2-1-1 0 1 0-1-1 2 0 0-1 1 0-3-1 3 0-2-1-1-1 0-1 2-1 1 0-2-1-1-1 1-1 0 0-1-3 0 0 0-1 0-2 3-1-2-1-1 0 2 0-1-1 2 0-2 0 2-1 0 0-3-1 1 0 1 0-2-1 1 0 0-1 1 0 0-1 0-2-2 0 1-1-1-1 3-1-3-1 2 0-2 0 0-1 2-1-2 0 3 0-2-2-1-2 0 0 3-1-2 0 2 0-3 0 0-1 2 0 1-1-1-1-2-2 1 0 0 0 2-1-3 0 2 0-2-1 2 0-1 0 1-1 0 0 0 0-1 0 1-1 0 0 1-1-2 0 0 0 0-1-1-1 3 0-3-1 2 0-1 0 2 0-1-1 0 0 1-1-3-1 3 0 0-1-2-1 0 0-1 0 2-1-1 0 1-1-1-1 1 0-2-1 3-1-3 0 1-1 1 0-1 0 1-1 0-1 1 0-2-1-1 0 0 0 3-1-2 0 0 0 2 0-3-1 2 0-1 0-1-1 3 0-3-1 0-2 2 0 1-1-1 0 1 0-1 0-1 0 0 0 1-1 0 0-1 0-1-1 0-1 3 0 0 0-3 0 0 0 0 0 0-3 0 0 2-1-1 0-1-1 0 0 0-1 0-1 1 0-1 0 1-1-1 0 1 0 1-1 0 0-2 0 1-2 0 0-1 0 3 0-3 0 1-1 0 0-1 0 0-1 2 0 1-1-2 0 0 0 1-1 1-1-3 0 0-1 1-2 2-1-1 0-1-1-1 0 3 0 0 0-1 0 1-1-3 0 2-1 0 0 1 0 0-1-2-1 0 0 2 0-3 0 2-1-2 0 2-2 1 0-1 0-1-1 1 0-2 0 3-1-3 0 0 0 1-1 0 0 0-3 1 0-1 0-1-1 1-1-1 0 1-2 2 0-1 0 0 0-1 0 1 0-1 0-1-1 3 0-3 0 3 0-1-1-2-2 2-1-1 0 1 0 0-1-2 0 0-1 0-1 3 0-2 0 0-1 0 0 1-1 1 0 0-1-1 0-2 0 2-1 1-1-3 0 2-1-2-1 2 0-1 0-1-1 3-1-2-1 2 0 0 0-2 0 2 0-3-3 2 0-2-1 3 0 0-1 0-1-1-3 0-1 0 0 0 0 0-1 0-1 0-1-1-1 0 0 1-1-1 0 1-1 0 0-1 0 1-1-1 0 2-1-1 0 0-1 0-4-1 0 2-1-2 0-1 0 1-1-1 0 1 0-1 0 1-8 1-1-1-4 0 12 5 1-2 0 0 2 3 2-2 1 1 0 0 0 0 1-1 1 2 0-1 3 1 1 0 1-1 0 0 1 0 0-2 1 0 1 2 0-2 2 1 1 2 0-1 0-1 1-1 0 1 1-1 0 1 1-1 1 2 0 1 0-2 1 0 0-1 1 1 0 1 1-2 1 2 1 0 0 1 1-1 1-2 0 0 0 0 0 2 2 0 1 0 0 1 0-3 0 2 1 1 0-2 2 2 1-1 1 1 0-2 0 0 2 2 0 0 0 0 2-1 0 0 1 0 0 1 0-3 3 2 3-1 1-1 0 3 0-2 1 0 0-1 0 0 1 1 0 2 1 0 0-2 0-1 0 0 0 1 0 2 1-3 0 0 1 1 0 2 1-2 0 2 2-1 0 0 0 0 2 0 0-2 1 1 1 2 1-2 0 0 2-1 1 1 0 1 1-1 0 0 1 2 0 0 1-1 1 0 1-1 1 1 0 1 0 0 0 0 1 0 1 0 0-3 1 1 1 1 1-1 0 0 1 1 0 0 0-2 2 0 1 1 0-1 0 2 0 1 2-1 0-2 0 2 1 0 1-2 0 3 0-1 4 0 0-2 0 2 2 0 0 1 1 0 0-1 1-2 0 1 1 0 0-1 1 1 1 2 0-1 0 0 1-1 0 0 0 1 1-2 1 1 1-1 0 0 2 1 0 1 1-2 1 1 0 0 0 2 0-2 0 1 1 1 0-1 1-2 2 1 2 2 0-1 0 1 1 0 0-3 0 1 1 0 0 1 0 1 2-1 0-2 1 3 0-2 1-1 0 2 1 1 0-3 0 1 1 2 0 0 1-3 0 1 0 1 0-2 3 1 2 1 0-1 1 1 0-2 0 1 1-1 1 0 1 1 0-1 0 0 1 1 1 1 1-1 0 2 1-2 0-1 1 2 2-1 1-1 0 0 1 0 0 1 2 0 1-1 0 3 2-2 0 1 1 0 1 1 1-3 0 0 0 2 0-2 2 2 1 0 0-2 0 2 2-2 1 0 0 0 0 1 2 0 1 2 0-3 1 3 0-1 1 0 1 1 1-2 1 0 2 1 0-1 0 0 0-1 0 0 1 2 1 0 0-1 0-1 2 1 0-1 2 2 0-1 0 0 1 0 1-1 4 3 1-2 0 0 2 1 1 1 1-2 3 1 0 0 4-2 0 1 0-1 4 0 2 2 2-2 2 1 0-1 1 3 1-1 2-2 0 3 3-3 2 2 1-2 1 3 1 0 1-3 3 0 2 2 0 1 2 0 3-1 2 1 3-2 4 1 9-1 8 2 2-1 3 0 3 1 1-3 3 3 4 0 5 0 3-3 6 0 3 2 3 1 1-1 0-2 5 1 2 2 0 0 0 0 1-1 9 0 2 0 1 0 10-1 27 1 8 1 2 0 3 0-12 3-4-1-15 0-15-1-1 2-21 1 0-3 0 2-2-2-6 2-4-2-3 2-2 1-19 0-3-3-8 0 0 0-2 3-3-3-2 0-8 1-5 0-1-1-3 0-2 2-1 0-1-2 0 0-1 2-3-2-1 2-2-2-1 3-3-3 0 0-1 3-2-1-3 1 0 0-1-3-3 0-1 0-1 2 0 0-6 0-1-1-1 1-3 1-3-2 0 0-1 2-1-1-2-2-4 0-1 2-1-2 0 0-1 0-1 3 0-3-2 0-1 0-1 3 0-2-1 0 0 1-1-2-2 2-1-2-1 3-1-1-1-2 0 1-3 2 0-2-3 1 0-1 0 0-1 2 0 0-1-3 0 1-1-1-1 2-1-1-1-1 0 0-4 1 0 0-1 1 0 0 0-1-1 1 0-2 0 0-1 1 0-1 0 0-1 0-1 3 0 0 0-1-1-1 0 0-2 0 0 0 0 2 0 0-2-1 0-1 0-1-1 3-1 0 0-2-1 2 0 0 0-1-1-2 0 2-1 0 0-2-1 0 0 1 0-1-2 1-1 0 0 0 0 0-2-1 0 1-2-1 0 3-2-2 0 1-1-2 0 1 0 2-1 0 0-3 0 1-1-1-1 2 0 0 0 0-2-1 0 2-1-2-1 0-3 1 0 0-2-1-3 0 0 0-1-1 0 3 0-2-1-1 0 3-1-1 0-2 0 1-1 0-1-1-1 1 0 1-1 0 0-1 0 1 0-2-1 2-2 0 0 1 0-2 0 2-1 0 0 0 0 0-1-3 0 3-1-3-1 3-1-3-1 3 0-3 0 0 0 0 0 3 0-1-1-1 0 0 0 1-3 0 0 1 0-1-2-1 0 2-1-2-1 0 0 1-1 0 0 1 0-3-1 2 0 0 0 1-1-2 0 0-1 0 0 0-1-1 0 1-1 0 0-1-3 3 0-3 0 1 0 2-1-1 0-2 0 3 0-2 0-1-2 3-2-2-1-1-1 0 0 1 0 2 0 0-1 0 0-2 0 0-1-1-2 1-1 0 0 2-1-2-1 0 0 2-1-1 0 1 0-3-2 3 0-3 0 3-1-3 0 3 0-2-1-1-1 1 0 2-1-2-1 0-1 2-3-1 0 0 0-2-1 0-1 0-3 0-1 1 0 2-1-3 0 1-1 0-1 0-1 2-3-3 0 3 0 0-1 0-1 0 0-1 0 0-1-2-1 2 0 1-1-2 0-1-1 3-1-1-1 1-1 0 0-2 0 0 0-1-1 2 0 0-1 1 0-2-2-1 0 0-1 2 0 0-1-1-1 1 0-1-1 0 2 3 1 1 3-1 0 3 2-1 1-1 1-1 1 0 0 2 0-2 1 0 0 1 3-1 0 2 0 1 0 0 2-3 1 0 1 3 1-3 3 0 2 2 1-2 2 2 1-1 1 2 1 0 0 0 0 0 0-1 0-1 1 1 0 0 1 1 3 0 0-3 1 2 2-2 0 3 0 0 1-3 0 1 2 1 2 0 0 0 0 0 0-2 1 0 0 0 0 2 1-2 0 0 0 1 0 1 1 1 4-2 0 0 4 1 1-2 1 2 0 1 0-2 1 1 1-1 0-1 1 1 0-1 1 1 1 0 0 1 1 1 0 0 1-3 1 2 0 1 0-3 1 3 1-1 0 0 0 1 0 0 1-3 0 1 0-1 0 1 0 0 1 0 1 2 1-2 1 0 1-1 0 2 0-2 1 2 0-2 0 1 1 0 5-1 0 2 1 0 1 1 0 0 1-1 3-1 1 2 0 0 0 0 0-3 0 0 1 0 2 3 2-1 0 1 0-1 0-1 1 2 0-2 1-1 0 1 2-1 1 0 2 1 1 1 1-2 1 3 2 0 0-1 0 1 1 0 0-2 0 0 0 0 1 1 0-1 0 0 2 1 0 0 0 1 2 0 0-3 0 3 1-1 1 1 1-2 0 1 1 1 0-2 2-1 1 2 0 1 1-1 1-1 1-1 5 2 1 1 1 0 1-3 1 2 5 0 2 1 1 0 0-1 0 1 1-3 1 3 1 0 0 0 1-1 0 1 0 0 2-2 1-1 0 2 0-2 2 1 2 1 1 0 1 0 0-2 0 3 2-2 0 1 2-1 2-1 1 0 0 2 3-2 1 3 1-2 1 2 0-2 1-1 2 1 1 1 1-1 5 0 1 1 1 0 0 1 2-2 2-1 1 0 3 2 0-1 7-1 0 2 2 1 0-2 1 0 2 2 2-2 5 1 5-1 0-1 1 2 0-1 1 1 1 1 4 0 1-1 0 0 2 0 12-1 0 1 15 0 4 1 5-2 11-1 6 2 5 0 5 1 0 0 14-1 2 0 7 1 10-2 4 2 3-1 11 0 18 2 0 3-12-1-21 1-25 0-1-3-21 1-15-1-2 1-5 0-6 1-7 0-4 0 0-1-1-1-8 3-3-2 0-1 0 3-3-3-7 0-1 2-8 1 0-3-2 3 0-3-1 1 0-1-2 3-4-2 0 0-2 0-1 2-3-2 0-1-2 0-12 1-4 2 0-2-1 1 0 0-3 0 0 0-3-2-3 1-3 2-3 0 0-2-1 2-3-3-2 2 0-2-5 0-3 2-1 1-3-3-1 3-1-3 0 0 0 3-1-2 0-1-2 2 0-1-1 1-3-1-1 2-1-3-1 3 0-1-1 0 0 1-2-1-1-2-2 2-2 0-1-1-2 2 0-3-1 2-1-2 0 0-1 3-2-2 0 1-2-1-1 2-1 0 0-2-2-1 0 2-1 0-1 1 0-3-2 2 0 1-1 0-1-3 0 1-1 2 0-2-1 2 0-3 0 0 0 2-1-2 0 3 0-1-1-2-1 3-1-1-1-2 0 1-1 1-1 1-1-1 0-2 0 3-1 0-1-3 0 1 0 2 0-3-2 2 0 0-1 0-1 1 0 0-1-2 0 2 0-1-1 1-1-1-2 0 0 1 0-2 0 2-1-3-1 3 0-1-1 1-1-3-4 2 0-2 0 3-1-1-1-1 0 0 0 0-2 0-2 2-2 0-4-3 0 0-1 3-2-1 0 0-1 1 0 0 0-3-1 3-1 0 0 0 0-3-1 2 0 0 0-2 0 0-1 2 0 0-1-1 0 0-1 1 0-2-1 1-3 2-1-3-1 3 0-3 0 0 0 3-2-2-1 2-1-1 0 0-1 0-1-1-1 1-1 1 0 0-2-3-1 0-3 1 0 1 0 1-1-2 0-1-2 1-1 2-2-1 0-1-1-1 0 1-1 0 0 0 0-1-1 3-1-3-1 3-2-3-1 0-1 3 0 0-1 0 0-1-4-1 0-1-1 5 1 1 1-2 1 2 2-1 3 0 3-1 1 3 2-2 1 0 2 2 0-2 1-1 0 3 0 0 1-3 0 0 0 3 2-3 0 0 3 0 2 1 0 1 2 1 0-1 3 1 0-1 3-1 1 2 1 0 2-2 0 1 0-1 1 1 0-2 1 2 1-1 0 0 0 1 1 0 1 0 0 1 1-3 0 2 1 0 1 1 1-2 2 2 1 0 1-3 0 0 2 0 2 2 1 0 0 0 2 1 2-2 0 1 0 0 1 1 3-3 0 3 1 0 2-2 1 2 0 0 1-3 0 1 1-1 2 3 1 0 0-2 1 2 2 0 1-2 1 0 2 0 0 0 1 2 0-1 1 1 0-2 0-1 1 3 1-2 1 2 2-2 0 1 1 1 0-2 1 0 1-1 0 0 0 0 0 0 1 1 0 1 2-1 0-1 2 3 0 0 1-3 3 2 0-1 1-1 0 0 4 2 0 1 0 0 0-3 4 1 1 0 1-1 0 2 1-2 1 1 1 1 0 0 1 1 0 0 3-2 0 2 0-2 0-1 1 0 0 3 1-2 1 2 1-2 1-1 2 0 3 0 0 0 1 1 2 1 2 1 1-2 0-1 1 1 0 1 0 1 1-1 0 0 5 0 0 1 2-2 0-1 1 1 0 0 5 2 2 0 12-1 2 0 3-2 0 0 4 0 3 1 2 1 7-1 1 2 2-2 3 1 4-2 1 1 7-1 5 1 13-1 5 3 1 0 9-1 0-2 8 3 21-1 0-1 2 2 37-3 18 1 19 1 16 0-15 5-32 0-14-3-30 0 0 3-36-3-1 2-1-2-1 2-10 0 0 1-15-2-7 0-1-1-2 1-14 0-5 0-1-1-7 2-3 0-2-2-6 1-5 0-1-1-4 2-1 0-1-1 0 1 0 0 0-2 0 3 0-2-2 0-1 0-6-1-10 1-1 0-2-1-5 0-1 1-2 0-1-1-1 2 0-2-2 0-1 2-4-1-1 0 0-1-3 2-1-2-1 2 0 1-4-2 0-1 0 0-1 0-2 1-1 1-3-2-2 1-1-1 0 2-3-1 0-1 0 1-3-1 0 0-2 0-4 3-1-1 0 1-2-2-3 0 0 0-1 1 0 0-3 0-6 1-2-1-1-2 0 2-1 1-2-3-4 1-1 2-1-3 0 2-1 0-1-1-1 0-1 2 0-3-1 2 0 1 0-1-1 0-1 1 0-1 0-2-1 0-2 2 0-1-2 0-2 2-3-2-1-1-2 3-2-1-1 1 0 0-1-3-1 3-1-2-2 1-1 1-1-3-1 1 0 0-1 0-3 1-3 0-3 3 2 2 2-1 1 1 1-1 0-1 3-1 0 0 2 1 2 2 1-1 2-1 0-1 1 1 0 2 0-3 0 2 8 0 0-1 2 2 2-2 3 2 4-1 2 0 0-1 1 2 1-3 0 1 1 1 0 1 1-3 0 0 2 2 4-1 3 1 1 0 4-1 3 0 4-1 4 2 0 1 1-2 2-1 0 2 2-2 2 0 8 1 1 0 3 0 0 0 0-1 4 0 1 1 1 0 2-1 2 1 3 1 3 1 2-2 1 1 1-1 1-1 3 0 6 2 0-1 5-1 2 0 1 3 2-2 1-1 1 0 2 1 3 0 4 1 6 1 2-3 2 0 2 3 2-2 3 0 3 1 1-1 8 0 1 2 4 0 11-3 7 0 19 0 2 3 2-1 6-1 1 0 4 1 9-1 34 0 8-1 2 0 23 0 3 0 3 1 12 0 32 6-1-1-11 0-3-2-17 1-2 1-3 0-5-2-13 1-2 2-14-3-2 1-10 2-16 0-19-3-22 1-8 1-2-2-3 3-15-3-12 0-3 1-1 0-3-1 0 0-3 3-2-3-2 0-5 2-10 1-11-2 0-1 0 1-10 0 0 1-2-2-1 1-2 1-17-2-5 3-2-2-1-1-1 1-1-1-3 1-7 1-1-2-1 2-6-2-2 2-1 1 0-2-1-1-1 1-4-1 0 3-3-3-3 3 0-1-1 1-13 0-1-2-1 0-5-1-4 1 0-1-2 1-1 2-3 0-1-1-2 0 0 0-1 0-2-2 0 3-1-1 0 1-4 0-2-2-4 2-2 0-5 3 3 0 1-1 2-1 6 2 0 1 1-2 3 0 1-1 4 0 3 1 2 0 2-1 2 2 2-2 1 2 1-2 2 1 1-1 2 3 3 0 0-2 3-1 3 1 6 1 3 1 2-3 2 2 0 1 4-2 1 1 1-1 5 0 2 2 0-1 4-2 2 0 1 3 8-1 1-1 2 0 0 0 0-1 3 3 3 0 1-2 5 2 4-2 0-1 0 3 2-3 1 1 1-1 0 1 2 0 1 1 3-1 0 0 2 1 11-1 1 1 2 0 4-2 5 1 3 2 0-2 5 0 6 2 10-2 1-1 1 1 1 1 4 0 3-2 3 1 15 0 5-1 2 2 8-1 45-1 3 2 19 0 3 1 32-1 17-1 19 1 3 1 1-1-19 2-23 1-1 0-12-1-13 3-1 0-4-3-37 3-12 0-14 0-15-2-3 0 0-1-4 1-23 1-6 0-15-2-16 3 0-3 0 0-3 1-4 0-3 0 0 2-4-1-1 1-7-2-4 0-5 0-3 1-6 0-1-1-1 1-10 1-4 0-11-3 0 2-10-1-1 1-3 0-13 0-10-1 0 0-4 2-4-3-2 3-5-1-3-1 0-1-1 3-8-3-3 2 0 1 0 3 3 0 0 0 4-1 2-1 9 2 5 1 2-1 0-2 2 0 6 3 3-1 1 1 1-3 15 1 4-1 0 1 2 1 12 0 5 0 1-1 3-1 3 0 3 2 3-2 2 0 0 2 4-2 6 1 1 1 1-1 2 0 3 1 24 1 4-2 10-1 1 0 29 0 11 3 3-1 0-2 28 1 1 2 16-1 2-1 5-1 11 0 12 2 8-1 15-1 13 2 3-1 2 2 34 0 6-1 1-2-40 5-21 1-4 0-87-1-2 0-24 2-7 0-23-3-9 3-3-2-7 2-8 0-14-3-1 3-15 0-3-3-3 2-4-2-6 1-14 2-13-2-4 1-1-1-2-1-2 3-3-1-10-1-6 0-2-1-6 1-1 0 0 6 1-3 1 2 10 0 8 0 9-2 3 1 17 0 2 2 7-2 5-1 1 3 9-1 1-1 0 0 2 0 5 2 0-2 9 2 18-3 15 1 2-1 2 1 2 1 19 0 10-1 8-1 15 2 8-1 9-1 8 0 24 3 3-3 1 3 9-1 21-1 1-1 7 1 1-1 37 3 17-2 11 2 1 0 6 3-3-2-4 3-17 0-10-1-35-2-12 3-2-3-27 3 0-3-24 1-7 0-8-1-4 3-36-1-2-1-9 2-17 0-4-3-1 3-13-2-2 2 0 0-5-3-3 1-25 1-6 1 0-2-3 0-20 0-7-1-9 2-2-1 0 0-26 0 1 4 3 0 3 1 10-2 5 1 72 2 28-3 16 0 0 0 2 2 17-1 13 0 14 2 4-2 14 2 12-1 12-1 8 2 18-1 0 0 25 0 4-2 7 0 8 1 4 1 30-2 13 3 5 2-8 1-2 0-32 1-7-2 0 0-10 1-36 0-2 1-10 0-9-3 0 0-4 1-15 0-6 0-16 1-9-1-7 1-40-1-5 2-25-2-26 2-1-2-5 1-2 0-1-1-25 2-12-2-2 2-1 0-2-3-24 4 0 0 8 2 12 1 3-1 3-1 3 0 30-1 0 1 8 0 2 2 18-3 2 2 28 0 51-2 6 1 33-1 3 3 52-2 10-1 17 3 31-3 5 3 12-1 5 1-223 1-104 0 72 8 261 11-6 0-2-1-4 1-4 0-5 0-1 0-3-1-5 1-14 0 0-1-12 1-1 0-21 0-5 0-1 0-11-1-3 0-10 1-3 0-17 0-5 0-10 0-9 0-3 0-8 0-18-1-1 1-17 0 0 0-8-1-7 1-3 0-14 0-14-1-3 1-7-1-23 1-1 0-21 0-16 0-1 0" fill="none" style="marker:url(#mk0)"/>
<path d="m1302 1131-29 4-7-2-27 2-20-1 9 5 0-3 8 0 8 1 51 2 16-3 9 3 9-2-44 6-3 0-13-3 0 2-33 0-24-1-1-1-30 5 17 0 10-1 15 3 9-2 13-1 2 2 6-1 16-1 2 3 8-1 12 0 1-2 23 0 1 0 2 1 5-1 22 1 8-1 8 6-44-1-1 2-1-1-2-2-8 3-1-2-1-1-5 1-10-1-11 1-2-1-4 2-7 1-4-2 0 0-2 1-5 1-13 0-1-1-2 0-10-2-2 1 0-1-15 1-4 2-3-1-8 0-27 1 9 1 8 0 10 1 1 0 6 0 3 0 2 1 0-1 1 0 2-1 13 3 3-1 1-1 2 0 6 0 1-1 2 1 11 1 0-1 3 1 5-1 7 2 13 0 2-3 3 0 1 1 2-1 8 2 2-2 4 0 1 1 2-1 12 1 5 1 19 0 1 0 5 0 4 0 1 1-3 2-15 2-17 0-19-1-3-2-5 0-1 0-10 1-15-1-2 2-7-2-7 0-3 0-1 0-5 1 0 0-2 2-5 0-9-2-1 2-4-1-3 0-1-2 0 3-4-1-6-2-16 3-14 0 0 0-7 0-6 2 4 2 9-2 1 2 2-2 6 2 1 0 14-1 3 0 12 0 8-2 1 2 1-1 4-1 3 1 1 0 1 2 2-2 6-1 6 2 1 1 4-3 4 0 4 2 1 1 1 0 1-1 5 0 3 0 2-2 3 3 1-3 2 3 2 0 2 0 1 0 6-3 6 3 36 4-15 0-14-3-6 2-14 1-2 0-7-1-9-2-12 1-1 0-1-1-2 0 0 3-2-3-2 2-4-1-1-1-7 1-7 2-1-3-1 3-5-3-3 0-13 3-3 0 0 0-8-3-5 1-6 0-10 0-5-1 7 7 4 0 4-1 14-1 8 0 2 0 0 0 1 0 3-1 7 2 2-1 2 1 0 1 4-3 0 2 2 0 0 1 1-2 2 1 1 0 0-2 2 0 4 2 4-1 3 1 1-1 1 2 2-1 9-2 4 3 3-3 2 0 3 2 2-2 2 2 11 1 4-2 5 2 4-3 17 0 6 3 8 0 3-3 8 2-5 2-16 3-17-3-10 1 0 2-7 0-7-2-2-1-4 3-3 0-1-2-2 2 0-3-2 0-5 3-1-1-5-2-1 3-2-1 0 1-1-1-2 1-3-1-3-2-1 1-3-1-1 2 0-2-4 3 0-1-1-2 0 3-2-2-3 2-6-2 0-1-6 0-8 0-2 3-3 0-2-1 0 0-7-2-1 0 0 1-22 1-1 1-1-3-1 0 17 7 15-3 16 1 3 2 6-1 1 0 1-2 2 1 4 0 0 2 0-1 1 0 2-2 2 1 1 0 1-1 9 3 1-1 4 1 2-2 1 2 0-1 0-2 1 2 0 1 13-2 1-1 0 0 3 2 4 0 7-2 5 1 34 0-14 5-7 1-22-3-11 0-2 0-3 3-3-1-17 0-5 0 0-1-8 1-3 1-3-2-12-1-1 2-20-1-1 2-8 0-16-2 38 5 3-1 12 2 4 0 9-1 0-2 2 2 4-2 10 3 7-3 18 3 18 3-23 1-3-3-3 1-5 1-1-1-39 1-2 0-4-1-10 1-4-2-15 3-12-3 40 6 29-1-15 5-7-1-31 2 33 1 285 71-8 0-12 0-9 0-7-1-9 0-4 1-11-1-20 1-38 0-51 0-10-1-20 1-28-1-30 1-4 0-7 0 0 0-28-1" fill="none" style="marker:url(#mk1)"/>
<path d="m1254 1130 49 5-23-3-7 0-20 3-10-1-1 1-2-2-22 3 32 1 18 0 12-1 11 3 6-3 34 2 25 0-31 4-15 1-17-2-3-1-4 2-2-1-5 0-7-1-4 0-5 2-7 0 0 1-2-2-4 1-6-1-4 1-1 1-21-3-1 1-4 0-2 1-1-1-5 2-37 4 27-1 1 0 12 0 0-2 0 2 2-2 2 3 8-1 3-1 8 0 8-1 1 3 0-1 1-1 2 0 8-1 1 0 7 3 7-1 22 1 3-1 5-1 3 1 2-2 19 1 22 6-42 0-13-3-1 2-1-1-5-1-2 2-6-1-5-1-1 2-2-1-2 1-4-2-1 3-2 0-1-3-7 0-3 1 0-1-5 2-1 1-13-2-5 1-4 1-11-2-7 0-7 1-3 1-7-3 0 2-13 0 0 5 12-2 6 0 1 1 2 0 6 1 2-2 0 0 2 2 3-2 0-1 3 0 4 3 4-3 6 1 6 1 2-2 2 3 4 0 1-2 13-1 8 0 1 2 1 0 5 1 3 0 3-3 2 3 1-3 2 2 7-2 7 2 2 1 1-2 3 1 0 1 2-3 7 1 1 2 3-2 3 2 10-3 3 3 14-1-5 2-1 0 0 1-9 1-1 0-13-1 0 2 0-1-3-2-6 3 0 0 0 0 0-2-2-1-8 3-1-2-1-1-4 3-1 0-7-2-1 0-1 2-1-3-1 3-2-3 0 0-1 3-5-1-2-2-2 3-3-3-5 0-8 2 0-2 0 2-3 1-1 0-6-2 0 1-1-2 0 2-1 0-5 1-2-1-2 1-2 0 0 0-1-3 0 0-3 1 0-1-2 1-2-1 0 3 0-2-3-1-1 1 0 0 0-1-1 3 0-3-1 1-1 0-1 2-3-2-7 0-1 2-2-3-3 0-8 2-2-1-4 1-10 1-3-3 4 7 2-1 16 0 2-2 0 3 1-3 1 2 3-2 2 1 1 1 14 1 4 0 0 0 1-1 4 1 1-1 4-2 0 2 2 1 3-2 1 1 0 1 3-1 2-1 1-1 2 1 1 1 6-1 7 0 1 1 0 0 1-2 5 0 1 2 0-1 1-1 2 1 2 1 1-2 1 3 3 0 6-3 1 1 4 0 1 1 12 0 10-1 1 1 2 0 1-2 2 1 1 0 7 2 7-1 17 1-7 2-14-1-6 1-9-1-13 3-5-3-8 1-2 0-1 0-6 0-1 1-1 1 0-3-1 0-2 2-9-1-1 1-1-2-1 2 0 1-3-3-1 1-1 2-2 0-1-3-2 2-1-1-3 1 0-1-1-1 0 1-7 2-1-3-1 2-3 1-1-1 0 1-1-3-4 1-1 0 0-1-9 1-8 2-1-1 0 0-3 0-4 1-2-1-6-1-14-1-6 3-1 0 7 4 0-1 11-1 5-1 5 0 4 3 1-2 3 2 9 0 7 0 2 0 3 0 1 0 4 0 2-1 1 1 0-1 3 0 1 0 0-2 4 0 1 1 0-1 4 3 0-2 2 0 6 2 8 0 2-2 0 0 2-1 7 2 10 1 0-2 3 2 2-3 1 1 1 1 4-2 1 2 0 0 1-2 1 2 4 1 15 0 32-3 4 7-24-3-8 1-4 1-12-2-4 2-1-1-3 0-6 2-3-2-3 1-7-1-1 1-1-1-2-1-1 0 0 1-2 0-2-1-4 2-2-2 0 2 0 0-2-2-1 3-1-3-2 1-1-1-1 3-2-1-1 1 0-3-2 2-2 0-1 0-1-1-1 0 0-1 0 0 0 1-1-1-2 3 0-3-8 2-1-2-5 3-6-1-1-2-5 0-5 2 0-2-3 3-1-2-5 1-1 0-4-1-7-1-3 2-1-2-3 1-3 0 0 1-3-1-3 1 11 5 2-1 1 1 3-2 3 2 1 0 7-2 5 2 0-2 3 2 5-3 2 1 0-1 1 2 3 1 2-1 1 1 3-3 1 0 0 3 10-2 0 2 3-3 1 3 2-3 1 0 1 2 1-1 2 1 0-2 2 1 4 2 3-2 1 0 24 2 7-2 1-1 1 2 5-1 4 1 16-1 12 3-16 1-2 1-23 0-5 1 0 0-2-3-17 2-1 0-5-2-6 0-1 3-6-1-2 1-1-3-2 0-3 3 0 0-4-3-4 2 0 0-2-2-4 2 0 1-1-3-2 3-3 0-2-1 0 0-1 0-6 0 0 0-11 1-3-2-8 2-16-3 0 5 31-1 8 0 4 0 21 0 3 3 4-3 6 0 1 3 1-2 2-1 2 3 1-1 1-2 14 2 1-2 13 3 4-2 10 6-19-3-11 1-10 1-6 1-6-1-4-2-1 3-7-2-1-1-10 2-2-1-2 1-21 0-8 3 1 1 14-2 5 0 3 3 0-1 8-1 2-1 10 1 10 2-7 2-29-1-10 0 1 5 317 69-4 1-29-1 0 0-20 1-8 0-65 0-17-1-15 1-8-1-18 1-34 0-6 0-11-1-6 1-23 0-27 0-13-1-2 0-5 1-15 0" fill="none" style="marker:url(#mk2)"/>
<path d="m1247 1138 20-2-29 5-10 0-3 1-3 5 2-1 17-2 36 0 2 2 34 0 32 0 8 3-52 2-26 0-29-2-14 0-10-1-26 2 12 5 47-2 2 0 3 0 33 1 49-2-52 5-11-1-2 2-21 1-2 0 0-3-79 3-14 4 45 0 36-2 10 0 30 2 33-1 7 1-25 1-13 1-26 0-2 0-4-1-20 3-12-1-17-1-15-1-21 7 33-3 16 3 18-1 4 0 4-1 30-1 4 2 47-2-59 4-6 1-14 2 0-3-7 1-7 1 0-2-8 0-4 0-7 1-1 0-18 1-26 1 24 3 1-1 18 1 5 0 20 1 2-2 10 2 22-1 3-1 27 6-72-2-29 0-6-1 0 2-7 4 1 0 11-2 18 1 5 2 18 1-5 3-20 4 10-1 4-2 1 3 24-3 256 78-21 1-12 0-17 0-8-1-5 0-28 1-22 0-53 0-15 0-18 0-113 0" fill="none" style="marker:url(#mk3)"/>
<path d="m1238 1158-8 0-5 1-13-1-23 3 18 2 14 0 13-3 34 6-5-2-22 2 0-2-3 1-16 6 8-3 4 3 2-1 5 1 9 0 7 3-26-2-14 2-3 3 9 0 2 2 20-1-15 7 273 86-23-1-42 1-2-1-14 1-4-1-36 0-20 0-15 1-18-1-23 1-5 0-10 0-36 0-19 0-5 0-10 0-21-1" fill="none" style="marker:url(#mk4)"/>
<path d="m1235 1152 10 6-13 0-9-1 14 3 19 3-18 1-25 3 8 4 4-1 1 1 40 2-4 2-36 0-4 1 1 1 25-1 16 2-31 2 261 90-1 0-14 1-24-1-7 1-10 0-22 0-8-1-66 1-17-1-13 1-4 0-2 0-2 0-3 0-22 0-4 0-20-1-15 0-18 1" fill="none" style="marker:url(#mk5)"/>
<path d="m1215 1153 28 2 3-3 19 3 1 2-36 5 38-1 8-1 5 3-39 4-14-1-7-1-20 2 20 1 3 0 4 3 12 0 2 0 3 3-1 1-8 0-21 3 22-2 6 6 192 89 0 0-14 0-12 0-3 0-10 0-9 0-4-1-19 1-9-1-28 1-16 0-5 0-9 0-9 0-28-1-30 1-29 0" fill="none" style="marker:url(#mk6)"/>
<rect x="1135.7" y="885.2" width="387" height="387" fill="none" stroke="#7a7a7a" stroke-width="1.2"/>
<line x1="1135.7" y1="885.2" x2="1135.7" y2="1272.8" stroke="#222" stroke-width="1.4"/>
<line x1="1135.1" y1="1272.2" x2="1522.7" y2="1272.2" stroke="#222" stroke-width="1.4"/>
<path d="M1135.7 1272.2v11M1155 1272.2v4.6M1174.3 1272.2v4.6M1193.6 1272.2v4.6M1212.9 1272.2v11M1232.2 1272.2v4.6M1251.4 1272.2v4.6M1270.7 1272.2v4.6M1290 1272.2v11M1309.3 1272.2v4.6M1328.6 1272.2v4.6M1347.9 1272.2v4.6M1367.2 1272.2v11M1386.5 1272.2v4.6M1405.8 1272.2v4.6M1425.1 1272.2v4.6M1444.3 1272.2v11M1463.6 1272.2v4.6M1482.9 1272.2v4.6M1502.2 1272.2v4.6M1521.5 1272.2v11" stroke="#111" stroke-width="1.8"/>
<text x="1135.7" y="1303.2" font-size="18.6" text-anchor="middle">0</text>
<text x="1212.9" y="1303.2" font-size="18.6" text-anchor="middle">200K</text>
<text x="1290" y="1303.2" font-size="18.6" text-anchor="middle">400K</text>
<text x="1367.2" y="1303.2" font-size="18.6" text-anchor="middle">600K</text>
<text x="1444.3" y="1303.2" font-size="18.6" text-anchor="middle">800K</text>
<text x="1521.5" y="1303.2" font-size="18.6" text-anchor="middle">1.0M</text>
<text x="1329.2" y="1335.2" font-size="25.5" text-anchor="middle">FSC-A</text>
<text x="1329.2" y="875.7" font-size="29.4" text-anchor="middle">Live cells</text>
<text x="1117.7" y="894" font-size="18.6" text-anchor="end">10<tspan font-size="11" dy="-6.7">6</tspan></text>
<text x="1117.7" y="971" font-size="18.6" text-anchor="end">10<tspan font-size="11" dy="-6.7">5</tspan></text>
<text x="1117.7" y="1048" font-size="18.6" text-anchor="end">10<tspan font-size="11" dy="-6.7">4</tspan></text>
<text x="1117.7" y="1127.8" font-size="18.6" text-anchor="end">10<tspan font-size="11" dy="-6.7">3</tspan></text>
<text x="1117.7" y="1209.2" font-size="18.6" text-anchor="end">10<tspan font-size="11" dy="-6.7">2</tspan></text>
<text x="1117.3" y="1238.2" font-size="18.6" text-anchor="end">0</text>
<path d="M1124.7 886h11M1131.1 939.8h4.6M1131.1 926.3h4.6M1131.1 916.6h4.6M1129.7 909.2h6M1131.1 903.1h4.6M1131.1 897.9h4.6M1131.1 893.5h4.6M1131.1 889.5h4.6M1124.7 963h11M1131.1 1016.8h4.6M1131.1 1003.3h4.6M1131.1 993.6h4.6M1129.7 986.2h6M1131.1 980.1h4.6M1131.1 974.9h4.6M1131.1 970.5h4.6M1131.1 966.5h4.6M1124.7 1040h11M1131.1 1095.8h4.6M1131.1 1081.7h4.6M1131.1 1071.8h4.6M1129.7 1064h6M1131.1 1057.7h4.6M1131.1 1052.4h4.6M1131.1 1047.7h4.6M1131.1 1043.7h4.6M1124.7 1119.8h11M1131.1 1176.7h4.6M1131.1 1162.4h4.6M1131.1 1152.2h4.6M1129.7 1144.3h6M1131.1 1137.9h4.6M1131.1 1132.4h4.6M1131.1 1127.7h4.6M1131.1 1123.5h4.6M1124.7 1201.2h11M1131.1 1227.8h4.6M1131.1 1224h4.6M1131.1 1220.4h4.6M1131.1 1216.9h4.6M1131.1 1213.6h4.6M1131.1 1210.5h4.6M1131.1 1207.6h4.6M1131.1 1205h4.6M1131.1 1202.7h4.6M1128.7 1228.1h7M1128.7 1229.3h7M1128.7 1230.5h7M1128.7 1231.7h7M1128.7 1232.9h7M1128.7 1234.1h7M1124.7 1231.7h11M1131.1 1236.7h4.6M1131.1 1239.7h4.6M1131.1 1242.7h4.6M1131.1 1245.7h4.6M1131.1 1248.7h4.6M1131.1 1251.7h4.6M1131.1 1254.7h4.6M1131.1 1257.7h4.6M1131.1 1260.7h4.6M1124.7 1263.7h11" stroke="#111" stroke-width="1.8"/>
<text transform="translate(1077.7 1078.7) rotate(-90)" font-size="25.5" text-anchor="middle">LIVE/DEAD Fixable Near-IR</text>
<rect x="1139" y="1057.3" width="376.6" height="215.4" fill="none" stroke="#444" stroke-width="1.3"/>
<text x="1506.4" y="1256.8" font-size="25" text-anchor="end" font-weight="bold">95.0%</text>
<path d="m2021 935-113 6-139 1-31 4 257-1 12-1 7 0-28 6-69-1-22 2-37-1-1-2-115 4 1 3 99 0 27-3 21 1 43 1 11-1 77 1-19 2-135 3-12-2-107-1-6 1 34 4 2 1 17-1 52 2 21 0 28 0 5-1 39-2 9 2 18-1 29 0-4 3-18 3-12-1-13-1-53 1-4-2-81 1-5 0-15 5 24-2 28 0 43 0 16 1 39 1 17 1 25-1 4 1 26-3 10 3 0 0-3 3-1 1-3 0-12-1-15-2-1 0 0 2-5 0-41 1-1-2-49-1-1 1-23 2-17-1-16 1-7-2-17-1-11 4 75 0 15 1 8 0 32 0 32 2 16-1 20-1 19 1-5 4-5 0-4 1-7-3-7 0-2 1-30 1-7 1 0 0-4 0-5 0-6-1-29 0-4-1-50 0-55 2-8-1-7 5 72-2 29 2 22-2 11 2 15-1 15 1 6-3 18 2 14-1 10 1 2 0 19 0 7 5 0-1-7 0-28 1-19 0-22-3 0 3-19-3-1 1-15 0-5 0-7 2-46-2-7 2-16-3-34 3-5 0-13-1-11-2-8 0 26 6 26 1 6-2 78 0 4-1 11 0 9 1 11-1 6 3 8-1 4 1 6-2 4-1 3 2 6 1 8-3 5 1 12 0 7 1 4 0 6 1 13 2-4 1-8-2-24 3-3 0-2-1-4 0-22-1-2 2-35-1-3 0-6-1-19 0-7 0-12 1-4-2-9 1-17 0-10 1-59 0 4 3 13 0 14 1 2-1 2 2 13 0 16 0 2-3 0 2 13 0 41-2 1 2 3 0 4 0 2-1 12 2 0-1 5-1 12-1 2 1 4-1 1 3 9-2 5 2 0-1 4 1 14-2 12 1 3 1 8-3 1 3 1-2 4 2 4-2 10 0 2 1 1 1 6-3-2 5-3 0-1 2-12-3-4 2-5 0-9-2-4 3-3 0-5-1-4-1-8-1-3 3-21-3-39 0-10 2-6-2-12 0 0 2-3-1 0-1-2 2-11-2-7 3-9 0-3 0-9 0-12-1-40 0-14 1 12 3 41 1 23 0 1-1 21-2 16 3 4-2 6 2 2-1 2 0 3 1 3-2 3 2 16-3 7 0 0 0 4 2 9 1 27 0 8-1 10-2 3 3 11-2 2 1 3-1 4 0 2 1 4 1 8-1 1-2 3 1 4 3-1 2-2-1-7-1-15 0-2 1-6-1-3 3-1-1 0-2-3 1-13-1-6 1-11 2 0-1-2 1-8 0-8-1-13-1-1 2-5-3-1 1-9 1-2-1-3-1 0 0-6 1-14 0-7-1-19 0-6 2 0 0-18-2-4 3-19-2-5-1-1 3-7 0-9-3-8 1-22 1 9 4 17 0 14 0 2-1 7-1 6 2 1-1 4 0 21-1 6 2 28 0 19 0 10 0 18 0 0 1 7-2 1-1 1 2 4-2 13 3 2-3 4 0 8 0 4 1 1 0 4 2 3-2 12 2 5-2 1 0 13 1 2-2 6 2 9-2 0 3 1-3 3 3 0-2-3 5-3 1-10-2-10 0-7 2-1-2-1 1-8-1 0 0-3 0-17 2-5-3-24 0-9 0-8 2-1 1-31-1-5-2-6 0-8 3-2 0-2-3-22 2-3-1-1 2-11-3-18 1-1 2-11-1-33 1-1 1 6 2 21 1 9-2 29 0 5 1 5 1 7-1 8 1 5-3 11 3 6-3 4 3 9-1 14 0 11-1 8 1 18 1 0-2 12 0 1-1 17 1 1 2 26-2 8 1 1 0 0-1 8-1 0 6-4 0-3 1-4-3-34 2 0-2-2 0-15 3-15-1-24-2-4 2-7-2-3 0 0 3-7-1-23-2-8 1-3 0-25-1 0 3-10-1-9 1-7-1 3 2 11 2 3-1 26-1 7 3 32 0 9-3 3 3 4 0 19 0 3-2 0-1 3 1 28-1 16 0 2 1 0 2 3-1 3-1 27 0 9 1 0 2-29 1-17-1-10 0-10 1 0 2-15-3-9 3 0-2-4 2-13-2-22 0-12-1-1 2-14-2-1 2-3 0-4-2-9 0-13 3-7-1-13-1-4 0-12 2-8 0-6-3-4 2-6-2-3 3-15 0 0-3 16 4 22 1 11 1 16 1 16-3 18 0 5 3 11-3 5 3 3 0 0 0 1 0 3-1 0 0 5-1 3-1 6 3 3-1 12 1 7-1 1 1 7 0 9-1 10-2 5 2 2 1 32 0 7 0 6-1 17 5-37-2-20-1-6 1-15-1-7 2 0 1-4 0-11 0-11 0-4 0-12-1-17 1-8-2-47 2-1-1-39-2 0 7 7-3 14 3 29-2 6 0 0 0 7 0 10 0 53 1 23 1 12 0 7 0 17-2 35 0 6 0 5 0 2-1 6 3-10 1-4 1-25 1-8 0-15-1 0 2-10-3-20 1-65 2-4 0-4-3-10 1-5 0-77 0 42 4 39 2 8 0 10-2 9 1 4-2 18 2 19 0 54-2 2 2 1 0 62-2 6 0 0 3-28 1-6 3-4-1-22-1-72-1-1 0-8 2-1-2-1 3-5 0-6-2-15-1-24 2-8 0-4 0-39 0 35 5 16 0 66-1 4-2 4 2 109 1-95 2-37-1-28 2-17-1-26 2-9-2-28 1-14-1-91 5 85-1 7 0 20 2 3 0 6-2 3 0 3 2 1-2 1 2 5 0 16 0 12 0 1 0 13-1 5 1 28-1 8-2 10 2 2 0 38-1 20 1 0-1 9-1 27 0 2 0 14 0 11 1-3 6-14-1-29 1-23-1-4-2-39 2-61 0-7-1-5-1-1 0-15 3-5-1-8-2-12 0-18 1-5-1 0 3-3-3-31 2-12 0-33-1-19 1 38 3 2 0 14-1 18 1 6 2 13-3 1 1 27-1 3 2 1-1 4 0 3 1 2 0 8 1 27-2 9-1 22 0 9 2 10-2 14 0 0 0 1 0 9 0 22 0 1 2 3 1 3-3 14 2 3-1 3-1 24 1 2-1 9 3 7 0 1-3 8 2 8 4-11 1-3-3-28 2-17 1-8 0-2-2-4 1-1 0-1 0-7 0-7-2-9 2-27 0-5 0-5-1 0 0-1 1-5-1-27 0-1 0-4 2-3-3-9 0-40 2-2-2-12 3-7-2-13 1-3-1-3 0-39 1-6-1-4 1-15 1-16 4 2-2 23 2 19-1 1 0 4-1 6 0 3 2 1-3 19 3 4-3 39 3 5 0 2-2 7 0 3 1 19 0 5-1 11 1 6-2 2 2 13-2 9 2 6-2 0 0 4 3 0-3 1 1 10 1 7 0 0 1 5-1 24 1 7-1 3 1 20-1 1-2 4 3 11-3 3 0 27 0 3 1 1 2 8 1-9 3 0-2-14 1-1-1-19-1-12 0-1 1-2-1-20 0-3 0-3 2 0 1-6-3-6 3-10-1-2 1-5-3-9 2-4 0-2-2-2 1-27-1-7 1-8-1-1 0 0 2-27 1-5-2-14 0-5 0-3 0-4 1-1-1-27 0-4 1 0 0-4 1-35-1-5 0-37 1-9 0 12 3 28-1 7 1 0-1 5 0 8 2 7-3 10 3 8-2 7 2 11-3 7 3 3-1 1 0 36 0 10 1 11-2 14-1 12 1 5 2 4-3 9 2 14-1 10-1 9 0 1 1 7 0 9-1 4 3 10-3 12 3 31-1 19 1 0 0 0-3 5 1 5 3-8 1-7 1 0-1-4-1-2 2-6 1-2 0-13-2-4 2-6 0-5-1 0 1-2-3-1 1-15 1-3-2-28 0-8 1 0-1-1 1-2 0-6 2-22-3-4 1-10 0-5 1-15-1-3 1-1 0-5-1-9-1-2 0-1 2-2 1-2 0-9-2-13-1-10 3-14 0-1-3-7 2-41 0-2 0-1 0-1-2-4 2-7 0-21-1-2 2-2 0-9-2-1 1 21 2 6 0 3 1 8-1 14 2 17 1 5-3 18 0 26 0 18 0 2 1 10 2 9-1 12-1 4 1 0-2 17 1 23 2 8-3 1 0 2 0 11 1 11 2 15-2 5-1 0 0 3 0 2 3 11-2 0 1 8-2 7 1 1 0 1-1 5 1 9 0 2-1 3 3 7-2 1-1 1 0 0 1 3 2 2-3 10 2 4 5-1-2-2 1 0-2-10 0-3 3-3 0-16-1-3-2-2 2-1-2-4 2-5-1-2 0 0 1-7-1-8 0-1 1-6 0-2 1-2-1-4 1-25-2-11 0-5 0-6 2-1-3-16 3-3 0-6-1-13-2-1 3-2-2-7 1-4-1-14-1-27 2-15-2-13 0-3 2-16-2-37 0-18 2-8 1-11 3 1 1 15-1 1-2 7 2 7 0 3 1 5-3 1 2 1 1 1-2 4 1 19 1 14-1 8 0 4-1 6-1 12 1 5-1 12 3 15-3 5 1 0 0 1 2 2-3 18 0 4 2 18-2 1 3 6-2 3 0 4 1 17 1 12-3 1 1 6 2 1-3 2 0 7 0 5 2 0 1 10-2 8 1 1 0 4-2 5 1 1 0 3 1 1 0 0 0 0 0 6 0 20 1 7-3 0 1 5 0 2 2 1-3 0 3 1-1 15 1 0-1 0-2 3 2 1-2-1 6 0 1-21-1-6 1-2 0-4-3-6 1-4 0-3 2-16-3-2 3-6-3-1 0-4 0 0 3-1 0-15-1 0-1-2 0-5-1-9 3-1-2-4 1-4-2-7 3-2-1-5-1-7 2-7 0-10-1 0-1-1 1-6-1-5 0-3 1-1 1-2-3-4 1 0 2-4 0-2-2-4 2 0-3-1 0-2 2-4-1-5 1-2 1-5-3-2 1 0 2-3 0 0-1-7-1-7 2-23 0-13-1-2 1-1-2-22 2-14-3-5 0-9 3-18-3-12 3-3 1 2 2 10 1 11-2 1 2 2 0 5 0 4 0 10-3 5 1 5 0 18 1 0 0 2-1 15 0 6 2 5-3 9 2 3 1 6 0 2-2 1 1 5-1 1-1 3 1 6-1 3 1 8-1 1 2 9-2 1 3 6-1 2 1 3-3 4 2 3-2 1 3 5 0 4-2 0-1 2 2 7-2 1 0 5 0 4 2 2 0 4 1 9-2 11 2 1 0 1-1 2-1 5-1 1 0 1 0 6 2 2 1 3 0 4-2 1-1 6 0 8 2 6-1 6 2 2-2 10 2 3 0 4-1 0-2 4 0 0 1 6 1 5 0 3 0 0 1 3-1 3-1 2 2 3-2 1-1 11 1 2 6-7-2-2 0-3 0-1 2-3-1-3 1 0 0-7-3-1 2-1 1-1-1-5 1 0-3-1 2-4 0 0 1-7 0-1-1-6 1-1-3-3 1 0-1-1 3-2 0-5-1-5 0-2 0 0 0-4-2-2 0-3 0 0 2-2 1-3 0-8-2 0 2-5-2-7 0-6 0-3 0-9-1-3 0-2 2 0-2-8 2-11 0-2-2-1 3-5 0-2-3-3 2-5 0-2-2-1 2-1-2-3 1-5 1-2-2-2 1-1-1 0 2 0 1-4-3-2 1-2-1 0 3-6 0-8 0-1-2 0 0-5 0-1 2-5-3-29 2-2-1-2 0-4-1-3 0-3 3-2-3-5 3-4 0 0-3-4 1-2-1-3 0-21 1-5-1-7 3-1 0-4-1-1-2-9 0-4 3-6-3-10 2-1-2-4 0 12 7 3-1 0-2 4 0 3 2 4-1 3 0 4 0 1 2 5-1 7-1 4 0 12-1 1 0 1 2 5-2 6 3 4-1 9 1 1-3 1 2 2-2 2 1 1 2 1-1 10-2 4 3 4-1 4-1 1 2 2 0 2-3 6 3 1-2 2 2 4-3 8 1 4 1 0 0 1 1 2-2 3 1 0 0 3-2 1 2 3 1 4-3 3 3 2-3 3 2 2 1 5-3 0 1 2 1 15-2 0 0 0 1 2 2 4-2 2 0 4 2 5-1 1-2 3 2 4-2 4 1 1 2 2 0 3-1 5-2 5 2 3 1 1-1 1-1 2 0 3 2 1-1 2 1 0 0 5 0 1-3 2 0 2 0 0 0 4 3 0-1 1 0 2-1 1 0 2 2 1 0 1 0 3 0 1-3 0 2 1 0 1-1 1 2 1-1 2-1 0 0 1-1 3 0 0 0 1 0 10 3 0 0 2-3 1 1 1 2 7-3 1 3 1 0 3 0 0-3 0 0 1 2 3-1 2-1 3 0 6 1 4 1 1-1 0 2 8-2 2 0 5 0-7 3 0 1-1-1-6 1 0 1-2 0-11-2-10 3 0-3-5 2-1-2 0 0-2 1-1 2-3-3 0 3-1 0-1-2-3 2-1-2-5 2-2 0-6 0-6 0-2-1-7-1-4-1-9 2-2-1 0 1-7 0-3-2 0 0-1 1-3 0-3 0-1-1-5 0-3 2-3-1-3 2 0-2-2-1-1 3 0 0 0-2 0 1-7 1-1-1 0 1-1 0 0 0-2-1-11 0 0 0-1-2-5 3-4-1-3 0 0-1-8-1-2 2-4 1-2-3-1 0-2 1 0 1-16 0-1-2-1 3-1-2 0 1-7 1 0 0-2-2-2-1-2 2-1-1-1-1-2 2-2-2-1 1-4 2-4-1-2 0-5 0-1 0-3 1-3-1-2 1-6 0 0-1-2-2-3 1-1-1-3 2-1 1-2 0 0-1-1 1-3-2-3 2-1-3-3 0-1 2 0 0-2-1-9 1-5-1-4 0-7 2-1-2-4-1-5 2-7 0-16 0-8 0-1 1 2 1 3 2 3 1 11-3 1 3 0 0 9-3 1 2 1-1 0 2 2 0 0 0 12-3 8 2 3-2 9 3 2 0 1-3 5 0 5 2 1 1 6 0 2-2 0 0 2-1 3 2 0-2 0 0 0 2 2-2 2 2 1-1 10 1 4-2 2 3 0-1 0-1 3-1 1 3 1 0 0-1 1-1 1 2 3-1 2-1 1 2 0 0 2-3 2 3 0 0 2-3 2 3 2 0 3-1 3 1 2 0 1-3 1 3 2-2 2 1 1-1 3-1 2 0 1 3 2-2 0 1 2-2 5 1 5 0 1 0 0 2 1-3 1 3 8-1 1 1 1-1 3 0 0 1 1-2 6 2 4-2 1 2 1-1 2-2 3 3 8-1 0-2 3 3 0-1 3-2 1 1 4-1 0 2 3 1 0-3 2 3 1-1 0-1 2 1 3 0 1 1 0-3 1 0 3 0 1 0 0 0 4 0 2 0 2 2 1 1 6-3 5 0 5 1 6 1 1 1 1-2 0 1 3-2 2 0 2 1 3-1 1 3 1-1 0-2 5 0 3 2 0-1 11 0 1 1 1 0 3 1 0 0 1-3 4 0 4 0 5 0 3 0 2 3 4-3 6 0 0 1 1 1 1 0 1 0 4-1 0-1 1 3 0-3 0 1 3 5-1-1-2-1-3 1 0 1-1-1-1 0-1-1-4 0-6 2 0 0-1 0-1-2 0 1-2 2-3-1-2 0-2 1-2-2-1 0-3 1-3-2-4 0-1 1-6 2-2-2-1-1-1 0-1 2-1 0-1-2-4 1 0 0-1 0-3 0-3 0-1 2-1-1-4-1-2 2-3 0-1 0 0-3-2 3-8 0 0-3-1 1 0 0-1-1-2 3-4 0 0-1-3-2-1 2-1 1-1-2-1 2-1-3-5 0-5 1-11 0-3 0 0 1-2 1-3-1-3 0 0 0-2-2 0 3-2-3-8 1-1 0 0-1-2 2-3-2-3 2 0-1-2 1-3 0-4 1-2 0-4 0-5 0 0-1-1 0-2 1 0-3-3 1 0 2-1-1 0-1 0-1-2 0-1 0-2 3 0-3-1 3-1 0-1-2-1 1-1 0-3-1 0 2-8-2-1-1 0 3-1-1-1 0-5-2-3 2-1 1-8 0-1-3 0 1-7 2 0-2 0-1-1 3-1-1-1 1 0-2-2 2-1-2-2 0 0 2-1-2-1 0-4-1 0 0-2 0-1 1-3-1-1 1-2 0-1 1-5-2-1 0-1 3 0-2-2-1-2 3-3-1 0 1-1 0-1-1-5 1 0-3-2 3-5-2-1 2-1-1 0 1-5-1-6 0 0-1-3 2-2-2-2 0-1 1-6-2-4 2 0-1-1-1-2 3-1 0 0 0-1-1-2 0-4-2-5 2 0 1 0-3-1 2-2-2 0 2-5-2-3 0-1 3-2 1 4 2 3-2 1 0 2 3 10-1 1 0 1 1 1-2 0 2 1 0 1-2 4 2 1-2 1 2 0-2 2 0 2 2 0 0 5-1 3 1 1 0 0-3 0 1 6 0 5 0 0 2 4-1 2 1 1 0 3-2 6-1 1 2 0 0 2 1 0-1 1 1 1-3 1 2 1-2 1 2 1 1 2-3 0 2 1 1 0 0 6-2 0 2 3 0 2-3 6 0 2 1 0 0 3 1 0-2 2 3 4 0 0-2 2 2 1 0 1-1 0 0 1 1 1-1 3 0 0 0 0-2 1 2 1-1 3 0 1 0 0-1 2 1 2-1 2 1 3 1 1 1 0 0 2 0 0-1 1-1 0 1 2 0 5 0 1-1 1 0 1 2 0-1 5 0 1 1 1-2 2 2 2-1 7-1 3 2 1 0 7 0 1-2 4 1 1-2 2 1 2-1 1 3 2-2 0 0 1 1 0-2 1 3 1 0 0 0 4 0 0 0 1-2 0 0 1-1 5 3 2-3 4 0 2 0 0 1 1 0 2-1 6 2 1 1 4 0 8-2 3 1 2 0 2 0 5-1 2 1 1 1 1-3 1 1 3 2 1-3 0 0 1 3 3-1 4-2 1 3 3-1 2-1 3 2 2 0 5 0 1-1 9 0 1 0 7-1 0 2 1-3 0 2 1 0 3 0 2-1 0 0 4 0 2 2 2-2 1 0 6 2 2-2 1 1 2-2 10 0 2 3 3-3 1 2 0-1 1 1 1 0 1-2 0 1 4 0 0 1 0 2-1 0-2 1 0 1-3-2-2 2-3-2 0 2-1 1-1-2-1 2-3 0-2-1-1-1 0 2-1-2-1 2-1-1-5-2-1 3-4-1-2-1-2 2-1-1-4-1 0 2-6-3-1 0 0 2-1-1-4 2 0-3-1 1-5 2-2 0-4-1 0-2-4 0 0 2-1-2-5 2-1 0-2-1-2-1 0 3-4-1-1 1-2-2-5-1-1 1-2 2-3-2 0-1-1 3-3-3-2 2-2 0-2 1-1-3-3 2-1 1-3-2-4 1-5 1-10-3 0 0-3 0-1 0-1 1 0 0 0-1-2 1-1-1 0 1-3 2 0-2-1 2 0-1-1-2 0 0-3 1-1 2-2-2 0 2-2-3-1 1-1 0 0 0 0 2-4-2 0 2-5 0-3-1 0 0-2-1-1 0-1 2-5-2-1 2-2 0-1-2 0 0-2 0-1 0 0 1-4-2-2 1-1-1-1 0-1 0-1 0-1 3 0-2-2 2-4 0-4-3-2 3-1-1-1 1-4-1-1-2 0 0-1 2-1 0 0 0 0-1-2 0-1-1 0 2-3-2-5 2 0-1-2 1 0 1-1-1-1 1 0-2-2 0-2-1-1 0-1 1-1-1-1 3 0 0 0-1-1 0-5-1-1 0 0 2 0-3-2 1 0-1-1 0-4 2-2 0-1 0 0-1-4-1-1 1-2 2-1-3-1 3-2-1-2 1-5-3-1 2-1 1-3-3-2 0-1 0-3 3-1-2 0-1-2 3-1-2-1 1-4 1-8 0-2-3-1 3 0-1 0 0-1 1-1 0-4-1-1-1-5-1 0 2-5-2-1 2-16 1-2 0-2-3-6 3 0-3 2 7 2-2 0 2 0-1 3-1 3 0 1 0 4 2 2-2 1 0 0 0 7 1 2 0 0-1 1-1 1 1 1-1 0 0 3 0 3 3 2-2 2-1 0 2 1-2 0 2 3 0 1 0 2 0 0-2 1 3 1-1 0-1 1-1 1 3 0 0 0-1 2 0 1 0 2-1 3 1 1-1 1 2 1-2 5 1 1 1 0 0 0 0 1 0 0 0 1 0 0-2 0 2 0-2 0 1 2-1 2 1 0-1 1 2 0-2 2 1 0 1 0-1 1-1 2 2 0-3 1 3 2-3 1 0 0 1 1-1 1 1 5 0 1 0 1 2 0 0 1-1 1 0 1 0 2 1 1 0 0 0 0-3 2 3 2-3 0 3 1 0 0 0 0-2 1-1 0 2 1-2 0 0 1 2 2-1 1 1 0-1 0-1 1 2 0-1 1-1 1 2 0 0 3-1 0 2 0-1 3 0 1 0 1 1 0-1 0-2 1 1 1 1 0 1 2-3 3 3 0-1 4 0 1-1 2-1 0 0 0 0 0 2 2-1 1 0 0 2 2-2 1 2 0-2 1 1 1 1 1-1 5 0 0 1 0-1 1-2 2 1 1 1 2 1 1-1 0 1 2-3 1 2 7-2 1 0 1 0 1 1 1-1 4 1 0 1 1 1 4 0 0-2 2 1 1 0 0-1 1-1 1 1 1 0 0 1 3-2 2 0 3 1 0-1 2 2 0 1 3-1 3 0 1 0 0 0 0-2 1 0 2 1 1 2 1-2 1 0 0 0 0-1 2 3 0-3 2 2 0 1 2-1 4-1 1 2 2-1 0 0 1-2 0 1 4 1 4 0 1-2 3 1 0 1 1-1 2 1 0 0 2 1 2-1 0-1 1 2 2 0 1-3 0 0 0 3 0-3 0 3 1-2 1-1 1 2 3-1 2 0 0 2 2-2 1 0 0 2 2-1 2-2 0 0 9 1 2 1 4-2 1 0 1 1 0 2 1-2 0 1 1-1 5 2 5-3 2 1 3-1 0 1 2 1 1-1 1 2 0-1 1-2 7 1 2 2 1 0 0-3 2 0 0 0 0 3 1-2 1 2 4-2 0 2 1-1 2 0 1 1 0-1 1 1 2-1 0-1 0-1 1 2 2 0 1-2 0 3 2-1 1 1 4-1 1 0 7-2 0 2 0-1 4 1 2 1 2 0 1 3-2-1-1 1-1 1-4 0-1-2 0 0-1 0-2-1-3 3-1-2-2 0-2 1 0 0 0-1-1 1-1-1-1 2-4-3-1 3-1 0-1-1 0-2-4 0-3 0 0 0-1 1 0 2-5-2-2 0-2 1-1 0-2 1-1-3-3 2-1-1-1 1-1-1-1 2 0-3 0 2-1 1 0 0-1-2-1 1-1-2-6 2-1-2-4 0 0 0-1 0 0 2-3 1-3-1 0 1-5 0-1-3-2 0-1 0 0 0-1 3-1-2-1 1 0 1-1-2 0-1-1 1-3-1-2 1-4 1 0 1-1-2 0 1-1-1-1 2-1-3-2 3 0-3-1 3-2 0-2 0 0-2-3-1-5 2 0-1 0 2-4-1-2-2-1 2-3 1-3-2 0 0-3 2-1 0 0-2-6 0 0 1-1-2 0 1-1 2-1-3-2 0 0 1-1-1-1 2-2 1 0 0-1-2-1-1-1 2-2 0-1 0 0 1 0 0-3 0-4-2-4-1 0 1 0 0-1 2-1-2-2-1-1 2-1-1 0 1-1-1-1-1 0 2 0-1-3-1 0 3 0-1-2 1-4-3-1 0 0 1-1-1 0 3-2-1 0-2 0 0-3 1-1 1-3-1-1-1 0 1-1 2-1-2-1 1 0 1-1-1-1-1 0 2-3-3 0 2-2 0-3-1-1 1-1 0-1 1-1 0-1-1 0 0 0 0-1-2 0 1 0 1-2 0-1 0-1 1 0-3 0 1-1 0-2 1 0-2-3 3-1 0-5-2 0 0 0 1 0-1-1 1 0-1 0-1-1 2-1-2-1 1-1 0-2 2-1-2 0 2-1-1-1 0-1-2 0 2-1-1 0 1-2 1-3-1 0 1-1-2-1 2 0-3 0 3-1-2-1 2-2-1-1 0 0-2-1 3 0-3-1 1-1-1 0 2-1 0-1-2 0 1 0 1 0 1 0-3-2 1 0-1-2 3 0-1 0-1-5 0-1 0 0-1-1 1-1-1-1 3 0 0-3-1 0-2-3 3-1-2-1 2-1-3 0 2-4 1 0-2-2 2 0 0-2-1-2-1-2-1 0 0-2 2 0-1 0 2 0-2-2-1 0 1-1-1-2 2 0 1-1-3-1 3-4-3-1 1-2 2 0-3-4 0 0 1-3 1-1 1-2-2-2 1-1 1-1 0-1-3 0 3-4-1-2 0-4 1-3 0-3-2-4-1-1 1-3 1-1 1-1-3-1 5 7 0 3 0 2 2 1-1 3-1 1 2 6-2 2 1 0 0 1 0 1-2 0 3 0 0 6-3 1 3 1-3 1 3 6 0 0-1 2 0 2-2 0 3 3-2 3 2 0-3 1 1 1-1 0 3 0 0 4-3 0 3 1-2 1 0 1 0 0 1 0-2 0 1 1 2 0-2 1-1 1 0 0 0 2 1 0 1 1-2 1 2 1 1 0-1 7-2 0 0 0 0 0 2 2-1 0 1 0-2 1 0 1 2 1 0 1 1 3 0 1-2 1 0 2 0 0 2 3-3 1 2 1-2 0 0 2 1 1 0 2 1 1-1 0 1 1-2 0 3 1 0 1-3 0 0 3 0 2 3 0 0 1-2 0 1 1 1 0-1 1-2 0 2 2-1 1 2 0-1 2 1 0-2 1 1 0-2 1 3 3 0 1 0 3-2 0 2 1 0 0-2 0 0 0 2 2-1 3 0 0 1 0 0 1-3 2 0 1 3 0-3 0 0 1 3 0-1 2 0 0-1 2 2 0 0 1-2 2 1 0 0 2-1 0-1 1 1 0-1 0 2 1-1 3 2 2-3 2 3 1-2 0 2 0-3 3 2 2 1 2-3 2 2 0-1 0 1 0 1 1-2 1 2 1 0 1 0 0-2 2 2 0-1 1-2 1 2 0-1 0 0 1 2 2 0 2-2 0 2 0-3 1 0 2 1 1 0 1 2 0 0 1 0 0 0 0 0 0-3 2 1 1-1 1 3 5 0 3 0 0 0 1-3 1 1 0 0 2 2 2-1 0-2 0 3 0 0 2 0 2-1 0 1 0-2 1 1 2 0 1-2 2 1 0 1 1 0 2 0 0-2 2 3 2 0 1-1 4 1 1-3 2 3 0-1 0 1 2-1 2-1 4 1 3-2 1 3 2 0 1-3 2 2 0 0 1-1 0-1 1 2 1 1 1 0 6 0 2-3 0 0 0 0 1 3 1-1 1-1 0-1 1 1 1 0 1 1 1 0 1-2 1 2 1 1 1 0 1-1 1 0 3 0 5-1 4-1 0 0 0 2 1-2 4 1 1 1 0-1 4 2 3-2 1 2 1-1 1-2 2 1 0 2 5-1 4-1 0 1 1 0 0-2 0 1 5 1 0 0 6 0 0 1 1-3 2 1 0 2 1 0 7-1 1-2 0 1 1 1 0 0 2 0 1 1 1-2 1-1 2 0 1 0 1 3 0-2 2-1 1 2 2-1 2 0 0 1 2 0 0-1 0 0 0 2 1-3 0 3 3-3 0 1 1 1 0 4-1-2-1 2-1 1-3 0 0-3-2 1 0 2-1-2 0 1 0-2-1 3-4-1-2 1-1-1 0 0-5 0-4 0-1-1 0 2 0-1-2 1-5-3-2 2-5-2-8 3-6-3-1 2 0-2-3 2-3 1-2-3-1 0-1 0-1 2 0 0-2 1-6-3 0 0-1 1-1 0-1 0 0-1-2 0-2 3-3-1-2-2-1 3-2-1-2 1-2-1 0 1 0 0-1 0 0-1-1-1 0-1-3 3-1-1-2 0-1 1-2 0 0-1-1 1 0-1-2-1-1 2 0-1 0-1-2 0-1 2-2-1-4 1-1-1 0 0-1 1-2 0-2-1 0-1-2-1 0 1-2 2-1-2-2 2 0 0 0-1 0 1-1-3 0 1-1 2-1-1 0-2-1 2-1 1-1-1 0-1-1 0-1 0-2 0 0-1-1 0 0 3-1 0 0-1 0 0-2-1 0 1-2 1-1 0 0 0-1 0-2-3-1 0-3 0-1 1-1-1-1 2 0-2-2 3 0 0-1-1-2-1 0 1-1-1-1 2-1-2-1-1-1 3 0-3 0 2-1-1-1 2 0-3-1 2 0-2-1 1 0 0-1 1 0-2-1 0-1 1 0 0-2 2 0-3-2 0-1 3-1 0 0-2 0 2-1-2 0 1-1 0-3-1 0-1-1 2 0 0-2-2 0 0 0 1-1 2-1 0-1-3-1 3 0-3-1 3 0-1 0-1 0-1-3 1 0-1-1 3-2 0 0-1 0 0 0-1-2 2-1 0-2-2-1-1 0 2-1 0 0 1-1 0 0 0 0 0-1-1 0 0-1-1-2 2-2-2 0-1 0 2-1 0 0 1 0-2-4 1-1 1 0 0-3-1 0 1 0-1-1 1 0-1-1-2 0 3-1-1-1-2 0 1 0 2-1-1-1-1 0-1 0 2-1 1-3 0-1-3 0 2 0-1-1 0-2 2 0-2 0 1-1 1 0-2 0 0 0 1-1 1-1-1-1-1-1-1 0 3-1-2-2 2-1-2 0-1 0 2-1 0 0-1 0-1-1 3-1 0-1-1 0 1-1 0-1-2-1-1-1 0 0 1-1 2 0 0-1-1-1-2 0 0-2 0 0 2 0 1-1 0 0-1 0-1 0 2-1 0-1-2-1-1 0 0-1 0 0 3-1-2-1 2-2-1 0-1-1-1-1 0 0 0 0 0-1 0 0 1-1 2-3-1-1-1-1-1-1 3 0-2 0 2-2-2 0 1 0-2 0 0 0 1-1 0-1-1 0 0-1 2-1-2-4 1 0 0-1-1-1 3 0-2 0 0 0 2 0 0-1-1-1-1 0 2-1 0 0-3-1 2 0-1 0 0 0 1-1-2 0 3-1-1-1 1-2-1-1 1-2 0 0 0 0-1 0-1-2 2-1 0-1 0-1-2-1 0 0 2-1-1 0 0-1-2-4 2-1 0 0 1-1 0-6-2 0 2-3-3-3 1-4-1 0 3 0-3-3 2 0 1 0 0-5-1-2 0-3-2-1 3-1-3-1 3 0-3-2 1 0 1 0 0-1-1-2 1-1 0 0 1 2 2 1 1 1-1 1 2 2-2 1 1 3 1 0 0 0 0 1-2 0 1 1 0 0-1 1 1 2 0 1 0 1-1 1 2 2 0 1-2 1 1 2-1 0 0 1 0 2 1 2-1 1-1 0 1 1 0 1 1 1-1 1 1 0-2 2 1 2 1 0 0 0-1 1 2 1-1 0 1 1 0 0-1 0-1 0-1 2 1 1 1 0-2 0 3 1-2 0-1 1 1 0 1 0-1 1-1 0 0 1 0 0 0 1 1 1 2 0 0 4-2 1 0 0 2 1 0 0-1 2 0 0 1 0 0 1-3 0 1 1 2 0 0 1-1 0-1 1 2 0-3 0 3 0-2 1 2 0-3 0 3 0-1 1-2 1 2 2-1 0-1 1 1 1 0 0 2 0 0 2-3 1 0 1 2 0 1 0-2 7 2 0-2 1 1 1-1 0-1 1 0 0 2 1 0 0 0 1-1 0 2 1-3 0 3 1-1 0 1 1-1 3 1 1-2 1 2 1-1 0 1 3 0 1-1 0 1 0-1 3-2 1 1 1 0 0-1 0 0 1 0 1 1 1-1 0 3 0-3 1 3 0-2 1 1 2-1 0 2 0-1 2 1 0-3 2 3 2-3 0 2 2 0 0 1 0-2 1 2 0-2 1 1 0 1 1-2 0 0 1 0 1 0 1-1 1 2 0 0 1 1 0 0 1 0 0-3 1 3 0-1 0-2 0 3 1-1 1 1 1-1 0 0 2-2 0 2 0-1 2-1 0 2 1 0 1-1 0 2 1-3 3 0 0 1 1 2 0-2 0 1 1 0 0-2 1 2 1 0 1 1 1-2 1-1 1 1 2 1 0-2 1 0 1 3 4 0 0-3 0 2 0 1 1-3 1 0 0 3 0-3 0 3 2-3 0 0 4 2 0 0 1 1 0-1 0-2 3 1 0-1 0 0 0 1 1 2 2-3 2 0 0 0 2 0 1 3 1-2 1 1 0 0 0 1 1-2 0 2 1 0 0-2 0 0 1 0 1-1 0 3 1-1 0-1 1 0 0 1 0 0 3 0 3-1 0-1 1 2 1 1 0-3 1 0 0 2 1 1 2-3 4 0 2 1 1 2 0-2 0-1 2 1 1-1 1 2 0-1 2 1 0 0 2 1 0 0 1-1 1-2 0 3 0-3 0 0 3 1 1-1 1 1 1-1 2 1 0 2 2-3 2 3 3-2 1-1 0 0 0 1 3 0 2 0 1 0 1 0 1 2 0-1 2-2 2 0 2 3 2 0 3-1 0-1 0-1 1 2 1-2 2 0 1 0 2 0 0 2 1 0 3-2 3 1 2 0 3 2 1-2 8 1 0-2 4 1 0 1 1-1 1 1 1 1 1-1 2 1 0-3 2 1 1-1 2 2 1 0 1 1 2-3 3 0 1 0 2 0 0 0 1 1 0 2 2-1 1-2 0 0 5 2 1-1 0 2 7-2 4 1 2-2 1 3 0-1 2-2 0 3 2 0 0-3 4 3 3-2 1 1 2 1 3-1 5 0 1-1 0 0 2-1 3 1 0-1-1 5 0-1-1 2 0 0-4 1-10-2 0 2-1-1-5-2-2 2-4-1-3-1-6 2-3 0-1 1-2 0-1-3 0 2-3 1-2-2-4 1-2-2-1 0-2 3-4-3-7 3-1-1-5-1-5-1-1 3-2 0-1-3 0 3-1-2-1 2-6-2 0-1-1 3-4-2-1 0-4 0-1 2 0-1-1 0-1 0-1 1-2-1-2-2-4 2-1 0 0 0-2 0-2 1-1-1-1-2-2 3-1-1-1-1-2 1-2 1 0 0 0-1-1-2-2 1-1 2-1-1-1-2-2 2-1-1 0-1-1 1 0 1 0 1-2-3 0 2-1-2 0 1 0-1-4 2-1 0-2-2 0 3 0 0-1-1 0 1-2-3 0 1 0 0-2-1 0 3 0-3-1 1 0 1-2 1-3-2-1 2-1-3-1 1-4 0-1-1 0 0 0 0-2 2-2 1-1-2-2 0-1 1 0-1-1 2 0-1-1-2 0 0-2 1 0 2 0 0-1-2 0 0 0-1-3 3-1-1 0-1-1 0-1 0 0-1-1 2 0-2-1 3-1-3-1 3 0-1-1 1-1-3-2 0-1 3 0-2-3 2-1 0 0-2-1 0-3 1-1-1-1-1-1 3-1-2 0 1-1 0-1-1-1 0 0-1 0 2 0 0 0-1-1 0-1 1 0-2-1 0-1 3 0 0 0-1 0 0-1 1-1-1 0-2 0 0-1 0-1 0 0 0-1 2-3 1 0-2 0 1-1-1 0 1-1 0 0-1-1 2 0-2 0 2-1 0 0-3-1 2 0 0 0 1-1-3-1 1 0-1 0 0-2 3-1-3 0 3-2-3-1 2-4 0-1-2-1 1-1 1-1 1-2 0-3 0 0 0 0-3-1 0 0 1-1 0 0 1 0 1-1-3-1 3 0-2 0-1-1 1 0-1 0 1 0 0 0 2-1-1 0 0-1 0 0 1-1-2 0 2-1 0 0-2-1 1 0 0 0 0-1 1 0-3-1 3 0-3 0 3-1 0-1-2 0-1 0 2 0 0-1-2-1 1-2 0-1-1-1 2-1-1-2 0-1 2-1-3 0 2-2 0-2 0 0-2-1 0-2 1 0 2 0-3-2 3-1-3-1 1-1 1-2 1-1 0 0-2-1 2 0-2-1 0 0 2-1 0 0-2 0 0-1 2 0-2-2 1-1 0-2-1 0 1-1-1-2 2 0-2-1 2 0-2 0-1-3 1-2 0 0 1 0-1-2 0-2 0-3-1-2 0-1 2-1 0-1 1-3-3-1 2 0 0-1 1 0-1 0 1 0-2-3 1 0 1-2-1 0-2-1 3 0-3-1 1 0 1 0 1-1 0 0 0-1 0-1-1-2-1-1 2 0-3-2 3-2-1 0-1-1-1 0 1 0 0-5 2-2-3 0 2-1 1 0-1-1-2-3 1 0-1-16 6 13 0 1-1 0 2 1-3 0 2 0-2 4 0 1 1 0 1 1 0 3 0 3-1 0-1 1 1 0 2 0-3 1 2 1-2 0 0 2 2 0-1 2 1 1 1 0-2 1 1 0 1 5-2 1 2 0-3 2 1 1 2 0-3 1 0 0 2 0-2 1 0 0 2 0 0 1 1 2-1 1 1 0 0 1-2 0 1 1-2 0 0 1 0 0 3 1-3 0 0 1 0 0 0 0 2 1 1 0-3 1 1 1 1 0 0 1 0 1 1 1-1 0 0 0-1 1-1 0 1 2 1 2-2 2 3 0-1 1-2 0 3 0-1 2 0 0 1 0-2 0 2 2-1 0 0 1-1 0 0 0 2 1 0 0-1 0-1 1 0 1 0 0 0 1 1 1 1 0-1 1-1 0 0 0 1 2 1 0-3 1 3 1-2 1 2 1-3 1 1 1 1 1-2 0 3 0-1 0 1 2-1 1 1 0-2 1 2 0-2 1 1 0 1 2-1 1 0 0-1 0 1 3-1 1-1 1 0 1 3 0-1 1-1 0 0 0 1 0-1 1 2 0-1 0 0 1-2 0 1 1 2 1-2 1 2 0-1 1 0 0-1 1 0 0 0 1 1 0 1 0-1 2-1 0 1 2-2 0 0 0 3 1-3 0 2 1 0 0-1 1 1 1-1 0 2 1-3 0 1 1-1 1 2 0 0 0-2 1 2 0 0 0 0 0 0 1 1 1-2 1 2 0 0 1-2 1 2 1 0 0-1 1 0 0-1 1-1 0 1 0 0 1-1 0 2 1-1 0 2 2 0 0 0 0-3 0 0 0 2 1 1 1-1 0 0 0-2 0 1 3 1 1 1 0-2 0 1 1-1 0-1 0 1 3 0 1 0 0 1 0-1 0 1 1-1 0 2 1-1 0 0 0-2 0 3 0-2 1 1 0 1 1 0 3-2 1 2 0 0 1-3 0 2 2 0 0 1 0-3 1 1 0 0 2 0 0 1 1-2 0 1 1 1 0-1 0 2 1-1 1-2 3 2 2 0 1-1 0 2 0-3 0 3 1-3 2 2 2-1 0 0 0 1 1-2 0 2 1-1 1 1 0-2 0 3 0 0 1-1 2 1 1-3 0 1 1 1 2-1 0 1 1-1 2 2 0-1 0-1 1 1 2-2 0 3 1-2 1 2 0 0 2-1 3-2 2 2 2 0 1-1 1-1 1 3 1 0 0-1 0 1 1 0 0-2 0-1 1 0 1 3 2-1 1 0 2-1 1 2 0-3 1 3 1-3 0 3 1-2 0 2 2-1 3 0 0-1 1 0 0-1 2 1 2 0 0 2 1 0 2 0 0-2 2 1 1 1 0-3 1 0 1 0 1 1 0 0 0-1 1 1 6 0 2-1 1 3 0-1 1 0 1-2 3 1 2 0 1 2 0 0 0-1 1-2 1 0 1 3 0 0 0-2 1 1 2-1 0 2 1 0 1 0 3-2 0-1 1 2 4 1 0-2 3-1 1 2 1-1 4 1 3 0 4-2 5 3 1-3 3 3 0-3 1 1 1 1 2-1 3 1 0-2 1 2 1-1 2-1 1 3 2-1 0-2 1 3 2-3 1 0 3 2 2 0 2-1 2 2 2-2 3 1 0-2 1 3 0-2 3 0 2 2 4-2 1 2 2 0 2-1 2-2 0 2 2-2 2 0 2 0 1 3 1-2 1 0 2 1 0-1 0 0 4 2 6-2 1 2 1 1-2 3-2-1-1 1 0 0-1-1-2-2-4 0-1 2-1-2-2 3-4-2-2 1-2 0-1 0-1-1-5 1 0-1-1 0-1 1-5 0-2-2 0 3-1-2-1 0 0 1-3-1-1-1-3 2 0 0 0 1-1-1-1 1-2-1-1 0-1 0-2 0 0 0-2-2-1 3-3-1-2 1-3-3-6 1 0-1-1 2 0 0-6-2 0 3-2-3-2 3-1-3-1 2 0 0-1-2-7 1 0 1-4-2-2 0 0 2-3-2-1 2 0 1-4 0-1-2-1 0-2 1-1-2-2 3-1-1 0-2 0 1 0 2-1 0 0-1 0 0-1 1 0-1 0 0-3-1-1 2 0-3-2 0 0 0-2 0 0 0 0 3-1 0-3-2-1 1 0 0-2 1-2-1-2-2 0 1 0 2-1-1-1 0-2 0 0 1-1 0-1-1-2 0-1 1-2 0-1-2-1 2-2 0 0-1-2 1 0-2-1 2 0-2 0-1-1 0-1 1-1 0-1-1-1 3 0 0-2-3-2 1 0 0 0 2-2 0-2 0-2-3-1 3-1-3-1 3 0-3-2 2-1-2 0 2 0 0-1 0-1 1-1-2 0-1 0 1-1 1-2-1 0-1 0 0-1 2 0 0-1-2-3 1 0 1 0 0-1-2 0 1-1-1-1 1-1-1 0 0 0 2-1-1 0 0-1 1-1 1-3-1-1-2 0 0-1 2-1-1-2-1-1 1-1 0 0 0 0 0 0 1-2-1-1 1-1 0-1-1 0 1-1 1 0 0-2-2-1 2-1 0-2-2-1-1 0 3 0-3-1 1 0 2-1-2 0-1-1 0-1 1 0 1 0 0-2 1 0-1 0 1-1-1 0-2 0 1-1 0-1 2 0-1 0 1-1-3 0 2-1 1-1 0 0-2 0-1-1 1 0 0 0-1-2 3 0-2-1 0 0 0-1 1 0-1 0 1-1-2-1 3 0-3-1 0 0 3 0-1-2 1-1 0-2 0-1-3-1 1-2 2-1-1 0-1 0-1-2 3 0-2 0 0-1-1 0 3-2-2 0 2 0-1 0 1-1-3-1 3-1-1-2 1 0-1-1 0-1 1 0-3-1 2 0-2-1 1-1-1 0 3-1-2 0 2 0 0 0-3-1 0 0 0 0 0-1 3-1-1 0-1 0 2-1-3-1 0-1 0 0 0-1 1 0 0-1 2-1-1-2 1 0 0-1-3 0 3 0-1 0-1 0 0 0 1-1-2 0 1-1 0-1 0-1 1-1 1 0-2 0 1-1-2 0 3 0-1-1 0 0 0-1-1 0 2-1-2-1 0-1-1-1 0 0 0 0 3-2-2 0 0-4 0 0 0-2 2-1-2 0 0-1 1-1-1-2 1-3-2 0 3-1 0 0-3-1 0-1 0 0 1-2 0 0 1-2 1 0 0 0 0-1 0 0 0-1 0-1-3 0 2 0 0-1-2-1 1-2 0 0-1 0 3-2-2 0 1 0 1-1-2 0 0 0 0-2 0 0 2-1-2-2 0 0 1-1-2 0 2-1-2 0 3 0-1-1-2 0 2-1 1-3-2-4 0 0-1-1 1-1-1 0 0 0 2-1-1 0 2-1-1 0-2-1 2-1-2 0 0 0 1-1-1-2 0 0 3-7-1 0-1-2 2-1 2 0-1 1 0 0 3 1-1 1 1 0-2 0 2 1-1 1 0 0 0 3 0 1-1 0 1 0-2 1 1 1 0 1 2 2-1 2-1 0 1 0 1 1-3 0 0 0 1 2 2 0 0 2-1 0-2 0 0 2 0 2 2 4 0 0-1 1 2 1-1 0-1 3 1 1-1 1 1 0 0 0 0 0 1 0-1 0 1 1-2 0 0 1 2 0-1 1 0 2 0 0-1 0 0 1 2 0 0 0-3 1 1 1 1 0 1 0-2 1 1 0 1 2-1 2-2 0 0 1 3 1-1 0-1 0 2 1 0 1 0 1-3 0 0 0 0 0 0 1 3 0-1 2-2 1 2 1-1 1 2 1-3 1 2 0-2 0 1 2-1 1 0 0 0 1 3 0 0 0-3 0 2 0-1 0 1 1-2 1 3 0 0 0-3 1 0 1 2 1 0 0-1 0-1 0 3 0-1 1 0 2-1 0 1 3-2 3 0 1 3 0-3 1 0 1 1 0 0 2 0 1 1 1 0 0-2 0 1 3 0 1 0 2-1 0 2 0-2 1 1 0 0 0 0 0 2 2-1 0-2 0 0 1 1 0 2 0-1 1-1 0 1 1 0 2 1 0-3 1 3 1 0 0 0 1-2 1 2 1-1 1-1 0 0 1 0 0 0 1 2 1-1 1 0 1-2 1 3 1-2 0 0 0 0 0 1 2 0 0-2 0 2 0 0 0 1 0 0 1-3 1 1 0 0 0 1 1-1 0 1 1 0 0 0 1 0 0 0 0 1 0 0 1-1 1-1 1 1 0-2 1 3 2 0 0 0 1-1 0 0 2 0 1 0 0-1 0 0 1 2 1-2 0 0 0 2 0-3 2 2 0 0 1-1 1 2 0-2 1 0 0-1 0 3 1 0 0-1 2 1 1-3 2 3 1 0 1-1 1 1 0-3 1 3 0-2 1-1 2 1 1-1 0 0 1 2 0-2 1 0 0 3 1 0 2-2 1-1 1 1 0 0 0 2 0-1 5-2 0 3 1-1 0-2 0 3 1-1 0 1 0-2 1 0 1-1 2 3 0-3 1 1 0-1 0 1 2 1 1-2 0 2 0 1 2-3 0 2 0 0 1-1 1-1 1 2 0-2 0 2 1-1 1 2 0-3 0 0 0 3 1-1 1 0 1-2 0 3 1-3 1 1 0 2 0-2 1 1 5-2 0 3 5-2 3-1 0 0 2 0 1 0 0 1 1 2 0-1 2-1 1 2 2 0 0-1 0 1 1 0 0-3 0 0 0 3 2-1 0-1 0 1 1-2 1 1 1-1 3 1 2 2 0 0 1-2 1-1 1 0 0 1 1-1 0 3 1 0 0-3 6 2 1-2 0 2 2-2 0 1 2-1 0 1 3 0 2-1 0 0 1 0 0 1 1 1 3 0 0-2 1 3 2-1 0-1 4 1 1 0 2 1 0-3 0 1 0 2 1 0 3-1 1-2 4 1 0 2 2-2 0 1 1 0 1-1 5 2 0-1 1-2 6 3 3-1 1 0 1 1 1-2 2 0 1 0 11-1 1 3 0-3 5 3 0-3 1 3 1 0 2 0 0-2 0 1 1 0 0-2 1 0 0 0 1 0 2 2 3-2 0 0 3 0 0 0 1 3 2-1 2 1 1 0 1-2 3-1 1 0 2 3 0 0 1-2 1-1 3 2 1-2 3 1 2 0 0 2 1 0 3-1 0 0 5 2-4 1-4 0-2-1-1 0-3 2 0-1-8 1-1-1 0 2-5 0-7-1-1-1-2 1-3 0 0 1-3-3-8 0 0 3-6-3-5 1-1 0-2 0-1 2 0-3-1 1 0 0-1 0-1-1-7 1-3 0-2 2-4-3-3 0 0 1-2 2-1-3-1 0-3 0 0 0-3 2 0 1 0 0-3 0-3-1 0-1-1-1-1 0-2 1-1 1-8-2-1 0-4 0-2 1 0-1 0 2-3 0-1-1-2 1 0 0-2 0-1-2-2 2-1-1-3 0 0 1 0-1 0 1-3-2 0 3-3-2 0 1-1 1-2 0 0 0-2-1 0 1 0-2-1 0 0 1 0-2-1 3 0-2-1 1 0-1 0-1-1 2-1 1 0-1-1 0 0-2 0 1-4 1-2 0 0 1 0-1-1 1-1-1-2 0-1 0 0 1-1 0 0 0 0 0-1-1 0 1 0-1 0-2 0 0-2 1 0 2-1-1 0-1-1-1-1 0 0 0 0 1-1-1-1 2-1 1 0-3-1 0-2 3-1-1 0-2-1 1-2-1-2 1 0-1-2 1-1-1 0 3-2 0-1-3-1 2 0-2-1 2 0 1-1 0-1-2-1 2-2-3-1 2 0-2 0 1-1 0-1 1 0-2 0 0-1 2 0 1-1-1 0-2 0 2-2-1 0-1 0 2-1-2 0 3 0 0-1 0-3-1 0-2-1 1 0 1 0 0 0 1-2-1 0 1-1-2-1 2-1-1-4-2 0 1 0-1 0 2-1-1 0-1 0 0-1 0-1 1 0 0 0 1-2 0-1-2-3 3-1 0-1-2 0-1-2 3-1 0-1 0 0-2 0 1-1-1-1 0 0 0 0-1-1 1 0 0-1 1 0-1-1 2-1-3-2 3-1-2-1 2 0-1-1-1 0 2-1-3 0 1-1 2 0-1 0-1-3 0-1 1 0-2 0 3 0-1 0-1-1-1-1 2 0-1-1 1 0 1 0-2 0 0-1 2 0-3-1 0-1 0-1 2-1-1 0-1-1 1 0 2 0 0-3-1 0 0-1-2-1 0 0 3 0-1-1-2 0 1-1 2 0-1-1 1 0 0-1 0 0 0 0-1 0-2-2 1 0 1 0 1 0-3 0 2 0 1 0 0-1-3-1 3 0-3 0 1 0-1-1 3 0-1 0-2-1 0 0 3-1-3-1 2 0-1-1-1 0 1-1-1 0 3-2 0-1-1 0 0 0-2-1 0 0 1 0 2-1-3-2 2 0 0-1 1 0-3-1 2 0 0 0-2-1 1-1-1 0 3 0-3-1 0-1 0 0 1 0 0 0 2-1-3 0 0-2 0 0 2 0-2 0 1 0 1 0 1-1-3 0 3-1-2-2-1-2 3-1-1-1-1 0-1-1 0-1 0-1 3-1 0 0-1-3 0 0 1 0-1 0 0-2-2 0 2 0 0-1-2 0 1-1-1-1 0 0 0-1 3-1-2-1 0 0 2 0-2-1 1 0-1-4 1-1 0-1-2 0 2-2 1-1-3 0 2-2 0-2-2-3 0-2 0-1 0-1 0-1 0 0 3-1-3-1 2-1-1-2 1-2 0-4-1 0 0 0 1 0 1-9-2-4-1-1 0 4 6 7 0 1-1 1 0 2 2 1-2 1 0 1-1 2 0 1 1 1 2 1-3 2 2 0-1 1-1 0 3 1-1 0 1 1-1 0-2 0 1 0 1 1-1 0 1 0-2 1 1 2 0 2 1 2-1 2-1 0 3 0-1 0-2 1 0 0 2 1 1 1-3 0 0 0 3 1-1 0 1 1-3 0 1 1-1 1 3 0-1 0-1 2 2 0-1 0 0 1-2 1 1 0 1 1 0 0 0 1 1 1-3 0 0 1 3 1-1 0 0 1 1 0-2 1 0 0 2 1-2 2-1 0 1 3 1 0 1 0-2 1 1 0 0 1-2 1 0 0 3 0 0 1 0 0-2 1-1 0 0 1 2 0 1 0-2 1 1 0 0 0-1 1 0 0 2 1-1 1-1 0-1 0 3 1-1 1 0 0-2 0 1 0 1 0-1 0 0 0 0 3 0 0 1 0 1 0-3 1 0 1 2 0 1 0-3 3 2 0-1 1 1 1-2 0 2 1-1 0 2 1-2 0 0 0-1 0 1 0 0 0-1 1 0 0 0 0 2 3 0 0 0 0-1 0-1 1 2 0-1 1 0 1 2 0 0 0 0 1-2 0-1 0 2 1-2 1 2 1 0 0-2 0 1 1 0 1-1 1 0 0 0 0 2 1-2 0 0 1 2 0-1 1 0 0-1 0 3 0 0 1-2 0 0 0 2 1 0 0-2 3 1 0-1 0-1 1 0 0 2 1 1 0-2 1 2 1-2 0 0 2 2 0-1 0-2 1 2 0 1 0-3 0 0 0 2 1-1 0 0 1 2 1 0 1-1 1 1 0-3 2 0 0 2 0-2 2 0 2 1 0 0 0-1 0 2 2 0 0-1 0 1 1-2 1 0 1 3 1-1 1 1 0-2 0 1 1 1 1 0 0-1 1 1 0 0 2 0 0-2 1 1 1 0 0-2 0 1 2-1 0 1 1-1 1 0 0 0 0 1 0 0 1-1 0 3 0-1 1-1 0 0 1 0 1 0 0 1 1-2 1 0 2 2 0-2 0 1 1 1 2 0 0 0 0-1 0 0 1 0 2 2 0-1 0-1 0 2 1-3 0 2 0 0 1 0 0 1 2-1 1-1 0-1 1 2 0-1 2 2 0-3 1 0 1 1 1 1 0 0 1 0 2-1 0-1 0 0 1 3 0 0 0 0 1-2 0-1 1 0 0 0 1 3 0-1 1 1 0-1 1 0 0 1 1-3 1 1 1 1 3-2 1 2 0-1 0 2 1-2 0 1 0-2 0 2 2 0 2 1 1-3 1 1 0 2 1-3 0 0 0 3 2-2 2 1 0 1 0 0 0-2 1-1 1 3 1-1 1-1 0-1 1 2 0-1 1 0 2 1 1-2 0 1 1 2 0-1 1-2 0 1 1 0 0 1 0-2 0 1 1-1 1 1 0-1 4 0 0 2 1-1 3 2 1 0 1-3 0 3 1 0 0-1 2-2 0 1 0 1 0 0 5-1 0 2 1 0 1-3 2 2 0 0 1 1 0-2 2 0 1 0 3 0 0 0 0 1 1 1 2-1 3-2 0 1 2 1 0-2 2 2 2 1 1-3 0 0 2 3 4-3 1 2 2-1 1 0 0 0 3 2 0-1 2-2 1 1 2-1 2 3 0 0 1-1 2 1 0-1 1-2 5 0 2 0 6 3 0-3 1 1 2 0 1 0 0 2 2-3 1 2 1-1 2 2 2-3 0 3 0-3 1 3 5-2 1 0 4 1 1-2 2 2 2 0 0 0 1 1 2-3 3 2 2-2 1 3 1 0 6 0 1-3 4 3 0-1 5-2 3 2 4 0 4 0 4-1 0 1 7-2 3 0-1 7-17 0 0 0-5-1-2-2-2 0 0 3-1-1-6 1-1-2-3 0 0 0-4 0-1 2-5-1-6-1-2 0-1 2-2-2-1 2-1-2-1 1-1 0 0 0-3 1-1-2-2 2-1-3-1 2-4-1-3 2-3-1 0-1 0 0-4-1-2 0-8 0 0 2-2-1-2-1-9 2 0-2-1 0 0 0-4 2-3-2-4 3-1-3 0 1 0 0 0 1-1-1 0 1-3-2-1 2-1-2-1 1 0 0-3 2-2-2-1 2-3-1-1 1-1 0-1-2-1-1 0 1-5 1-2-2 0 2-1-2-1 0-2 3-2-2-2 1-1 0-2 1-3-3-1 0-3 0-1 3 0 0 0 0-1 0-2-1-5-1-1 2-1-1-1 1 0 0 0 0-2-3 0 3 0-3 0 0-1 0 0 3-1-1-2-1 0-1-1 2-1-2 0 0-3 3-1 0 0-1-3-2-1 1-1-1 0 0 0 0 0 2-1 0 0-1-4-1-1 0-1 1 0 2 0-3-1 1 0 1-1 1-1-3 0 0 0 2-1 0-1-1 0 2 0 0 0 0-1-2-1 1-1 0-1-1 0 0 0 0-1 2 0-3 0 3 0 0-1-3 0 1-1-1 0 1-2 0 0-1 0 3-1-2 0 2 0-2 0 1-1 1 0-3-1 0 0 3 0 0 0-2-1-1-1 3-2-1 0 1-1-2 0 1 0 0 0 0-1 0 0 1 0-1-2-1 0 2-3 0-1-3 0 0 0 3-1-1 0-1-1-1-1 0 0 0-1 3 0 0-1-1-1 1 0 0-1-2-1 0-3 2 0-3-3 1 0 1 0-2-2 0-1 3 0-2-1 0 0 0-1 0-2 1 0 0 0 1 0-3 0 2-1-1 0 2-1-1-1 0-1 0 0-1-1 1-3 1 0-1-1-1-1 2 0 0-1 0 0-2-1 1 0 1-1 0 0 0 0 0-3-1 0-1 0 2 0-3 0 2-1-1 0 2-1 0-1 0-1 0 0-1-1 0 0 1 0 0-1-1 0-1-2 2 0-1-1-1 0 2-2 0-1 0 0-3 0 3-1-2 0 1 0 1-1-2 0-1 0 3 0-2-1 0 0 2 0-1-2-2 0 1-1 1-1 0-1 1-2-2 0 1 0-1 0 2-1-1 0-2-1 3-2-3 0 2 0 1-1 0-1 0 0-2-3 2-1 0 0-1-1-1 0 0 0 0-1 1 0 1 0-3 0 2-1 0 0 1 0-1-1-1 0 1 0-2 0 2 0-1 0-1-2 2 0 1 0-1 0-1 0 2 0-1-1-2 0 3-1-3 0 2-1 0 0 0-1 0 0-1 0-1-1 3-1 0-1-3 0 3 0-1-2-1 0 0-1 0-1 2 0-2-1 2 0 0-1-3-1 0 0 2-1 0-1 1-1 0 0 0-1-1-1-1-1 0 0 0 0 0 0 2-1-3 0 1-1 2-1-3-3 1 0-1-1 0-1 1 0-1-2 1 0 0-1 0 0 0 0 0-1 0 0 0 0 2-1-2 0 0-1 0 0 1 0 1-3-2-1 1-1 0-2 1 0-3-1 3-1-2-1 2-1-3-4 0 0 2-1-2-1 2 0 4 0-1 2 1 1 1 0-1 1-1 0-1 1 0 0 3 1-2 7 0 1 1 0 1 0-2 1 2 1-2 0 1 1-1 1-1 0 1 1 0 1 0 0 0 2 1 0 1 0 0 3-3 0 3 0-1 0-2 0 3 1-2 1 0 0 0 0 0 0 2 1-2 0 2 2 0 0-2 1 2 0-3 0 0 1 0 0 1 1-1 1 0 0 3 4 0 1-2 1 2 0 0 2-3 0 1 2 2 0-3 1 0 1 3 1-1 0-2 1 1 1 1 1 0 1-1 1-1 0 3 0-1 1-1 1-1 0 2 0-1 0 0 1 2 0-1 0 0 2 0 2-1 0 2 0-3 0 2 0-1 1 2 0-1 0-2 1 3 0 0 1 0 2-3 0 1 0-1 2 1 0-1 0 1 2-1 0 3 0 0 0-2 2-1 1 0 0 3 0-1 0 1 0 0 2 0 0-3 1 1 0-1 1 1 0 0 1 0 0 2 0-2 1 0 0 2 1 0 0-1 0-2 1 2 0-2 0 0 0 0 1 1 0-1 1 1 0 0 1 0 1 2 3-2 0 2 2-2 1 2 0 0 0-1 1-2 0 3 0 0 2-2 1 2 1-2 1-1 1 3 1-2 1-1 0 0 0 0 1 0 0 2 0 1 0-1 2 0 0-2 0 0 1 1 0 0 0 1 1-2 0 3 0 0 1-3 1 1 0-1 0 2 0-2 1 1 1-1 0 2 1-1 2 2 1-1 0 1 0-2 0 0 0 1 1-1 0 0 2-1 0 2 0 0 0-2 3 1 0 0 0-1 2 1 0 2 1-1 1 1 0-2 1 2 0-1 0-2 3 1 0-1 1 3 0-2 1 2 1-1 1-2 0 0 2 3 1-2 0-1 0 3 0 0 2-1 0-2 0 3 0-1 0 1 0-1 0-1 1 0 1 0 0-1 0 2 0 0 1-2 0 3 1-1 0-2 1 3 0-1 0-1 1-1 1 2 0-2 2 3 3-2 0 2 1-2 0 2 4 0 1 0 0-3 1 2 0-1 1 1 2-1 1-1 1 2 0-1 0 0 1-1 1 3 0 0 1-3 1 3 0-3 1 0 1 1 2-1 1 3 2-2 0-1 2 2 2-1 1 1 0 0 0-1 1 0 1 1 1 0 0-2 1 0 0 0 2 0 0 3 1-3 0 0 2 0 0 0 0 1 0 2 1-3 3 3 0-2 0 0 2 1 0 0 1-2 0 1 0-1 1 1 0 1 3-1 0-1 0 3 3 0 0 0 0-1 0 0 3-1 0 2 1 0 0-1 0 1 1-1 0 1 0-1 0 1 1-2 3 0 4-1 0 3 0 0 2 0 0-2 1 2 1-3 3 2 1 0 6-2 1 1 1 0 2 1 3 0 3-1 0-1 1 3 2-1 1 0 1 1 6-1 0 0 1 1 4-3 1 3 0-2 3 1 3-2 5 0 1 3 1-2 2-1 1 2 2 1 2-2 0 0 2 0 0 2 2-3 1 3 1-3 1 1 0-1 1 3 3-1 6 0 1 1 1-2 1 0 3-1 4 1 2-1 2 3 1-2 7 2 2-1 4 0 3-2 0 0 2 0 0 3 1-3 2 0 3 2 6 0 9 0 0-1 5-1 1 2 0 0 1 1 1-2 0 1 3 1 2-3 1 1-3 5-10 0-1-1 0 2-6 0-3 0-1-3-1 0-2 2-4-1-1 2-6-1 0-1-2 2-7-1 0-2 0 0-5 0-3 0-1 0-2 3-2-1-1-2-5 3-1-2-1 0 0-1-1 1 0 0-1-1 0 1-1 1-1 1 0-2-5 0-2-1-2 1-3 0-3-1-5 0-2 0-2 3-3-2 0 1-1-2-2 2-2 1-1 0 0 0-7-1-1 1-5 0-2-2-7 0 0-1-2 0-3 2-2 1 0 0 0 0-2-2-4 1-1-2 0 1-3 1-1 0-6 0-2 1-3-2 0 1-2-1 0 2-2-1 0 0-1 0-2-1-1 2 0-1-1 0-5-2-2 3-1-2 0 1-2 1-2-1 0 1-1-3 0 3-1-1-1 0 0 0-1 0 0-2 0 2-1-2-1 3-1 0-1-3-1 2 0 0-1 0 0 0 0 1-2-2 0-1-1 2-1 1-1-1-1 1-1-1-4-1-3 1 0-2 0 1-1 1 0-1-1-1 0 3 0-3-1 0-1 0 0 2 0-1 0 0-1-1-1 1-1 2-1 0 0 0 0-2-1 0 0 2 0 0 0-3-1 2 0-2 0 0 0 3-1-3 0 1-1-1 0 3 0-1-1-1 0 2-2-3 0 0 0 0 0 0-1 2-1-2-1 1 0 1-1 0-3 1 0-1 0 0 0 0-1-1-1 0 0 1 0 0-1 0 0-2-2 0-1 2 0-2-1 0-1 3-1 0-1-1 0 0 0 1-1 0 0-3-1 2 0 1-1-2-1 2 0-3 0 3-1-3 0 0-1 1-1 1 0 0-1-2 0 3 0-3 0 0-1 2 0 0-1-1-1 0 0-1-1 0 0 2 0 0-1 0-1 1 0-3-1 0-1 0 0 2-1-1-1 0 0 1-1 1-2-3-1 0 0 2 0-1 0 1-1 1 0-3 0 2-1-2-1 3-1-3-1 0-2 3-1-3-1 0 0 0 0 3-1-1-1-2 0 2-1-1 0 0-1-1-3 1 0 2-1-2-1 0 0 1 0-1 0-1-1 3 0 0-1-2-1-1 0 2-1-1 0 2 0 0-1-3 0 3-1-3 0 3-2-3-1 0 0 0-1 1 0 1 0-1-1 2-4 0 0-2 0 2 0-2-1-1-1 0-1 1 0 2 0 0-1-3 0 3-1 0 0-1 0-2 0 1-2 1 0 1 0-1-1 1 0 0 0-1-1 0 0-1-1 2-1-3 0 0 0 3-1-3 0 2 0-1 0-1 0 3-5-2 0-1-1 3 0 0-1 0 0-2-1-1-1 1 0 0-1 1 0-2-2 0 0 3 0-1-1 1-1 0 0-2 0 0-2 0 0 0-1-1-2 0-1 2 0-1-1 0-1-1 0 0-1 2-1 1 0 0-1-3 0 2-1-2 0 0-1 3-2-2-1 1-1-2 0 0 0 0-1 0-1 1 0 1-1-1 0-1-2 3 0-2-1 2 0-3-1 0 0 2-1-2 0 0-1 2 0-1-3-1 0 2 0-1-2 0 0-1-1 2 0-1-1-1 0 1 0-1-3 1-3 2-1-3 0 0-1 2-1 0-2 0-11 3 14-1 1 0 1 2 1-1 0 1 1 0 1-2 0 1 0 1 1 1 4-3 0 2 0 1 0-1 1-2 0 3 1-1 3 1 1 0 0-3 0 3 0-3 1 0 1 3 0 0 1 0 1-1 1-2 1 3 1-2 0 1 0 0 1-1 1-1 1 1 0-1 1 2 0 0 1 1 0-2 0 1 1 1 1-2 2-1 0 0 0 2 1-1 1-1 0 2 1 0 1-1 1 2 0-3 1 3 0-3 0 1 1 0 1 2 0-3 0 3 1-3 0 0 0 2 0-2 2 0 0 3 0-1 1-2 0 2 0-1 1 0 0 0 0-1 0 1 1 2 0 0 0-3 0 0 2 1 1 0 1 2 0-3 2 2 0-1 0 2 1 0 1 0 0-2 1 2 0-1 2-2 0 1 2-1 2 3 1-2 1 0 0-1 0 3 1-2 0 2 0-1 1 1 0 0 1 0 0-1 0 0 0-1 1 2 0-2 1 1 1-2 0 0 1 3 0-3 0 2 0 0 1 0 0-2 0 2 1 0 1-1 0 1 0 1 1 0 0-2 0 2 1-3 0 0 1 1 2 0 1 1 0-1 1 0 3 2 0-2 0 2 1-3 0 3 0-3 1 3 1 0 0-2 1 0 0 2 1-2 0 1 0 1 2-2 0 1 0-2 1 1 0 2 1-2 1 1 0 1 0-2 0 1 2 1 0 0 0-1 0-1 1-1 0 3 1-3 0 1 0 2 1 0 1-1 0 1 1-1 1 0 1-2 0 2 0-1 0 1 0 0 1-2 0 0 0 1 0 2 0-2 1 1 0 0 0-1 1 1 0 0 1 0 0 0 0 1 1-3 1 2 0-2 0 3 0 0 1-3 0 0 2 2 0-2 1 3 1-3 0 0 0 1 0-1 1 2 0 1 1-1 1 1 2-3 1 1 0 1 0-2 3 2 0-2 0 2 0 0 0 1 1 0 1-3 0 0 1 3 1-3 0 3 0 0 1-1 1 1 1-3 1 2 1-2 1 0 0 1 1 0 0-1 0 2 0 1 1-1 2-2 0 2 1 0 0-2 0 0 0 2 1-1 0 0 1-1 0 0 0 2 1 1 0-2 1 0 2-1 4 2 1 1 2-2 0 1 3-2 0 3 3-3 1 2 0 1 1-3 0 0 1 2 0 1 1 0 0-3 3 2 0 1 2-2 0-1 2 1 2 2 1-1 2-1 0 2 1-3 0 0 0 0 0 3 0-2 3 1 0-1 1 1 1-2 1 0 5 1 0 0 0 0 1 1 2-1 3 0 1 1 0 1 1 0 1-3 1 1 1-1 0 0 0 1 2-1 1 2 0 0 4 1 2-2 0-1 0 2 1 0 0-1 6-1 1 1 1 0 1 0 3-1 0 2 3 0 0-2 1 2 0 1 2-2 2 0 3 2 1 0 4-3 0 2 6 0 0-2 6 3 1-3 1 2 1 1 1-2 11-1 0 3 7-2 3 2 3-1 2-1 1 1 5-2 3 3 1-3 6 0 2 1 1 0 4 2 4-1 0 0 1-2 17 2 7-2 1 0 7 2 10 0 0-1 7 1 1-2-13 4-1 0-1 0-11 2-4-2-3 2-8-1-3-1 0 3-3 0-2-2-7 1-23-2-4 2-2 0-6 0-1 1-10-1-4 0 0-1-2 1-2-2-2 2 0-1-2 0 0 0 0 0-1 0-2-1 0 3-3-1 0-1-2-1-4 3 0-2-1-1-3 1 0 1-6 0 0 0-1-1-2 0-1 1 0 1-1-2-1 1-2 0 0 1-1-3-2 2-4 0 0-2-2 2-4 1 0 0-1 0 0-1-1-2-2 0-5 1 0 1 0 1-1-2-1 2-1-1 0-2-2 3 0-2-1-1 0 2-2-1-2 2-2-1-1 1 0 0-4-2 0 0-1 0-3 1 0-2-5 2-1-2-2 1-2 1 0 1-3-3-2 2 0-1-1 1 0 1 0-1-2-2 0 1 0 0-1 1-1-1-9 0-3 2-2 0-1-1-2 0 0-1-1 1 0-1 0 1-3-1 0 1 0-1-1 2 0-1-1 1-1-3 0 0-1 0-2 2-1 1-4-3-2 1-2-1 0 1 0 0-1 2-1-1 0-2 0 2 0-1-1 0-1 0 0 0 0 1-1-2-2 3 0-2-1 0 0-1-1 3-1 0 0-2 0 2 0-3-1 2 0-1 0 2 0-3-1 0 0 1 0 1 0 1 0 0-1-2-1-1-1 3-1 0 0-2-1 1 0-1-1-1 0 0 0 2-1-1 0 1-2-2-1 3 0-1 0 1-1-3-2 3 0 0 0-2-1-1 0 1-2-1-2 1 0 1 0 1-1-1 0 1 0-3-2 2-1-1 0 1 0-1-1 2-2-3 0 0-1 0 0 3 0-2-1 0-1-1-1 0-1 3-1 0 0-3-1 1-1 2-1 0 0-1-1 1 0-1 0-2-1 1-1 1 0 0-1-2-1 2 0 0-1 0 0 0 0-1 0 1-1 0 0-1 0 2-1-2 0 0-2 2-1-1-1-2-1 3 0 0-1-2 0 2-1-2 0 2-1 0 0-3 0 3-1-1-4-2-2 0-1 2-1 0-1 0 0 1 0 0 0 0 0 0-1-2 0 0 0 2 0 0-1-3-1 2 0-2-3 1-1 0-2 0 0-1 0 3 0 0-1-2 0 1-1-1 0 0 0 1 0-1-1 2-1-2 0 1-1-1-3 1 0 0-1-1-1 1-1-2-1 1-1-1 0 0 0 3-1 0-1-3 0 1 0-1-1 0 0 0 0 3-3-2-3-1-1 2 0 1 0-1-1-1-2 1-1-2-2 2 1 3 1 0 1 2 0-1 2 1 1-3 0 1 0-1 1 3 4-3 1 0 0 2 1 0 0-2 2 0 1 1 1-1 0 3 3-3 1 0 1 3 0-3 0 3 0-2 1 0 1 2 1 0 0-1 0-2 1 2 2 0 0 0 1 0 0-1 2 2 2 0 1-2 1 0 0 1 0-2 2 3 0-2 0 0 0 0 1 0 1 2 0 0 0 0 0-2 1 2 1 0 1-3 1 3 0 0 1-1 0-2 1 1 0 2 0-3 0 1 1-1 1 1 0 2 0 0 0-2 3 1 0 1 0-2 3 1 0-1 1 1 0-2 1 1 0-1 0 2 2 1 0-2 0 1 1-2 2 0 0 2 1-1 1 1 1-1 2 2 0-3 0 1 0 0 1 2 0 0 1-3 1 1 0 2 0 0 1-2 0 1 1 0 0 1 0-3 0 3 1 0 1-3 0 1 0 2 0-2 0 1 1 1 0-2 0 2 1-3 0 1 2 0 0 1 2 0 0-2 1 0 0 3 1 0 0-2 0 1 0 1 0-3 1 3 0-3 0 3 0-2 1 1 0 0 0-2 1 2 0 0 1 0 1 0 0 1 0-1 2-2 0 0 0 1 2 1 1 0 0-2 1 2 0 1 0-3 1 0 0 1 1 2 0-3 0 1 1 2 2 0 0 0 1-3 0 3 1-2 1 0 0 1 3-2 0 0 0 0 0 2 0-2 3 3 0-1 0-1 0 2 0-1 1 0 1-2 0 2 1 0 0-1 1 1 0-2 1 3 0 0 0-1 1 1 0-2 1-1 0 1 1 0 0 0 0 0 0-1 0 3 1-1 1 0 0 1 1 0 0-2 1 0 0 1 0-1 1 2 0-2 2 0 1 1 0-2 1 3 0-3 0 0 1 2 1 0 1 1 1 0 1-3 0 2 0-1 0 2 1-1 0-2 0 2 2 1 0-1 0-1 1 0 2 0 2-1 0 2 1-1 1 2 0 0 1-1 0-1 1 0 0 0 1-1 1 3 0-1 0 0 0 0 1 1 0-3 0 2 0-2 0 3 1-1 1-1 1 0 0-1 0 1 1 0 0 0 2 2 1-3 1 3 0-1 1 1 0 0 0 0 0-2 1 2 1-1 0-1 1 0 0 0 2 0 0 0 1-1 0 3 1-1 1 1 1 0 1-2 1 1 1-1 0 0 2 2 2 0 3-3 0 2 1 0 1 1 0-3 0 2 1-1 0-1 1 3 4 0 2-3 1 1 0 1 1 0 1-2 1 0 0 1 1-1 5 0 1 0 1 1 0 1 1-2 1 1 0 0 0 2 1-3 1 1 1 2 1-3 2 0 0 3 1-1 2-1 0-1 2 2 2-2 4 2 2 1 0-3 2 0 0 0 5 2 0-2 3 0 1 2 4-1 1 1 0-2 3 2 7-1 0 2 1 0 1 0 7 0 7 0 7 0 1-3 2 2 0 1 11-3 3 0 6 0 2 2 8-2 2 0 13 3 3-3 1 0 12 2 6-2 16 2 7-1 1 5-2 1-2-1-11 1-3 0-7 0-3-2-6 0-13-1-3 3-3-1-3 1 0-2-7 2-7-1-1 0-1-2-1 3-4 0-2 0-3 0-15-1-1 0-10 0-4 0-1-1-6 1-11 1-2-1-2-2 0 1-1-1 0 1-1 1-1-2-1 1-6 1 0 0-3-2 0 3-1-1 0-2-1 1-4-1-1 3-4-3-1 2-6-2-3 0 0 1-1 1-2 0-2-1-1-1 0 1 0-1 0 2-1-1-3 2-1-2-2 0-5 2-2-2 0 0-4 2 0-2 0-1-2 0-1 2 0 0 0 1-1 0 0-3-1 1-2 1 0-2-2 1 0 0-1 2-3-2 0 0-2 1 0 0 0 1 0 0-1-3 0 2 0 1-1-3-5 2-1 1-2-1 0 0 0-1-2 1 0 1-1-3 0 1 0-1-1 1-1 2-1-2-1 2-1-3-1 3-1-3-1 2 0 1 0-1 0-1-3 2 0 0 0-3-1 3-1 0 0-1-2 1-1-3-2 1 0 1 0 1 0-1-1-2 0 1 0 2-1 0 0-3-1 2-1 1 0-1-2 1-2-1-2 0 0 1-1-3-3 0 0 3-1 0-1-3-1 3-3-1-1 0-1-1 0 0-1-1 0 0-2 1 0 0 0 2-1 0 0-1-2-1 0 1-1-1-1 0 0 0-2-1 0 1 0 2-2-3-1 3-1 0 0-1 0 0-2 0 0-1 0 0 0 1 0-2-1 0-1 3 0 0 0-1 0 0-2-1 0 1-1 1-2-3 0 1 0 1-1 1 0-3-1 0-2 2-1 0-1-2-2 3 0-2-1 1-1-1 0 1 0-1-1 0 0 2-1 0 0-2-1 0-1-1 0 1-1 0-2-1 0 2-2-1 0 0-4 1-1-1 0 1 0 0-1 0-1 0-1-2-1 2-3 0-1 0 0-1-1 2 0 0-1-1 0 1 0-3 0 3-2 0 0-2-1 1-1 0 0-2 0 3-1-2 0 1-1 1-1-3 0 2 0-1-1-1-5 1-1 2-1-2 0-1 0 3 0-1-1 0 0-1 0 0 0 0-1 2 0-1 0-2-1 0 0 3 0 0 0-3-1 1 0-1 0 0-1 3 0-3 0 0 0 2-1 0-1 0 0 0-2-1 0-1-1 2 0-1-1 2 0-2-1 1 0-1-1 0 0 1 0-1-1 0 0 0-1-1 0 0-1 0 0 1-2-1 0 1-2 0-2-1 0 1-16-1 14 5 2 2 1 0 0-2 3-1 1 0 0 2 1-2 0 1 3-1 0 0 1 3 1-1 0 1 0-1 2 0 1-1 0 2 1 0 0-2 1-1 1 0 3 2 0-1 5 1 0 0 0 1 1-3 2 2 1 0 0 1 1 0 1-3 0 1 2-1 2 1 0 0 0-1 0 0 1 3 2-1 1 1 0-3 1 3 2-2 1 1 2 0 0 1 0-3 0 0 1 3 1-3 2 0 1 2 0 1 1-3 0 1 1 1 0 1 1-1 0-1 0 2 1-1 3 0 0 0 1-2 1 0 0 3 1-3 0 1 1 0 0 2 1-2 1 0 1 0 2 1 1-1 0 0 1 1 1-2 0 0 1 1 0 0 1 0 1 0 1-1 0 3 0-1 1 0 1 0 1 0 0-2 0 3 1-1 1 0 3-1 1 2 2-1 0-2 1 1 0 1 1-2 3 1 1 0 1 2 1-3 1 1 1-1 2 3 1-2 0-1 1 3 4-3 0 3 0-1 1-1 1 0 1 2 0-3 0 3 1-1 0 0 0-1 1-1 0 1 2 1 1-2 1 3 2 0 0 0 0-3 1 3 1-3 0 1 1 1 0 1 1-2 2 2 1-2 0 1 0 0 0 1 1-2 1 1 0-1 1-1 1 3 0 0 0-2 0 1 1 0 1-2 0 3 1-2 2 0 0-1 1 1 0 2 0 0 2 0 1-1 2 1 4 0 1 0 0-2 2 1 1-2 1 2 3-2 0 0 1 3 1 0 1-1 5-1 2-1 3 2 1-1 1 2 0-2 1-1 1 1 3-1 12 2 1-2 0 0 1 0 3 1 6 1 4 0 2-1 8 0 1-1 4 0 5 0 4 2 0 1 4-2 2-1 2 0 2 3 2 0 6-2 3 0 3-1 2 2 1-1 4 0 0 0 3 0 2-1 7 2 1-1 0 2 10-2 15 1 1 1 12-3 18 3 13-2 20 5-45 0-9-2-1 2-1 1-1-3 0 1-3-1-3 0-10 1-4 0-8 0-1 0-7 0-3 2-12 0-1-2 0 1 0 0-1-2-4 2-8-1-9-1-2 3-5-3-10 2-4-2-4 2-1 1-8 0 0-3-2 0-2 2-1 1 0 0-1-2 0 2-2-3-1 3-4 0-2-3-1 3 0-2-2-1-1 3-2-1-3-2-1 1-1 2-2-1-3 0 0 0-5-1-1-1 0 0-6 0 0 3-4-3 0 3-2-3 0 0-2 0 0 0-1 1-2-1-1 0-1 0-1 2-1 1-1-3 0 0-3 0-2 1 0 2-1-2-1 1 0-1-3-1-2 3 0-3-1 2 0-2-1 2 0 0 0 0-1 1 0-2-1 1 0-2-1 0-2 1 0-1 0 1-2-1 0 3-1-2-1 0 0 0-1-1 0 3 0-3 0 0 0 0-1 1-1 1 0-2 0 3 0-1-1-2 0 0 0 3-1-2 0-1-1 1-1 2-1-3-2 3 0-3-1 1-1 2 0 0-1-3 0 0-2 1-1 1 0-1-1 2 0-2 0 0-1 1-1 1-1-3 0 2 0 1-1-2 0 1-1-1-5-1-1 1 0 1-3 0-1-2 0 2 0-2-1 0 0 0-1 0 0 3-1-3 0 2 0-2-4 1 0 0-1 1-1 1-2-3 0 1 0 1 0 0-1 0 0 1 0-1-1 0 0 0-1-2 0 0-1 3-1-1 0 0-1 1-1-3 0 1-2 1-1-1 0 2 0 0-1-3 0 1-2 1-1 1-1 0 0 0 0-1 0-2-1 1 0-1-1 2-1-2 0 2 0 1 0-3 0 0-1 1-1 0 0 0 0 0 0-1 0 0-1 2-1-2 0 2 0-2-1 3 0 0 0-1-2 0 0-1-1 2-1-1 0 0-1-2-3 0 0 0 0 0-1 0 0 3-1-2-1 1 0 0 0 1 0 0-1-2 0 1 0-2-1 0-1 3-3-3 0 1-1 0 0 1 0-1-1-1-1 2-1 1-2-2 0 1-1-2 0 0-1 0 0 2-1 1-1-3 0 3 0-2-2 0-1-1 0 2 0-1-3 2-1-1-1 0-1 0-1-1-3 1-1 1 2 2 3 2 3-3 1 1 1 2 0-1 1 1 0 0 0 0 5-3 2 1 1 1 0 0 5 1 0-2 0-1 1 3 0-3 0 1 0 0 5 2 2-1 2 1 1-1 0-1 1-1 1 2 2-1 0 1 1-2 0 2 0-2 1 3 3-1 0-2 1 0 1 0 1 2 1-1 1 1 0 0 2-2 0 3 1-3 2 1 0 1 1 1 0-1 1-1 2 2 1-2 1 0 0 2 2-2 0 2 0-1 0-2 1 3 3-2 0 0 1-1 1 1 1 2 2-2 0 0 0 0 4 2 1-1 0-1 1-1 2 2 2 0 0 1 2 0 1-2 1 0 1 1 1 0 2-2 0 2 1-2 0 0 1 2 1 1 1-3 0 2 0-2 1 1 0 0 1 2 1-3 1 1 0 1 1-1 0 1 2-2 4 2 0-1 4-1 0 1 0 0 1-1 0 1 1-1 0 2 1-2 0 1 1 0 3 1 1 0 0-1 0 1 1-1 0 1 1-2 0 0 0 3 1-2 2-1 1 2 0 1 4-1 1 0 2-1 1-1 0 2 1-1 0 1 1 1 0 0 0-3 2 3 0-1 0-2 1 2 2 1 0 0 0 0 10-1 0 0 1-2 1 0 1 3 0-1 2 0 1 0 1-2 1 1 2 0 0 0 1 0 1-1 5 0 4 2 3-2 1 0 3 0 1 0 4 2 3-2 7 3 4-3 2 3 0-3 20 3 1-1 5-1 2-1 5 3 5 0 6-1 0 1 17-2 0 2 4-3 7 3 1-2 10-1 5 3 10-3 2 1 13 0 17 2 22-1 5-1-38 4-7 1-7 0-13-1-1 1-3 1-3-3-1 2-35 1-4-2-7 2-5-1-3 0-1 0-1-2-7 0-2 0-3 2-7-1-1 1-1-2-3 2-8-2-4 3-2 0-5-1-3-2-1 0-1 0-4 1 0 2-4-2-5 1-10-2 0 3-2-3 0 2-2-2 0 2-3-2-1 3 0-1-2 1-4 0-5 0-1 0-2-1-3-1-1-1-4 2-1 1 0-2-1 0-1-1-1 1-3 0-2-1-3 0-2 1-1-1 0 0-1 1-1 1-4-2-3 0 0 3-1-2-1-1 0 0-2 2 0 0-1-2 0 3-1-2 0-1-2 3 0 0-1-2-1 2-1-3 0 2-2-1 0 1-3 0 0 1 0-1-3 1 0 0-1-3-3 0-2 1 0 0 0 1-1-1 0 0 0-1 0 2-3-2-1 1 0 1 0 1-1-3-1 0-1 0 0 1-3 1-4-2-1 0 0 2-3-2-1 0-1 3-1-3 0 2 0-2 0 1-1 1 0 0-1-2 0 0-1 2-1-1 0-1-1 0-3 1 0 1-2-1 0 2-1-3-2 0-2 0 0 0-2 3-1 0-3-1-3-2-1 3-1-3 0 1-2 0 0-1-1 2 0-1 0-1-2 3 0-1-1 1 0 0 0-1-1-2-1 1 0-1 0 2-3 0-1 0 0-1-3-1-2 3-2-2-1 1 0-2-5 4 0 3 0-3 1 3 2-1 0-2 1 0 4 1 4 0 0 2 2 0 2-3 0 0 0 0 0 3 0-2 1 1 0 1 1-1 4 0 0-2 3 1 2 0 1 2 0-2 1 0 2 0 1 0 1 0 1-1 1 2 1 0 0-1 0 1 4 0 1 0 0 0 1 1 0 0 5-3 1 3 0 0 1-2 2 2 1-2 0-1 1 0 0 2 2-1 0-1 1 0 2 3 2-3 2 0 1 2 1 0 1-2 0 1 2 0 0 1 1 0 2-2 3 1 2 1 1-2 0 0 0 0 0 1 1-1 4 1 0 2 0-2 3-1 0 1 2 0 7-1 1 3 2-1 1-2 1 3 4 0 0-3 0 2 1-2 1 3 0-2 3 1 0-1 1 0 1 2 1 0 2 0 5-2 2 1 0-2 2 1 0 2 0-1 3 0 0 1 4 0 1 0 0 0 1-1 2 0 6-2 1 0 1 2 1 1 6-1 1 1 1 0 3-1 1-1 1 0 3 0 3 1 6-2 2 3 1-2 2 2 3-1 9-2 3 0 4 1 3-1 1 2 22 0 5 0 7-1 0 0 7 2 2-2 5-1 1 2 8 0 1 0 14-2 34 1 5 2 17 0 34-3-104 5-3 2-1-3-6 1-7 2-1-3-2 1-8-1-14 0-2 2-16 1-8-2 0 2-1-2-1-1 0 3-7 0-9-1 0 1-1-2-3 0-1 2-3-2-4 0-1-1-9 2 0-2-1 2 0-2-6 2 0-1-5 1 0-2-2 0-3 2-2 0-2 1 0 0-3 0-1 0 0-3-1 0 0 2-1-2-5 1-2 1 0 0-1 1-2 0-1-2-3-1 0 0-1 0-1 2-1-2 0 3-2-3-1 3-1 0-2 0 0-2-1-1-1 0-5 3-1 0-1-1-2 1-1-1-2 1-1-2-1 0-2 1-1-1-2 2-1-1-1 1-1-3 0 3-1-1-2 1 0 0-3 0-1-3-1 0-2 2-1-2-2 0-1 2 0-2-2 2 0 1 0-3 0 0-3 2 0 0-1-2-9 2-3 0 0 0-1 0-1 1-2-3-1 3 0-2-1-1-3 3 0-1 0-2-4 1-1 1-4 0-3-1-2 2-6-1 0-1-1 0-4-1-1 0-2 0-1 3 0-3 0 4 0 2 0-1 0 2 2-3 8 3 1-1 3 0 2-1 2 1 2-2 3 1 7 2 1-2 0 0 0 0 0 2 1-3 5 3 0-3 3 0 3 0 1 2 8-2 0 0 1 0 1 3 1-1 3 1 1-1 4-1 0 2 0-1 1 0 0-2 5 1 4 1 1-2 1 1 2 1 1 1 0-2 0 0 3 2 1-3 2 1 0 2 1-1 2 0 2 0 1 1 3-3 3 2 10 1 9 0 2-3 2 2 5-1 2 0 0 1 2-2 7 1 2-1 2 3 1-3 13 2 2-2 3 1 8 2 8-2 1-1 4 2 9 1 15-2 11 2 8-2 2 2 4-3 54 0 19 0 1 0 11 0 11 1 3 6-65-1-3 0-56 0-6-1-11 2-2-1-1-2-13 2-12 0-2 0-14 1-1-3-3 0-15 1 0 2-3 0 0-3 0 2-2 1-6 0-7-3-1 0 0 3-3-2 0 0-6 0 0 1-3 0-5 1-3-2-1 0-1 1-2 0-1-2 0 2-5-1-3 0-4 1-2 0-3 0 0-1-2-1 0 1-2 1-1 1-3-1-2-2 0 1-2 2 0-3 0 2-3 1-1-3-1 3 0-2-1 2-2-2-2 2-2 0-4-1-1-2 0 0-1 3-10-3-2 2 0 1-2 0-2-2-2 2-1-3-4 1-1 1-6-1-2-1 0 0 4 7 3-1 0 1 0-3 3 3 1-1 3 1 1-1 1-2 1 2 5-2 4 1 4 0 9 2 0-1 1-1 5 0 1 2 0-1 1-2 0 0 5 1 3-1 3 3 5 0 3-1 0 0 4 1 14-2 4 1 0 1 1 0 4-2 3 1 3 0 4 1 3-3 1 1 4-1 3 2 4-1 8 2 5-3 7 1 6-1 12 1 3 1 23-1 5-1 13 3 21 0 70 2-120-1-5 0-2 2-9-2-1 0-1 2-2-2-11 2-10 1-5-3-4 1-4-1-9 3-1-1-4 1-5-3-6 0-15 3-2-1-7-2-3 1-5 2 0-3-4 3 0-2-5 2-3 0-1-3-6 1-5-1-1 2-7-2-1 0-6 1-2 0-6 2 0 0-5-2-7 4 9 0 0-1 0 2 5-2 0 3 2-1 11 1 1-1 3 1 0-1 1 0 4 0 0-1 9 2 10-3 6 1 0 2 3-3 13 2 2-1 1 2 6 0 0-3 3 2 18 1 3-1 0-2 23 2 10 1 2-2 4 0 5 1 12-1 29 1 37-2 76 2 6-2-14 7-85-3-8 3-13-2-14 2-5-3-19 3-3-3-5 2-6 1-3-3-2 0-14 1-3 2-11-1-12 1-10 0 0-1-3-1-5 0-11 0-2-1-3 1-1-1-3 1-3 2-6-1-3 0-3-1-3-1-1 3-2-1-6-1-6 2-2-1-1-1-1-1-2 2-9-2-2 1-9 0" fill="none" style="marker:url(#mk0)"/>
<path d="m1747 1158-35 4 68-2 13 3 53 2-30 2-5 0-4-1-101 5 1-1 9 0 16-1 35 1 3 0 12 0 12 1 12-1 9 0 9 0 21-2 8 6-38 0-3 1-26-3-13 2-10 0-7-2 0 3-17-2-19-1-3 0-6 3-4-3-4 0-20 5 30 2 22-1 0 1 12 0 7-3 3 0 4 0 7 2 2 0 8 1 1-2 4 0 0 1 1 0 2 1 9-2 17 1 16-1 34 0-51 5-2 1-7 0-11-1-4 0-10-1-4-1-8 2-3 1-1-1 0-1-12 2 0 0-2-2-5 2-13 0-8-3-27 1 8 4 2 1 18-2 4 0 3 3 6-3 2 3 2-3 3 3 3 0 1-3 2 1 14 2 1-2 2 2 7-1 0 0 3 0 3 0 4 1 0 0 8-1 18 1 6-1 13 1 9-1 5 1 3-2 31 3-16 3-10 0-29-2-10 1-2-1-1 0-14 2-1-2-4-1 0 1-2-1-1 2-5-1-4 2-6 0-2-1-5 0-2 0-7 1-1-3-7 3-1-3 0 1-3 0 0 0-15 1-3 0 0-2-9 0-3 2-8-1-4-1-15 4 30 3 4-3 1 1 1-1 1 2 2-2 1 3 5 0 0 0 12-1 4-2 0 3 2-2 4-1 6 1 1-1 4 1 2 0 4-1 4 0 4 1 1-1 4 1 8 2 2-3 2 2 6-1 4 1 3 0 5 1 3-2 1 0 3-1 2 3 10-2 6-1 18 0-35 4-12 0-3 1-1 0-2 1-4-1-3 2-5-1 0 0-3 1-7 0-4-3-3 2-3 1-3-2-2 2-3-2-8 1-1-2-2 2 0-2-2 2 0 0-7 1-1-2-1-1 0 1-2 1-3 0-8-1-6-1-3 0-16 3-3-2-13 5 12 0 21 1 5-1 3-1 9-1 7 2 1 1 0-1 6-2 0 2 3-2 5 0 1 2 2 1 1-3 1 2 0-1 1 1 0-1 4-1 3 0 2 1 4-1 1 2 1-2 11 2 6-2 2 2 0-2 0 0 15 2 2-1 7 2 11 0 9-3-14 6-1-2-11 2-2-2-10 3-4-3-3 3-11-2-2 2-7 0-7-2-6 0-1-1-3 0-1 1-6-1 0 1-20 0-4 0-8 1-9-1-4-1-14 1-1 1-5-2-6 3-1-1 6 4 14 1 9-3 9 2 0-1 5 0 0-1 1 1 0 0 4-1 13 0 1 0 8 1 9 0 5 1 7-2 2 0 13 0 1 2 2 0 3 1 7-3 3 0 6 2 14 1 28-3-6 7-24-2-38 0-22-1-3 3-5-2-3-1-3 0-19 1-8 0-4 2-10-1-18 3 18-1 24 3 1-3 1 2 1-2 17 0 15 2 5-2 2 2 5-2 4 1 8-1 15 0 5 5-5 2-6 0-13-2-4 0-14 0-4-1-17 0-14 0-2 3-1 0-7-3-5 1-18-1-25 0 11 4 40 1 41-1 36 1-24 3-14 0-18 0-4 0-3 1-16-1-29 0-3 1-6 3 2 1 99 1-9 37-61-1" fill="none" style="marker:url(#mk1)"/>
<path d="m1767 1155 75 4-12-2-35 1-4-1-7 1-2 1-1-3-15 2-5 0-7 4 11 1 9 0 14-2 17 2 45 3-14-2-4 3-33 0-16-3-7 3-3-1-4-2-20 2-12 0-7 4 11-2 4 1 23 0 6 1 3 1 12-3 3 0 0 1 4 0 13-1 2 3 1-1 4 1 1 0 14-3 6 3 10-1 29 5-13-1-17-2-6 3-8-2-6 1-6 0-5 1-3-1-3 0-1-1-9-1-2 2-22 0-3 1-1 0-1-2-1 1-5 0-1-2-1 1-3 2-7-1-13 1-11-1-18 1-5 0-5 3 3-1 0 0 10-1 2 2 13-1 1 0 15 1 0-2 3 1 6-1 1 3 7 0 4-1 2-2 3 0 1 2 4 1 18-1 3 0 8 1 4-1 0 1 18-3 10 2 8 0 3 0 10-1 14 5-3-1-2 1-4 1-22-3-3 0-24 0-3 1-2 1-15-2 0 1-1-1-8 0-6 3-2 0-2 0-2-2-2 2 0 0-2-1-10-2-2 2-12-1-11 1-3 0-1-1-3 0-8 0-11 1-1-2-15 3 12 3 14-2 1 3 2-2 7 2 5-1 0-2 2 3 12-3 1 3 2-1 2-2 1 3 7-3 0 2 2-1 1 1 0 1 0-2 5 2 2-3 2 1 1 1 1 0 3-2 3 3 2-1 0-1 3 2 0-2 6 0 2 2 1 0 0-3 2 2 3-1 0-1 9 3 3-3 3 2 5-2 6 1 17 0 10-1 3 6-10-1-1 2-3-1-14-2-16 1-5 2-1 0-1 0-1-2-1-1-2 2-4-1-1 0-2 2-7 0 0-3-1 0-2 1 0 1-5-1-1 2-3-3-4 2 0 0-2-2-1 0 0 0 0 0-2 3-2 0-2-1-5-1-9 1-3-2-1 0-1 3-1-3-12 3-1 0-30-2-11 5 22 1 3-2 3 1 1-1 4 0 3-1 2 1 2 0 1 0 1 0 2 2 5-3 1 1 4 0 0 2 7-3 2 1 1 2 4 0 3-3 2 0 0 1 1 2 2-1 6-1 1-1 1 2 0-2 2 1 5 2 1-3 1 3 0 0 1-3 1 1 1 1 0-1 2-1 1 1 1 2 1 0 0-1 1-2 1 0 14 1 0 0 0 0 15-1 1 1 6 2 1-2 0 0 6 1 2 0 7 0 11-2 3 0 2 2 13 1-21 3-26 0-12 1-4-3 0 0-8 1-3 0-7 1-3 0-3-1-5 2 0-2 0 0-2-1-1 2 0 0-1-1-2 0-1 2-1-1 0 0-1 1-1-1-2-2-3 0-1 1 0 2-4-1-2 0-5-1 0 2-1-2-1 1-7 0-4 1-4-2 0 0-5 1-1-2-4 1-2-1 0 0-1 2-3-2-3 0-5 2 0 0-4-1-4 2 0-2-1 2-8-2-9-1 0 5 3 0 13 0 6-1 7 1 0-1 0 1 6 1 3 0 6 0 1 1 5-2 0-1 2 2 2-2 1 3 6-3 2 1 4 0 1-1 0 3 1 0 2-2 1 0 3-1 1 2 1-1 1 2 3-2 5-1 0 1 1 2 4-3 5 2 3 1 2 0 0-2 8 1 5-1 0-1 5 0 3 1 1 1 2-1 0 1 17 0 13-2 1 0 4 7-3-1-25-2-10 2-7-2-6 0-1 1-1 2-1-2-1 2-1 0-6-1-5 1-1-1-3-1-3-1 0 1-1-1-1 3-2-1-1-2-11 3-1-1 0-1 0 0-2-1 0 0-2 2-1-2-3 1 0 0-2-1-2 3-2-3-2 0-5 0 0 1-7 2-2 0-4 0-11-3-4 2-4-2-8 0-11 1-3 0 11 3 16 1 7 0 1-1 11 2 4-1 1 1 1-2 1 1 18 0 1 2 7-3 1 1 2 2 2-3 1 1 1 1 4-2 6 0 3 0 2 1 0 2 3-3 1 0 1 0 3 2 1 1 1-2 1 1 0-2 27 1 3 0-7 3-32 3-7-3-1 1-20 0-1 2 0-3-2 2-3-2-1 3-3-3 0 0-2 2-7 1-1-2-3-1-8 1-1 1-4-2-27 3-10 4 10 0 7-3 2 0 3 1 4 2 0-1 1-1 3-1 3 0 2 3 1-2 1 1 8 0 1 0 11 0 1 0 10-2 5 1 1-1 2 2 4 0 8-2 1 3 0-2 6 1 4-2 4 2 1 1 2-1 2-1 13-1 5 0 2 2 11-2-16 4-22 1-1 1-8-2-1 1-9 1 0-2-8 3-4-1 0 1-1-2-3-1-2 0-4 3-10-1-1 1-2 0-16-2-7 1-3-2-4 2-6-2-1 3-9-2-2 3 1 1 6 2 6 0 20-2 2 0 8-1 6 1 2-1 6 0 1 2 4 0 18 1 5-1 9 1 2 0 14 1-4 3-17-1-14 1-35 0 0-3-24 1-14 4 34 1 19-1 11 2 5-3 21 1 5 1 73 37-7 0-9 0-114-1-9 1" fill="none" style="marker:url(#mk2)"/>
<path d="m1790 1158-27 1 71 6-27 2-21 4 64 0 2 0 31 0-86 4-18-2-10 2-67 2 37-1 4 3 5 0 3 0 11-1 4 0 2 1 25-2 1 0 10 0 11 2 5-3 4 3 22 2-42 1-4-2-21 0-9 2-6-1-8 2-1-3-25 1-17 6 22-1 37-2 56 2-8 2-5 3-15 0-12-1-26-1-7-1-40 2-6 3 10-1 14 2 0 0 42-2 9 0 31 7-19-3-7 3-8-2-8 2-7 0-12-1-29 0-34 1-7-3 36 6 10-1 62 5-11-1-8 0-9 1-1-2-12 1-9 0-16-1-5 0-13 1-34 0 7 6 68-3 4 2 25 0 29 4-3 0-21 0-25 0-10 0-1 1-20-3-42 1 36 4 12 0 37 1 10-2 19 3 12 4-91-3-21 2-13 5 38-1 72 1-80 43" fill="none" style="marker:url(#mk3)"/>
<path d="m1747 1181 21 4 8 0 2-1 7 3-19 2-2 5 0 1 10-1 30 0-36 2-2 3-21-1-18 4 71-2-40 7-19 0-7-1 34 7 25 58-19 0" fill="none" style="marker:url(#mk4)"/>
<path d="m1770 1172 0 11-5 1 36 5-34 2-5-2 0 1-41 1 13 4 12-1 21 0 3-1 1 0 10 4-6 2-3-3-2 1-7 2-2-2-17 2-14-3-13 0 15 6 4 1 3-1 18-1-11 9 12 0 27-2-36 6-24 1 26 56-38-1" fill="none" style="marker:url(#mk5)"/>
<path d="m1726 1184 40 3 22 3-3 1-11-2-2 0-1 2-2-1-2-2-31 3 2 4 24-3 15 7-5-3-6 3-2-1 0-2 0 2-4 0 0-1-13 2-1-1-6 0-11 4 22-2 6 1 20 1 3 0 1-1 1 4-6 5 2-1-39 6 46 56-9-1" fill="none" style="marker:url(#mk6)"/>
<rect x="1652.9" y="885.2" width="387" height="387" fill="none" stroke="#7a7a7a" stroke-width="1.2"/>
<line x1="1652.9" y1="885.2" x2="1652.9" y2="1272.8" stroke="#222" stroke-width="1.4"/>
<line x1="1652.3" y1="1272.2" x2="2039.9" y2="1272.2" stroke="#222" stroke-width="1.4"/>
<path d="M1652.9 1272.2v11M1672.2 1272.2v4.6M1691.5 1272.2v4.6M1710.8 1272.2v4.6M1730.1 1272.2v11M1749.4 1272.2v4.6M1768.6 1272.2v4.6M1787.9 1272.2v4.6M1807.2 1272.2v11M1826.5 1272.2v4.6M1845.8 1272.2v4.6M1865.1 1272.2v4.6M1884.4 1272.2v11M1903.7 1272.2v4.6M1923 1272.2v4.6M1942.2 1272.2v4.6M1961.5 1272.2v11M1980.8 1272.2v4.6M2000.1 1272.2v4.6M2019.4 1272.2v4.6M2038.7 1272.2v11" stroke="#111" stroke-width="1.8"/>
<text x="1652.9" y="1303.2" font-size="18.6" text-anchor="middle">0</text>
<text x="1730.1" y="1303.2" font-size="18.6" text-anchor="middle">200K</text>
<text x="1807.2" y="1303.2" font-size="18.6" text-anchor="middle">400K</text>
<text x="1884.4" y="1303.2" font-size="18.6" text-anchor="middle">600K</text>
<text x="1961.5" y="1303.2" font-size="18.6" text-anchor="middle">800K</text>
<text x="2038.7" y="1303.2" font-size="18.6" text-anchor="middle">1.0M</text>
<text x="1846.4" y="1335.2" font-size="25.5" text-anchor="middle">FSC-A</text>
<text x="1846.4" y="875.7" font-size="29.4" text-anchor="middle">Microglia</text>
<text x="1634.9" y="894" font-size="18.6" text-anchor="end">10<tspan font-size="11" dy="-6.7">6</tspan></text>
<text x="1634.9" y="971" font-size="18.6" text-anchor="end">10<tspan font-size="11" dy="-6.7">5</tspan></text>
<text x="1634.9" y="1048" font-size="18.6" text-anchor="end">10<tspan font-size="11" dy="-6.7">4</tspan></text>
<text x="1634.9" y="1127.8" font-size="18.6" text-anchor="end">10<tspan font-size="11" dy="-6.7">3</tspan></text>
<text x="1634.9" y="1209.2" font-size="18.6" text-anchor="end">10<tspan font-size="11" dy="-6.7">2</tspan></text>
<text x="1634.5" y="1238.2" font-size="18.6" text-anchor="end">0</text>
<path d="M1641.9 886h11M1648.3 939.8h4.6M1648.3 926.3h4.6M1648.3 916.6h4.6M1646.9 909.2h6M1648.3 903.1h4.6M1648.3 897.9h4.6M1648.3 893.5h4.6M1648.3 889.5h4.6M1641.9 963h11M1648.3 1016.8h4.6M1648.3 1003.3h4.6M1648.3 993.6h4.6M1646.9 986.2h6M1648.3 980.1h4.6M1648.3 974.9h4.6M1648.3 970.5h4.6M1648.3 966.5h4.6M1641.9 1040h11M1648.3 1095.8h4.6M1648.3 1081.7h4.6M1648.3 1071.8h4.6M1646.9 1064h6M1648.3 1057.7h4.6M1648.3 1052.4h4.6M1648.3 1047.7h4.6M1648.3 1043.7h4.6M1641.9 1119.8h11M1648.3 1176.7h4.6M1648.3 1162.4h4.6M1648.3 1152.2h4.6M1646.9 1144.3h6M1648.3 1137.9h4.6M1648.3 1132.4h4.6M1648.3 1127.7h4.6M1648.3 1123.5h4.6M1641.9 1201.2h11M1648.3 1227.8h4.6M1648.3 1224h4.6M1648.3 1220.4h4.6M1648.3 1216.9h4.6M1648.3 1213.6h4.6M1648.3 1210.5h4.6M1648.3 1207.6h4.6M1648.3 1205h4.6M1648.3 1202.7h4.6M1645.9 1228.1h7M1645.9 1229.3h7M1645.9 1230.5h7M1645.9 1231.7h7M1645.9 1232.9h7M1645.9 1234.1h7M1641.9 1231.7h11M1648.3 1236.7h4.6M1648.3 1239.7h4.6M1648.3 1242.7h4.6M1648.3 1245.7h4.6M1648.3 1248.7h4.6M1648.3 1251.7h4.6M1648.3 1254.7h4.6M1648.3 1257.7h4.6M1648.3 1260.7h4.6M1641.9 1263.7h11" stroke="#111" stroke-width="1.8"/>
<text transform="translate(1587.3 1078.7) rotate(-90)" font-size="25.5" text-anchor="middle">mScarlet</text>
<rect x="1660.4" y="895.6" width="373.8" height="186.3" fill="none" stroke="#444" stroke-width="1.3"/>
<text x="2020.8" y="929.9" font-size="25" text-anchor="end" font-weight="bold">7.30%</text>
<path d="m328 1511-57 0-111 4 45 0 0 0 62 0 32-2 13 2 10 0 19 2-116-1-9 2-2-1-39-1-44 3-9 4 26-1 48-1 3 0 4 0 13-1 9 1 4 1 6-1 34-1 13 1 7-1 14 3 10-1 2-1 67 2 12-3 11 3 8-2 52 1-31 5-53-3-67 1-77 2-27-1-1-1-1 1-2-1 0 0-3 0 0-1 0 0-4 1-2 2-6-1 0-1-4 2-5 0-32-2-15 1-6 0-6-1-3 0 15 3 45 2 6-1 4 2 1 0 1-2 3 2 3-1 0 1 3-1 10-1 2-1 1 3 16-3 1 2 47-2 28 0 17 1 26 2 80-1 18 0 13-2 8 0-13 4-37 3-1-1-30 1-11 0-95 0-48-2 0 1-10 1-5 0-1-1-7-2-3 3-1-3 0 0-4 0-3 2-1-1-1-1-2 1-9 2-5-1 0-2-1 1-1 0-1 0 0 1-3-1-4 2-2-2-12 2-3-3-4 2-5 0-10 0-1-1-13 0-6 1 3 5 2-1 6-1 7 2 4-2 0 1 5-1 23 1 1 0 10-1 0 2 4-3 1 3 1 0 2-1 1 1 1-2 5 1 0 1 2-1 1-1 2 2 0 0 2-1 1 1 1-2 2 1 3 1 1-1 8 0 2-2 1 3 1-2 2 0 5-1 7 1 6-1 26 3 37-2 29 2 108-2 23-1-19 4-29 1-59 2-6-1-5-1-33-1-19 2-32 1-24-2-2-1-9 0-4 0-7 0 0 2-1-1-2 1-2-1-1 1-1 1-1-2 0 2-1-2-2 0 0 1-2-2-1 0-5 1-1 2 0 0-2-2 0 0-2 0-1-1-1 3 0-1-1-2-1 3-1-1-3-2-3 3 0-2-3 2-12-3-2 0-12 1-14-1 0 2-1 1-1-2-1 0-8 0-10 2 2 2 19-1 1 3 1 0 29-3 0 3 6-3 0 2 1-2 3 0 1 3 1-3 2 0 1 1 1 0 0 2 1-3 2 0 2 0 1 3 0-3 2 0 0 0 0 1 0 1 1 0 1-1 0-1 1 1 0 1 1-1 1-1 0 1 2 0 1 1 0-2 1 1 1 2 0-3 0 1 1 2 0-1 2 1 2-2 2 2 0 0 0-2 1-1 1 3 0-2 0 1 3-1 0 0 0-1 1 2 1-1 1 0 3 2 1 0 0-1 1 1 0 0 1-3 0 0 1 3 2-2 50 0 60 2 56 0 64 3-8 1-20-2-9 1-1 0-41-2-87 1-34 2-13-1-7-2-6 0 0 3-1 0-1-1-3 1-1-2-5 0-1 1-1-1 0-1-4 0-3 2 0-1-1-1-2 3-2-3 0 1 0 2 0-3-1 2-1-1-1-1 0 2-3-2 0 0 0 1-1 0-1-1-1 3-7-2-1-1 0 1 0-1-1 0-2 0-1 0 0 1-1 1-5 0-1-1-4-1-2 2-19-2-8 3-1-2-1 1-1 1-3-2 0-1-3 2 0-2-6 2-15 5 0-3 1 3 5-2 6 1 4 0 6-1 4 1 4 0 16-1 5-1 2 3 4-3 7 1 2 2 1-3 3 1 3 1 0 1 1-3 0 0 2 2 1-2 2 2 1-2 1 1 0 2 1-1 0 1 1 0 3-1 1 0 1 1 1-2 0-1 1 3 1 0 0 0 3-3 1 1 0 2 6-3 5 1 3 2 1-3 2 0 2 2 1 0 7-2 19 2 25-2 81 2 23-2 83 4-4 2-23 1-3-3-6 2-24-2-53 1-4 2-23-3-31 1-10 0-64 0-3 2-5-1 0-2-1 0 0 2 0-1-2 1 0 0-2 1-1 0 0-1-1-1 0-1-1 1-2 2 0-1-1-1 0 2-1-1-1 1 0-1-3 0-4-1-1-1-2 1-1-1-1 0-5 0-3 0-2 3-3 0-13-3-12 3-3-3-5 1-7 0-1 2-2 0-1-1 0-1-1 1-1-2 0 2-2 1 0-1-1-2-2 2-3 1-4 0-3 2 11-1 0 0 1 2 0-1 0 1 2 1 1 0 4 0 3-3 2 0 0 0 0 3 1 0 8 0 6-2 6-1 7 0 9 2 2 0 0 1 1-3 0 3 1-1 1 1 6 0 0-3 0 0 1 2 1 1 0-1 1 0 2-1 1-1 1 2 0 0 3-2 0 2 1 0 3 0 2-2 8 2 3 0 2-1 10 0 1 1 5 1 2-3 38 2 16-1 11 1 3-1 41 0 119 1 2 3-35 1-62 0-10-1-35-1-99 1-2 0-5-1-1 1-1 1-1-2 0 1-2 2-3-2-2-1-1 0 0 1-8-1-1 3-2-1-1-1-5 0 0 2-2-1-4 1-3-3-1 0-1 1-12 2-8-3 0 2-11-1 0 1-1-2-1 1-1 0-3 1-1 0-1 0-2-2 0 3-1 0-1 0-5-1-2-2-3 0 0 2-1-2-1 1-1 2-7-1-1 2 0 1 9 1 2 1 2-3 3 2 0 1 1-3 2 2 2 1 1 0 2-3 0 3 2-2 2 2 1 0 2-2 34 0 3-1 5 3 5 0 2-2 5 1 2-2 3 1 3 1 1 1 1 0 1-3 3 3 1-2 3-1 6 0 7 2 16-2 54 3 17-1 65-2 8 1 60-1 20 2 3 2-35 2-8 1-6-1-17 0-80-1-6 0-113 1-4 1-9-1-3-2-21 1-3-1-7 2-12-1-4 2-3-2 0 0 0 2-2-3 0 2-1-2-1 0 0 1-3 2-1-2-1-1 0 2 0 1-1-1 0-2-1 3 0-1-2 0-2-1-2 1 0 0 0 1-3-1-1-1-9 2 5 2 3 0 2 2 2-3 0 2 3 1 1-1 1 1 2-1 2-1 3 2 2-1 1 0 0-2 3 2 2-2 1 0 5 0 0 0 3 0 0 3 19-1 4 0 0 0 10-2 4 1 1 1 14 1 2 0 7-3 10 0 36 2 50 0 9-2 8 3 3-1 88 0 6-1 32-1 13 2 3 1 3 4 0 0-1 0-9-2-25 0-39-1-50 2-40 1-3-3-3 3-55-1-3-2-34 2-3-2-17 3-15-2-23 2-7-3-3 0-3 1-1 0-2 2-1-3-1 2-1 1-2-2-3 2-1-3-1 2 0 1 0-3-2 3 0 0 0-2-1-1 0 0-11 1 3 5 4-1 1 2 1-1 1-1 0-1 2 1 0-1 1 0 1 2 0-1 4 2 2-3 0 2 2 1 0 0 2-3 1 1 2 0 5 0 1 2 3-3 28 1 21-1 9 3 4-1 5 1 178-2 39 0 6 0 10 1 0 1 2-1 2 1 3-2 4 3-6 1-20 0-7-1-7 2-3 1-16 0-13-2-59-1-32 1-56 2-1-2-38-1-8 3-56-1 0 1-4-3 0 1-1-1-1 2-1-2-1 1-2 1-2 0-1-2-5 0 0 2-5 1 7 3 1 0 0-2 2 1 0 0 3 0 1-1 1 0 4 1 3-1 2 2 1-1 2 2 5-3 91 2 21-2 72 0 0 3 56-3 19 2 7 1 6-2 20 1 4-2 5 3 1-2 2 0 3-1 1 1 4 2 4-2 8-1 2 4-3 0-5 3-2 0-3-2 0 1-13-2-2 0-1 0-16 2-8 0 0 1-1-3-18 1-1 1-10 1-33-3-1 3-38 0-25 0-3-2-20 2-11-2-45 2-23-2-40 2-10-3-3 0-3 1-2 1-1 1 0 0-1-1-7 0 0 0-5 0-2-2-8 4 3 1 1 2 16-1 1 1 0 0 1-3 0 2 1 1 1-1 2-2 1 1 7 0 27 1 55 1 13-1 68 1 30-2 1 0 33 0 21 0 5-1 2 3 3-3 2 1 4 2 3-1 2-1 0 1 1-2 8 0 2 3 7-3 2 0 0 3 3 0 1-2 6-1 4 0 3 0 8 0 2 0 1 3 4-3 2 0 1 1 6 2-2 4-2-1-2 0-3 0-9 1-10-2-2 0-1 0-4 2-1-1-2 1-1-3-1 3-2-1-1 1-5-1-3-2-5 1-1 1-5-2-3 2-1-2-17 2-25-2-6 3-2 0-7-3-2 2-26-1-34-1-24 2-36-2-22 1-17-1-24 0-28 1-3 2-6 0-7-2-2 3 8 0 3 2 5-2 8 2 3-2 110 2 3 0 17 0 18 1 9-1 14 0 19-2 11 3 1-2 1 2 18-1 1 0 4-1 4 1 2 1 1-2 0 2 4 0 6-3 2 1 3 2 4-2 6 2 2-2 6 1 3 0 11-2 8 1 2-1 3 3 0 0 2-3 0 3 1-1 0 1 1-1 1-1 1 1 12-2 0 0 2 1 0 1 0-2 2 1 0 0 6 0 0 0 2 0 1 0 4 6-1-3-2 1-2-1 0 2-2-1 0 0-2 2-1 0 0 0-2-1 0 0-11-1-3 2-3 0-1-1-1-2-3 3-6-2-1 0 0 0 0 1-1-2-1 2-2 0-1 0-4-1-3 0 0 2-1-1 0 0 0-1 0-1-1 2-2 1-1 0-4-2-1 2-14 0-12-2-2 0-10 1-5-1-3 0-4 2-5-2-1 0-6-1-1 0-19 1-2-1-23 2-23-1-2 1-21-2-12 0-14 1-47 1-4 1-38-2-7 1-1-1-3-1-8 2-3-2-3 4 11 2 4-2 3 2 2 0 1 0 3-1 65-1 18 2 14 1 1-2 12 0 16 1 12 1 3-2 8-1 0 3 1 0 0 0 5 0 0 0 11-1 4 0 16 0 0 1 3-2 3-1 4 2 3-2 1 3 1 0 4-3 6 3 9-2 4 1 5-2 2 3 3-1 1-2 0 2 1-2 17 3 0-3 5 3 1-2 0 2 1-1 2 0 2-2 3 0 0 0 9 3 2 0 1 0 2-2 3 0 4 2 7 0 0-1 1-1 3 2 1 0 1-3 2 0 2 3 1-1 3-2 3 1 0 0 1 1 3-1 0-1 4 0 4 1 1-1 3 1 1 0 1-1 2 1-1 3-1 1-1 2-1-1-1-1 0-1-9 0-1 3-1-1 0-1 0-1-2 3-4 0 0 0-2 0 0 0-4-3-1 1-5 1-1 1-4 0 0 0-1 0 0-3-1 1-2-1-1 0-2 2-5 1 0 0-2 0-6-1-1-2-3 0 0 2-2-1-8 0-8 0-3 0-3 2-2-3 0 2-1 1-2 0-3-2 0 2 0-2-4 1-4 0-2 1-1 0-2-3-1 2-4 0-3-1-3 1-6-2-6 0 0 1-3 1-1-1-3-1-1 2-3 1-5 0 0-1-1-1-1 1-1 0-5 1-2-2-7 1-4 1-4-1-3 1-1-1-3 1-2 0-2-2-5 2-3-3-7 2-1 0-8-1-43 0-23-1-1 0-9 2-5-2-7 3-34 0-13-3 53 6 50-1 7 1 4-1 4 2 3-3 5 1 5-1 0 3 4-1 0 1 2-2 22-1 9 0 6 1 1-1 1 3 3-3 2 0 6 2 3 1 3-3 3 0 1 2 4 1 13 0 5-2 1 0 0-1 2 1 0 2 2-2 0 2 1 0 4 0 3-3 1 0 1 0 0 1 1 1 0 1 4-3 2 2 0 1 4-1 0-1 4 1 2 1 6-3 0 1 4-1 0 2 1 0 3 1 0 0 7 0 1-2 5-1 1 0 2 3 0-3 1 1 1 2 1-3 1 2 3-2 0 2 5-1 3 1 10-2 1 1 1 0 1 1 2-2 0 1 2 1 2-2 1 0 0 3 1-1 1-2 2 0 0 2 0 0 3 1 0-3 0 2 2 1 2 0 1-3 0 1 4-1 0 2 0-1 1 0 3 1 2-1 1 1 3-1-1 3 0 3 0 0-2-1-2 1 0-1 0-2-3 0 0 2-2-1-2 2-1 0 0-3-6 1-1 0-1 2 0-3-4 2-2 0-3 0-1 0-2-2-1 1 0 2-3-2-8 0-2-1-1 3-9-2-1 0 0 1-2 0-7 0-3 0-2-2-2 3-7-3 0 1 0 1-1 0-1-1-3 2-1-1-3-1-5 0-4-1-2 2-2 0-3 1-1-2-9-1 0 2 0-1-1-1-3 3-2-1-2 1 0-3-1 0 0 3-1-2-2 2-2-2-2 1-1-1-1 2-2 0-2-3-1 2 0 1 0 0 0 0-2-1-2-2-4 2-1 1-1-1-2-1-1 1 0-1-6 1 0-2-2 3-1-3-1 3-1-2-1-1-2 1-2-1 0 3-4-3-6 2-11-1-1 0-4 2-9-1-3 1-8 0-3 0-7-2-2 2-1 0-2 0-21 0-35-1-26-2-6 3-24 4 10-2 3-1 15 1 6 1 1 0 2 0 8 1 9-3 2 3 9-1 3-2 2 3 6-1 2 0 10 1 8 0 4-3 0 0 9 2 1-1 1 0 7-1 9 2 1 0 1 1 2-3 5 3 3-1 3 0 1-2 2 2 3 1 1-2 9 1 5-1 2-1 3 0 0 2 1-2 1 3 2 0 3-3 0 3 1-1 0 1 2-3 1 0 5 0 1 2 1 0 0 1 1-2 0 1 2 1 1-1 0 1 2-3 1 1 3 1 1 0 1 1 3 0 1 0 0-3 0 1 3 1 0 0 3 1 1-3 0 3 1-3 1 2 1-2 1 0 1 0 1 0 4 2 3 1 0 0 4-2 0 2 0-3 6 3 5-1 1-1 0 2 1-3 0 0 2 0 5 0 0 1 0 0 6 1 3 1 4 0 1 0 1-1 0 0 4-2 2 2 0-2 1 2 5 1 0-2 0-1 2 1 4 1 0 1 1 0 0-1 2-1 0 0 1-1 1 1 2-1 0 2 1-2 3 0 1 1 0 1 3-2 2 0 0 0 1 2 1-2 0 3 3-3 6 3 2-3 3 1 1 2 4-1 1-1 0 1 0-2 0 2 1 1 1-1 0 1 1 0 5-2 7 2 0 0 1-2 0 2 3-2 1 2 1-3 1 1 1 6-2 0-1-1-4 1-1-1-1 0-2 1-7 0 0 0-3-2 0 2-2-1-3-1-1 1-1-1-2 2 0-2-1-1-1 2-2-2-2 3 0-3-1 2 0 1-5 0-1 0-4 0-4 0 0 0 0-3-1 1-1 1-2-1-1 2-2-3-2 1 0 0-1 0-2 2-2-1 0 0-2 1 0-3 0 0-1 3 0-2 0 1 0-2-1 1-2 0-2 2 0 0 0-3-1 2-4-1-1 1-2-2-3 0-1 1 0-1-1 1 0 2-1 0-1-1-3 1 0-2-3 0 0 2-2-3-1 1-1 0 0 2-2 0-1-3-3 3-3-3-2 2 0-1-1 1-1-2 0 3-1-1-1-2 0 3-3 0-2-1-7 1-1 0 0-2 0-1 0 2-4 0 0-2-2 2-2 1-8-2-4 1-1-1 0 2-3-2 0 1-1-1-2 1 0-2-1 0-2 3-2-1-2-1-1 1-4 1-2-1-1 1 0-1 0-2-1 2 0 0-2 1 0-3-1 0-3 2-5-1-2 0-2 2-2-1-2 1 0 0-3-1 0 1-1-2-3-1-1 0 0 2-4 0-1 0-1-2-1 1-1-1 0 1-3-1-2 3-8-2-1-1-2 0-9 0-3 3-5 0-13-2-10 2-27-2-6 2-8-1-2-1-7 2-33 3 4-2 4 3 4-2 10 1 34 1 0-3 4 1 4 0 2-1 0 2 3 1 3 0 0-2 3-1 0 1 3 0 0 2 4 0 2-3 0 1 3 0 6 2 5-1 8 0 5-2 4 3 1-3 2 3 3 0 2-3 1 1 0 1 0-1 6 2 2-1 1 1 1 0 1-1 2 0 1-1 1 2 4-2 1 2 0-1 2-1 0 0 2 1 1-2 1 0 1 1 0-1 2 2 1 1 3-2 3 1 0-2 2 3 1-3 1 2 1 1 1 0 1-3 3 1 2 1 3-1 0 0 0-1 0 1 3 2 1-1 1-2 0 2 3 0 1-2 1 2 1 0 1 0 0-1 2 1 0 1 3-3 1 1 0-1 1 2 1-2 3 2 5-2 0 3 1-1 1-2 2 2 2 0 1 0 0 1 6-3 1 3 0 0 1-1 0-2 1 2 1-1 1 1 0 1 0-3 0 2 2-2 0 3 2-1 0-1 1 2 4-2 1 0 0-1 0 2 2-1 0-1 1 3 0-3 2 3 0-1 2-2 4 0 0 3 5-2 0-1 0 3 4-1 1-1 3-1 0 0 1 0 1 1 2 0 0 2 3-2 2 2 1 0 2 0 1-2 0 0 0 1 0 0 2-1 0 1 1 0 1 1 1-3 0 1 1-1 2 0 1 1 1-1 3 1 2 1 0-1 0-1 3 3 1-3 1 2 1-1 3 1 2 1 2 0 4 0 2-2 1-1 11 1 1 0 1 2 2-2 0 2 1-2 0 1 4-2 1 2 1 1 6 0 3-3 0 2 1 1 4-2 0 2 2 0 0 1-2 3 0-1-1 1-2 0 0-3-1 3 0-3-1 2-1-1-1 1 0-2-2 0-14 2 0 1-1-3-2 1-1 1-1 0-4 1 0-1-1 0-1 0-2-2-3 2-1 0-2 0-2 1-1-2 0-1 0 2-1-2 0 2 0-2-3 1-1-1-3 2 0-1-5-1-2 1-2 0-1 1-2 1 0-1 0 0-2 1-5 0-1-2 0 0 0 2-1 0-2-3 0 2-1-1-2-1 0 2 0 1-1-3-1 0-2 3-1-2-1 2-1-3-6 3-1-3-1 3-2-3 0 2-2-1 0 2 0-1-1-2 0 3 0-1-2-1-2-1 0 3-2-2-1 2-1-2 0 0-2 0-1-1-1 0-1 2-3-1-3 2 0-3-3 3-3-3 0 0-3 0 0 1-1 0 0 1 0-1-1 1-1-1-1 2-1-3-2 3 0-2-1 1-1-2-1 2-1 1-1-3 0 0-3 2-1-2-2 1-1 0-2 2-3 0-2-1 0 1-1 0-1 0-4-1 0-1-1 1-2 0-1 1 0-3-2 1 0 0-3 1-1 0-1 0-2-2 0 3 0-2-3 2 0-2 0 1-1-2-2 3-1 0-1 0 0-2-1 0-1 2-1-2-2-1 0 1-1 1-3 0 0-1 0-1-2 1 0 2-4 0-3-1-1 0 0 1 0-3-2 3-3-1 0 0-1 0 0-2-1 1 0-1-8 2 0 0-2-2-2 1-1-1-3 1-2-1-1 2 0 1-1-2 0 0-2 0-1 2-2-3-6 1-1 2-10-1 0-1-4-1 0 2-3 0-2-2-11 0-1 3 0 0-2 0-12-1-1-1 0 0-2 2-4-1 0 0-2-1-2-1-2 0-4 3-1-3-1 2-4 1-4 0-2-3-11 3-1-3 17 4 2 3 4 0 2 0 1-1 5 1 4 0 7-2 0 0 4-1 1 1 2 0 1 0 1-1 0 0 1 2 5 1 1-3 0 2 2 1 4 0 4 0 1-1 2 1 2-1 1 1 3-2 1-1 3 2 3 1 1-2 1 2 1-3 0 2 1 1 1 0 0-2 0 0 2-1 1 3 2 0 0-2 2 0 1-1 1 1 3 0 0 0 1 0 1-1 3 3 2-1 1 1 3 0 2-1 1-2 0 2 0 1 2-1 1-1 2 2 1 0 2 0 0 0 1-2 2 1 0-2 1 2 1 1 2-2 1 2 0-1 0-1 1 0 1 2 1-3 1 0 2 2 0-2 0 0 4 0 0 2 2 1 0-2 1 2 0-3 1 2 0 1 0-3 0 0 1 1 3-1 2 3 0-3 0 2 1 1 0-1 1 0 2-1 1 0 0-1 2 0 2 3 1 0 0-1 1-2 0 2 2 0 5-1 0 1 3 1 0-2 0 0 4 1 0 1 1-3 1 1 2 0 7-1 0 3 1-3 1 3 0 0 2-1 0 0 2 1 3 0 0 0 2-2 1-1 1 0 0 3 3-2 1 0 0 1 0 0 4-1 2 2 1-3 3 2 0-1 1-1 0 3 1-1 0-1 1 2 0-3 0 2 2-1 0 2 2-1 1-2 4 0 3 0 0 1 1 0 2-1 1 0 1 2 1-1 1 0 0 0 0 1 1-1 3 1 1 0 0-2 1 1 7 1 1-1 1 1 8-2 0 2 0 0 0-2 1 1 1 1 0 0 5 1 2-1 0-2 3 1 1 0 1 2 2 0 0-1 1 1 1 0 6-1 2 0 1-1 0 1 1-2 2 1 4 2 2 0 4 0 3-1 3-2 4 0 1 2 4 1 4-1 1 1 2-3 1 0 1 3 1-3-2 4-2 1 0 1-1-2-1 0 0 1-5 0-1 0 0-1-1 3-5-3-2 3-3-1-1 0-3 1 0-2 0-1-1 1-1 1-1 0 0-1-2 1-2 0-4-2-1 0-1 0-1 0-1 3-5 0 0-3-2 1 0 2 0 0-1-2-3-1-5 1-3 1-1-1-3 2 0-2-1 2-2-1 0-1-1 1 0 1-1-3-2 3-3-2-2 0-1-1-1 1 0 0-1 2-1-3-1 3 0-2-3 2-2-3-1 3-1-3 0 3-2 0-1 0-1 0-2-1-2 1-1 0 0-2-2 0 0 0-1 0 0 1-1-2 0 0-1 2-1 1 0-2-1-1 0 3-1-1 0-1 0 0 0 0-1-1 0 1-2 2-1-2 0-1 0 3-1-2-1 1-2 1 0-1-2 0-2 1 0-2-1 1-1 0-1 0-1 0-1 0-1 0-2 1 0 0-1-2 0 0-2 2-3 0-2-2 0 0-1 2 0-1-1-2 0 1-1 2-1-2 0 1 0 0-2 1 0-2-3 2-1-1-2 1 0-3-1 1-2 1-1 0 0 1-2 0 0 0 0-2-1 2-1-3 0 0-1 0 0 3 0 0-2-2-1 0-1-1-4 0 0 3-1 0 0 0-1-1-1-1 0 2 0-3-1 1-2 2 0-2-3 2-2 0 0 0-2 0-2-3-1 3-2 0 0 0 0-1-1 0-2 1 0 0 0-2-2 1 0 0-1 0 0-2-1 0-1 2-5-1 0 2-2-3-1 3 0-1-1-2 0 1 0 1-1-1-2 1-1 1-1 0 0-2-1 2 0-1-2-1-1 1 0 1-1-3-2 3 0 0-1-3 0 3-1 0 0-2-2-1-1 0-1 3-2-1 0-1-2-1 0 3-1-2 0-1-1 0-1 3-3-3-1 2-2 0 0-2-2 3-1-3 0 3-1 0 0 0-1 0-1-3-1 0-3 0-2 3-1-3-1 3 0-1-2-2-2 2 0-1-1 1 0-1-3 0-1 0-2-1-1 3-2-3-1 2 0-2-5 2-1 1-3-1-1-2 0 3-1-1 0 0-1-2-1 3-1-2-4 1 0 1-1-1-3-1-7 2-4-2-9 2-5 0-2 0-5-2-1 0-6 2-10 0-1-3-16 7 4-1 2-1 2 2 12 0 3 0 1-3 6 2 2 0 1-2 3 3 9-1 3-2 7 3 2-3 1 3 1-1 0-1 3 0 2 0 0 0 3 1 1-1 2-1 1 3 0-2 0 1 1 0 1 1 1 0 1-1 0-1 0 2 1-1 5-2 2 2 1-1 2 2 0-1 1 1 0-1 0-2 1 1 1 2 1 0 1-2 0-1 2 2 0-2 1 0 0 0 2 1 0 0 0 1 1-2 3 2 4-1 7 0 2 0 1 2 1-3 0 0 1 2 3-2 1 1 2-1 0 1 2 0 0 2 1 0 1-3 0 2 1 1 1-2 0 0 1 0 1-1 0 3 1 0 1 0 0-1 0-2 1 0 1 3 0 0 1-1 0-1 2 2 0-2 0-1 1 3 2-3 0 1 0 0 1 2 1-1 1 0 1-1 0 2 1-3 0 2 1-1 1-1 1 2 0 0 3 1 1-1 0-1 0 2 2 0 0 0 0 0 2-2 1-1 1 0 0 2 0 0 1 0 0-1 0 1 0-2 1 3 0 0 1 0 1-3 1 3 1-1 0-1 1 2 0-3 4 3 0-1 0-1 0 0 0 0 1 0 0 0 1-1 0 3 0-2 3 1 0 1 1-1 1 0 0 0 1-2 1 3 2-2 1-1 1 1 0-1 0 0 1 1 1 0 0 0 1 0 0-1 0 2 1-2 4 0 1 1 1 0 0 2 1-2 0 1 1 0 0 0 1-1 0 2 1-1 0 1 0 0 0-2 1-1 0 1 1 2 2-1 0-2 1 0 0 2 0-1 1 0 2 1 1 0 0-2 1 3 1 0 0-3 1 3 0 0 1-1 0 0 2 1 0-2 1 1 0-2 1 2 1-1 0 1 1 0 0-1 0 2 2-3 1 3 0 0 2-2 1 0 0 2 1 0 1 0 1 0 0 0 0-2 1 1 0 0 0-2 1 3 1-3 1 2 2 1 0 0 1-1 1 0 0 1 2 0 1-3 0 2 0 1 0-3 2 1 0 1 1 1 0 0 1 0 0-1 1-2 0 3 0 0 0-2 2-1 1 3 0-1 1 1 1-1 0 0 1-2 1 1 2 2 1-2 1 2 0 0 3 0 0-1 0 1 2-3 1 2 0-2 1 1 0 0 0 1 1 0 0-1 2 0 1 1 1 0 3 1 1-2 0 1 0 1 1 0 0-1 1-2 0 1 2 0 0 0 0 0 1-1 0 1 1 1 0 1 1 0 1 0 1-3 0 2 0-1 1 1 2-1 1 1 3-2 2 3 4-2 3 2 1-2 0 2 0-1 0 1 3-2 0 0 1-1 3 1 0 0 1 0 1 2 5 0 0-3 1 2 1-2 1 2 0-1 0 1 1 1 4-2 0 1 1 1 0 0 2-3 1 1 1-1 0 2 6-2 10 0 8 2 0-2 0 0 2 2 3 0 1 2-1 2-4 1-2-3-2 0-5 1-1 2-3-1-4-2-3 0-2 2-2-2-9 2 0-1-1 1-2 1 0-2-1 2 0-1-5 0-1-1 0 2-1-1-5-2-1 1 0 2-1-2-1 0-1 0-6-1-1 2 0 1-3-2 0-1-4 0 0 3 0-1-1-1-2 1-1 1-1-3-2 2-1 1-1-3-1 1-1 1 0 1 0-1-2-1-3 2-1-2 0 1-2 0-1 1 0 0-1 0-2-2 0 0-2 2 0-3-1 0-2 1 0 2-1-2-1 1-1-2-3 3-1-2-1 1-1-1-1 1-1 0-4 0 0 1-2-1 0-1-1-1-2 0-5 1 0 1-3-2 0 3-4-3-1 1 0 0-1-1-3 0-1 0-1 3 0-1 0 1-1-2 0-1 0 3 0-2-2-1-2 1 0-1 0 0 0 1-3 2-1-1 0 1 0-1-1-2 0 0 0 3-1-1-1-1-2-1-1 1 0 1-1-1-2 2 0 0 0-2 0-1 0 2 0-2 0 1-1 2-1-3-1 0-1 0 0 3 0-2 0 1-1 1 0-2 0 1-3 0-1-2-1 1 0 1-1 1-2-2-1 2-1 0 0-2-2 0-1 1 0-1 0-1-1 3-1-2 0-1 0 3-1-1-1 0 0-1-3 1 0-1 0 2-1-3 0 1-1-1-1 1 0 2-2 0-2-2 0 2-1-1 0 1 0-1-1-2 0 0-2 0-1 1-2 1-1-2-1 0 0 2-1-2-1 2 0 0 0 1-1-2 0-1-1 2 0-2 0 0-1 1 0 2-1-2 0 1-1-1-1-1-1 1-3-1 0 0-2 2 0 1-1-2 0-1 0 0-1 1-1 2-1 0 0-2-1 2-2-2 0 2 0 0-1-2 0 0 0 0-3 0-1 2-1-3-2 1-3 1-1-1-1 0 0 1 0-1 0 0-1 0-1-1 0 2-1-2-3 3 0 0 0 0-2 0 0-2-1 0-1 2 0-3-1 3 0-2-1 0-1 2 0-1 0-1-1 1-2-2-1 2-2-1 0 0 0 0 0 0 0-1-1 0 0 3-3-1 0-2-1 2-1 1-1-3-1 3 0-3-1 3-1-3 0 3 0-1-1-2 0 1-1 2-1-2-1-1-2 1-1 1-2 1-2-3-1 3-1 0-1 0-1 0-1 0-2-1-2 1-1-3-1 0 0 3-2-3-1 3-1 0-1-3-5 0 0 3-2-3-6 3 0 0 0 0-2 0 0-3-2 3-4-3-1 2 0 1-5-3-3 2-1-1-1 1-1 0-9-1 0 1-8-1-2 1-8 2 0 1 0 0 0 2 1-3 3 1 0 1 4-2 3 1 0-1 2 1 3 2 5-3 5 3 3 0 5 0 1-3 1 3 8 0 4-2 1-1 0 2 2 0 1-1 0 1 2 1 3-2 3 2 5 0 0-1 0 1 1-3 3 1 0 0 0 0 1 0 0 0 1 2 0-1 2 0 1 0 0-2 1 1 0 0 5 0 0-1 1 3 0 0 1 0 1-3 0 3 0 0 2-3 1 1 1 2 0-3 1 3 1 0 1-1 0 1 1-3 1 2 0-2 0 2 4-1 1 2 0-2 0 2 1-3 1 2 0 0 1 0 0-1 1 2 0-3 1 3 2 0 3-3 1 1 0 1 1-2 1 3 1-3 0 2 0 1 1-2 0 2 1-2 1-1 2 0 0 3 0 0 1 0 2-3 1 2 1 1 0-1 0 0 1 0 0 0 1-2 0 2 0 1 1 0 2 0 3-1 0-1 1 2 0-1 0-2 1 0 1 3 1-3 0 2 0-1 0 1 4-1 1 2 1-3 0 3 1 0 0 0 0-3 1 1 0 0 0-1 1 1 0 2 0 0 0-2 1 0 1-1 1 2 2-2 2 2 0-1 1 1 0 1 0-1 2 1 0-3 0 3 1-2 0 1 1-1 0-1 1 1 1-1 0 1 1-1 1 3 1-2 0 1 0 0 1 0 2 1 1-3 0 3 1 0 0-1 0 0 1 1 1 0 0-2 1 1 0 0 1 1 1-3 1 0 1 3 1-1 1-2 0 3 0-2 1 2 0-1 0-1 0 0 2 2 0-3 1 1 1 0 1 0 3-1 0 2 0 0 1-2 1 2 2 1 2-1 0-2 1 0 0 0 1 1 1 0 0 2 0-3 0 1 1 1 0 1 0-3 1 1 0 0 1 1 0 0 0 1 1-2 0 1 1 1 0-2 1-1 0 2 1-2 4 1 1 1 1 0 1 0 0-1 0 1 1 1 0-2 1 2 2-3 0 2 0-1 2 0 1 2 5-3 1 2 0-2 1 3 1 0 1-1 0-2 0 2 1 1 0-3 1 1 1 2 0-3 2 1 1-1 0 2 4 1 1-3 1 0 3 2 1-2 0 2 1 1 1 0 1-3 1 2 0 1 1 0 3 0 0-2 0-1 3 1 0-1 0 1 1 2 0-1 1-1 0-1 0 0 1 2 0 1 4 0 2-2 1 2 3 0 2-2 1 2 1-2 2-1 2 2 0 0 3-2 4 0 1 0 0 2 0 1 0-3 1 0 2 1 1 2 2-2 2-1 3 3 1 0 1-1 5-2 0 3 1-3 2 0 0 1 1-1 1 3 3-2 3-1 3 3 0-1 2-2 1 2 3-1 0 0 0 0 2 2 0-3 5 0 2 0 0 2 1 0 2 1 3 0 0 0 0-3 3 3 1-2 2-1 1 0 1 0 0 3 2-3 1 0 0 3 0-2 2-1 4 0-2 5-13 1-1 0-3-2-1 3-2-2 0 2 0-1-2 1-1-3-1 0-1 0-1 3-1-1-2-2-2 3-4-2-6 0-1 0-2 0-3 1-1-1 0 1-1-1-1 2 0-3-1 3-5-1-4 0 0 1-1-3 0 2-1 1-3-1-1 0 0 0-3 0-1-1-1 0-2 0-1 1-1 0-4 1-1-1 0 1 0 0-2-3-1 3 0-3-1 3 0 0-2-3 0 2-1-1-1-1-1 2 0 1-1 0-1-2-1 2-2-3-1 2 0-2-1 3-4-3-1 1-4-1-1 0-1 3 0 0-2-1-1 1 0-1-6-2-1 2-1 1-1-1-1 1 0-3-1 1 0 0-1 1-3-2-1 1 0 0-1 2-1-1-1 1-1-1-1-1-1 1 0-2-1 2 0-1-3-1-2 3-1-1 0 0 0 0-2 1-3-2-1 2-2-2 0-1-1 0 0 3-1-3 0 0-1 1 0 0 0 2-1-2 0 2-1-2 0 0-1-1-1 2-1-1 0-1-1 1-1 0 0 2 0-2-1 1 0-2-1 3 0-2-1 1-2-2 0 2-1 0 0-1-1 2 0 0-1-2 0 1-2 1 0-1-1-1-1 0 0-1-2 0 0 2-1-2 0 0 0 2-1 0 0-1 0 0-1-1-2 3-2 0-2 0 0-3 0 0-1 0-1 3 0 0-1 0 0-1 0 0-1-1-2 1 0 1 0-1-1 0-1 0 0 1-1-2 0 0 0 0-1 1 0-1 0 2-2-2-1 0-1 0 0-1-1 1-2 2 0-2 0 1 0 1-2 0 0-2-1-1 0 1 0-1 0 2-1-1-1-1 0 2-1-2 0 1-3 2-1-1-1 1 0-2-1 0 0 0 0 0-1-1-1 1-1-1 0 1-1 0 0-1-2 1 0 2 0 0-1-1 0-1 0-1-2 2 0-1 0 2-1-1 0-2 0 1 0 2-1-2-1 1 0 1 0-3 0 3-1 0 0-3 0 2 0 0-1-1-1 2-1-1 0 1 0-3-1 0 0 3-1 0 0 0-2-1 0 0-2 0-1-2-1 2 0 0-1-1 0 0 0 0-1 0 0 0-1 2-1-1 0-1 0 2 0 0-1-2 0 1-1-1-1-1 0 1-1 1-1 1-1-3 0 0-1 1 0 1 0-1 0 1-3 1-1 0-1 0-1 0-1-3-1 0 0 1-1 0-1-1-2 0-2 2 0 0-1-1 0 0 0-1-1 1-5 2 0 0-1-2 0 2 0-2-1 0-2 2-2-2 0-1 0 1-1 0 0 1-1-2 0 1 0 0-1 2 0-2-3 0-1 0-1 1 0-1-1-1-2 1 0 0-1 0 0 1-1-2 0 1 0 2-1-3-1 1 0 1-3-1 0-1 0 0-1 2-1 1-1-3 0 1-1-1-2 0 0 2-2-1-1 2-2 0-1 0 0 0-1-1 0 0 0 1-1-3 0 3-1-3 0 3-2-1 0 0-1 0 0-2-2 3-1-3-1 2-2 1 0 0 0-3-2 2-1 1-4-1-1 0-2-2 0 3 0-1-1-2-1 0-2 3-2 0-2-2-1 0 0-1-2 3-2-2-3 1-4-2-2 1 2 6 3-3 1 3 2-1 0 0 2 1 2-2 0-1 3 0 2 1 1 2 1-1 2 0 3-1 1 1 1 1 0-3 1 3 2 0 1-2 4 2 0-2 0-1 0 2 2 0 0 1 1-2 2-1 0 2 0 0 0 0 4-1 1 0 2 0 0 2 0-3 1 2 0-2 1 1 4-1 2 0 0 0 1 2 1 0 2-1 0 0 1 0 0 2 1 0 0-3 0 1 0 2 3-3 1 0 1 2 1-2 0 3 4-3 1 3 1 0 0 0 0 0 1-2 1 2 1 0 1 0 0-2 1 1 1-2 2 2 1-2 0 2 0 0 0 1 0-2 0 1 1 1 0-2 0-1 1 3 0-3 0 0 0 2 0 0 2 1 1-2 1 0 1-1 1 2 5-2 0 2 0-1 0 1 1-2 0 1 1 0 0 2 1-1 1-2 1 1 0 2 1-3 1 2 0-2 1 0 0 2 0 0 1 1 1 0 0-3 0 1 1 1 0-1 1 0 0 0 0-1 1 0 0 1 1-1 1 2 0-2 1 3 0-3 1 2 0 0 0-2 4 1 0-1 1 3 1-1 0-2 0 0 0 0 0 1 1 0 0 2 1-1 0 0 0 0 1 0 0-1 0 0 1 1 0 1 0-3 1 2 1-1 0 2 3 0 1-3 0 1 0-1 1 0 1 3 0-2 0 0 0 2 0 0 2-1 0-2 0 2 1 0 0-2 1 3 0 0 0-3 0 2 2 0 1-1 0 0 2 2 0 0 0-2 1 2 1 0 0-1 0 1 1-1 1 1 0-1 0-2 1 3 0-3 1 0 0 1 1 0 0 0 0 0 1 0 0-1 1 2 0 0 1-1 2 1 0 1 0-3 0 0 1 1 0-1 3 2 0 0 0 1 1-2 0-1 1 1 0 0 1 1 0-2 0 3 1 0 0-2 1-1 1 1 1-1 0 0 1 3 4-1 0-1 0 1 1-2 1 0 1 2 1-1 0 1 0-1 1 2 0-1 0-2 1 1 0-1 2 3 1 0 1-1 1 0 0 0 0-1 1 2 2-2 1-1 1 1 1 1 0-2 1 0 1 1 1 2 0-3 2 1 0 2 1-3 0 0 1 2 0 0 3 0 1 1 0-1 0-2 1 0 1 3 1-3 0 3 1-1 0 0 1 0 0 1 1-2 0 2 1 0 0-2 0 2 1 0 1 0 2-3 0 2 2-2 0 0 0 0 1 3 1-2 0 2 1-3 0 3 1 0 2-3 0 1 1 2 0-2 0 1 1-2 1 2 1-2 1 2 1 0 0-1 1-1 0 3 0-3 0 1 0 2 1-2 0-1 0 2 0 0 2-1 3 1 1 1 0 0 1-2 1-1 1 2 0 0 1 0 0 1 3 0 1-3 1 0 0 0 0 0 3 0 0 3 1-1 0-2 4 3 1-3 1 2 0 1 3-2 0 2 1 0 1-3 0 1 3 1 0 1 1-3 2 2 5 0 1 1 1-2 1 1 2 1 0 0 3 0 3-2 1-1 0 2 0-1 1 2 2-1 0-1 1-1 1 2 6-2 0 1 1-1 1 2 2 0 2 0 0 1 1-2 2 2 1 0 1-1 1 1 4-3 7 1 2 2 4 0 0-2 2 2 8-1 3 0 1 1 1 0 3-1 1 1 5-1 5 1 2-1-6 5-5-1-3-2-4 1-4-1-1 2-6-1-2-1-5 3 0-3-1 2-2-1-2 2-2 0-1-1-1-1 0 1-1 0-2 1 0-2 0 2-1-1 0-2-1 3 0-1-3 1-1-1-10 0-1-2-2 0 0 1-1-1-3 3-1 0-2-3 0 1-1-1 0 2-2 1-2-3-1 0 0 0-3 1-1 0-2 0-1 0-2 0-1 0 0 0-2 0 0-1-1 0-1 2-3-2 0 1-1 1 0-2-2 3-1-1-2-2 0 1-6 1-1 1-1 0-1-1-2 0-2-2 0 3-2-1 0-2 0 2-2-2 0 0 0 1-1 1-1 1 0-1-1-1 0 2-1 0 0 0 0-2-1-1 0 1-2 2 0-3 0 1-1 1-1-2 0 3-1 0-1 0-1-3-2 2 0-1 0 2 0-2 0 0-1 1-1 0-1 1-1-3 0 2-1 0 0-2-2 3-1-3 0 2-1 0 0-1-1-1-1 2-1 0-1 0 0 0-2 0-1 1 0-1 0 1-1-1 0-2 0 0-1 2 0 0-1 0-1-1 0 1-1 1-2-3 0 2-1 0 0 1-2-1-1 1-1-2 0 2-1 0-1-1 0 1-1-1-1 1 0-3-1 0 0 0 0 0 0 3-1-2 0-1-1 2 0 0-3-1 0-1 0 3 0 0-1-2-1 1 0 1 0-2-1 2 0-2-3 0 0 1-1-1-1 0-1 2-2-1 0 1 0 0-1-2 0 1-1-1 0 1 0 0 0 0-1 1-2-2-1 0-1 0-1-1 0 3-1-1 0-1 0 0-1-1 0 1-1-1-1 2-1-1 0-1-1 1-2-1 0 2 0 1 0-2-1 0 0 0 0 1-1-1-1 1 0 0 0 0-1-2-1 3 0 0-1-3-1 2 0-2-1 2-1 1 0-3-1 1-2 1 0-2-3 2 0 1 0-1-1 1 0-1-1 0-1 1-1-3-2 0 0 0 0 2-1 0 0 0-1 0-1-2 0 3-2 0 0 0-1-1 0 0-1-2 0 0-1 3-1-2 0 1 0 0-1 1-1 0 0 0-2-3 0 1-2 0-1 2-1-3 0 3-3-1-1 0-2 0 0-1-2 0 0 0 0 2-3-2-1 0 0-1 0 0 0 1-1-1 0 3-1-3 0 3 0 0-1-3 0 1 0-1 0 0-1 1 0 0 0 0-2 2 0-2 0 2-2-2 0-1 0 0-1 2-1 0 0-2 0 0-1 1 0-1-1 0 0 1 0 1-1-1 0 2-1 0 0-3 0 3-1-1 0-2 0 2 0 0 0 0-1-2-2 0 0 0 0 3-2-1 0-2 0 1-1-1-1 1-1 2-1 0-2-2-1 2-2-2-2 2-1 0 0-2 0 1-1 1 0-1 0 1-1-3 0 0-1 3 0-3-1 0 0 3 0-2 0 2-1-1-1 0 0 1-1 0-1-2-1-1 0 0-1 1 0 1 0 1-1-3 0 2-2-1 0-1-3 3 0-2-1-1-1 2-2 0-1 0-1-2 0 0-1 3 0-1-1 0-2 0 0 1 0-1-1 0 0 0-1-1 0 1 0-1 0 0 0 2-2-1 0 0-1 0-4-1-3 2 0-1-2-2-1 1 0 0-1 0-1-1-1 2 0 1-1-2 0 2-2-3-1 0-2 3 0-1-1 1-1-2 0 1-1 0-8 1 0-3-1 2 0-2-1 1-2 4 1 1 0-2 0 2 2-2 0 1 1 1 0-1 1 1 0 1 1-1 4-2 0 1 1 1 2 0 0-1 0-1 1 3 1 0 0 0 1 0 1-2 0 1 2 0 1 1 3-1 1 0 0 0 2-2 1 0 0 1 1 1 1 1 1-2 1 1 1 1 0 0 1-1 0-2 0 2 2-2 3 0 2 0 1 0 0 3 2-3 0 2 1-2 1 1 1 2 0-3 2 2 1 1 0-2 1 0 1 1 2 0 0 1 1 0 0-1 1-2 2 1 0 0 2 0 1 2 0-2 1-1 1 1 0-1 0 1 2 0 0-1 1 1 1-1 0 3 1-2 1-1 0 3 1-2 0-1 0 2 1-2 1 2 1-1 0 1 0-1 1 2 1-1 1-2 3 1 0 0 1 2 1-3 1 3 1-2 1 1 0 1 0-3 1 1 0-1 2 1 0 0 0 1 0-1 1 2 0 0 0 0 1 0 1-3 0 1 2 1 0 1 1-1 1-1 0 0 1 2 2-3 2 3 0 0 0-2 1 1 1-1 0-1 0 2 1 1 0-3 0 0 2 3 1 0 2-1 0 0 2 0 1 0 0-2 1 3 0 0 1-1 2 1 1-1 0 0 1 0 0-2 0 3 2-1 0 1 0-3 1 0 0 0 2 0 2 2 0-1 0 2 1-2 0 0 0 0 1 1 1 1 0 0 1-3 0 3 0-3 0 3 1-1 0 0 1-1 0 2 0-3 2 0 0 2 0-1 1 1 0 0 1-2 0 0 0 2 1 0 0-2 2 0 0 3 0-2 1-1 0 1 0 0 1 1 1-1 0-1 2 2 1 1 0 0 1 0 0 0 3-2 2-1 0 3 0-1 0 1 1-2 0-1 1 3 1 0 0-3 1 2 0 1 1-1 0-1 0 1 3 0 1 1 0 0 1-2 1 0 0 2 0-1 0 1 1-1 0 1 0-1 1 1 1-3 1 2 2-2 0 2 1 1 0 0 1-1 1 1 1 0 0-3 0 0 0 0 1 2 0 0 0-1 1 2 1-1 0 0 2 1 1 0 0-1 2 1 2-2 0 2 1-3 1 2 0 1 0-3 0 2 1-1 1 2 0 0 1-1 0-2 0 0 1 1 0 0 0-1 1 0 1 0 1 1 0 1 0-2 1 2 0-1 1 1 0 0 0-1 0 1 0-1 1 2 0 0 0-1 1-2 0 0 1 2 0-2 1 2 0-1 0-1 0 1 2 0 0 0 1 2 2-1 1-2 1 1 1 1 0-1 0 2 0-2 2 0 0 1 1-1 1 1 1-2 0 0 0 0 0 0 1 0 1 1 0-1 1 1 3 0 1 1 0-1 0 2 1-1 0 0 1-1 1 1 1 1 1-3 2 1 0 2 1-3 1 3 0-3 0 0 4 0 0 1 1 1 1 1 2-2 0-1 1 1 2 0 0 1 0 0 1 0 0 0 1-2 2 3 2-2 1 2 0-2 9 2 1-2 2 1 0-2 4 1 0 0 0 2 0-2 2 0 2 0 1-1 0 3 0-2 1 2 1 0 2-1 0-1 1 2 1 0 1-2 1 0 0 1 2-1 0-1 1 3 1-3 5 0 2 0 3 1 6 1 0 1 0-1 1-1 0 1 3-2 1 2 0 0 1-2 2 3 1-1 1 1 0 0 26-1 1 0 3-2 2 0 3 3 3 0 7 2-6-1-2 1 0 1-2 0-4-1-7 2-9-1-1 0-18-2-3 3-3-2-2 1 0 0-2 1-4-2 0 0-2-1-2 2-2-2-2 1-1 1-3-2-2 2-1 0-2 0-3-2-1 2-3-2-2 0-2 0-3 1-1-1-1 3-3-1-4-2 0 3-3 0 0 0-4-3-5 2-1-1 0 1-1 1 0-2-1 1-2 0-2-2-2 1-1-1-1 3 0-3-2 3-1 0-4-3-1 1-1-1-1 0 0 0-2 0-1 1 0 0 0 0 0-1-1 3-1-1-1-2-2 3 0-2-1 2-2-1 0-2-2 3 0-1 0-2 0 0 0 3-2-3 0 0 0 0 0 3-2-1 0 0 0 0 0-2-1 3 0-1-1 0-1 0 0 0 0-1-1 1-2-2 0 3-1-3-1 0 0 0-1 0 0 1-1 2 0-3-1 2-1 1-2-2 0 1-2-1-1 0 0 2 0-2 0 0-1 2 0 0-1-2-1 2-1 0 0-2-1 2-1-3-1 3 0-3 0 3-2-2 0 1-1-2-1 0 0 0 0 0-1 0-1 3 0-1-2 0 0 0 0-2-1 1 0 1-1-2-1 1-3-1-1 0-1 3 0-1 0 1-1-3-1 3 0-3-2 1 0-1-1 1 0 1 0 1-2-3 0 2-1 1 0 0-1-1 0-2 0 1 0 0 0 0-1 1-1-2-1 0-1 1 0 0 0-1 0 3 0-2-1 0 0 0-1-1 0 1 0 1 0 1-1-2 0-1 0 1 0 2-1-2 0-1 0 1-2 0 0 1 0-1-1 1 0 1 0-1 0 0-4 0-1 0 0-1-1 1 0 1 0-2 0-1 0 1 0-1-1 3-1 0-1-1-1 1 0 0-1-2 0 2 0-3-1 0 0 3 0-2-1 2-1-2-2-1-1 1 0 2-1-1 0-1 0 0-1 1 0 0-1-2-1 1-1 0-2 2-2-3 0 2-1-1-1 2 0-3-1 0 0 0 0 2-1-1 0 2-1-1-1 0 0-1 0 1-1-1-1-1 0 1-1 2 0-1 0-1-1 0-2 1 0-2 0 2-1 1-1-2 0 1-1-2-2 2 0 1-1-1 0-1 0 1 0-1-1 0 0 2 0 0 0 0-1-3 0 3-1-2 0 2 0-2 0 1-2-1-1 2-1-1-1 1 0-1 0 0-1-2-1 0-1 2 0 0 0 1 0 0 0 0-1 0-4 0 0-3-2 2 0-2-1 2-1 1-1-3-1 2-1 0-2-1-1-1-1 0 0 2 0 0 0 1-1-1 0 0 0-1-1 1 0 0 0-2-3 1 0 1 0 1-3-2-1-1 0 1 0-1-3 3 0 0 0-3-1 2-1 1 0-3 0 3-2 0 0-1-1-2 0 1 0 1-1-2 0 2-1-1 0 1-2-1-1 1 0 0 0 1-1 0 0-1-2-1-2 1-1 1-1-3 0 2-1 0-1-2 0 1 0 0 0 2-1 0 0-2-2-1 0 0-5 1 0 1-1-1-2 0-1-1-1 2 0-2-2 3-2-3-3 0-2 2-2-2-1 3 0-1-4-2-16 3 4 1 5 2 6 1 1 0 1-3 2 1 0-1 0 2 1 0 0-2 2 3 2-3 0 1 1 1 2 1 3-2 0-1 5 0 0 2 1-1 0 0 0 2 1 0 1-3 2 1 2 2 0-3 0 1 0 2 0-1 1 1 1 0 1-1 2 0 0-1 1 1 0 1 0-2 1 1 0 0 0-2 0 3 1-3 5 3 1-3 0 1 1 0 0-1 0 0 1 1 0-1 1 3 2-3 0 0 0 2 1-2 1 2 0-1 1 2 0-2 1-1 3 3 0-3 0 0 1 3 0-2 0 2 1-1 0 0 1-1 1 2 0-3 1 2 0 1 1-3 0 2 0-1 1-1 0 3 0-1 0-1 1-1 2 3 0-1 0-1 1 2 1-2 0-1 1 3 0-2 0-1 1 3 0-1 1 1 0-2 3 0 0 0 0 2 1-1 0-1 0 1 1 0 0-1 2-1 1 0 0 0 0 3 1-2 1 0 1 0 0 2 0-2 1 1 1-1 1 0 1 2 0-3 1 2 2 0 1-1 0 1 1-1 0 2 0-1 1-1 0 1 1-1 0 1 2-2 0 2 0-1 1 1 1 1 0-1 1 0 1-2 0 0 0 1 1 0 1-1 0 1 1 0 1 2 0-2 0 2 1-1 0 0 2 1 0-2 2-1 0 2 1-1 0-1 0 2 1 0 0-1 0 1 1-1 0 2 1-3 1 3 0 0 0-3 0 1 1-1 0 0 0 1 1 0 1 0 0 2 1-1 1 0 0 1 1-1 0 0 0 1 1-1 0 1 0-2 2-1 1 2 0 1 1 0 0-2 1 1 1 0 1-1 0 0 1 1 0-2 1 0 2 2 2 1 0-3 1 0 0 2 1 0 0 1 0 0 0 0 2-1 0 0 1-1 0 0 2-1 0 1 1-1 0 1 0 0 0 2 1 0 0-3 0 3 1-1 1-1 0 2 1-2 0 1 2-2 1 3 0-2 0 2 0-2 1 2 1-3 0 3 1 0 1-3 0 3 0-3 0 2 1-1 0 2 1 0 0 0 0-1 0 0 0-2 1 0 2 2 2 1 1-1 0-1 0 0 2 2 0 0 0-3 0 3 0-2 0 2 1-3 0 2 0 1 0-2 0-1 1 0 0 2 1 1 0-1 1 0 0 1 0-2 0-1 1 3 1-1 0-1 1 2 1-3 0 0 2 1 0 2 0-2 0 1 0 0 1 1 1-3 0 1 0 0 2-1 0 0 0 1 1 1 0 0 2 0 0-1 3-1 0 2 2-2 1 2 1 0 1-2 0 1 1 1 0-1 0 2 0-2 0 0 0 1 1 0 2-1 2 2 2-2 0 1 2-2 1 0 0 3 1 0 0-2 2-1 2 3 1 0 0 0 0-1 0 0 1 0 1 0 1 0 2-1 0 0 3 2 1-2 1 1 1-2 0 1 2 0 2 2 0 0 2-2 0 0 1 1 1-2 1 2 1-2 1 2 0-1 1 2 1-2 1-1 1 0 12 0 0 2 3 1 1 0 6-2 3 1 1-2 3 1 1 0 1 0 4 1 4-1 2 1 6-2 6 0 0 1 2-1 9 2 3-2 15 2 5 0 17 1 2-3 2 0 2 3 7 4-10-1-8 1-2-3-5 3-6-3-1 1-3 1 0-1-24 2-1-2 0-1-8 2-5 0 0-1-3 1-2-2-1 1-9 2 0-3-2 2-6 1 0-3-6 1-5 0-1-1-2 3-2-2-5 0 0-1 0 3 0-1-1-2-1 3 0-2-2-1-1 1-2 2-4-2-2-1-2 1-1 0-4 1-2 0 0-1 0 0-2-1-1 3-1-1 0 1 0-2-3 0 0 2-3-2 0 0 0 0-3 1 0 0 0 1-2 0-1 0 0-1-3-1-1 0 0 1 0 0-1 1-2-1 0 0-2 1-1 0 0-2-1 2 0 0 0-3-1 3-2 0 0 0-1 0-1-2-1 1-3-1-1 2-2-1 0-2-1 0 0 3 0-2-1 0 0 1 0 1 0-1 0 0-1-2 0 2-1-2-1 0-1 1-1 0 0 1-1-2 0 1-2 1-1-2 0 0-1 1 0 2-1 0-2-3 0 1 0 0-1 0 0 1-1-2 0 1-1 2 0-1 0 0-1 0-1-1 0 2-1-2 0-1-3 3 0 0-1-3-1 1 0 0 0 0 0-1-1 3 0-3 0 0-1 3 0-3 0 1-1 2 0-1-1-2 0 1-1-1-1 1 0 0 0 0 0 0-1-1-2 0 0 3 0-2-1 0 0 0-2 0-1-1-1 2 0 1 0-2-3 1 0-2-1 3 0 0-1-3 0 2 0-1 0 0 0 0-1 0-1-1-3 3 0-1-2 1 0-2 0 2-1-3-2 1-2 0 0 1 0-1-1-1-1 3 0-2-1 1 0 0-1 1 0 0 0-3 0 0 0 3-2 0-1-2-1 1-1 1-1-1-2-1 0 1-1-1 0 1 0 0-1-2 0 1 0 2-1 0 0-3 0 3-1 0-1-2 0 1-1-2-1 3-1-3-2 1 0 1 0-2 0 1-1 1 0-1 0-1 0 0-1 0 0 2-2-2-1 3 0-1-2-2-1 2 0-2-1 3 0-2 0 2-1-3 0 2-2 0-1 1 0-3 0 1-1 0-2 1-1 1 0-3 0 2-1-1 0 1 0 0-1-2-2 3-1 0 0-3-1 1 0 0 0 2-1-2 0-1-1 0-1 0 0 3-1-2 0 0 0-1 0 2-1-2-1 2 0 1 0-2-1-1 0 1-1 1-1-1 0 2 0-1 0-2-1 2 0 0-1-2 0 1 0 2 0-3 0 1-1 1 0 1-1-1 0-2-1 2 0 0 0-1 0-1 0 1-1 0-1-1-1 2 0 0-1 1 0 0 0-1-1-1-2-1 0 1-2 2 0 0 0-2-2 2-1-2 0 2 0-3-2 1-1 1 0-2 0 1-1 1 0-2-2 2 0-2-1 2-2 1 0-3 0 1-2 1-3 0 0-1-1-1 0 0-2 3 0-2-1-1 0 1-2 0 0 1 0-2-1 2-2-2-1 2 0 1 0-3-1 1-1 0 0 0-2 2 0-1 0-2-2 0 0 1-1-1-2 1-1 0 0 0-2 0 0 1-1 0 0 1 0-1-1 1 1 2 1-1 0 3 0-2 1 2 2-1 0-2 1 2 1 0 1-2 0 1 0 2 1 0 1-1 4-2 0 1 1 0 1 1 0-1 0-1 6 3 1 0 0-2 0-1 1 0 0 1 2 2 0-3 0 3 1 0 2-2 0-1 0 1 1 1 2 0 0-1 2 1 2 1 1 0 0-3 0 3 1-3 0 2 0-1 1-1 2 0 0 1 1 0 1 1 0-2 1 2 0-2 0 0 0 1 0 1 1-1 0 2 0 0 1-2 0 2 1-3 0 2 0-1 1 1 1 0 0-1 1-1 1 3 1-3 1 2 0-1 1 2 0-1 1-2 0 1 4 2 0-2 1 1 0 1 2-2 0 2 0-3 1 2 0-2 0 3 0 0 1-2 1 1 0-1 0 2 1-1 1-1 1-1 0 0 1 2 1-2 1 1 1-1 1 0 1 3 1 0 1 0 0-1 1 0 0 0 0 0 0 0 1-1 1 2 1-3 0 2 0-2 1 3 1-2 0 0 1 2 0-3 1 0 0 0 1 1 0-1 2 1 1 1 2-2 1 0 0 3 1-3 1 3 0-2 0 0 1-1 0 0 0 0 1 1 1 1 2-2 3 3 2-1 1 1 0-1 1 0 1-2 0 3 0-2 1-1 0 1 1 0 1 0 0 0 1 1 1-2 0 3 2-1 0-2 1 3 0 0 1-2 0 1 0 0 2-1 2-1 0 3 0-1 1-2 0 1 1 0 1 2 1 0 0-3 1 0 0 2 0-1 1-1 0 1 0 1 1-1 0 2 2-2 1 1 2-1 0-1 1 2 0 1 1-1 1 1 0-2 0-1 0 1 0 1 0-2 1 2 2-1 0 0 0 1 1-1 1 0 0 0 0 1 1 0 0-2 1 1 0 2 1 0 0 0 0 0 1-1 1-1 0 2 2-1 0-1 0-1 1 3 2 0 0-2 1-1 0 0 2 0 0 3 0-2 1 1 0-1 0 1 0 1 0-1 1 0 1-1 0 2 2 0 0-3 0 2 0-1 1 0 0 0 0 2 2 0 0-2 2 2 0-2 0 1 1-1 1-1 0 2 1-2 1 2 1 0 1 1 1-1 1 0 0-2 1 2 0-2 1 0 0 1 0 2 1-1 0 0 0 1 0-3 1 3 0-1 1 0 1-2 0 1 2 1 1 0 1 0 0-1 1-1 0 1 0 1 1 1 1-2 1 0 0 0 1-1 0 3 1 0 1 0 2-2 1 2 2-2 1 1 0 1 1 0 0 0 2-3 0 0 0 1 2 2 1-1 2-2 0 2 1 1 1-3 2 0 2 1 2 1 0-1 2 2 0-1 1-1 1-1 2 2 0-1 0 1 1 1 2 0 1-2 1 1 3 1 2-1 3-2 0 0 2 0 5 2 1-2 0 3 1 0 6-2 2-1 2 1 0-1 1 0 0 1 1 2 1 0 7-2 2 0 2-1 1 1 2-1 4 2 1 1 9-2 2-1 22 3 9-1 16 1 10-3 11 0-5 4-11 2-1 0-7 0-17-2-17 2-26 0-3 1-4-1-10 0-2 0 0 1-2-3-1 0 0 1 0 1 0 0-4-1-3 1-9 1-2-2-3-1-2 0-1 1-4 1-1 1-1-1 0-2-2 1-5 1 0 0-1-1-2 1-1-2 0 0 0 2-1-1 0-1-3 0 0 1-1-1-2 1 0 0 0-1-2 2-2-1-1 2-3-3 0 1 0 0-2-1 0 2 0 1 0-3-1 0-3 3-1-1-1 0-2-1 0 0-1 2-1-3 0 1-1 1 0 0-1-2-2 3-1-2 0 2-1 0 0-1 0-1-1 0-1 0-1 0-1 2-2-2-1 1 0-1 0-1-1 0-1 1-1 0 0 2-2 0 0-2-1 2 0-3 0 0 0 1-1-1 0 2-2-1 0 0-1-1-2 1 0 1-2-2 0 2-1 1-2-2-2-1-1 2 0 1-1 0 0 0-1-1-3-2 0 0-1 0-1 3-1-1 0-2-1 0-2 2 0-2-1 1 0-1 0 3-2 0-1-3 0 3-1-2 0 2 0 0-3-3 0 0 0 0-2 0-1 1 0-1 0 2 0-1-1 2-1-1 0-2-1 0-1 0 0 1-1 1 0-1 0 1-1 0 0 0-1-1-1-1 0 0-1 0 0 3 0-2-1 2-1-3 0 1 0 1 0-2-1 3 0-2 0-1 0 0-2 2-1 1-1-1 0-1 0-1 0 0-1 3-1-2 0-1-1 0 0 3 0-1-1-2 0 3 0 0-1-3 0 1-1 0-1-1-1 0 0 0 0 1-2 0 0 0 0-1 0 3-1-2 0 0-2 2-1-3 0 3-1-2-1 0 0 2 0-2-2-1 0 3 0 0-1 0-1 0-1-1-1-1 0 0-1 1 0 0 0 1-1 0-1-1-1 1 0-3-1 0 0 1 0-1-1 3 0-1-1 1 0-1 0-2-1 3 0-2 0 0-3 0-1-1-1 2-1-2-1 1 0 1 0 0-1-2-2 3 0-1-1 0-1 1 0 0-1-1 0 1 0-1 0-2-1 1 0-1-1 1 0 0-2 0 0-1 0 2-1 1 0-1-1 1 0-3-1 0-1 1 0 1-1 0 0 1 0 0 0-1-2 0-1-2 0 0 0 0 0 2-1-2-1 3 0-3-1 3-1-3 0 3-1-2-1 2-1 0-1-2-1 2-1 0 0-1-1-2 0 0 0 3-1-1 0-1-1 2-1-2 0 1-1 0-1-2 0 2 0 0-1 0 0 1-2-3-1 2-1-2-1 2 0-2-2 2 0 1 0-3-1 3 0-2-4-1 0 3 0-3 0 2-1-1 0 2-2-2 0 2-1-2 0-1 0 1-1 2-1-3-1 1-1-1-1 3-1 0 0 0-1 0-2-2-2 2 0-2 0 1-1 1 0-1-1 0 0-1 0 2 0 0-1-3 0 3 0-2 0 0-1 0 0-1-10 6 11-1 0 0 0 0 0 2 0-1 0-2 0 0 1 0 0 1 0 2 0-3 1 1 0-1 0 1 0 2 1-2 1 1 0 1 1-1 0-1 1 2 0-2 0 1 1 1 0-2 2 0 2 1 2-2 1 1 0-1 0 1 4 2 1-2 1 0 1 0 1-1 1 1 1-1 0 0 1 3 1 0 1 0 0-2 1-1 0 3 1-2 1 2 0 0 0-3 0 2 1-1 0 2 1 0 1 0 0 0 0-3 3 0 0 0 1 3 0-2 1-1 1 0 0 2 0-2 1 0 0 3 1-2 1 2 1-2 0 2 0-2 1 2 0-3 0 2 1-2 0 1 1 2 1-3 0 3 0 0 0-1 0 0 0-1 1 1 0 0 0 0 3-1 0 1 2 1 2 0 0-3 1 0 0 3 0 0 2 0 1-2 0 2 1-3 1 2 0 1 0-3 0 2 1-1 0 2 0-1 0-2 1 1 1 2 0 0 0-3 1 0 0 2 1-2 3 3 1-2 1 1 1 0 0 0 0 1 1-1 0-1 1-1 0 2 0-1 1-1 0 1 0 1 1 1 1 0 2-2 2 1 0-1 0 0 1-1 1 2 1 1 2 0 0-3 1 1 2 0 0 0 0 1 0-2 1 3 0 0 0-1 1 1 0-3 0 3 0-3 1 0 1 0 0 0 1 2 2-1 0 1 0-2 0 2 1 1 0-3 1 0 1 3 0-1 1 0 1-2 0 1 1-1 1 1 1 1 0 0 0-2 1 1 0 0 1 1 0 0 1-2 0 3 1-3 1 1 0 1 1-1 0-1 1 1 1 1 1 0 0 0 1-1 1-1 0 0 1 0 0 3 0-3 1 1 0-1 0 1 0-1 0 0 1 3 0-3 2 0 0 0 0 1 2-1 0 1 4 0 0-1 1 2 1 0 0 1 1 0 0-2 0 0 0-1 0 1 1-1 0 2 2 1 0-1 1 1 0 0 1 0 0-1 1 0 1-1 1-1 0 1 1 0 0 0 1 0 1 0 0 1 1 0 0-1 1-1 0 3 2-3 0 1 0 1 1 1 1 0 1-1 0 1 1-3 0 0 0 1 2 2 0-2 1 1 1-1 1 2 1-2 1-1 1 1 1-1 1 0 2 0 1 1 1 2 0-3 2 1 0 0 1-1 1 3 0-3 2 3 0-3 1 3 0-1 1-2 1 2 0-1 1 0 1-1 1 0 0 2 3-1 1 0 0 2 0-3 1 1 2-1 0 3 0 0 3-2 1 0 0 0 1 1 0 0 0 0 1-1 0-1 1 3 4-2 0 1 1-1 1 0 0 2 0-2 2-1 2 2 1-1 2-1 0 0 1 2 2-1 6 0 0 1 3 0 1 1 21-1 1 0 8-1 2 1 1-1 2 1 7-1 5 0 11-1 5 3 3-3 14 0 21 1 6 0 6 1 15-2-31 7-6-2-31 0-4 2-3-1-10 1-5 0-2-3-1 3-15-1-1-1 0 1-6 1-5-1 0-1-2 1-7 1 0-2-3 2 0-3-1 2-2 1-3-2 0 1-1-2 0 1 0 0-1 1-4 1-1-2 0 2-2-2-1 2-1-2-2 0-4 0-3 2 0 0-3-2 0 2-1-2-2 0-1 1 0 0-1 0-2-1-1 0-1-1 0 0-3 0 0 0-1 2-1-1 0-1-1 2 0 0-1-2 0 1-2 0-1 2 0 0 0-2-1 2-1-3-1 1 0-1-2 2 0-2 0 3-1-1-1-2-1 0 0 1 0 1 0-2-1 0-1 1-1 0 0 2-4 0-1-3 0 2-1 1 0 0-2-2 0 0-2 1-2 1 0-2 0 2-1-2 0-1 0 1-1 2-1-1-1 0 0 0 0-2-1 3 0-1-1-2-1 2-1 1 0 0-1-3-2 0-1 0-3 3 0-1 0 1-1-1-1-1 0 0-1 2 0-3-1 0-1 0 0 2-1 0-1-1 0 2-1-2 0 0-3 1-1 0-1-1-1-1-1 2-1 0 0-1-1 0 0 0-1 0-1 0 0 0-2 1-1 1 0 0 0-2-2 1 0-2-2 3 0-2-1-1 0 3-1-2-4 1 0 0-1-2 0 2 0-1-1 2 0-2-3 2 0-1-2-2-1 3-1-3-1 1 0 0-1 0 0-1-1 2 0-1-1 0-1 2 0-3 0 2-2 1 0 0-1-3 0 0 0 2 0 1 0-3 0 3-1-2 0 0-2 1-2-1 0 2-3-3-1 3 0 0-1-2 0-1-1 3 0-2 0-1 0 2 0 1-1-3-1 3 0-3 0 0-1 0-1 0-1 3 0 0-3 0 0-2-1 1 0 0 0 0 0 0 0-2-1 2-1 1-3-3 0 2 0 1-3-1-1 0 0-2 0 2-1 0 0 0-1 1-1 0 0 0-1 0-2 0-1 0 0-2-1 2 0-3-2 1-1-1-1 0-1 2-1 0 0-1-1 2 0-3-1 0-1 3 0-2 0 0 0 1-2 0-1-2-2 0-1 3-1-3 0 0-1 2-1-1-1 0 0 2 0-3-2 3 0-2-1 0-1 1 0-1 0 2-1 0-1 0-1-3 0 2-3-2-1 2 0 0-1 0-2 1 0-3-2 0 0 2 0 0-1 0 0 1-2-3-7 3 7 3 1 0 1-1 0-1 0 2 1 0 1-1 0 1 0-2 0 1 0 1 1 1 1-1 0 0 1 0 1 1 0-3 0 3 0 0 1-3 0 3 0 0 1 0 0-2 0-1 1 3 0-3 1 1 0 0 0 2 0-1 1-2 0 3 1-3 0 2 0-2 1 2 0 1 0-1 1-2 1 1 0 0 2-1 2 0 0 3 2-3 2 3 0-1 1 1 0-3 0 3 2-3 1 3 0-3 0 3 1-2 0 1 1 0 1 0 0-2 1 3 1-1 1-2 1 3 0-2 1 0 0 0 0 0 2 2 0-3 3 3 0-1 1-2 1 0 1 3 0-3 0 1 1 2 0-3 0 3 1-3 1 3 1-1 0 1 0-2 1 1 1 1 0 0 1-1 0-2 1 2 0 0 0 0 0 1 2-2 0 0 0-1 1 0 0 2 0-2 1 0 0 2 3 0 2-1 0 1 1-1 0 1 0-1 1 0 0-1 0 2 1-2 0 2 2-2 0 2 1 1 1-2 1 1 0 1 1-1 0 1 0-3 0 1 1 2 0 0 0 0 1-3 0 0 1 0 1 1 0-1 1 0 2 0 1 1 1 1 0-1 0 1 1-1 0 2 0-3 1 0 1 2 0-1 0 2 0-3 0 2 1 0 1 0 1-1 1-1 0 0 0 0 0 0 0 2 1-1 0 2 1-1 2 1 1 0 1-3 1 2 0 1 1-1 0 1 1 0 1 0 0 0 1-3 1 2 0 0 1-1 1 0 1 1 1 0 0-2 0 0 2 1 3 2 1-1 1-1 2-1 2 3 1-2 0 0 0-1 3 1 1 0 0-1 1 0 0 3 1-2 0-1 0 1 2-1 2 2 1-1 1 2 0-2 1 1 0 1 2-1 2-1 0 0 2 1 0 1 0-1 1-1 0 1 4-2 1 1 1-1 0 1 1 2 0-3 0 2 1 1 1-1 0 1 2 0 0-1 2-1 1 0 0-1 0 0 1 2 0-2 0 3 1-2 0 0 0 0 1-1 1 3 0 0 1-2 2-1 1 1 1 2 1-3 1 1 4-1 1 2 0 0 2-1 0 0 1 1 0-1 1 2 0-1 1-2 0 0 2 3 3-2 0 0 0 0 0 2 1-1 2-2 1 0 0 2 2 1 3-1 4 1 2 0 0-3 0 0 2 0 3 2 1 0 0 0 2-1 0 0 2 2 1-1 4 0 6 0 0 1 4-1 0-1 5 0 2 1 2-1 1-1 1 1 9 1 2-1 4 2 1 0 9-2 5-1 6 0 4 1 12 2 11-2 15-1 21 0-24 5-29 1-14 0-6 1-15-3-3 0-1 2-14-2-5 3-1-2 0-1 0 2-2-2-5 2 0 0-4 0-4 1 0-1-3-2-3 2-3-2-1 1-1 0-3-1-1 3-3-3-2 2-1 1-3-1-1-1 0-1-2 1-3 0 0 1-3 1 0-1-3 0-2 0-2 1-1-2-2 2-3-3-2 2-3 1 0 0 0-1-5 1-6-1 0-1 0 0-2 0 0 0 0 0-1 1 0-1-2-1 0 1 0 0 0-1-1 0-3 3 0 0-2-1-1 0-2 0 0-2-1 3 0-3 0 0-2 1 0 1 0 1 0-1-1 0-1-1 0-1 0 1-2 1-1 0 0 0 0-2-1 2 0 0 0 0 0-2-1 2-2-2 0 1-1 2-1-2 0 2-1 0 0-3 0 1-3 2-1-3-2 1 0-1 0 0 0 1-1-1-5 0 0 1 0-1-1 3 0-1-1-2 0 0-1 2 0-2 0 1-1 1-1 1 0-3-2 3 0-1-1-2-2 3 0 0-1-3-1 0 0 2-1-2-2 0-1 0 0 2 0 0 0-1-1 2-1-1-2-2-1 1 0 1-1 1-1-2 0-1 0 1-1 2 0-3-3 2 0 1-1-1 0 0-1-2 0 1-2 0 0 0-2 1-1 0 0 0 0 1 0-1 0 0-1 1 0-3-1 2 0-2-1 0-2 1 0 1 0 0 0 1-1-3-1 2-1-1-1 2 0-1-1-2-1 1-1 2 0 0 0-2 0-1 0 1-1-1-1 3 0-2 0 0-1 0-4 1 0-1-1 0-1 2-1-1-1-1 0 0 0 2-1-2-1 2-1 0 0-1-1 1 0-3 0 0-1 3 0-2 0-1 0 2 0-2-1 2 0 0-1-2 0 2 0-2-1 3 0-3-1 3 0-2-1 2-1 0 0-1-1-2-1 3-1-1-1-2-1 3-1 0 0-2-1 2-1-1-1-1 0 0-1 1-1 0-1 1 0-1-3-1 0 1 0 1 0-1-1 1-2-1-1-2 0 1 0 2-1-2 0 0 0-1 0 2-1 0 0 0-1 1 0-1-1 1-1-1 0-1 0-1-2 3 0-1-1-1 0 0 0 3 0 1 0 2 2 0 0-2 0 2 0-2 0 2 0 0 1 0 1 0 0-1 0-1 0 2 0 0 5 0 1-2 1 1 0 0 0-1 1 1 1-2 0 1 0-1 0 0 1 2 1-1 1 2 1-1 1-2 1 2 1-2 0 1 0-1 0 2 4 0 0 1 0-1 3 0 0-1 0-1 0 2 3 0 0 1 1-3 0 2 4-1 0-1 3 1 0-1 0 0 0 3 1-2 0 2 0-2 1 2 0-3 1 3 0-3 0 0 0 2 2-2 4 1 1-1 0 0 1 3 0-3 0 1 1 2 1-2 2-1 2 0 1 3 0 0 1-2 3 0 0 2 2-3 0 3 1 0 0-3 1 1 0 2 2-2 0 0 1 1 0-1 2 1 1 0 1-1 0 0 1 2 3-2 0 2 1 0 1 0 1-3 0 0 1 0 0 0 1 2 0-2 0 2 0-2 1 3 1-1 1-1 0 1 0 0 2 0 0-1 1-1 0 2 1 0 1-1 3 2 1-1 0 1 1-2 1 2 1-1 1-1 1-1 1 1 0 0 1 1 1 0 0-1 1 2 0-1 1 0 0-1 1 1 0-2 1 1 0 2 2-3 0 0 1 3 1 0 0-2 5 0 1 1 0 1 2-3 0 2 2 0 0 1 2-1 2 0 1 1 1-1 0-1 3 2 0-2 2 1 0-1 0 1 1 1 1-2 0-1 0 3 1-1 0 0 1-2 0 0 1 3 0-1 1-2 0 0 0 0 3 2 0 0 5-2 0 0 1 2 1 1 2-3 3 1 0 0 1-1 0 0 1 2 1 0 0 0 1-2 1 3 0-2 2 0 2 1 0-1 3 2 0-2 1-1 0 0 4 1 5-1 0 3 1-3 2 3 0-1 2 1 2-3 0 1 1-1 9 0 1 0 4 1 2-1 3 3 12 0 3 0 10 0 2-2 5 1 4-2 15 3 23-2-15 6-44 0-16-2-4 0-1 0-11 0 0 1-2-2-1 0 0 1-2 1-2 1 0 0-12-3-2 3-4-1-1-2-2 0 0 2-2-1-4-1 0 2-3 1 0 0-1-3-2 1 0 2-2 0-3-3-1 0 0 1-1 0 0 1-2-1-1 0-1 1 0-1-3 2-3 0 0 0-1 0-1-1-1-1-1-1-1 1-1 1 0-1-2-1 0 2-1 0-2 1 0-2-3-1 0 1 0-1 0 0-2 0-1 2 0 0-1-1 0-1-2 0 0 2-1-2-1 0-1 1 0-1 0 2 0 1-1 0 0-2-1 2-1-3-3 0-1 3-3-1 0 1-1-1-1 0 0-2-1 2-1-2-1 1-1 1 0-2-1 2-1-2-1 2 0-1-1-1 0 1-1 0 0 1 0 1-1-1-1 1-1-2-1-1-1 1 0 0-1 0-1-1-1 0-1 0-1 1 0 2-1-1 0 0 0-1-1-1-1 2 0 0 0-1-6 0-2 2-1 0-1-1 0-1-1-1-2 1-1 0 0-1-2 1 0 0 0 0-1-1-2 2 0 1-1-1-2 1-1-3 0 0-2 0-2 3 0-2 0 0-1 2-3 0 0 0-1 0 0-2 0 2 0-3-1 2-2-1 0 2 0-3-1 1-2-1-1 2 0 1-1-2 0 1-1-1-1 1-1 0 0 0-1-2-3 0-1 3-2-1-1 0 0-1 0-1-1 1 0 0-1 2 0 0 0-1-1-2-2 3-3 0 0 0 0-1-1 1 0-2-1-1-1 2-1 1-1 0-1-3-1 3 0-1 0 1-2 0 0 0 0-3 0 0 0 4 0 3 0-3 2 1 0-1 1 3 0-2 0-1 1 1 0 1 1 1 0-2 1 2 0 0 1-2 0 2 0-3 2 2 0-1 0-1 1 0 1 3 1 0 0-1 0-1 1 0 1-1 1 1 2 2 1-3 1 0 1 0 0 2 3-1 0 2 0-3 1 1 1 2 0-1 0-2 0 2 1-1 0 1 0 0 1-2 1 0 2 1 2 0 1 2 0 0 2-1 0-2 1 0 0 2 1 1 7-1 1 0 0-2 1 1 1 0 1 1 1 0 1 0 1-2 1 0 1 2 0 1 1 0 0 0 0-2 0-1 1 0 2 3 0-2 2 1 2-1 0 1 0 0 0-2 0 2 2-1 2 0 0 1 2-2 0 2 2-1 0 2 0 0 1 0 3-2 0 2 1 0 0-2 2 2 7-3 0 0 0 2 0-2 1 3 0-1 0 1 1 0 0 0 2-3 2 0 0 2 1-2 0 0 2 2 0 0 1-2 3 0 0 3 4-3 1 3 5-2 0 0 3 0 2 0 1 1 2-1 1 2 1-3 1 3 2-1 1 0 1 0 2-1 0 1 1 1 2 0 3 0 2-3 5 0 6 3 2 0 3-3 0 1 3 0 2 1 1-2 5 0 1 0 1 2 3-2 3 0 6 0 1 3 5 0 7-1 1 1 4-3 3 3 4-1 14-1 14 1 8 0 5-1 10 2 2-1 42 5-27 0-13-1-48-2-11 2-2 1-1-3-12 2-6 0-2-2-9 0-2 1-5 2-2-2-3 2-6-2-3 2-1-1-1-1-1 0-8 2-2-1-1-2-1 0-1 0-1 2-1-2-2 0-5 2-1 1-1 0-1-3 0 2-1 1-3 0 0 0-1 0-2-1-1-1-1-1-1 1-1-1 0 2-3 1-2-1-1 1 0-2-3 1-3 1-2-2-5 0 0 1-1-1-1-1 0 3-1-3-1 0 0 0-1 1-1-1-1 0 0 3-2-1-2-2-2 1-1 2 0 0 0-3-2 1 0 0 0 1-1 0 0-1-2-1-2 0 0 0-1 1-3-1 0 0 0 2 0-2-1 3-2-1-2-1-1 0 0 0-3 2 0 0 0 0 0-2-1 2 0-1-1 1-6-3-1 0 0 1 0 0-2 2 0 0-2-3-2 1 0 0-6 2-1 0-1-1-4 1 0-2 0 1 0 1-1 0-1 0 0-2 0-1-4 1-1 2-1-2 0 0-1 1-3-1 0-1-1 1 0 1-1 0 0-2 0 0-1 2 0 1-1-1-2-2-1 2 0-1-1 0-1 2 0 1 1 0 0 2 0-2 1 1 0 0 2 1 0 1 2-2 0 1 2-2 1 2 1 1 1-3 2 2 0-2 0 3 4-3 1 3 1-2 1 0 1 2 0-2 1 0 0 2 3-2 1 0 2 0 0 1 0 1 3-2 0 2 1 0 0-3 1 2 1-1 2-1 0 0 0 2 2 1 1-2 1 2 0-2 2-1 0 3 0-2 1-1 0 1 2 1 2-2 0 2 0 1 0-3 3 3 1-2 1-1 0 1 0 1 1-1 1-1 0 3 1 0 0-3 3 2 0-1 1 0 2-1 1 1 1 2 5-3 0 0 2 1 7 0 1 2 0-2 1 0 1 2 1-3 1 1 1 0 4 0 0 1 0-1 3-1 3 1 1-1 0 2 1-2 2 0 2 1 2-1 1 1 1 1 3-2 4 1 1 1 2-2 2 1 0 1 1-2 6 1 3 0 4 1 1-1 4 2 0-3 6 3 0-3 9 2 1-1 4 2 2-2 1 0 1 1 12 1 1 0 51 2-35 2-11-1-1-2-9 0-1 0-7 3-13-3-6 3-3-3-4 2 0-2-2 3-1 0-16 0-3-2-5 0 0 0-1 2 0-1-1 0-4 1-9-1-2-1-1 1 0-1-4 2-2-3-1 2-1-1-1-1 0 2-3-2-1 0-1 1-1 2-1-1-1 1 0-3 0 3-1-3-3 0-1 0 0 2-1 1-3-2-1 2-4-1-2-2 0 0-1 3-6-2-1 2-3-1-1 1-2-2-2 1 0 1-1-3-2 1-1 2-1-3 0 2-1-2 0 3-1-2 0 2-1-2 0 0 0 2-1-3-1 2-5-2-2 1 0 2 0 0 0 0 0 0-1-3 0 0 0 3-2-3 0 2-1-1-1-1-1 1-1 2-1 0-4 0 0-3 0 2-1-2-2 3-2-1-1 0-1-1-1 1-1-1 0 3 1 0 0 1 2 2 3-3 1 1 1 0 3 0 1-1 1 1 0 1 1-1 0 0 1 2 2-1 1-2 1 2 0-1 1 1 2-1 1 0 0-1 3 2 1-1 3-1 2 2 0 1 1-2 1 0 0 0 0 0 0-1 1 0 1 1 1 1 1 0 2 1 1-3 1 2 0-2 2 1 0-1 1 2 1-2 4 0 0 1 2-1 0 2 3-2 4 2 1 0 5-1 4-1 1 1 2 0 1 1 0-2 7 1 4 1 1 0 1 1 1-3 6 0 11 0 5 0 2 0 0 0 5 0 1 1 1 0 5-1 15 2 15-2 4 1 9 1 14 1 69-2 22 1-4 4-28-1-75 0-47 1-6 0-5-1-4 1-9 1-8-2-14-1 0 3-9-1-2 0-4 0-2 1-7-3-3 2-1 0-3 0 0 0-3 0-10-2-1 2-2-1-4-1 0 1-3 1-4-1-5 1 0-1 0 2-1 0 0-2-1 1-1-2-1 0-2 0-1 2 0-1-1 1-1 2 1 0 1 2 1-1 0 1 10 0 1-1 7-1 3 0 5 0 5 0 4 3 2-2 1 1 2-2 2 0 7 1 17 0 2 2 1-3 6 1 1 1 4-1 7 0 2-1 4 0 3 3 3-1 0-2 7 0 26 3 23-1-43 4-19-2-10 1-4 2-4-1-1-2-3 2-5-1-1-1-11 0-5 2-1 0-11 0-3-1-5 0-4 1-1-2-4 0-10 0-2 0-4 2-2 1 0-2-2 1 2 4 6-1 3 2 3-1 3 0 4 1 6-3 7 3 2-1 3-1 10 0 4-1 0 3 1-3 17 1 13 0 15 2 3 0-12 2-11-1-47 3-4-3-1 3-3-3-6 3-2-2-4 0-5 0-4-1-5 3 1 4 4-2 1 1 0 1 12-1 3-2 6 0 3 1 10 2 7-3 1 3 3-1 0 1 3-2 8 2 8 0 2-1 1-2 0 3 2-2 1 2 2-1 1-2 2 3 1-1 4 1 2-1 3 1 2 0 0 0 1 0 4 0 1 0 4 0 3 0 3-1 2 0 1 1 1 0 2 0 2 0 2 0 1 0 8 0 0 0 1 0 1 0 3 0 5 0 0 0 3 0 1 0 8 0 6 0 4 0 2-1 0 0 8 1 5-1 0 1 5 0 1 0 4-1 2 1 1 0 4 0 2 0 3 0 1 0 4 0 2-1 1 1 1 0 0 0 1 0 3 0 2-1 1 1 1 0 5 0 4 0 6 0 3 0 0 0 3-1 1 1 4 0 3 0 2 0 0 0 5 0 3 0 7-1 2 1 1 0 2 0 0 0 5 0 3-1 0 1 0 0 1 0 0 0 0 0 2 0 7 0 2 0 2 0 4 0 3 0 1 0 2-1 1 0 4 0 3 0 0 1 3 0 1 0 1 0 1 0 1 0 7 0 0-1 0 1 1 0 2-1 2 1 1-1 2 0 0 1 0-1 0 1 1 0 2 0 1 0 1-1 10 1 0 0 3-1" fill="none" style="marker:url(#mk0)"/>
<path d="m297 1646 58 5 5-1-2 2-65 2-82 4 34 1 26 0 8-3 2 0 3 2 31 0 34-1 4-1 21 0-20 6-41-2-11 0 0 0-1 0-3 0-4 1-2 1-12-1-4 2-19-1-1-1-5 0-22 0-48 5 2 0 11 1 36-3 10 0 12 3 11-2 4 0 8 2 7-3 2 0 2 1 0 1 45 0 20 2-10 1-19-1-15 3-7-2-9 2-2-3-2 1-3 0-5 2-3-2-3 0-8-1-1 1-9 2-3-2-4 0-4 2-1 0-4-2-1 2-26-3 0 1-1 1-1 1-11-1-27 2 11 3 22 0 8-2 1 2 1-1 6 1 2 0 4-2 1 1 5 0 3 0 9 1 0-1 1-2 10 3 1 0 1-2 4 2 1 0 8-1 6-1 9 2 4-1 2 0 2 1 2-1 7-2 1 2 8 0 31-1-10 3 0 2-1 0-29 0-9 1-9-2-2 2-14-3-2 3-2-1-5-1-3 2-4-2-1 2-2-3-8 3-1-2-5 1-9 0-5 0-4-2-1 1-5 0-74 4 33 0 12 1 0 1 21 0 0-3 3 3 6-3 7 2 7 1 5-1 2 0 4-1 1 1 0-2 3 0 5 0 13 2 1 0 19-1 2-1 4 1 2-1 8 2 4-1 9 0 3 1 4-2 10 3 0-3 17 3-43 3 0 1-14-1-13 1-10-1 0-2-9 2-3-1-1 0-4-1-3 0-9 2-2 0 0-1-4 1-2-2-1 0-1 1-7-1-5 2-2-1 0 2-6-2-7-1-3 1-44 2 8 4 3 0 20-1 18 0 5-1 3-1 5 0 2 2 2 1 4 0 2-3 1 3 3-2 7 0 0 0 2 2 4 0 1-3 0 2 4 0 29-2 5 1 13-1 2 3 20 0 11-3 11 7-36-2 0-1-15 0-7 3 0-1-4 0 0-1-1-1-3 3-5-3-1 1-1 1-1-1-1 0-3 1-3-1-9-1-2 1-1-1 0 3-7-3-12 3-1-3-6 3-2 0-1-1-1 0-9 1-3 0-2-3-2 3-1-2-1-1-4 0-6 0 0 3-6-3-1 3-10-2-14 0-4 1-15-2 0 7 18 0 5 0 1-1 1 0 1-2 11 3 2-3 19 3 1 0 10-2 5 0 14 0 4 2 1-1 4-2 4 1 1 2 4 0 1 0 1-3 5 2 2-1 1 1 0-1 2 2 12-3 2 0 5 2 0 0 0-1 2 1 1-1 1-1 21 3-16 4-5-1 0 1-6 0-6-3-4 0-9 0-1 2-9-1 0 1-1-1-1 1-6-1-4 1-5-2-1 2 0 0-7 0 0 0-1-1-5 2-5-2-7 0-3 1-3 0 0-1-4 0-3 1-9-2-1 0-2 0-5 2-2-2-13 1-18 0-4 2 26 2 12 1 6-2 5 1 3 1 6 0 3-1 1 2 5 0 1-1 2-1 2 1 1 0 2 1 5-3 6 3 4 0 3-1 2 1 3-2 2 0 0 2 3-1 13-1 5 1 7-1 29 2 8 1-16 0-2 0-27 0-33 2-1-1-2 2 0 0-13-3-7 1-11-1-1 3-3-1 0 1-9-2-2 2-7-1-6-2-4 0-2 0-6 0-19 1 11 3 1 3 6-2 1 0 39 2 24-1 9 1 16 0 4-3 27 2 8-2 0 4-7 0-39 2-11-2-3 0-11 3-44-2-11 2-2-3-7 3-2-3 6 5 4 1 15 0 7 0 18-2 23 2 2-1 6-1 2 0 2 0 7 0 10 2 2 4-31 0-2 0-3 0-10-2-13 2-8 2 3 1 15 0-8 5 2 36 0 1 5 0 0-1 1 1 4 0 6 0 0 0 1 0 9 0 0-1 1 0 2 1 11 0 2 0 2 0 2-1 25 1 0 0 4 0 1 0 3 0 10 0 2-1 15 1 5 0 4-1 2 1 19 0 2-1 6 1 3-1 5 1 2-1 2 1 1-1 1 1 0 0 8 0 0 0 16 0 11 0 19 0 4-1 9 1 1 0 5 0 2 0 4 0 8-1 1 1 0 0 13 0" fill="none" style="marker:url(#mk1)"/>
<path d="m366 1644-1 3-96 3 17 0 8-2 6 3 52 4-8-2-7-1-2 2-4 0-14-2-14 2-15 1-4 0-19-3-8 2-11 0-2 0-26-1 37 5 12 0 4 1 8 0 29-2 8 2 7 0 37-2 38-1-71 6-10 0-2 1-5-1-3 0-2 1-11-1 0 0-3 0-22-2-7 3 0-1-5-1 0-1-2 3 0 0-20-1 0 1-48 1 5 3 19-3 5 3 0 0 7-1 5 1 1 0 6 0 14-2 2 1 2-2 7 0 9 1 8-1 3 0 7 1 5 0 0 2 8-3 1 0 3 1 2-1 2 2 3 1 8-2 3 1 4 0 8 0 1 0 35-1-22 4-16 1-3-2-22 3-8-2-4 0-1-1-1 3-4-3-7 1-3 1-3 0-2 1-1-2-1 1-2-2-6 0-4 1-1 0 0 1-1 1-3-3-2 1-1 2-1-2-1 0-1 1-1-1-3 0-2 1-1 1-7-2-4 0-6 0-2 0-5 1-2 1-3 0-2-2-6-1-1 3-33-3 13 7 2-3 2 1 14 0 2 2 3-1 3 1 5-2 7-1 8 3 6-1 2-1 3 1 2 1 1-2 1 2 3-3 6 3 1-2 9-1 7 1 6 2 2-1 3-2 1 2 0-2 1 3 5 0 4-1 8 0 2-2 2 1 1 0 1 2 7-2 5-1 6 1 4 0 6-1 12 3 4-3-14 4-12 2-13-2-1 3-3-1 0-1-6 2-5-1 0-1-6 0-4-1-5 3-2 0-3 0 0 0-1 0-7 0-1 0-1-2 0 2-1-2-1 2 0-1-2 0-6 0-5-1-2-1-4 3-2 0-4-1-3 1-1-2 0 2-1-1 0 1-8-3-1 3 0 0-10-2 0 2-4-1-3 1 0-2 0-1-2 1-1 0-1 2-3-1 0 1-1-1 0-1-11 2-1-2-21 1-26 3 2-1 21 3 14 0 6-2 0 2 2 0 7-3 3 2 3-1 3 0 0 1 1-1 15-1 3 3 3 0 7-2 4 2 2-1 0 1 0-1 4-2 0 0 3 3 0-1 2-2 1 3 5-3 2 3 10-1 1-2 3 0 0 3 0-3 1 0 2 3 5 0 4-3 6 1 2 1 1 0 1 1 5 0 1-1 9-1 1 2 4-1 12 1 8-3 4 4-10 3-7 0-13 0 0-3-7 3-3-3-1 0-1 1 0-1-4 3-3-3-6 3 0 0-6-2 0 2-5-1 0 0-1-2-2 0-3 2-2-1-5-1-1 1-6-1-1 3-4-2-1-1-3 0 0 0-3 1-2 0 0 0-5 2 0-1-2-1-10 2-1 0-1-3 0 3 0 0-1-1-10 0 0-2-1 1 0 1-2-2-1 0-2 3-19-2-3-1-4 3-12-3-2 0-11 3 4 3 3 0 6 0 14-2 0 3 8-1 3-2 0 0 3 3 4 0 3-3 0 3 6-2 10 0 0 0 1 2 1 0 2-2 0-1 1 1 3 2 1-2 1 1 2-2 1 2 4-2 5 3 1-3 0 3 1 0 6-1 4-2 0 2 1-1 2 0 1 0 0 0 1-1 1 1 1 2 1-2 0 1 0 0 1-2 9 3 3-1 1 0 0-2 5 0 2 3 1-2 6 0 2 0 0-1 1 2 0-2 1 0 6 0 4 1 1-1 0 1 3 0 1 0 12-1 4 3-5 1-4 1-2 0-6-1-3 3-6-2-4 0-5 1-6 0-2 0-2 1-3-1-1 1-5-1-5-1 0 0-3 1-9-2-1 0-1 1-2-1-9 3-3-3-2 0 0 3 0-2-4 2-3 0-1-2-4 1 0-1-4 0 0 2-3-3-2 1-5-1-1 3-3 0-1 0 0-3-3 1-7 0-1 0-2 0-6 0-5 2-7 0-5-1-7 1-3 0-1-2-3 1 0-2-6 0-5 4 5 2 1 1 5-1 13-1 2 0 11-1 2 3 3 0 1 0 6-2 11-1 1 2 2 1 2-3 2 2 1 0 8-2 4 2 3 0 0 1 5 0 1-3 1 1 1-1 2 1 2 1 1 1 2-1 1 0 1-1 2 0 1 2 0-3 1 2 4 0 7 0 4 1 0-2 1 0 2 2 3 0 4 0 5-1 3-2 24 0 1 2 1-2 4 0 19 6-37 1-11-3-1 0-2 2-3 0 0 0-1-1-1 1-7-2-6 2-1 0-2-2-8 3-2-2 0 1-5 1-6 0-1-1-1-1-1-1-1 0-1 2-3 0-3 1-1-3-5 2-3-2 0 1-1 1-1-1-5 0-4-1-12 0-3 3-5-2-2 0-1 2-14 0-2-1-3-1-2-1-6 0 0 0-8 0-1 1-3 4 2 2 1-2 1 0 8 2 2-2 3 0 2 0 4-1 1 3 2 0 2 0 1-2 1 2 1-3 1 3 6-3 4 0 4 3 1-2 6 0 3 1 8-1 6 2 1-2 3-1 5 2 0 0 2-1 0 0 3 0 0 1 3-1 1-1 0 3 3-3 1 2 2 0 4 0 3 0 1-1 1 0 1-1 13 2 2 1 0 0 5-2 1 1 5 0 0-2 4 1 0 0 4 2 5-3 4 1 22-1 1 3-39 3-3 1-5-1-3-1-4 2-6-2-5 2-2-2-1-1-13 3-17-2-4 0-4 0-1 0-5 0-13 1-7 1-5-1-17-2-3 0-14 0-5 0-5 4 7 0 6 0 2 0 13 3 3-1 6 0 1-1 1 1 20 0 5 1 4 0 1 0 2 0 0-1 2 0 3-1 3 2 4-3 2 1 6 0 1 2 3 0 0-3 8 0 17 0 12 0-19 6-3-1-3 2-19-1-3 0-3-2-3 0-7 1-1 2 0 0-4 0-4-3-4 2-14 1-10-3 0 1-3 2-4 0-2-3 0 1-4 0-3-1-1 1-4-1-1 0-7 0-2 3-2-1 38 4 5-2 4 1 0 1 17-2 4 2 2 0 11-1 1 2 1-3 15 1 34 3-49 2-27-1-10-1-10 3-4-2-24 0 24 3 36 0 15 3-32 39 3 1 3-1 3 1 9 0 3 0 2-1 6 1 5 0 2 0 4 0 1 0 4 0 3-1 12 1 5 0 14 0 4 0 6 0 3 0 2 0 0 0 3 0 4-1 2 1 5 0 2 0 3 0 6 0 1 0 3 0 0-1 1 1 0-1 2 0 11 1 1 0 1-1 1 1 3 0 0 0 2 0 1 0 3 0 5 0 15 0 8 0 1 0 3 0 6-1 2 1 4 0 4 0 3 0 11-1 4 0 2 1 3 0 4-1 1 1 2 0 0 0 2 0 2 0 2 0 1 0 5 0 5-1 5 1 0 0 1-1 5 1 1 0 10 0 2 0 3 0 2 0 0 0 1 0 5-1 2 1 1 0 0-1" fill="none" style="marker:url(#mk2)"/>
<path d="m263 1657 5 0 20 0 5 0 27 6-11 0-23-2-4 1-9-2-2 0-34 3 17 3 4-1 30 0 40-1 11 1-12 6-15-1-38 1 0-1-1-1-21 1-2-1-2 2-5-1-2-1-4 2-24-3 44 5 1 1 3-2 19 3 17 0 25 1-25 2-8 1-52 0-18-2-47 1-6 3 16 2 22 0 19 0 3-1 11-1 21 0 8 1 5 1 24-2 5 3-3 1-10-1-17 0-4 1-4 2-2 0-21-3-17 3-5 0-21-1-25-1-17 1-2-2-11 6 77 1 16-1 9-2 25 1 4-1 3 1 24 3-20 0-11 0-13 3-6-1-4 1-10-1-1 0-1 0-1-2-8 3-17-1-8-2-12 2 0 1 0 0-1 0-6 0-14 0 43 1 3 2 21-2 27 2 1 0-6 5-17-2-19 0-13 2-5-3-4 1-7-1-21 2-10 0-8 4 47 0 19-1 7 1 8 0 11 1 1-2 47 4-40 0-4 0-8 1-16 1-26-3-41 2-3-2-23 6 26 1 120-3 18 1-158 4 42 5 10-1-57 6-4-2 58 3-24 7-7-2-11 2 31 36 11-1 2 1 28 0 1 0 3 0 7 0 13-1 11 0 2 1 7 0 18 0 27 0 0 0 1 0 10-1 10 1 5 0 4 0 11 0 15-1 4 1 1 0 15 0 4 0 28-1 1 1 15 0 4 0 16 0 2 0 6 0 6 0 0 0 4 0 3 0" fill="none" style="marker:url(#mk3)"/>
<path d="m261 1667 6 10-1-1-6 1-1 0-61 4 13 0 2 0 18 1 12 0 29-1-10 3 0 3-6-1-24-1-14 0-18 5 3-1 7 2 15-3 42 1 14 2 10-3-32 4-3 2-16 1-9-1-39 2 5 1 41-1 2 2 9-1 12 2 13 0 3 1-9 0-2 0-36 3-30-3-16 5 2 2 50-3-51 67 3-1 2 0 10 0 8 1 4 0 2 0 4 0 12-1 6 1 2 0 1 0 20 0 6 0 8-1 9 1 2 0 1-1 3 0 2 1 7-1 20 1 4-1 5 1 1 0 5-1 13 0 10 0 33 1 2 0 17-1 23 0 1 0 5 1 5 0 21 0 1 0 0 0 6 0" fill="none" style="marker:url(#mk4)"/>
<path d="m240 1674 10 0 3 1 12 2-19 1-22 3 31 1 7-2 22 1-19 6-11-3-26 1-20 4 11-1 10 1 30 0 1 2 28 4-12-3-26 0-41 2-17-2 27 6 4-2 1 3 2-1 12-1 19 0-29 6-38-2-6 2-14 1 7 67 3 0 4 0 0 0 1 0 3-1 14 1 5 0 11-1 11 1 3 0 3-1 3 1 0 0 4-1 4 0 2 0 24 1 18 0 27-1 14 0 17 1 1 0 2 0 5 0 3 0 7-1 8 0 18 1 14-1 3 1 5 0 20 0 24-1 9 1 2 0" fill="none" style="marker:url(#mk5)"/>
<path d="m278 1671-10-1-2 0-17 13 5 0 0 0 8-2 0 0 9-1 13 1 3 0 1 5-10-1-8 1-11-2-10 1-14 2-41 1 34 1 10 2 14 0 10 0-9 2-19-1-6 0-3 0-1 1-5 0-13 0-1 2-7-3-7 6 24-1 19-1 17 0 20 3 7-1-13 5-7-3-17 3-30-3-1 3 0-3-17 0-4 3-9-1 50 3 17 2-64 64 9-1 5 1 1-1 2 0 7 0 1 1 8 0 2-1 12 1 8-1 0 1 11 0 3-1 3 1 3 0 18 0 1 0 2 0 9 0 1 0 10-1 5 0 1 1 5 0 1 0 24 0 5 0 1 0 1-1 18 1 1 0 2 0 8 0 13 0 1-1 4 1 4 0 2 0 23 0 9 0 5 0 3-1 4 1 1-1 4 1 0 0 9-1" fill="none" style="marker:url(#mk6)"/>
<rect x="101.8" y="1385.2" width="387" height="387" fill="none" stroke="#7a7a7a" stroke-width="1.2"/>
<line x1="101.8" y1="1385.2" x2="101.8" y2="1772.8" stroke="#222" stroke-width="1.4"/>
<line x1="101.2" y1="1772.2" x2="488.8" y2="1772.2" stroke="#222" stroke-width="1.4"/>
<path d="M101.8 1772.2v11M121.1 1772.2v4.6M140.4 1772.2v4.6M159.7 1772.2v4.6M179 1772.2v11M198.2 1772.2v4.6M217.5 1780.2v4.6M236.8 1780.2v4.6M256.1 1780.2v11M275.4 1780.2v4.6M294.7 1780.2v4.6M314 1780.2v4.6M333.3 1780.2v11M352.6 1780.2v4.6M371.9 1780.2v4.6M391.2 1780.2v4.6M410.4 1780.2v11M429.7 1780.2v4.6M449 1780.2v4.6M468.3 1780.2v4.6M487.6 1780.2v11" stroke="#111" stroke-width="1.8"/>
<text x="101.8" y="1810.2" font-size="18.6" text-anchor="middle">0</text>
<text x="179" y="1810.2" font-size="18.6" text-anchor="middle">200K</text>
<text x="256.1" y="1810.2" font-size="18.6" text-anchor="middle">400K</text>
<text x="333.3" y="1810.2" font-size="18.6" text-anchor="middle">600K</text>
<text x="410.4" y="1810.2" font-size="18.6" text-anchor="middle">800K</text>
<text x="487.6" y="1810.2" font-size="18.6" text-anchor="middle">1.0M</text>
<text x="295.3" y="1839.2" font-size="25.5" text-anchor="middle">FSC-A</text>
<text x="295.3" y="1375.7" font-size="29.4" text-anchor="middle">T cells</text>
<text x="83.8" y="1394" font-size="18.6" text-anchor="end">10<tspan font-size="11" dy="-6.7">6</tspan></text>
<text x="83.8" y="1471" font-size="18.6" text-anchor="end">10<tspan font-size="11" dy="-6.7">5</tspan></text>
<text x="83.8" y="1548" font-size="18.6" text-anchor="end">10<tspan font-size="11" dy="-6.7">4</tspan></text>
<text x="83.8" y="1627.8" font-size="18.6" text-anchor="end">10<tspan font-size="11" dy="-6.7">3</tspan></text>
<text x="83.8" y="1709.2" font-size="18.6" text-anchor="end">10<tspan font-size="11" dy="-6.7">2</tspan></text>
<text x="83.4" y="1738.2" font-size="18.6" text-anchor="end">0</text>
<path d="M90.8 1386h11M97.2 1439.8h4.6M97.2 1426.3h4.6M97.2 1416.6h4.6M95.8 1409.2h6M97.2 1403.1h4.6M97.2 1397.9h4.6M97.2 1393.5h4.6M97.2 1389.5h4.6M90.8 1463h11M97.2 1516.8h4.6M97.2 1503.3h4.6M97.2 1493.6h4.6M95.8 1486.2h6M97.2 1480.1h4.6M97.2 1474.9h4.6M97.2 1470.5h4.6M97.2 1466.5h4.6M90.8 1540h11M97.2 1595.8h4.6M97.2 1581.7h4.6M97.2 1571.8h4.6M95.8 1564h6M97.2 1557.7h4.6M97.2 1552.4h4.6M97.2 1547.7h4.6M97.2 1543.7h4.6M90.8 1619.8h11M97.2 1676.7h4.6M97.2 1662.4h4.6M97.2 1652.2h4.6M95.8 1644.3h6M97.2 1637.9h4.6M97.2 1632.4h4.6M97.2 1627.7h4.6M97.2 1623.5h4.6M90.8 1701.2h11M97.2 1727.8h4.6M97.2 1724h4.6M97.2 1720.4h4.6M97.2 1716.9h4.6M97.2 1713.6h4.6M97.2 1710.5h4.6M97.2 1707.6h4.6M97.2 1705h4.6M97.2 1702.7h4.6M94.8 1728.1h7M94.8 1729.3h7M94.8 1730.5h7M94.8 1731.7h7M94.8 1732.9h7M94.8 1734.1h7M90.8 1731.7h11M97.2 1736.7h4.6M97.2 1739.7h4.6M97.2 1742.7h4.6M97.2 1745.7h4.6M97.2 1748.7h4.6M97.2 1751.7h4.6M97.2 1754.7h4.6M97.2 1757.7h4.6M97.2 1760.7h4.6M90.8 1763.7h11" stroke="#111" stroke-width="1.8"/>
<text transform="translate(25.1 1578.7) rotate(-90)" font-size="25.5" text-anchor="middle">CD3 - BV421</text>
<path d="M108.2 1396.1L479.8 1396.1L479.8 1577.7L108.2 1617.3Z" fill="none" stroke="#444" stroke-width="1.3"/>
<text x="472" y="1433.2" font-size="25" text-anchor="end" font-weight="bold">12.6%</text></g>
<g><line x1="633" y1="1851.1" x2="1342" y2="1851.1" stroke="#f1f1f1" stroke-width="1.2"/>
<line x1="633" y1="1784.6" x2="1342" y2="1784.6" stroke="#f1f1f1" stroke-width="1.2"/>
<line x1="633" y1="1718.2" x2="1342" y2="1718.2" stroke="#f1f1f1" stroke-width="1.2"/>
<line x1="633" y1="1651.8" x2="1342" y2="1651.8" stroke="#f1f1f1" stroke-width="1.2"/>
<line x1="633" y1="1585.3" x2="1342" y2="1585.3" stroke="#f1f1f1" stroke-width="1.2"/>
<line x1="633" y1="1518.9" x2="1342" y2="1518.9" stroke="#f1f1f1" stroke-width="1.2"/>
<line x1="633" y1="1452.4" x2="1342" y2="1452.4" stroke="#f1f1f1" stroke-width="1.2"/>
<line x1="633" y1="1386" x2="1342" y2="1386" stroke="#f1f1f1" stroke-width="1.2"/>
<rect x="638.4" y="1386" width="45.2" height="492.4" fill="#828282"/>
<rect x="638.4" y="1878.4" width="45.2" height="39.1" fill="#ececee" stroke="#4d4d4d" stroke-width="0.9"/>
<rect x="688.5" y="1386" width="45.2" height="517.7" fill="#828282"/>
<rect x="688.5" y="1903.7" width="45.2" height="13.8" fill="#ececee" stroke="#4d4d4d" stroke-width="0.9"/>
<rect x="738.6" y="1386" width="45.2" height="517.1" fill="#828282"/>
<rect x="738.6" y="1903.1" width="45.2" height="14.4" fill="#ececee" stroke="#4d4d4d" stroke-width="0.9"/>
<rect x="788.7" y="1386" width="45.2" height="234.4" fill="#828282"/>
<rect x="788.7" y="1620.4" width="45.2" height="297.1" fill="#ececee" stroke="#4d4d4d" stroke-width="0.9"/>
<rect x="838.8" y="1386" width="45.2" height="502" fill="#828282"/>
<rect x="838.8" y="1888" width="45.2" height="29.5" fill="#ececee" stroke="#4d4d4d" stroke-width="0.9"/>
<rect x="888.9" y="1386" width="45.2" height="507.2" fill="#828282"/>
<rect x="888.9" y="1893.2" width="45.2" height="24.3" fill="#ececee" stroke="#4d4d4d" stroke-width="0.9"/>
<rect x="939" y="1386" width="45.2" height="485" fill="#828282"/>
<rect x="939" y="1871" width="45.2" height="46.5" fill="#ececee" stroke="#4d4d4d" stroke-width="0.9"/>
<rect x="989.1" y="1386" width="45.2" height="527.2" fill="#828282"/>
<rect x="989.1" y="1913.2" width="45.2" height="4.3" fill="#ececee" stroke="#4d4d4d" stroke-width="0.9"/>
<rect x="1039.2" y="1386" width="45.2" height="516.3" fill="#828282"/>
<rect x="1039.2" y="1902.3" width="45.2" height="15.2" fill="#ececee" stroke="#4d4d4d" stroke-width="0.9"/>
<rect x="1089.3" y="1386" width="45.2" height="477.3" fill="#828282"/>
<rect x="1089.3" y="1863.3" width="45.2" height="54.2" fill="#ececee" stroke="#4d4d4d" stroke-width="0.9"/>
<rect x="1139.4" y="1386" width="45.2" height="506" fill="#828282"/>
<rect x="1139.4" y="1892" width="45.2" height="25.5" fill="#ececee" stroke="#4d4d4d" stroke-width="0.9"/>
<rect x="1189.5" y="1386" width="45.2" height="499.1" fill="#828282"/>
<rect x="1189.5" y="1885.1" width="45.2" height="32.4" fill="#ececee" stroke="#4d4d4d" stroke-width="0.9"/>
<rect x="1190" y="1913.9" width="44.2" height="3.6" fill="#828282"/>
<rect x="1239.6" y="1386" width="45.2" height="200.9" fill="#828282"/>
<rect x="1239.6" y="1586.9" width="45.2" height="330.6" fill="#ececee" stroke="#4d4d4d" stroke-width="0.9"/>
<rect x="1289.7" y="1386" width="45.2" height="22.9" fill="#828282"/>
<rect x="1289.7" y="1408.9" width="45.2" height="508.6" fill="#ececee" stroke="#4d4d4d" stroke-width="0.9"/>
<text x="630.6" y="1926.2" font-size="24.5" text-anchor="end" fill="#1a1a1a">0.00</text>
<text x="630.6" y="1793.3" font-size="24.5" text-anchor="end" fill="#1a1a1a">0.25</text>
<text x="630.6" y="1660.5" font-size="24.5" text-anchor="end" fill="#1a1a1a">0.50</text>
<text x="630.6" y="1527.6" font-size="24.5" text-anchor="end" fill="#1a1a1a">0.75</text>
<text transform="translate(563.4 1652.8) rotate(-90)" font-size="27.7" text-anchor="middle">Proportion</text>
<text transform="translate(668.5 1931.3) rotate(-45)" font-size="24.5" text-anchor="end"><tspan>CD8_c0_t-T</tspan><tspan font-size="16" dy="7" dx="3">EFF</tspan></text>
<text transform="translate(719.5 1930.4) rotate(-45)" font-size="24.5" text-anchor="end"><tspan>CD8_c1_T</tspan><tspan font-size="16" dy="7" dx="3">EX</tspan></text>
<text transform="translate(765.9 1932.2) rotate(-45)" font-size="24.5" text-anchor="end"><tspan>CD8_c2_T</tspan><tspan font-size="16" dy="7" dx="3">EFF</tspan></text>
<text transform="translate(813.2 1934.1) rotate(-45)" font-size="24.5" text-anchor="end" font-weight="bold"><tspan>CD8_c3_T</tspan><tspan font-size="16" dy="7" dx="3">N</tspan></text>
<text transform="translate(862.4 1929.4) rotate(-45)" font-size="24.5" text-anchor="end"><tspan>CD8_c4_T</tspan><tspan font-size="16" dy="7" dx="3">STR</tspan></text>
<text transform="translate(910.6 1931.3) rotate(-45)" font-size="24.5" text-anchor="end"><tspan>CD8_c5_T</tspan><tspan font-size="16" dy="7" dx="3">ISG</tspan></text>
<text transform="translate(962.6 1931.3) rotate(-45)" font-size="24.5" text-anchor="end"><tspan>CD8_c6_T</tspan><tspan font-size="16" dy="7" dx="3">CM</tspan></text>
<text transform="translate(1019.8 1932.7) rotate(-45)" font-size="24.5" text-anchor="end"><tspan>CD8_c7_p-T</tspan><tspan font-size="16" dy="7" dx="3">EFF</tspan></text>
<text transform="translate(1065 1939.5) rotate(-45)" font-size="24.5" text-anchor="end"><tspan>CD8_c8_T</tspan><tspan font-size="16" dy="7" dx="3">EFF</tspan><tspan dy="-7">_</tspan><tspan font-style="italic">KLRG1</tspan></text>
<text transform="translate(1125.9 1930.7) rotate(-45)" font-size="24.5" text-anchor="end"><tspan>CD8_c9_T</tspan><tspan font-size="16" dy="7" dx="3">SEN</tspan></text>
<text transform="translate(1169.1 1941.5) rotate(-45)" font-size="24.5" text-anchor="end"><tspan>CD8_c10_T</tspan><tspan font-size="16" dy="7" dx="3">EFF</tspan><tspan dy="-7">_</tspan><tspan font-style="italic">CD244</tspan></text>
<text transform="translate(1223.1 1937.6) rotate(-45)" font-size="24.5" text-anchor="end"><tspan>CD8_c11_T</tspan><tspan font-size="16" dy="7" dx="3">EFF</tspan><tspan dy="-7">_</tspan><tspan font-style="italic">SEMA4A</tspan></text>
<text transform="translate(1282.1 1931.7) rotate(-45)" font-size="24.5" text-anchor="end" font-weight="bold"><tspan>CD8_c12_T</tspan><tspan font-size="16" dy="7" dx="3">rm</tspan></text>
<text transform="translate(1324.4 1943.5) rotate(-45)" font-size="24.5" text-anchor="end" font-weight="bold"><tspan>CD8_c13_T</tspan><tspan font-size="16" dy="7" dx="3">N</tspan><tspan dy="-7">_</tspan><tspan>TCF7</tspan></text>
<text x="1327.3" y="2020.5" font-size="26">Cluster</text>
<rect x="1327.3" y="2037.6" width="35.5" height="35.6" fill="#ececee" stroke="#555" stroke-width="1.2"/>
<rect x="1327.3" y="2088" width="35.5" height="34.8" fill="#828282"/>
<text x="1372.7" y="2062.9" font-size="31">T<tspan font-size="17" dy="11.3" dx="1">MA</tspan></text>
<text x="1372.7" y="2112.4" font-size="26">other</text></g>
<g><rect x="1597.6" y="1382.9" width="566.1" height="566.1" fill="#ebebeb"/>
<line x1="1626.8" y1="1382.9" x2="1626.8" y2="1949" stroke="#fff" stroke-width="1"/>
<line x1="1677.5" y1="1382.9" x2="1677.5" y2="1949" stroke="#fff" stroke-width="1"/>
<line x1="1728.1" y1="1382.9" x2="1728.1" y2="1949" stroke="#fff" stroke-width="1"/>
<line x1="1778.8" y1="1382.9" x2="1778.8" y2="1949" stroke="#fff" stroke-width="1"/>
<line x1="1829.4" y1="1382.9" x2="1829.4" y2="1949" stroke="#fff" stroke-width="1"/>
<line x1="1880.1" y1="1382.9" x2="1880.1" y2="1949" stroke="#fff" stroke-width="1"/>
<line x1="1930.7" y1="1382.9" x2="1930.7" y2="1949" stroke="#fff" stroke-width="1"/>
<line x1="1981.4" y1="1382.9" x2="1981.4" y2="1949" stroke="#fff" stroke-width="1"/>
<line x1="2032" y1="1382.9" x2="2032" y2="1949" stroke="#fff" stroke-width="1"/>
<line x1="2082.7" y1="1382.9" x2="2082.7" y2="1949" stroke="#fff" stroke-width="1"/>
<line x1="2133.3" y1="1382.9" x2="2133.3" y2="1949" stroke="#fff" stroke-width="1"/>
<line x1="1597.6" y1="1401.2" x2="2163.7" y2="1401.2" stroke="#fff" stroke-width="1"/>
<line x1="1597.6" y1="1430.8" x2="2163.7" y2="1430.8" stroke="#fff" stroke-width="1"/>
<line x1="1597.6" y1="1460.2" x2="2163.7" y2="1460.2" stroke="#fff" stroke-width="1"/>
<line x1="1597.6" y1="1489.8" x2="2163.7" y2="1489.8" stroke="#fff" stroke-width="1"/>
<line x1="1597.6" y1="1519.2" x2="2163.7" y2="1519.2" stroke="#fff" stroke-width="1"/>
<line x1="1597.6" y1="1548.8" x2="2163.7" y2="1548.8" stroke="#fff" stroke-width="1"/>
<line x1="1597.6" y1="1578.2" x2="2163.7" y2="1578.2" stroke="#fff" stroke-width="1"/>
<line x1="1597.6" y1="1607.8" x2="2163.7" y2="1607.8" stroke="#fff" stroke-width="1"/>
<line x1="1597.6" y1="1637.2" x2="2163.7" y2="1637.2" stroke="#fff" stroke-width="1"/>
<line x1="1597.6" y1="1666.8" x2="2163.7" y2="1666.8" stroke="#fff" stroke-width="1"/>
<line x1="1597.6" y1="1696.2" x2="2163.7" y2="1696.2" stroke="#fff" stroke-width="1"/>
<line x1="1597.6" y1="1725.8" x2="2163.7" y2="1725.8" stroke="#fff" stroke-width="1"/>
<line x1="1597.6" y1="1755.2" x2="2163.7" y2="1755.2" stroke="#fff" stroke-width="1"/>
<line x1="1597.6" y1="1784.8" x2="2163.7" y2="1784.8" stroke="#fff" stroke-width="1"/>
<line x1="1597.6" y1="1814.2" x2="2163.7" y2="1814.2" stroke="#fff" stroke-width="1"/>
<line x1="1597.6" y1="1843.8" x2="2163.7" y2="1843.8" stroke="#fff" stroke-width="1"/>
<line x1="1597.6" y1="1873.2" x2="2163.7" y2="1873.2" stroke="#fff" stroke-width="1"/>
<line x1="1597.6" y1="1902.8" x2="2163.7" y2="1902.8" stroke="#fff" stroke-width="1"/>
<line x1="1597.6" y1="1932.2" x2="2163.7" y2="1932.2" stroke="#fff" stroke-width="1"/>
<rect x="1601.5" y="1386.5" width="51" height="29.9" fill="#abe6fe"/>
<rect x="1652.2" y="1386.5" width="51" height="29.9" fill="#7dd8fe"/>
<rect x="1702.8" y="1386.5" width="51" height="29.9" fill="#abe6fe"/>
<rect x="1753.5" y="1386.5" width="51" height="29.9" fill="#5dcffe"/>
<rect x="1804.1" y="1386.5" width="51" height="29.9" fill="#daf4ff"/>
<rect x="1854.8" y="1386.5" width="51" height="29.9" fill="#93dffe"/>
<rect x="1905.4" y="1386.5" width="51" height="29.9" fill="#eefaff"/>
<rect x="1956" y="1386.5" width="51" height="29.9" fill="#72d5fe"/>
<rect x="2006.7" y="1386.5" width="51" height="29.9" fill="#8bddfe"/>
<rect x="2057.3" y="1386.5" width="51" height="29.9" fill="#a2e3fe"/>
<rect x="2108" y="1386.5" width="51" height="29.9" fill="#e56b5a"/>
<rect x="1601.5" y="1416" width="51" height="29.9" fill="#e56b5a"/>
<rect x="1652.2" y="1416" width="51" height="29.9" fill="#77d7fe"/>
<rect x="1702.8" y="1416" width="51" height="29.9" fill="#c8efff"/>
<rect x="1753.5" y="1416" width="51" height="29.9" fill="#f2b5ac"/>
<rect x="1804.1" y="1416" width="51" height="29.9" fill="#93dffe"/>
<rect x="1854.8" y="1416" width="51" height="29.9" fill="#d2f2ff"/>
<rect x="1905.4" y="1416" width="51" height="29.9" fill="#eefaff"/>
<rect x="1956" y="1416" width="51" height="29.9" fill="#a8e5fe"/>
<rect x="2006.7" y="1416" width="51" height="29.9" fill="#c4eeff"/>
<rect x="2057.3" y="1416" width="51" height="29.9" fill="#62d1fe"/>
<rect x="2108" y="1416" width="51" height="29.9" fill="#f3bbb3"/>
<rect x="1601.5" y="1445.5" width="51" height="29.9" fill="#eb8a7d"/>
<rect x="1652.2" y="1445.5" width="51" height="29.9" fill="#efa095"/>
<rect x="1702.8" y="1445.5" width="51" height="29.9" fill="#efa095"/>
<rect x="1753.5" y="1445.5" width="51" height="29.9" fill="#f3b8af"/>
<rect x="1804.1" y="1445.5" width="51" height="29.9" fill="#e56b5a"/>
<rect x="1854.8" y="1445.5" width="51" height="29.9" fill="#ea887a"/>
<rect x="1905.4" y="1445.5" width="51" height="29.9" fill="#f9dbd7"/>
<rect x="1956" y="1445.5" width="51" height="29.9" fill="#ec9386"/>
<rect x="2006.7" y="1445.5" width="51" height="29.9" fill="#e56958"/>
<rect x="2057.3" y="1445.5" width="51" height="29.9" fill="#e77363"/>
<rect x="2108" y="1445.5" width="51" height="29.9" fill="#5dcffe"/>
<rect x="1601.5" y="1475" width="51" height="29.9" fill="#f5c4bd"/>
<rect x="1652.2" y="1475" width="51" height="29.9" fill="#e56958"/>
<rect x="1702.8" y="1475" width="51" height="29.9" fill="#fbe6e4"/>
<rect x="1753.5" y="1475" width="51" height="29.9" fill="#f1afa5"/>
<rect x="1804.1" y="1475" width="51" height="29.9" fill="#efa69c"/>
<rect x="1854.8" y="1475" width="51" height="29.9" fill="#ed988c"/>
<rect x="1905.4" y="1475" width="51" height="29.9" fill="#c1edff"/>
<rect x="1956" y="1475" width="51" height="29.9" fill="#efa398"/>
<rect x="2006.7" y="1475" width="51" height="29.9" fill="#f2b5ac"/>
<rect x="2057.3" y="1475" width="51" height="29.9" fill="#f1afa5"/>
<rect x="2108" y="1475" width="51" height="29.9" fill="#5dcffe"/>
<rect x="1601.5" y="1504.5" width="51" height="29.9" fill="#ea887a"/>
<rect x="1652.2" y="1504.5" width="51" height="29.9" fill="#f6cac4"/>
<rect x="1702.8" y="1504.5" width="51" height="29.9" fill="#f4beb6"/>
<rect x="1753.5" y="1504.5" width="51" height="29.9" fill="#f8d8d3"/>
<rect x="1804.1" y="1504.5" width="51" height="29.9" fill="#e66e5d"/>
<rect x="1854.8" y="1504.5" width="51" height="29.9" fill="#f4beb6"/>
<rect x="1905.4" y="1504.5" width="51" height="29.9" fill="#5dcffe"/>
<rect x="1956" y="1504.5" width="51" height="29.9" fill="#e66e5d"/>
<rect x="2006.7" y="1504.5" width="51" height="29.9" fill="#e66e5d"/>
<rect x="2057.3" y="1504.5" width="51" height="29.9" fill="#e56b5a"/>
<rect x="2108" y="1504.5" width="51" height="29.9" fill="#5dcffe"/>
<rect x="1601.5" y="1534" width="51" height="29.9" fill="#5dcffe"/>
<rect x="1652.2" y="1534" width="51" height="29.9" fill="#65d1fe"/>
<rect x="1702.8" y="1534" width="51" height="29.9" fill="#67d2fe"/>
<rect x="1753.5" y="1534" width="51" height="29.9" fill="#b1e8ff"/>
<rect x="1804.1" y="1534" width="51" height="29.9" fill="#82dafe"/>
<rect x="1854.8" y="1534" width="51" height="29.9" fill="#e56958"/>
<rect x="1905.4" y="1534" width="51" height="29.9" fill="#8eddfe"/>
<rect x="1956" y="1534" width="51" height="29.9" fill="#62d1fe"/>
<rect x="2006.7" y="1534" width="51" height="29.9" fill="#67d2fe"/>
<rect x="2057.3" y="1534" width="51" height="29.9" fill="#6ad3fe"/>
<rect x="2108" y="1534" width="51" height="29.9" fill="#6ad3fe"/>
<rect x="1601.5" y="1563.5" width="51" height="29.9" fill="#e56958"/>
<rect x="1652.2" y="1563.5" width="51" height="29.9" fill="#62d1fe"/>
<rect x="1702.8" y="1563.5" width="51" height="29.9" fill="#ee9e92"/>
<rect x="1753.5" y="1563.5" width="51" height="29.9" fill="#e98071"/>
<rect x="1804.1" y="1563.5" width="51" height="29.9" fill="#ffffff"/>
<rect x="1854.8" y="1563.5" width="51" height="29.9" fill="#f1afa5"/>
<rect x="1905.4" y="1563.5" width="51" height="29.9" fill="#e56958"/>
<rect x="1956" y="1563.5" width="51" height="29.9" fill="#93dffe"/>
<rect x="2006.7" y="1563.5" width="51" height="29.9" fill="#f8d4cf"/>
<rect x="2057.3" y="1563.5" width="51" height="29.9" fill="#fcefed"/>
<rect x="2108" y="1563.5" width="51" height="29.9" fill="#a8e5fe"/>
<rect x="1601.5" y="1593" width="51" height="29.9" fill="#c1edff"/>
<rect x="1652.2" y="1593" width="51" height="29.9" fill="#6fd4fe"/>
<rect x="1702.8" y="1593" width="51" height="29.9" fill="#e1f6ff"/>
<rect x="1753.5" y="1593" width="51" height="29.9" fill="#e1f6ff"/>
<rect x="1804.1" y="1593" width="51" height="29.9" fill="#80d9fe"/>
<rect x="1854.8" y="1593" width="51" height="29.9" fill="#a2e3fe"/>
<rect x="1905.4" y="1593" width="51" height="29.9" fill="#f8d4cf"/>
<rect x="1956" y="1593" width="51" height="29.9" fill="#60d0fe"/>
<rect x="2006.7" y="1593" width="51" height="29.9" fill="#daf4ff"/>
<rect x="2057.3" y="1593" width="51" height="29.9" fill="#80d9fe"/>
<rect x="2108" y="1593" width="51" height="29.9" fill="#e56b5a"/>
<rect x="1601.5" y="1622.5" width="51" height="29.9" fill="#ee9b8f"/>
<rect x="1652.2" y="1622.5" width="51" height="29.9" fill="#ee9b8f"/>
<rect x="1702.8" y="1622.5" width="51" height="29.9" fill="#f8d4cf"/>
<rect x="1753.5" y="1622.5" width="51" height="29.9" fill="#fbeae8"/>
<rect x="1804.1" y="1622.5" width="51" height="29.9" fill="#ea887a"/>
<rect x="1854.8" y="1622.5" width="51" height="29.9" fill="#f2b2a9"/>
<rect x="1905.4" y="1622.5" width="51" height="29.9" fill="#60d0fe"/>
<rect x="1956" y="1622.5" width="51" height="29.9" fill="#e56958"/>
<rect x="2006.7" y="1622.5" width="51" height="29.9" fill="#eb8a7d"/>
<rect x="2057.3" y="1622.5" width="51" height="29.9" fill="#ed9589"/>
<rect x="2108" y="1622.5" width="51" height="29.9" fill="#ed9589"/>
<rect x="1601.5" y="1652" width="51" height="29.9" fill="#ee9e92"/>
<rect x="1652.2" y="1652" width="51" height="29.9" fill="#f7d1cb"/>
<rect x="1702.8" y="1652" width="51" height="29.9" fill="#f8d4cf"/>
<rect x="1753.5" y="1652" width="51" height="29.9" fill="#60d0fe"/>
<rect x="1804.1" y="1652" width="51" height="29.9" fill="#f0a99f"/>
<rect x="1854.8" y="1652" width="51" height="29.9" fill="#e1f6ff"/>
<rect x="1905.4" y="1652" width="51" height="29.9" fill="#f4beb6"/>
<rect x="1956" y="1652" width="51" height="29.9" fill="#fbeae8"/>
<rect x="2006.7" y="1652" width="51" height="29.9" fill="#fdf3f2"/>
<rect x="2057.3" y="1652" width="51" height="29.9" fill="#e56958"/>
<rect x="2108" y="1652" width="51" height="29.9" fill="#7dd8fe"/>
<rect x="1601.5" y="1681.5" width="51" height="29.9" fill="#93dffe"/>
<rect x="1652.2" y="1681.5" width="51" height="29.9" fill="#6fd4fe"/>
<rect x="1702.8" y="1681.5" width="51" height="29.9" fill="#c4eeff"/>
<rect x="1753.5" y="1681.5" width="51" height="29.9" fill="#e1f6ff"/>
<rect x="1804.1" y="1681.5" width="51" height="29.9" fill="#75d6fe"/>
<rect x="1854.8" y="1681.5" width="51" height="29.9" fill="#bbebff"/>
<rect x="1905.4" y="1681.5" width="51" height="29.9" fill="#fcefed"/>
<rect x="1956" y="1681.5" width="51" height="29.9" fill="#60d0fe"/>
<rect x="2006.7" y="1681.5" width="51" height="29.9" fill="#bbebff"/>
<rect x="2057.3" y="1681.5" width="51" height="29.9" fill="#62d1fe"/>
<rect x="2108" y="1681.5" width="51" height="29.9" fill="#e56b5a"/>
<rect x="1601.5" y="1711" width="51" height="29.9" fill="#f9dfdb"/>
<rect x="1652.2" y="1711" width="51" height="29.9" fill="#eefaff"/>
<rect x="1702.8" y="1711" width="51" height="29.9" fill="#fdf3f2"/>
<rect x="1753.5" y="1711" width="51" height="29.9" fill="#e77363"/>
<rect x="1804.1" y="1711" width="51" height="29.9" fill="#62d1fe"/>
<rect x="1854.8" y="1711" width="51" height="29.9" fill="#f9dfdb"/>
<rect x="1905.4" y="1711" width="51" height="29.9" fill="#e56958"/>
<rect x="1956" y="1711" width="51" height="29.9" fill="#beecff"/>
<rect x="2006.7" y="1711" width="51" height="29.9" fill="#beecff"/>
<rect x="2057.3" y="1711" width="51" height="29.9" fill="#77d7fe"/>
<rect x="2108" y="1711" width="51" height="29.9" fill="#f2b2a9"/>
<rect x="1601.5" y="1740.5" width="51" height="29.9" fill="#daf4ff"/>
<rect x="1652.2" y="1740.5" width="51" height="29.9" fill="#d2f2ff"/>
<rect x="1702.8" y="1740.5" width="51" height="29.9" fill="#ffffff"/>
<rect x="1753.5" y="1740.5" width="51" height="29.9" fill="#ea887a"/>
<rect x="1804.1" y="1740.5" width="51" height="29.9" fill="#62d1fe"/>
<rect x="1854.8" y="1740.5" width="51" height="29.9" fill="#f9dfdb"/>
<rect x="1905.4" y="1740.5" width="51" height="29.9" fill="#bbebff"/>
<rect x="1956" y="1740.5" width="51" height="29.9" fill="#abe6fe"/>
<rect x="2006.7" y="1740.5" width="51" height="29.9" fill="#e56958"/>
<rect x="2057.3" y="1740.5" width="51" height="29.9" fill="#fcefed"/>
<rect x="2108" y="1740.5" width="51" height="29.9" fill="#abe6fe"/>
<rect x="1601.5" y="1770" width="51" height="29.9" fill="#f5c7c1"/>
<rect x="1652.2" y="1770" width="51" height="29.9" fill="#daf4ff"/>
<rect x="1702.8" y="1770" width="51" height="29.9" fill="#d2f2ff"/>
<rect x="1753.5" y="1770" width="51" height="29.9" fill="#e56958"/>
<rect x="1804.1" y="1770" width="51" height="29.9" fill="#ffffff"/>
<rect x="1854.8" y="1770" width="51" height="29.9" fill="#f9dfdb"/>
<rect x="1905.4" y="1770" width="51" height="29.9" fill="#99e1fe"/>
<rect x="1956" y="1770" width="51" height="29.9" fill="#62d1fe"/>
<rect x="2006.7" y="1770" width="51" height="29.9" fill="#e5f7ff"/>
<rect x="2057.3" y="1770" width="51" height="29.9" fill="#e5f7ff"/>
<rect x="2108" y="1770" width="51" height="29.9" fill="#6fd4fe"/>
<rect x="1601.5" y="1799.5" width="51" height="29.9" fill="#eefaff"/>
<rect x="1652.2" y="1799.5" width="51" height="29.9" fill="#96e0fe"/>
<rect x="1702.8" y="1799.5" width="51" height="29.9" fill="#bbebff"/>
<rect x="1753.5" y="1799.5" width="51" height="29.9" fill="#e56958"/>
<rect x="1804.1" y="1799.5" width="51" height="29.9" fill="#62d1fe"/>
<rect x="1854.8" y="1799.5" width="51" height="29.9" fill="#e1f6ff"/>
<rect x="1905.4" y="1799.5" width="51" height="29.9" fill="#daf4ff"/>
<rect x="1956" y="1799.5" width="51" height="29.9" fill="#a2e3fe"/>
<rect x="2006.7" y="1799.5" width="51" height="29.9" fill="#eefaff"/>
<rect x="2057.3" y="1799.5" width="51" height="29.9" fill="#a8e5fe"/>
<rect x="2108" y="1799.5" width="51" height="29.9" fill="#f9dfdb"/>
<rect x="1601.5" y="1829" width="51" height="29.9" fill="#b4e9ff"/>
<rect x="1652.2" y="1829" width="51" height="29.9" fill="#6dd4fe"/>
<rect x="1702.8" y="1829" width="51" height="29.9" fill="#e5f7ff"/>
<rect x="1753.5" y="1829" width="51" height="29.9" fill="#e56958"/>
<rect x="1804.1" y="1829" width="51" height="29.9" fill="#f8d4cf"/>
<rect x="1854.8" y="1829" width="51" height="29.9" fill="#ffffff"/>
<rect x="1905.4" y="1829" width="51" height="29.9" fill="#6fd4fe"/>
<rect x="1956" y="1829" width="51" height="29.9" fill="#62d1fe"/>
<rect x="2006.7" y="1829" width="51" height="29.9" fill="#f8d8d3"/>
<rect x="2057.3" y="1829" width="51" height="29.9" fill="#7ad8fe"/>
<rect x="2108" y="1829" width="51" height="29.9" fill="#b7eaff"/>
<rect x="1601.5" y="1858.5" width="51" height="29.9" fill="#6dd4fe"/>
<rect x="1652.2" y="1858.5" width="51" height="29.9" fill="#c8efff"/>
<rect x="1702.8" y="1858.5" width="51" height="29.9" fill="#ddf5ff"/>
<rect x="1753.5" y="1858.5" width="51" height="29.9" fill="#e56958"/>
<rect x="1804.1" y="1858.5" width="51" height="29.9" fill="#93dffe"/>
<rect x="1854.8" y="1858.5" width="51" height="29.9" fill="#f5c7c1"/>
<rect x="1905.4" y="1858.5" width="51" height="29.9" fill="#f3b8af"/>
<rect x="1956" y="1858.5" width="51" height="29.9" fill="#62d1fe"/>
<rect x="2006.7" y="1858.5" width="51" height="29.9" fill="#e5f7ff"/>
<rect x="2057.3" y="1858.5" width="51" height="29.9" fill="#7ad8fe"/>
<rect x="2108" y="1858.5" width="51" height="29.9" fill="#f6cec8"/>
<rect x="1601.5" y="1888" width="51" height="29.9" fill="#c4eeff"/>
<rect x="1652.2" y="1888" width="51" height="29.9" fill="#8eddfe"/>
<rect x="1702.8" y="1888" width="51" height="29.9" fill="#f3bbb3"/>
<rect x="1753.5" y="1888" width="51" height="29.9" fill="#e56958"/>
<rect x="1804.1" y="1888" width="51" height="29.9" fill="#abe6fe"/>
<rect x="1854.8" y="1888" width="51" height="29.9" fill="#efa69c"/>
<rect x="1905.4" y="1888" width="51" height="29.9" fill="#f8fdff"/>
<rect x="1956" y="1888" width="51" height="29.9" fill="#72d5fe"/>
<rect x="2006.7" y="1888" width="51" height="29.9" fill="#f3bbb3"/>
<rect x="2057.3" y="1888" width="51" height="29.9" fill="#62d1fe"/>
<rect x="2108" y="1888" width="51" height="29.9" fill="#ee9e92"/>
<rect x="1601.5" y="1917.5" width="51" height="29.9" fill="#fef8f7"/>
<rect x="1652.2" y="1917.5" width="51" height="29.9" fill="#ddf5ff"/>
<rect x="1702.8" y="1917.5" width="51" height="29.9" fill="#f8d8d3"/>
<rect x="1753.5" y="1917.5" width="51" height="29.9" fill="#62d1fe"/>
<rect x="1804.1" y="1917.5" width="51" height="29.9" fill="#f3bbb3"/>
<rect x="1854.8" y="1917.5" width="51" height="29.9" fill="#eefaff"/>
<rect x="1905.4" y="1917.5" width="51" height="29.9" fill="#eb8a7d"/>
<rect x="1956" y="1917.5" width="51" height="29.9" fill="#cff1ff"/>
<rect x="2006.7" y="1917.5" width="51" height="29.9" fill="#72d5fe"/>
<rect x="2057.3" y="1917.5" width="51" height="29.9" fill="#e56958"/>
<rect x="2108" y="1917.5" width="51" height="29.9" fill="#f4c1b9"/>
<line x1="1592.8" y1="1401.2" x2="1597.6" y2="1401.2" stroke="#333" stroke-width="1.2"/>
<text x="1590.5" y="1406" font-size="18.7" text-anchor="end" fill="#1a1a1a">Anti−apoptosis</text>
<line x1="1592.8" y1="1430.8" x2="1597.6" y2="1430.8" stroke="#333" stroke-width="1.2"/>
<text x="1590.5" y="1435.5" font-size="18.7" text-anchor="end" fill="#1a1a1a">Pro−apoptosis</text>
<line x1="1592.8" y1="1460.2" x2="1597.6" y2="1460.2" stroke="#333" stroke-width="1.2"/>
<text x="1590.5" y="1465" font-size="18.7" text-anchor="end" fill="#1a1a1a">Fatty acid metabolism</text>
<line x1="1592.8" y1="1489.8" x2="1597.6" y2="1489.8" stroke="#333" stroke-width="1.2"/>
<text x="1590.5" y="1494.5" font-size="18.7" text-anchor="end" fill="#1a1a1a">Glycolysis</text>
<line x1="1592.8" y1="1519.2" x2="1597.6" y2="1519.2" stroke="#333" stroke-width="1.2"/>
<text x="1590.5" y="1524" font-size="18.7" text-anchor="end" fill="#1a1a1a">Oxidative phosphorylation</text>
<line x1="1592.8" y1="1548.8" x2="1597.6" y2="1548.8" stroke="#333" stroke-width="1.2"/>
<text x="1590.5" y="1553.5" font-size="18.7" text-anchor="end" fill="#1a1a1a">IFN Response</text>
<line x1="1592.8" y1="1578.2" x2="1597.6" y2="1578.2" stroke="#333" stroke-width="1.2"/>
<text x="1590.5" y="1583" font-size="18.7" text-anchor="end" fill="#1a1a1a">Adhesion</text>
<line x1="1592.8" y1="1607.8" x2="1597.6" y2="1607.8" stroke="#333" stroke-width="1.2"/>
<text x="1590.5" y="1612.5" font-size="18.7" text-anchor="end" fill="#1a1a1a">MAPK signaling</text>
<line x1="1592.8" y1="1637.2" x2="1597.6" y2="1637.2" stroke="#333" stroke-width="1.2"/>
<text x="1590.5" y="1642" font-size="18.7" text-anchor="end" fill="#1a1a1a">Stress response</text>
<line x1="1592.8" y1="1666.8" x2="1597.6" y2="1666.8" stroke="#333" stroke-width="1.2"/>
<text x="1590.5" y="1671.5" font-size="18.7" text-anchor="end" fill="#1a1a1a">NFkB signaling</text>
<line x1="1592.8" y1="1696.2" x2="1597.6" y2="1696.2" stroke="#333" stroke-width="1.2"/>
<text x="1590.5" y="1701" font-size="18.7" text-anchor="end" fill="#1a1a1a">Anergy</text>
<line x1="1592.8" y1="1725.8" x2="1597.6" y2="1725.8" stroke="#333" stroke-width="1.2"/>
<text x="1590.5" y="1730.5" font-size="18.7" text-anchor="end" fill="#1a1a1a">Senescence</text>
<line x1="1592.8" y1="1755.2" x2="1597.6" y2="1755.2" stroke="#333" stroke-width="1.2"/>
<text x="1590.5" y="1751.5" font-size="18.7" text-anchor="end" fill="#1a1a1a">Chemokine/chemokine</text>
<text x="1590.5" y="1769.8" font-size="18.7" text-anchor="end" fill="#1a1a1a">receptor</text>
<line x1="1592.8" y1="1784.8" x2="1597.6" y2="1784.8" stroke="#333" stroke-width="1.2"/>
<text x="1590.5" y="1789.5" font-size="18.7" text-anchor="end" fill="#1a1a1a">Cytokine/cytokine receptor</text>
<line x1="1592.8" y1="1814.2" x2="1597.6" y2="1814.2" stroke="#333" stroke-width="1.2"/>
<text x="1590.5" y="1819" font-size="18.7" text-anchor="end" fill="#1a1a1a">Cytotoxicity</text>
<line x1="1592.8" y1="1843.8" x2="1597.6" y2="1843.8" stroke="#333" stroke-width="1.2"/>
<text x="1590.5" y="1848.5" font-size="18.7" text-anchor="end" fill="#1a1a1a">TCR signaling</text>
<line x1="1592.8" y1="1873.2" x2="1597.6" y2="1873.2" stroke="#333" stroke-width="1.2"/>
<text x="1590.5" y="1878" font-size="18.7" text-anchor="end" fill="#1a1a1a">Exhaustion</text>
<line x1="1592.8" y1="1902.8" x2="1597.6" y2="1902.8" stroke="#333" stroke-width="1.2"/>
<text x="1590.5" y="1907.5" font-size="18.7" text-anchor="end" fill="#1a1a1a">Activation/effector function</text>
<line x1="1592.8" y1="1932.2" x2="1597.6" y2="1932.2" stroke="#333" stroke-width="1.2"/>
<text x="1590.5" y="1937" font-size="18.7" text-anchor="end" fill="#1a1a1a">Naive</text>
<line x1="1626.8" y1="1949" x2="1626.8" y2="1953.5" stroke="#333" stroke-width="1.2"/>
<text x="1626.8" y="1976" font-size="25" text-anchor="middle" fill="#1a1a1a">T<tspan font-size="15.5" dy="9.3" dx="1.5">GZK</tspan></text>
<line x1="1677.5" y1="1949" x2="1677.5" y2="1953.5" stroke="#333" stroke-width="1.2"/>
<text x="1677.5" y="1976" font-size="25" text-anchor="middle" fill="#1a1a1a">T<tspan font-size="15.5" dy="9.3" dx="1.5">MS</tspan></text>
<line x1="1728.1" y1="1949" x2="1728.1" y2="1953.5" stroke="#333" stroke-width="1.2"/>
<text x="1728.1" y="1976" font-size="25" text-anchor="middle" fill="#1a1a1a">T<tspan font-size="15.5" dy="9.3" dx="1.5">UND</tspan></text>
<line x1="1778.8" y1="1949" x2="1778.8" y2="1953.5" stroke="#333" stroke-width="1.2"/>
<text x="1778.8" y="1976" font-size="25" text-anchor="middle" fill="#1a1a1a">T<tspan font-size="15.5" dy="9.3" dx="1.5">EX</tspan></text>
<line x1="1829.4" y1="1949" x2="1829.4" y2="1953.5" stroke="#333" stroke-width="1.2"/>
<text x="1829.4" y="1976" font-size="25" text-anchor="middle" fill="#1a1a1a">T<tspan font-size="15.5" dy="9.3" dx="1.5">IL-2</tspan></text>
<line x1="1880.1" y1="1949" x2="1880.1" y2="1953.5" stroke="#333" stroke-width="1.2"/>
<text x="1880.1" y="1976" font-size="25" text-anchor="middle" fill="#1a1a1a">T<tspan font-size="15.5" dy="9.3" dx="1.5">ISG</tspan></text>
<line x1="1930.7" y1="1949" x2="1930.7" y2="1953.5" stroke="#333" stroke-width="1.2"/>
<text x="1930.7" y="1976" font-size="25" text-anchor="middle" fill="#1a1a1a">T<tspan font-size="15.5" dy="9.3" dx="1.5">MA</tspan></text>
<line x1="1981.4" y1="1949" x2="1981.4" y2="1953.5" stroke="#333" stroke-width="1.2"/>
<text x="1981.4" y="1976" font-size="25" text-anchor="middle" fill="#1a1a1a">T<tspan font-size="15.5" dy="9.3" dx="1.5">PR</tspan></text>
<line x1="2032" y1="1949" x2="2032" y2="1953.5" stroke="#333" stroke-width="1.2"/>
<text x="2032" y="1976" font-size="25" text-anchor="middle" fill="#1a1a1a">T<tspan font-size="15.5" dy="9.3" dx="1.5">CYT</tspan></text>
<line x1="2082.7" y1="1949" x2="2082.7" y2="1953.5" stroke="#333" stroke-width="1.2"/>
<text x="2082.7" y="1976" font-size="25" text-anchor="middle" fill="#1a1a1a">T<tspan font-size="15.5" dy="9.3" dx="1.5">MI</tspan></text>
<line x1="2133.3" y1="1949" x2="2133.3" y2="1953.5" stroke="#333" stroke-width="1.2"/>
<text x="2133.3" y="1976" font-size="25" text-anchor="middle" fill="#1a1a1a">T<tspan font-size="15.5" dy="9.3" dx="1.5">HS</tspan></text>
<defs><linearGradient id="cb" x1="0" x2="1" y1="0" y2="0"><stop offset="0" stop-color="#5dcffe"/><stop offset="0.1" stop-color="#77d7fe"/><stop offset="0.2" stop-color="#93dffe"/><stop offset="0.3" stop-color="#b1e8ff"/><stop offset="0.4" stop-color="#d2f2ff"/><stop offset="0.5" stop-color="#ffffff"/><stop offset="0.6" stop-color="#f8d4cf"/><stop offset="0.7" stop-color="#f2b5ac"/><stop offset="0.8" stop-color="#ed988c"/><stop offset="0.9" stop-color="#e87d6e"/><stop offset="1" stop-color="#e46452"/></linearGradient></defs>
<rect x="1802.2" y="2045" width="158" height="32" fill="url(#cb)"/>
<text x="1881" y="2036" font-size="22" text-anchor="middle">Avg.exp.scaled</text>
<text transform="translate(1795.4 2087.5) rotate(90)" font-size="18.5">0.00</text>
<line x1="1841.7" y1="2045" x2="1841.7" y2="2051" stroke="#fff" stroke-width="1"/>
<line x1="1841.7" y1="2071" x2="1841.7" y2="2077" stroke="#fff" stroke-width="1"/>
<text transform="translate(1834.9 2087.5) rotate(90)" font-size="18.5">0.25</text>
<line x1="1881.2" y1="2045" x2="1881.2" y2="2051" stroke="#fff" stroke-width="1"/>
<line x1="1881.2" y1="2071" x2="1881.2" y2="2077" stroke="#fff" stroke-width="1"/>
<text transform="translate(1874.4 2087.5) rotate(90)" font-size="18.5">0.50</text>
<line x1="1920.7" y1="2045" x2="1920.7" y2="2051" stroke="#fff" stroke-width="1"/>
<line x1="1920.7" y1="2071" x2="1920.7" y2="2077" stroke="#fff" stroke-width="1"/>
<text transform="translate(1913.9 2087.5) rotate(90)" font-size="18.5">0.75</text>
<text transform="translate(1953.4 2087.5) rotate(90)" font-size="18.5">1.00</text></g>
</svg></body></html>
